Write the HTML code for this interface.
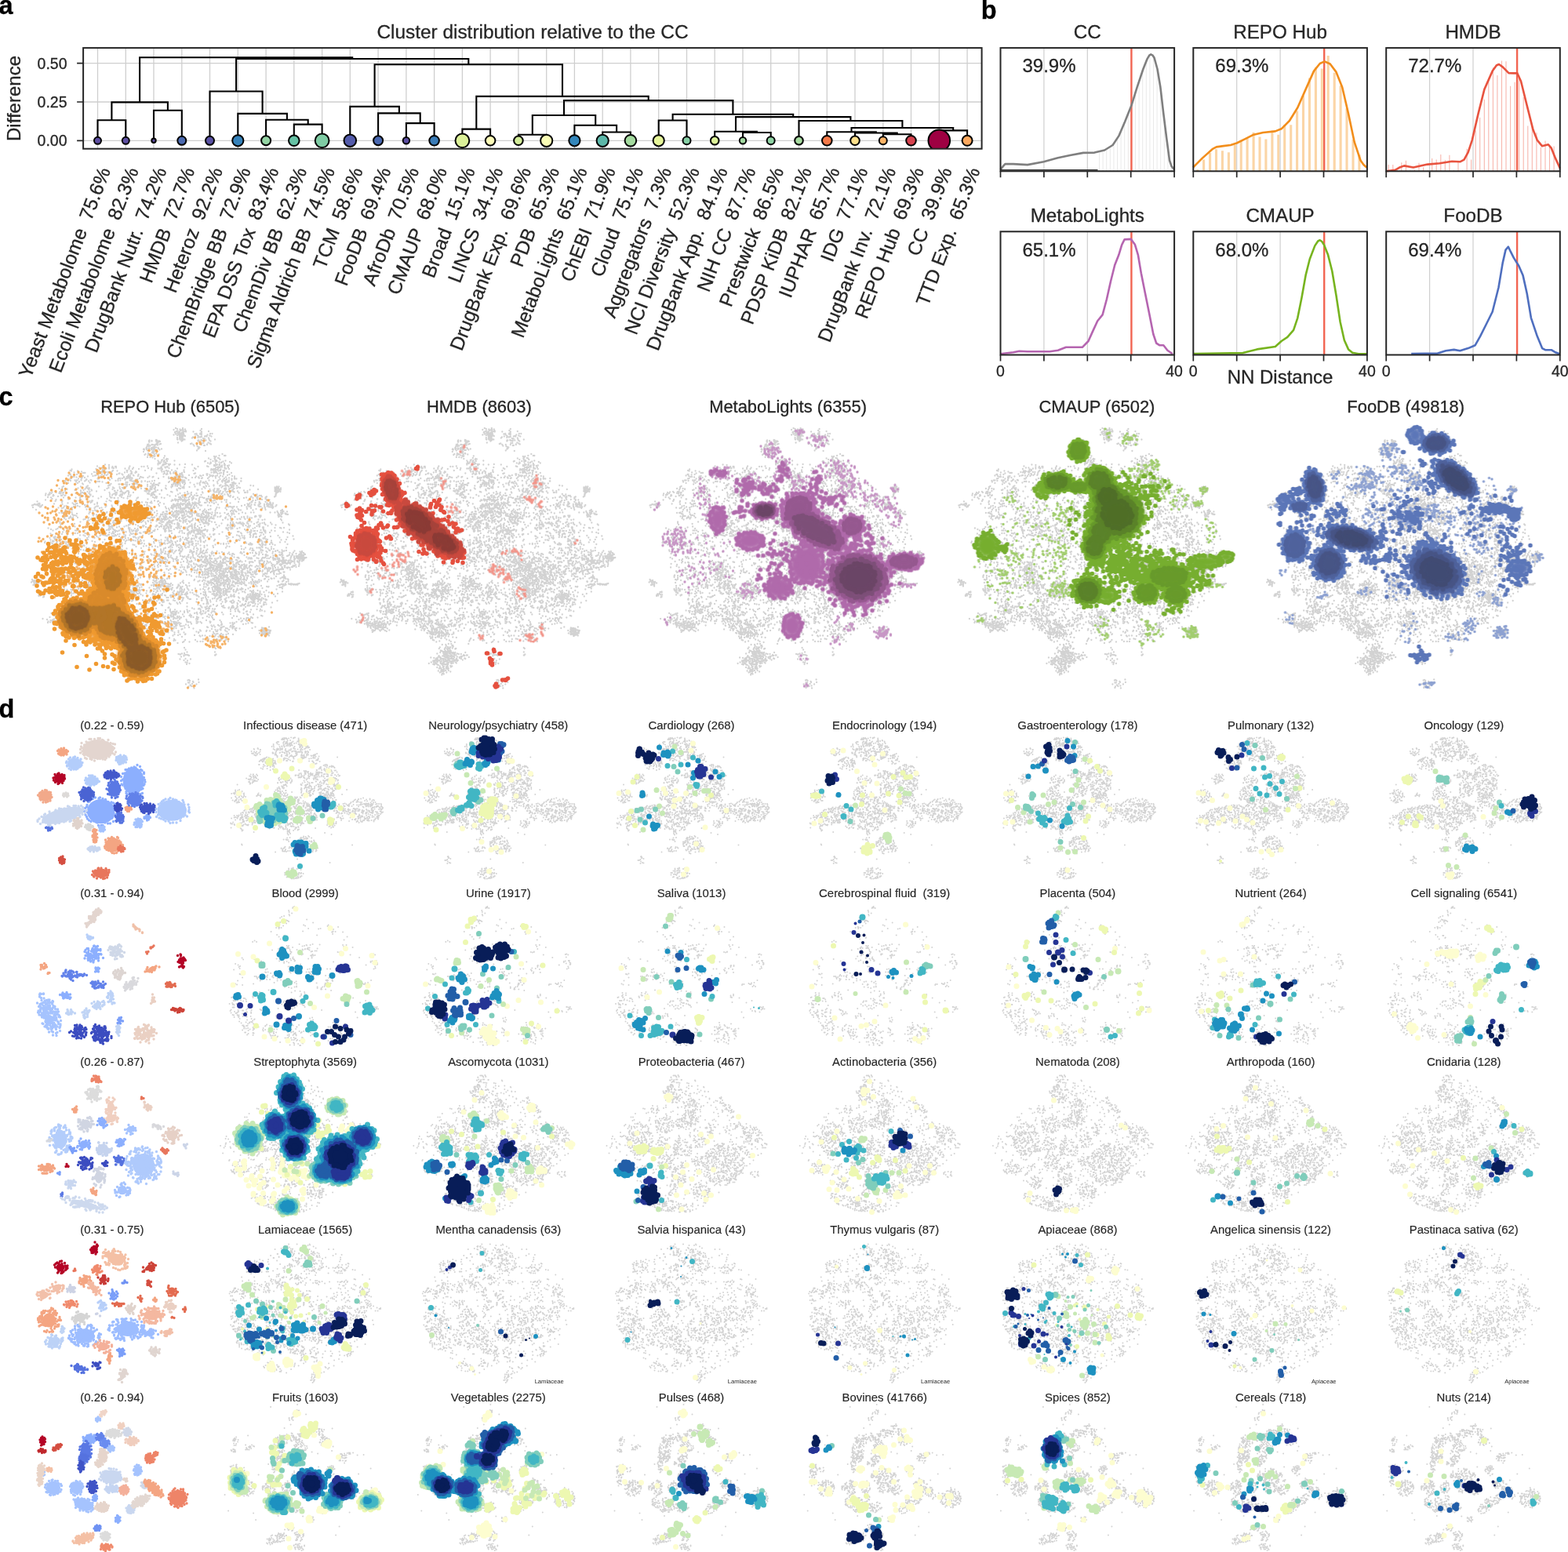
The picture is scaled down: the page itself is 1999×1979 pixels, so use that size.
<!DOCTYPE html>
<html lang="en"><head><meta charset="utf-8"><title>Chemical Checker cluster figure</title>
<style>
html,body{margin:0;padding:0;background:#fff}
body{width:1999px;height:1979px}
svg{display:block}
svg text{font-family:"Liberation Sans", sans-serif}
path{fill:none;stroke-linecap:butt}
.d path{stroke-linecap:round}
</style></head><body>
<svg width="1999" height="1979" viewBox="0 0 1999 1979">
<g id="figure">
<rect width="1999" height="1979" fill="#fff"/>
<g id="panel-a">
<path d="M124.5 61.1V189.7M160.3 61.1V189.7M196 61.1V189.7M231.8 61.1V189.7M267.5 61.1V189.7M303.3 61.1V189.7M339.1 61.1V189.7M374.8 61.1V189.7M410.6 61.1V189.7M446.3 61.1V189.7M482.1 61.1V189.7M517.9 61.1V189.7M553.6 61.1V189.7M589.4 61.1V189.7M625.1 61.1V189.7M660.9 61.1V189.7M696.7 61.1V189.7M732.4 61.1V189.7M768.2 61.1V189.7M803.9 61.1V189.7M839.7 61.1V189.7M875.5 61.1V189.7M911.2 61.1V189.7M947 61.1V189.7M982.7 61.1V189.7M1018.5 61.1V189.7M1054.3 61.1V189.7M1090 61.1V189.7M1125.8 61.1V189.7M1161.5 61.1V189.7M1197.3 61.1V189.7M1233.1 61.1V189.7M106.1 179.3H1251.6M106.1 130H1251.6M106.1 80.7H1251.6" stroke="#cfcfcf" stroke-width="1.3" fill="none"/>
<path d="M124.5 179.3V153.2H160.3V179.3M196 179.3V140.8H231.8V179.3M142.4 153.2V130.4H213.9V140.8M374.8 179.3V158.6H410.6V179.3M339.1 179.3V152.7H392.7V158.6M303.3 179.3V144.9H365.9V152.7M267.5 179.3V116.5H334.6V144.9M517.9 179.3V157.1H553.6V179.3M482.1 179.3V144.4H535.7V157.1M446.3 179.3V135.9H508.9V144.4M589.4 179.3V164.6H625.1V179.3M660.9 179.3V171.8H696.7V179.3M768.2 179.3V168.5H803.9V179.3M732.4 179.3V159.7H786.1V168.5M678.8 171.8V147H759.2V159.7M839.7 179.3V153.5H875.5V179.3M947 179.3V169H982.7V179.3M911.2 179.3V167.7H964.9V169M1125.8 179.3V171.3H1161.5V179.3M1090 179.3V169.5H1143.7V171.3M1054.3 179.3V168.2H1116.8V169.5M1197.3 179.3V166.4H1233.1V179.3M1085.5 168.2V163H1215.2V166.4M1018.5 179.3V154H1150.4V163M938 167.7V149.1H1084.4V154M857.6 153.5V145.7H1011.2V149.1M719 147V128.1H934.4V145.7M607.3 164.6V122.9H826.7V128.1M477.6 135.9V82.3H717V122.9M301.1 116.5V75H597.3V82.3M178.1 130.4V73.2H449.2V75" stroke="#000" stroke-width="2.1" fill="none" stroke-linejoin="miter"/>
<clipPath id="axa"><rect x="106.1" y="61.1" width="1145.5" height="128.6"/></clipPath>
<g clip-path="url(#axa)">
<circle cx="124.5" cy="179.3" r="4.5" fill="#5e4fa2" stroke="#000" stroke-width="2"/>
<circle cx="160.3" cy="179.3" r="4.5" fill="#5e4fa2" stroke="#000" stroke-width="2"/>
<circle cx="196" cy="179.3" r="2.7" fill="#5e4fa2" stroke="#000" stroke-width="2"/>
<circle cx="231.8" cy="179.3" r="5.5" fill="#4b6ab0" stroke="#000" stroke-width="2"/>
<circle cx="267.5" cy="179.3" r="5.5" fill="#5a52a4" stroke="#000" stroke-width="2"/>
<circle cx="303.3" cy="179.3" r="7.1" fill="#3682ba" stroke="#000" stroke-width="2"/>
<circle cx="339.1" cy="179.3" r="6" fill="#94d4a4" stroke="#000" stroke-width="2"/>
<circle cx="374.8" cy="179.3" r="6.8" fill="#66c2a5" stroke="#000" stroke-width="2"/>
<circle cx="410.6" cy="179.3" r="8.9" fill="#7fcca4" stroke="#000" stroke-width="2"/>
<circle cx="446.3" cy="179.3" r="7.8" fill="#545cab" stroke="#000" stroke-width="2"/>
<circle cx="482.1" cy="179.3" r="6" fill="#4968b0" stroke="#000" stroke-width="2"/>
<circle cx="517.9" cy="179.3" r="4.2" fill="#5c4da1" stroke="#000" stroke-width="2"/>
<circle cx="553.6" cy="179.3" r="6.3" fill="#3a7cb8" stroke="#000" stroke-width="2"/>
<circle cx="589.4" cy="179.3" r="8.9" fill="#dcf199" stroke="#000" stroke-width="2"/>
<circle cx="625.1" cy="179.3" r="6.3" fill="#fdfcb8" stroke="#000" stroke-width="2"/>
<circle cx="660.9" cy="179.3" r="5.8" fill="#d3ed9a" stroke="#000" stroke-width="2"/>
<circle cx="696.7" cy="179.3" r="7.6" fill="#fafdb6" stroke="#000" stroke-width="2"/>
<circle cx="732.4" cy="179.3" r="7.1" fill="#3387bc" stroke="#000" stroke-width="2"/>
<circle cx="768.2" cy="179.3" r="7.6" fill="#5cb7a9" stroke="#000" stroke-width="2"/>
<circle cx="803.9" cy="179.3" r="7.3" fill="#a4da9f" stroke="#000" stroke-width="2"/>
<circle cx="839.7" cy="179.3" r="7.1" fill="#e5f499" stroke="#000" stroke-width="2"/>
<circle cx="875.5" cy="179.3" r="5" fill="#86cfa5" stroke="#000" stroke-width="2"/>
<circle cx="911.2" cy="179.3" r="5.3" fill="#ddf299" stroke="#000" stroke-width="2"/>
<circle cx="947" cy="179.3" r="4.2" fill="#a2d9a0" stroke="#000" stroke-width="2"/>
<circle cx="982.7" cy="179.3" r="5" fill="#8fd3a4" stroke="#000" stroke-width="2"/>
<circle cx="1018.5" cy="179.3" r="5.3" fill="#a7dba0" stroke="#000" stroke-width="2"/>
<circle cx="1054.3" cy="179.3" r="6.3" fill="#f57a49" stroke="#000" stroke-width="2"/>
<circle cx="1090" cy="179.3" r="5.8" fill="#fee08b" stroke="#000" stroke-width="2"/>
<circle cx="1125.8" cy="179.3" r="5" fill="#fdb466" stroke="#000" stroke-width="2"/>
<circle cx="1161.5" cy="179.3" r="6.3" fill="#d6424e" stroke="#000" stroke-width="2"/>
<circle cx="1197.3" cy="179.3" r="13.8" fill="#9e0142" stroke="#000" stroke-width="2"/>
<circle cx="1233.1" cy="179.3" r="6.5" fill="#fca85e" stroke="#000" stroke-width="2"/>
</g>
<rect x="106.1" y="61.1" width="1145.5" height="128.6" fill="none" stroke="#262626" stroke-width="2"/>
<text x="85.5" y="186.3" font-size="19.5" text-anchor="end" fill="#262626" stroke-width=".3" stroke="#262626">0.00</text>
<text x="85.5" y="137" font-size="19.5" text-anchor="end" fill="#262626" stroke-width=".3" stroke="#262626">0.25</text>
<text x="85.5" y="87.7" font-size="19.5" text-anchor="end" fill="#262626" stroke-width=".3" stroke="#262626">0.50</text>
<path d="M98.1 179.3H106.1M98.1 130H106.1M98.1 80.7H106.1" stroke="#262626" stroke-width="1.7" fill="none"/>
<text x="679" y="48.7" font-size="24.4" text-anchor="middle" fill="#262626" stroke-width=".3" stroke="#262626">Cluster distribution relative to the CC</text>
<text transform="translate(25.5 125.5) rotate(-90)" font-size="24" text-anchor="middle" fill="#262626" stroke="#262626" stroke-width=".3">Difference</text>
<text transform="translate(123.5 210.5) rotate(-69)" font-size="24.5" text-anchor="end" dy="19" fill="#262626" stroke="#262626" stroke-width=".3">Yeast Metabolome  75.6%</text>
<text transform="translate(159.3 210.5) rotate(-69)" font-size="24.5" text-anchor="end" dy="19" fill="#262626" stroke="#262626" stroke-width=".3">Ecoli Metabolome  82.3%</text>
<text transform="translate(195 210.5) rotate(-69)" font-size="24.5" text-anchor="end" dy="19" fill="#262626" stroke="#262626" stroke-width=".3">DrugBank Nutr.  74.2%</text>
<text transform="translate(230.8 210.5) rotate(-69)" font-size="24.5" text-anchor="end" dy="19" fill="#262626" stroke="#262626" stroke-width=".3">HMDB  72.7%</text>
<text transform="translate(266.5 210.5) rotate(-69)" font-size="24.5" text-anchor="end" dy="19" fill="#262626" stroke="#262626" stroke-width=".3">Heteroz  92.2%</text>
<text transform="translate(302.3 210.5) rotate(-69)" font-size="24.5" text-anchor="end" dy="19" fill="#262626" stroke="#262626" stroke-width=".3">ChemBridge BB  72.9%</text>
<text transform="translate(338.1 210.5) rotate(-69)" font-size="24.5" text-anchor="end" dy="19" fill="#262626" stroke="#262626" stroke-width=".3">EPA DSS Tox  83.4%</text>
<text transform="translate(373.8 210.5) rotate(-69)" font-size="24.5" text-anchor="end" dy="19" fill="#262626" stroke="#262626" stroke-width=".3">ChemDiv BB  62.3%</text>
<text transform="translate(409.6 210.5) rotate(-69)" font-size="24.5" text-anchor="end" dy="19" fill="#262626" stroke="#262626" stroke-width=".3">Sigma Aldrich BB  74.5%</text>
<text transform="translate(445.3 210.5) rotate(-69)" font-size="24.5" text-anchor="end" dy="19" fill="#262626" stroke="#262626" stroke-width=".3">TCM  58.6%</text>
<text transform="translate(481.1 210.5) rotate(-69)" font-size="24.5" text-anchor="end" dy="19" fill="#262626" stroke="#262626" stroke-width=".3">FooDB  69.4%</text>
<text transform="translate(516.9 210.5) rotate(-69)" font-size="24.5" text-anchor="end" dy="19" fill="#262626" stroke="#262626" stroke-width=".3">AfroDb  70.5%</text>
<text transform="translate(552.6 210.5) rotate(-69)" font-size="24.5" text-anchor="end" dy="19" fill="#262626" stroke="#262626" stroke-width=".3">CMAUP  68.0%</text>
<text transform="translate(588.4 210.5) rotate(-69)" font-size="24.5" text-anchor="end" dy="19" fill="#262626" stroke="#262626" stroke-width=".3">Broad  15.1%</text>
<text transform="translate(624.1 210.5) rotate(-69)" font-size="24.5" text-anchor="end" dy="19" fill="#262626" stroke="#262626" stroke-width=".3">LINCS  34.1%</text>
<text transform="translate(659.9 210.5) rotate(-69)" font-size="24.5" text-anchor="end" dy="19" fill="#262626" stroke="#262626" stroke-width=".3">DrugBank Exp.  69.6%</text>
<text transform="translate(695.7 210.5) rotate(-69)" font-size="24.5" text-anchor="end" dy="19" fill="#262626" stroke="#262626" stroke-width=".3">PDB  65.3%</text>
<text transform="translate(731.4 210.5) rotate(-69)" font-size="24.5" text-anchor="end" dy="19" fill="#262626" stroke="#262626" stroke-width=".3">MetaboLights  65.1%</text>
<text transform="translate(767.2 210.5) rotate(-69)" font-size="24.5" text-anchor="end" dy="19" fill="#262626" stroke="#262626" stroke-width=".3">ChEBI  71.9%</text>
<text transform="translate(802.9 210.5) rotate(-69)" font-size="24.5" text-anchor="end" dy="19" fill="#262626" stroke="#262626" stroke-width=".3">Cloud  75.1%</text>
<text transform="translate(838.7 210.5) rotate(-69)" font-size="24.5" text-anchor="end" dy="19" fill="#262626" stroke="#262626" stroke-width=".3">Aggregators  7.3%</text>
<text transform="translate(874.5 210.5) rotate(-69)" font-size="24.5" text-anchor="end" dy="19" fill="#262626" stroke="#262626" stroke-width=".3">NCI Diversity  52.3%</text>
<text transform="translate(910.2 210.5) rotate(-69)" font-size="24.5" text-anchor="end" dy="19" fill="#262626" stroke="#262626" stroke-width=".3">DrugBank App.  84.1%</text>
<text transform="translate(946 210.5) rotate(-69)" font-size="24.5" text-anchor="end" dy="19" fill="#262626" stroke="#262626" stroke-width=".3">NIH CC  87.7%</text>
<text transform="translate(981.7 210.5) rotate(-69)" font-size="24.5" text-anchor="end" dy="19" fill="#262626" stroke="#262626" stroke-width=".3">Prestwick  86.5%</text>
<text transform="translate(1017.5 210.5) rotate(-69)" font-size="24.5" text-anchor="end" dy="19" fill="#262626" stroke="#262626" stroke-width=".3">PDSP KiDB  82.1%</text>
<text transform="translate(1053.3 210.5) rotate(-69)" font-size="24.5" text-anchor="end" dy="19" fill="#262626" stroke="#262626" stroke-width=".3">IUPHAR  65.7%</text>
<text transform="translate(1089 210.5) rotate(-69)" font-size="24.5" text-anchor="end" dy="19" fill="#262626" stroke="#262626" stroke-width=".3">IDG  77.1%</text>
<text transform="translate(1124.8 210.5) rotate(-69)" font-size="24.5" text-anchor="end" dy="19" fill="#262626" stroke="#262626" stroke-width=".3">DrugBank Inv.  72.1%</text>
<text transform="translate(1160.5 210.5) rotate(-69)" font-size="24.5" text-anchor="end" dy="19" fill="#262626" stroke="#262626" stroke-width=".3">REPO Hub  69.3%</text>
<text transform="translate(1196.3 210.5) rotate(-69)" font-size="24.5" text-anchor="end" dy="19" fill="#262626" stroke="#262626" stroke-width=".3">CC  39.9%</text>
<text transform="translate(1232.1 210.5) rotate(-69)" font-size="24.5" text-anchor="end" dy="19" fill="#262626" stroke="#262626" stroke-width=".3">TTD Exp.  65.3%</text>
<text x="-1.5" y="18.3" font-size="32.5" font-weight="bold" fill="#000" stroke-width=".3" stroke="#000">a</text>
</g>
<g id="panel-b">
<path d="M1401.5 218.3V195.1M1406.1 218.3V194M1410.7 218.3V192M1415.3 218.3V189.1M1419.9 218.3V185M1424.5 218.3V178.1M1429.1 218.3V168.9M1433.7 218.3V158.2M1438.3 218.3V146.8M1442.9 218.3V134.9M1447.5 218.3V120.1M1452.1 218.3V105.9M1456.7 218.3V92.1M1461.3 218.3V80.2M1465.9 218.3V72.2M1470.5 218.3V74.1M1475.1 218.3V88.5M1479.7 218.3V116M1484.3 218.3V155.2M1488.9 218.3V190.8M1493.5 218.3V213.8" stroke="#e6e6e6" stroke-width="0.9" fill="none"/>
<path d="M1330.9 61.1V218.3M1386.3 61.1V218.3" stroke="#cfcfcf" stroke-width="1.2" fill="none"/>
<path d="M1442.4 61.1V218.3" stroke="#f26552" stroke-width="2.4" fill="none"/>
<path d="M1275.5 216.1L1278.3 212.7L1281.4 209.1L1291.8 209.1L1309.9 210.1L1330.6 206.3L1348.7 201.3L1364.2 198L1381 194.9L1395.3 194.6L1408.2 191.5L1418.6 185L1426.3 173.4L1434.1 155.3L1442.4 134.6L1449.6 111.3L1457.4 88L1462.6 75.1L1465.2 70.7L1467.2 69.4L1469.6 70.7L1471.6 73.8L1475.5 88L1479.4 111.3L1483.3 144.9L1487.2 176L1491 204.5L1493.6 212.2L1497 216.1" stroke="#7f7f7f" stroke-width="2.6" fill="none" stroke-linejoin="round"/>
<path d="M1275.5 216.8H1399.5" stroke="#333" stroke-width="1.6"/>
<rect x="1275.5" y="61.1" width="221.6" height="157.2" fill="none" stroke="#262626" stroke-width="2"/>
<path d="M1275.5 218.3v8M1330.9 218.3v8M1386.3 218.3v8M1441.7 218.3v8M1497.1 218.3v8" stroke="#262626" stroke-width="1.7" fill="none"/>
<text x="1386.3" y="48.7" font-size="24.2" text-anchor="middle" fill="#262626" stroke-width=".3" stroke="#262626">CC</text>
<text x="1303.5" y="92.4" font-size="24" fill="#262626" stroke-width=".3" stroke="#262626">39.9%</text>
<path d="M1526.7 218.3V216.3M1534.6 218.3V203.4M1542.6 218.3V195.1M1550.5 218.3V190.3M1558.4 218.3V192.3M1566.4 218.3V194.2M1574.3 218.3V184.7M1582.2 218.3V178.7M1590.1 218.3V176.6M1598.1 218.3V168.8M1606 218.3V174.4M1613.9 218.3V177.5M1621.9 218.3V166.5M1629.8 218.3V171.7M1637.7 218.3V158.9M1645.7 218.3V159.3M1653.6 218.3V141.5M1661.5 218.3V121.9M1669.4 218.3V99.4M1677.4 218.3V85.7M1685.3 218.3V87.6M1693.2 218.3V70.9M1701.2 218.3V92.8M1709.1 218.3V109.2M1717 218.3V138.2M1725 218.3V178.1M1732.9 218.3V197.2" stroke="#fbd5a6" stroke-width="3.1" fill="none"/>
<path d="M1576.7 61.1V218.3M1632.1 61.1V218.3" stroke="#cfcfcf" stroke-width="1.2" fill="none"/>
<path d="M1688.2 61.1V218.3" stroke="#f26552" stroke-width="2.4" fill="none"/>
<path d="M1521 213.5L1532.6 201.9L1545.6 190.2L1550.8 187.4L1559.8 186.1L1568.9 185L1576.6 182.5L1587 177.3L1597.3 172.1L1610.3 169L1625.8 167.4L1633.6 164.3L1643.9 154L1654.3 137.2L1664.6 113.9L1675 90.6L1682.7 81L1688.7 78.4L1695.7 81.5L1703.5 91.9L1711.2 111.3L1719 144.9L1726.7 181.2L1734.5 204.5L1738.4 210.1L1742.3 213.5" stroke="#f28e1c" stroke-width="2.6" fill="none" stroke-linejoin="round"/>
<rect x="1521.3" y="61.1" width="221.6" height="157.2" fill="none" stroke="#262626" stroke-width="2"/>
<path d="M1521.3 218.3v8M1576.7 218.3v8M1632.1 218.3v8M1687.5 218.3v8M1742.9 218.3v8" stroke="#262626" stroke-width="1.7" fill="none"/>
<text x="1632.1" y="48.7" font-size="24.2" text-anchor="middle" fill="#262626" stroke-width=".3" stroke="#262626">REPO Hub</text>
<text x="1549.3" y="92.4" font-size="24" fill="#262626" stroke-width=".3" stroke="#262626">69.3%</text>
<path d="M1770.2 218.3V210M1775.8 218.3V210M1781.3 218.3V217.3M1786.8 218.3V207.2M1792.4 218.3V204.7M1797.9 218.3V217.3M1803.5 218.3V216.6M1809 218.3V207.8M1814.6 218.3V213.3M1820.1 218.3V217.3M1825.7 218.3V202M1831.2 218.3V203.6M1836.8 218.3V197.1M1842.3 218.3V204.1M1847.9 218.3V197.8M1853.4 218.3V217.3M1859 218.3V205.8M1864.5 218.3V217.3M1870.1 218.3V189.8M1875.6 218.3V203.6M1881.2 218.3V166.4M1886.7 218.3V149.9M1892.3 218.3V126.7M1897.8 218.3V99.6M1903.4 218.3V86.2M1908.9 218.3V96M1914.5 218.3V77.4M1920 218.3V78.3M1925.6 218.3V109.8M1931.1 218.3V104.8M1936.7 218.3V96.1M1942.2 218.3V123.9M1947.8 218.3V160.6M1953.3 218.3V159.4M1958.9 218.3V169.2M1964.4 218.3V187.8M1970 218.3V179.5M1975.5 218.3V187.9M1981.1 218.3V186.4M1986.6 218.3V217.3" stroke="#f7b6ad" stroke-width="1.1" fill="none"/>
<path d="M1822.6 61.1V218.3M1878 61.1V218.3" stroke="#cfcfcf" stroke-width="1.2" fill="none"/>
<path d="M1934.1 61.1V218.3" stroke="#f26552" stroke-width="2.4" fill="none"/>
<path d="M1767.1 218.2L1778.5 216.9L1783.7 213.8L1790.1 211.4L1801.8 213.5L1819.9 209.6L1835.4 208.3L1851 205.7L1861.3 206.3L1866.5 203.7L1871.7 194.1L1876.8 178.6L1884.6 144.9L1892.4 113.9L1902.7 90.6L1907.9 83.3L1911 82L1915.7 85.4L1923.4 93.2L1929.9 93.4L1934.3 93.2L1939 103.5L1946.7 134.6L1954.5 165.6L1959.7 178.6L1966.1 186.3L1973.9 184.3L1977.8 188.9L1983 201.9L1988.9 214.8" stroke="#e8533f" stroke-width="2.6" fill="none" stroke-linejoin="round"/>
<rect x="1767.2" y="61.1" width="221.6" height="157.2" fill="none" stroke="#262626" stroke-width="2"/>
<path d="M1767.2 218.3v8M1822.6 218.3v8M1878 218.3v8M1933.4 218.3v8M1988.8 218.3v8" stroke="#262626" stroke-width="1.7" fill="none"/>
<text x="1878" y="48.7" font-size="24.2" text-anchor="middle" fill="#262626" stroke-width=".3" stroke="#262626">HMDB</text>
<text x="1795.2" y="92.4" font-size="24" fill="#262626" stroke-width=".3" stroke="#262626">72.7%</text>
<path d="M1330.9 295.3V452.5M1386.3 295.3V452.5" stroke="#cfcfcf" stroke-width="1.2" fill="none"/>
<path d="M1442.4 295.3V452.5" stroke="#f26552" stroke-width="2.4" fill="none"/>
<path d="M1275.5 451.3L1291.8 449.3L1299.5 447.7L1309.9 448.2L1338.3 448.2L1348.7 446.7L1359 442.8L1379.8 442.8L1387.5 435L1392.7 423.4L1399.2 409.2L1405.6 401.4L1410.8 382L1416 358.7L1421.2 338L1426.3 325.1L1430.2 312.1L1433.6 305.4L1441.9 304.9L1447 312.1L1450.9 325.1L1454.8 348.3L1460 374.2L1465.2 400.1L1470.3 426L1474.2 437.6L1478.1 440.2L1483.3 440.2L1488.4 446.7L1494.9 451.3" stroke="#b565b0" stroke-width="2.6" fill="none" stroke-linejoin="round"/>
<rect x="1275.5" y="295.3" width="221.6" height="157.2" fill="none" stroke="#262626" stroke-width="2"/>
<path d="M1275.5 452.5v8M1330.9 452.5v8M1386.3 452.5v8M1441.7 452.5v8M1497.1 452.5v8" stroke="#262626" stroke-width="1.7" fill="none"/>
<text x="1386.3" y="282.9" font-size="24.2" text-anchor="middle" fill="#262626" stroke-width=".3" stroke="#262626">MetaboLights</text>
<text x="1303.5" y="326.6" font-size="24" fill="#262626" stroke-width=".3" stroke="#262626">65.1%</text>
<text x="1275.5" y="479.5" font-size="19.5" text-anchor="middle" fill="#262626" stroke-width=".3" stroke="#262626">0</text>
<text x="1497.1" y="479.5" font-size="19.5" text-anchor="middle" fill="#262626" stroke-width=".3" stroke="#262626">40</text>
<path d="M1576.7 295.3V452.5M1632.1 295.3V452.5" stroke="#cfcfcf" stroke-width="1.2" fill="none"/>
<path d="M1688.2 295.3V452.5" stroke="#f26552" stroke-width="2.4" fill="none"/>
<path d="M1521 451.1L1584.4 450.1L1602.5 445.4L1625.8 442L1633.6 435L1641.3 429.9L1649.1 420.8L1654.3 405.3L1659.5 379.4L1664.6 350.9L1669.8 330.2L1676.3 313.4L1680.2 307.5L1682.7 306.2L1685.3 308L1687.9 312.1L1693.1 325.1L1698.3 345.8L1703.5 376.8L1708.6 410.5L1713.8 433.7L1719 445.4L1724.2 449.8L1731.9 451.3L1742.3 451.3" stroke="#77b41f" stroke-width="2.6" fill="none" stroke-linejoin="round"/>
<rect x="1521.3" y="295.3" width="221.6" height="157.2" fill="none" stroke="#262626" stroke-width="2"/>
<path d="M1521.3 452.5v8M1576.7 452.5v8M1632.1 452.5v8M1687.5 452.5v8M1742.9 452.5v8" stroke="#262626" stroke-width="1.7" fill="none"/>
<text x="1632.1" y="282.9" font-size="24.2" text-anchor="middle" fill="#262626" stroke-width=".3" stroke="#262626">CMAUP</text>
<text x="1549.3" y="326.6" font-size="24" fill="#262626" stroke-width=".3" stroke="#262626">68.0%</text>
<text x="1521.3" y="479.5" font-size="19.5" text-anchor="middle" fill="#262626" stroke-width=".3" stroke="#262626">0</text>
<text x="1742.9" y="479.5" font-size="19.5" text-anchor="middle" fill="#262626" stroke-width=".3" stroke="#262626">40</text>
<path d="M1822.6 295.3V452.5M1878 295.3V452.5" stroke="#cfcfcf" stroke-width="1.2" fill="none"/>
<path d="M1934.1 295.3V452.5" stroke="#f26552" stroke-width="2.4" fill="none"/>
<path d="M1799.2 451.1L1832.9 450.6L1843.2 447.2L1853.6 445.9L1861.3 447.2L1871.7 444.1L1880.7 440.2L1887.2 428.6L1895 413L1902.7 397.5L1910.5 366.5L1915.7 335.4L1919.5 318.6L1922.9 314.7L1926 321.2L1929.9 328.9L1936.4 339.3L1941.5 350.9L1946.7 374.2L1951.9 405.3L1959.7 428.6L1966.1 444.1L1970 446.2L1977.8 446.2L1983 449.3L1988.1 451.3" stroke="#4f6fbf" stroke-width="2.6" fill="none" stroke-linejoin="round"/>
<rect x="1767.2" y="295.3" width="221.6" height="157.2" fill="none" stroke="#262626" stroke-width="2"/>
<path d="M1767.2 452.5v8M1822.6 452.5v8M1878 452.5v8M1933.4 452.5v8M1988.8 452.5v8" stroke="#262626" stroke-width="1.7" fill="none"/>
<text x="1878" y="282.9" font-size="24.2" text-anchor="middle" fill="#262626" stroke-width=".3" stroke="#262626">FooDB</text>
<text x="1795.2" y="326.6" font-size="24" fill="#262626" stroke-width=".3" stroke="#262626">69.4%</text>
<text x="1767.2" y="479.5" font-size="19.5" text-anchor="middle" fill="#262626" stroke-width=".3" stroke="#262626">0</text>
<text x="1988.8" y="479.5" font-size="19.5" text-anchor="middle" fill="#262626" stroke-width=".3" stroke="#262626">40</text>
<text x="1632" y="488.5" font-size="24" text-anchor="middle" fill="#262626" stroke-width=".3" stroke="#262626">NN Distance</text>
<text x="1250.8" y="24" font-size="32.5" font-weight="bold" fill="#000" stroke-width=".3" stroke="#000">b</text>
</g>
<g id="panel-c" class="d" transform="scale(.5)">
<defs><filter id="bl" x="-20%" y="-20%" width="140%" height="140%"><feGaussianBlur stdDeviation="4"/></filter><g id="bgc"><path d="M107 46h0m-5 0h0m-4-6h0m-18-6h0m0 7h0m0 4h0m-3 2h0m0-2h0m0-7h0m-1 9h0m-9-1h0m-4 1h0m-4-6h0m-19-2h0m0 2h0m-2-1h0m0-5h0m-4 10h0m0-4h0m-1-2h0m0-1h0m0 4h0m0-6h0m-1-4h0m0 2h0m-1 13h0m-1-4h0m0 3h0m-1-9h0m-2 8h0m-1-8h0m0 1h0m-1 7h0m0-10h0m0 1h0m-1 5h0m0 6h0m-1 0h0m-2-4h0m0 2h0m-2-6h0m-1-5h0m0 11h0m-2-5h0m-2 7h0m0-15h0m-1 11h0m-1-1h0m0 1h0m-3-7h0m-63 28h0m0 3h0m1-4h0m0 4h0m6-3h0m0 1h0m11-3h0m0 3h0m1 6h0m1-8h0m1 4h0m1 3h0m2-5h0m1 2h0m2-2h0m1 1h0m35-17h0m9 11h0m0-10h0m0 6h0m1 5h0m1 8h0m2-20h0m2 0h0m0 10h0m0-2h0m0 2h0m0-6h0m1 2h0m0 2h0m0 4h0m1-11h0m0 0h0m0-2h0m1 1h0m0 3h0m0 9h0m2-8h0m0-5h0m0 8h0m0 2h0m0 7h0m1-17h0m0 13h0m1-12h0m0 7h0m1 7h0m1-10h0m0 6h0m0 2h0m1-11h0m1-1h0m2 12h0m1-9h0m17 19h0m1-14h0m2-2h0m6-2h0m3-5h0m3 3h0m1 12h0m0-7h0m0 9h0m0-13h0m1 1h0m1 10h0m3-8h0m2-1h0m1 9h0m0-1h0m1-13h0m0 5h0m1 16h0m1-6h0m2-6h0m1 12h0m0-11h0m0 6h0m1-1h0m2-11h0m0 6h0m3 4h0m0-11h0m2 1h0m2-4h0m2 20h0m1-12h0m1 3h0m1 3h0m1 8h0m0-20h0m2 14h0m2-12h0m9 8h0m-10 12h0m-10 1h0m0-1h0m-4 17h0m-2-14h0m-2 0h0m-6-2h0m-5 7h0m-2 3h0m-1-4h0m-1 5h0m-2-7h0m-1-4h0m0 15h0m-7-12h0m-2-3h0m-7-2h0m-74 13h0m-2-13h0m-3 1h0m0 14h0m-3-3h0m0 0h0m-1-2h0m-1-7h0m-2 13h0m-1-15h0m-1 8h0m-1-7h0m0 14h0m-2-12h0m-1 8h0m0-4h0m0 6h0m-1 6h0m0-7h0m0-2h0m0 2h0m0-10h0m-1 20h0m-1-15h0m0 15h0m0-6h0m0 5h0m0-7h0m-1-6h0m0 10h0m-1-7h0m0-10h0m-1 21h0m0-2h0m-1-19h0m0 8h0m-1 3h0m0-2h0m0 3h0m0 1h0m-3-10h0m-1 0h0m-1 7h0m-1-1h0m0 3h0m-1-8h0m0-5h0m-1 2h0m-1 0h0m-1 14h0m0-15h0m-1 10h0m0-6h0m0 6h0m-1-3h0m0 3h0m0 2h0m-1-2h0m0-2h0m-5 5h0m-1-2h0m-1 1h0m0 6h0m3 8h0m2-2h0m5 8h0m1-5h0m1-5h0m2 3h0m1 0h0m2 7h0m0-8h0m3 3h0m3 6h0m2-5h0m2 2h0m1-5h0m1 11h0m0-7h0m3-7h0m1 1h0m4 18h0m2-16h0m0 19h0m6 0h0m1-4h0m2-1h0m3 5h0m1-10h0m1 6h0m1 5h0m0-16h0m2 16h0m2-7h0m1-2h0m1 6h0m2-5h0m17 4h0m77 2h0m2-1h0m8-7h0m5 10h0m0-7h0m6 4h0m3-12h0m1 5h0m1-1h0m0 4h0m1 2h0m0-8h0m0 12h0m1-1h0m1-13h0m1 11h0m0 1h0m0-2h0m1 2h0m3-8h0m3-6h0m0 7h0m0 10h0m2-7h0m4 7h0m0 0h0m2-21h0m2 19h0m3-15h0m3 13h0m0-13h0m11 16h0m4 3h0m-6 6h0m0 9h0m-2-4h0m-2-4h0m-3 7h0m-3 0h0m0-9h0m-1 8h0m0-3h0m0-6h0m-1-3h0m0 4h0m0 14h0m-1 3h0m-2-3h0m-3-9h0m0-4h0m0 0h0m-1 1h0m-1-8h0m-1 17h0m-1 1h0m0 2h0m0-9h0m-1 9h0m-1-14h0m0-2h0m0 8h0m-1-6h0m-2 7h0m0 8h0m0-10h0m-1 5h0m-1-4h0m-1 6h0m0-13h0m0 7h0m-2-6h0m-1 17h0m-1-10h0m0-10h0m0 15h0m-1-2h0m0-8h0m0 12h0m0 3h0m-1 0h0m-2-17h0m0 2h0m-1 8h0m0 7h0m0-7h0m0 2h0m-1 1h0m-2-1h0m-2 0h0m-1-2h0m0 2h0m-1 1h0m0-18h0m-3 2h0m-4 7h0m-1-9h0m-2 8h0m-23 1h0m-6 6h0m-3-2h0m-3 6h0m-3-15h0m-18-1h0m-1 8h0m-2 7h0m0 4h0m-11-18h0m-6 10h0m-2 8h0m-3-2h0m-2-16h0m-7 14h0m-4-15h0m-3 3h0m0 7h0m-1-10h0m-1 17h0m0 1h0m-2-11h0m0 11h0m-1-12h0m0 1h0m-1-9h0m-1 18h0m-1-17h0m-1 10h0m0-10h0m-1 8h0m0 1h0m0-8h0m0-4h0m-2 22h0m-1-17h0m0 18h0m-1-19h0m-1 0h0m0 3h0m-2 10h0m0-10h0m0 10h0m-1 6h0m-1-10h0m-1-2h0m0 8h0m-1-5h0m-1-13h0m-2 14h0m0-13h0m-4 3h0m0 10h0m0-13h0m-16 12h0m-1 4h0m-8-4h0m-2-5h0m-6 11h0m-3-10h0m-6 0h0m-7 6h0m-7 7h0m-1 0h0m-6-10h0m-2 3h0m-4 5h0m-1 0h0m-2-12h0m-2 4h0m0 3h0m-4 4h0m-2 0h0m-4-5h0m-20 6h0m-3-11h0m0 3h0m-2-3h0m-4 4h0m-1 0h0m-1 6h0m-1-9h0m0-1h0m-1 3h0m0 9h0m-8-11h0m0 4h0m0-9h0m-7 9h0m-3-10h0m-1 15h0m0-2h0m-4-1h0m0 5h0m-1-4h0m-1 4h0m-1-9h0m-2 10h0m-5-1h0m0-9h0m-1 9h0m-1-1h0m-3 2h0m0-14h0m-1 12h0m0 1h0m-2-6h0m-37 7h0m-10-2h0m-15-4h0m-1 4h0m-3-1h0m-13 26h0m5-1h0m3-12h0m0 12h0m4-15h0m1 11h0m1 5h0m0-16h0m1 4h0m1 6h0m3-4h0m3-5h0m1-6h0m0 11h0m2 9h0m4 0h0m0-8h0m1-7h0m1 15h0m3-18h0m0 14h0m7-3h0m0 5h0m0 2h0m1-10h0m1 4h0m2-4h0m1-9h0m0 8h0m3-8h0m1 12h0m0 9h0m1-21h0m2 19h0m1-2h0m1 0h0m3-8h0m2 12h0m5-3h0m2 1h0m1-16h0m3 5h0m3-10h0m2 9h0m3-1h0m0-7h0m4 16h0m1-14h0m1 6h0m0-9h0m1 17h0m2-3h0m3-4h0m3-4h0m1-5h0m3 9h0m2-6h0m1 3h0m0-2h0m4-5h0m1 8h0m3-3h0m1-5h0m3 19h0m1 1h0m2-12h0m1-3h0m1-4h0m1 15h0m10 6h0m3-16h0m3 12h0m0 4h0m2-18h0m0 0h0m0 12h0m2-13h0m2 13h0m0 5h0m4-16h0m1 11h0m1-9h0m3 5h0m0 2h0m2-13h0m1 19h0m1-3h0m3-1h0m0-4h0m1-12h0m0 13h0m0 3h0m2-1h0m0-5h0m1 4h0m1-7h0m1 3h0m1 6h0m1 5h0m0-7h0m1-4h0m1 4h0m0-9h0m1 14h0m0 3h0m0 0h0m1-20h0m1 2h0m0-4h0m1 15h0m0 8h0m0-6h0m3-9h0m1 15h0m0-14h0m4-7h0m1 21h0m1 0h0m0-4h0m1-19h0m3 19h0m1-9h0m1-4h0m0 1h0m3 9h0m0 0h0m2-4h0m3 1h0m0 10h0m4-9h0m5 9h0m7-9h0m0 0h0m4-3h0m7 12h0m1-10h0m2-1h0m3 10h0m5-19h0m5 13h0m13-11h0m0 7h0m3-9h0m4 3h0m2-3h0m1 2h0m3 8h0m0 3h0m2 0h0m2-13h0m0-3h0m1 15h0m0-11h0m1 11h0m1 5h0m0-3h0m0-2h0m1 6h0m2-7h0m2-11h0m1-3h0m1 21h0m1-9h0m1 2h0m1 9h0m1-11h0m0-1h0m2-8h0m0-1h0m1 9h0m1-1h0m0-2h0m1 6h0m0-6h0m3 7h0m0-4h0m1 0h0m0 3h0m1-5h0m0-3h0m1-2h0m0 18h0m0-16h0m0 1h0m0 4h0m1 6h0m1 4h0m0-15h0m1 5h0m0-7h0m1 8h0m0-7h0m1 0h0m0-3h0m0 1h0m0 17h0m1-7h0m1-5h0m1 4h0m0 1h0m1 8h0m2-21h0m0 21h0m1 1h0m1-8h0m1 1h0m1 0h0m1 1h0m0 0h0m6 4h0m1-12h0m8 6h0m5-10h0m3-1h0m0 11h0m2-3h0m6 2h0m1 2h0m1 0h0m2-6h0m2 14h0m1-13h0m1 6h0m2-1h0m2-7h0m9-3h0m1 3h0m1-3h0m1 11h0m3-3h0m0 8h0m2-14h0m1 3h0m3-9h0m1 8h0m1 1h0m1 1h0m2-2h0m0 13h0m1-20h0m3-1h0m0 0h0m1 10h0m1-1h0m0 5h0m2-14h0m2 8h0m1-5h0m2 17h0m2-8h0m1-10h0m1 15h0m1-9h0m2-7h0m2 21h0m1-1h0m1-11h0m1 8h0m1-13h0m0-4h0m0 2h0m2 12h0m0 6h0m2 1h0m2-10h0m0 7h0m2-2h0m1-18h0m1 0h0m0 8h0m1 15h0m3-8h0m0 6h0m1-15h0m5-4h0m1 18h0m0-3h0m1-7h0m6 1h0m0 4h0m0 2h0m1 0h0m4 0h0m11 6h0m1 0h0m0-7h0m101 29h0m0-4h0m-2 4h0m-2-1h0m0 2h0m-1-3h0m0-6h0m0 10h0m0-2h0m-1-3h0m0-3h0m-3 0h0m0 4h0m-1-6h0m-1 3h0m0 5h0m0-3h0m0 4h0m0-5h0m-1-2h0m-1 7h0m0 0h0m0-1h0m-1-4h0m0 4h0m-1-6h0m0 4h0m-43 1h0m-12-9h0m-7-1h0m-2 11h0m-15 2h0m-10-7h0m-2-11h0m-2 10h0m-4 2h0m0-6h0m-3-6h0m-2 1h0m-2-3h0m0 15h0m-1-13h0m0-3h0m0 9h0m-1 1h0m-1 3h0m0-6h0m0 12h0m-1-15h0m-1 3h0m0 6h0m0-12h0m-1 20h0m0-13h0m-1 2h0m0 2h0m-2 3h0m0-9h0m-1 1h0m-2 9h0m-1-18h0m0 20h0m-1-7h0m0-12h0m-1 0h0m-1 0h0m-1 0h0m0 9h0m-2-8h0m0 8h0m-2 1h0m0-4h0m0 12h0m0 1h0m0-3h0m-1-16h0m-1 4h0m0 18h0m-1-5h0m0-7h0m-1 8h0m-4-7h0m-1-11h0m-2 14h0m-2-6h0m-3 2h0m-2 8h0m-1 4h0m-2-3h0m0-15h0m-1 14h0m0-18h0m-7 17h0m-1 4h0m-1-11h0m0-2h0m-1 13h0m-9-2h0m-2-8h0m-3-5h0m-2-3h0m-2 8h0m-1-12h0m0 11h0m-2 6h0m0-12h0m-2-2h0m-1 0h0m0 11h0m-1 0h0m-1-12h0m-1 1h0m-2 16h0m-4-17h0m-1 7h0m-1-3h0m0-2h0m-4 17h0m-2-16h0m0 16h0m-6-8h0m-2-5h0m-10-5h0m-2 11h0m-11-9h0m-1-3h0m-1 6h0m-1 5h0m0-12h0m0 13h0m0 3h0m-2-3h0m-1-14h0m0 15h0m0-11h0m-1 12h0m0-15h0m-1 0h0m-3 11h0m-1 6h0m-1 0h0m0-9h0m0-3h0m0-4h0m-1 2h0m0 0h0m-2 13h0m-2-9h0m0-4h0m-1-1h0m-1 20h0m0-11h0m-1 8h0m0 2h0m-1-16h0m0 1h0m-1-6h0m0 4h0m-1 3h0m0-7h0m-1 10h0m-2-6h0m-1-2h0m-1 1h0m-1 3h0m-2 5h0m0-1h0m-2-3h0m-1 5h0m0 2h0m-5-15h0m-2 2h0m-6 17h0m-1-8h0m-1 6h0m-10 6h0m0-1h0m-5-18h0m-2 1h0m-1 5h0m-2 12h0m-1-14h0m-3 0h0m-1 15h0m-1-9h0m0 2h0m-1-7h0m0 11h0m-2-2h0m0-14h0m-1 1h0m-1 6h0m-1-2h0m-1-1h0m0 4h0m0 2h0m-1-3h0m-1 5h0m0 2h0m0 0h0m0 2h0m-1 0h0m-1-15h0m-1 15h0m0-7h0m-1 7h0m0-7h0m0 5h0m-2-18h0m0 23h0m-4-2h0m-1-9h0m0-4h0m0-7h0m-3 22h0m-3-5h0m-9-17h0m-1 17h0m0-9h0m-1 4h0m-2-3h0m-4 2h0m-1 3h0m-1-8h0m-2-4h0m0 2h0m-2 0h0m0 11h0m0-16h0m-2 1h0m-2 6h0m-1 3h0m0-5h0m-1-5h0m0 18h0m-2-9h0m-1 4h0m-1-7h0m-7 2h0m-5-6h0m-1 6h0m0-1h0m0 3h0m-1 2h0m-2-10h0m0 11h0m-1-6h0m-4 8h0m-1-8h0m0 1h0m0 10h0m-3-2h0m-2-9h0m-1 15h0m-3-4h0m-1-11h0m0 7h0m-2-7h0m-3 16h0m-9-6h0m-3-2h0m-1 5h0m-4-14h0m-3 4h0m-1-2h0m-2 8h0m-1-5h0m-3 7h0m-2-14h0m-4 18h0m-6-21h0m-7-1h0m-1 0h0m-1 13h0m-3-13h0m-5 3h0m-10 20h0m-1-2h0m-4-18h0m-1 14h0m-1 4h0m-1-3h0m-1 1h0m-1-8h0m0 6h0m-3-4h0m-1 2h0m0 1h0m-3 3h0m-4 3h0m-1-15h0m-2-2h0m-4 8h0m0 10h0m-4-22h0m0-1h0m-3 17h0m-1-13h0m-4-3h0m0 20h0m-1-14h0m-2 15h0m-17-18h0m-3 15h0m0 1h0m-4-19h0m-1 17h0m-4-6h0m-3 2h0m0 3h0m-2 4h0m-6-3h0m-35 29h0m0-12h0m1-4h0m5 9h0m1-5h0m0-1h0m2-2h0m1 1h0m1 0h0m0-5h0m3 13h0m0 0h0m1-11h0m2-3h0m0 17h0m2-7h0m1-3h0m1 2h0m4-10h0m2 20h0m0-18h0m5 10h0m3-8h0m1-3h0m1-1h0m2 5h0m0-2h0m1-3h0m0 10h0m2 0h0m2-7h0m1 4h0m1 8h0m0-13h0m3 8h0m1-12h0m1 11h0m7 10h0m1 0h0m18-15h0m0 11h0m11 1h0m0 2h0m1-5h0m1-10h0m0-5h0m0 11h0m0-4h0m0 15h0m1-8h0m3-10h0m2 9h0m1-7h0m2-2h0m3 2h0m1 11h0m2-7h0m0 12h0m2-20h0m2 13h0m1 1h0m1-10h0m1 9h0m1-13h0m0 7h0m2 2h0m0-2h0m6 5h0m9-13h0m5 18h0m7-4h0m15 5h0m6-16h0m1 4h0m0 5h0m2 4h0m3 0h0m1-6h0m3-3h0m2 10h0m1 0h0m0-18h0m1 0h0m0 6h0m1 3h0m1 2h0m1-7h0m1 5h0m1-4h0m3 13h0m4-6h0m1 1h0m1-4h0m0-7h0m1 9h0m2 5h0m1-5h0m0-9h0m0 6h0m1 2h0m1-5h0m2 0h0m0 13h0m2-11h0m0-1h0m3-2h0m3-3h0m2 18h0m1-5h0m0-14h0m2 1h0m0 4h0m0 4h0m1-5h0m2 10h0m2-3h0m7-7h0m9 15h0m3-2h0m17-17h0m4 2h0m3 5h0m1 14h0m1-21h0m1 7h0m0-2h0m0 1h0m1 2h0m2-7h0m3 8h0m0 3h0m1-5h0m2 4h0m0-2h0m0-4h0m2 11h0m1-12h0m0 4h0m1-4h0m1-2h0m0 8h0m1 0h0m0 8h0m3-16h0m0 12h0m1 3h0m1 1h0m1-3h0m7-7h0m5 9h0m7 1h0m8-8h0m6 3h0m3-11h0m3 21h0m0-20h0m7 20h0m0-2h0m2-8h0m1 9h0m4 1h0m1-14h0m2 7h0m0 6h0m2-1h0m1-15h0m1 12h0m0-2h0m1 7h0m0-2h0m0-2h0m1 1h0m1 1h0m1-9h0m2 4h0m0 7h0m1-12h0m3 10h0m1-6h0m0-10h0m0 12h0m0-1h0m1-3h0m1 10h0m2-6h0m2-8h0m1-1h0m0-6h0m1 5h0m1 16h0m1-16h0m0 10h0m1 5h0m2-8h0m3-4h0m0-4h0m1 4h0m0-6h0m0 0h0m1 14h0m1 5h0m1-2h0m1-7h0m1 2h0m1 3h0m2-8h0m4 10h0m1-15h0m0 6h0m3 0h0m4 7h0m0 4h0m2-7h0m3-6h0m2 6h0m1-13h0m1 2h0m2 13h0m2 0h0m5 5h0m0-1h0m1-2h0m0 1h0m1 2h0m2-3h0m2-5h0m0-1h0m2 7h0m3-21h0m0 19h0m1 2h0m0-3h0m0-3h0m3 2h0m0-6h0m1-1h0m1-1h0m1 9h0m0-8h0m1-8h0m0 6h0m3-5h0m2 15h0m0-3h0m2-12h0m0 16h0m1-5h0m0-14h0m1 17h0m0-5h0m2 8h0m1-16h0m1 4h0m2-6h0m0 2h0m0 17h0m2-21h0m2 8h0m3-2h0m0 8h0m1-2h0m1-10h0m4 7h0m0 14h0m4-20h0m1 20h0m2-15h0m0-6h0m1 7h0m1 3h0m0-2h0m3 4h0m1-8h0m1-3h0m0 12h0m1-14h0m0 11h0m5-11h0m1 15h0m1-1h0m1-13h0m1 1h0m3 18h0m6-4h0m0-16h0m3 4h0m1 16h0m12-3h0m2-14h0m2 0h0m2 13h0m3-17h0m0 4h0m8 12h0m2-2h0m0 1h0m4 3h0m1-10h0m3 4h0m3 1h0m3-4h0m0 9h0m0-1h0m2 0h0m0-3h0m0 8h0m5-10h0m4 0h0m0 1h0m2 9h0m0-7h0m9 5h0m0-3h0m1-1h0m2 6h0m0-7h0m7 8h0m13-8h0m1-14h0m0-1h0m2 2h0m0 6h0m0 5h0m0-2h0m0-3h0m0 1h0m1-3h0m0 1h0m0 1h0m1-3h0m0 0h0m0-2h0m1 1h0m1-2h0m0 2h0m1-4h0m2 0h0m0 2h0m1-2h0m4 2h0m-10 34h0m-2 3h0m-6 2h0m-1-9h0m0-1h0m-1 13h0m0-8h0m-1 4h0m-1 1h0m0-5h0m-2-2h0m-1 2h0m0 5h0m0-10h0m0 0h0m-1-2h0m-1 0h0m0 3h0m-1 2h0m-1 7h0m0-6h0m-1 5h0m-1-3h0m-1-4h0m0 6h0m-1-4h0m0 2h0m-1-6h0m0 8h0m-1-15h0m0 10h0m-3-6h0m-1 16h0m-1-3h0m-1-7h0m0 4h0m-5 6h0m-4-4h0m-1-8h0m-2 3h0m0-6h0m-1-1h0m0 12h0m0-8h0m-2 6h0m0-2h0m-6 10h0m-1-22h0m-1 6h0m-1 6h0m-1-1h0m-4-11h0m-2 3h0m-1 2h0m-1-1h0m0 7h0m-1 9h0m0-1h0m-1-4h0m-2-8h0m-1 8h0m-1 1h0m0-6h0m-2-10h0m0 12h0m-1 1h0m-1-4h0m0 0h0m-1 13h0m0-1h0m-1-4h0m-5-5h0m-8 2h0m-8-10h0m-1 18h0m-3-5h0m-7-1h0m-3 1h0m-1 4h0m0-3h0m-3-1h0m-3-1h0m0-9h0m-2 9h0m-3 1h0m-2-7h0m-1 4h0m-2 2h0m0-12h0m0 1h0m-2 15h0m-10-16h0m-6 15h0m-3-8h0m-3 7h0m-2-13h0m0 17h0m-3-22h0m-2 8h0m-1-1h0m-1-6h0m-4 4h0m-1-4h0m-2 22h0m0-1h0m0-8h0m0 0h0m0 8h0m-3-16h0m-4 7h0m-1-10h0m-4 3h0m-3 17h0m0-17h0m-8 7h0m-3 0h0m-1-8h0m-2 6h0m-1-10h0m0 1h0m0 4h0m-2 13h0m0-11h0m-4-1h0m0 6h0m0 2h0m-3-8h0m0 3h0m-1-5h0m0 3h0m-1 12h0m0-8h0m-1 8h0m-1-2h0m0-2h0m0 3h0m-1-11h0m0 11h0m-1-11h0m-1 1h0m0-3h0m-1 16h0m-1-9h0m0 10h0m-2-8h0m0 2h0m-1-4h0m-1 7h0m0-9h0m-1-3h0m0 14h0m-2-10h0m0-3h0m0-5h0m0 4h0m-1 13h0m0-1h0m0-2h0m0 0h0m-2 0h0m0-8h0m0 3h0m0-5h0m-1 0h0m0 0h0m0 4h0m-1-1h0m0 2h0m0 3h0m0-3h0m0-13h0m-1 1h0m-1 18h0m-1-8h0m0 6h0m0-14h0m0 9h0m-1 3h0m0-10h0m0-2h0m-1 17h0m-1-19h0m-1 22h0m0-3h0m0-11h0m-1 11h0m-1-11h0m0-8h0m-1 8h0m-1-8h0m0 1h0m0 10h0m0-1h0m0 12h0m-1-13h0m0 11h0m-1-11h0m-1 11h0m-2 2h0m0-14h0m0 12h0m0-14h0m-1 3h0m0 5h0m0 2h0m0 6h0m0-4h0m-1-7h0m0 8h0m-1-10h0m-3 4h0m0 2h0m0 3h0m0-5h0m-1-11h0m0 6h0m-1 4h0m0-13h0m-1 9h0m-1 0h0m-1 4h0m0 7h0m-1-7h0m0 3h0m-1-15h0m0 13h0m-2 1h0m-1-4h0m-1 6h0m0-4h0m-2-3h0m-1 8h0m0-18h0m0 13h0m0 9h0m-2-2h0m-1-4h0m0 3h0m0-5h0m-1-12h0m-1 17h0m-6 2h0m-6 0h0m-2-4h0m-4-8h0m-10-3h0m-2 8h0m-2-4h0m0-8h0m-2 1h0m-8-2h0m-7 6h0m-1-4h0m-2 14h0m-1-11h0m-3 9h0m-4-9h0m0 13h0m-1-6h0m0-2h0m-3-6h0m-4 7h0m-6-7h0m-1 14h0m-9-13h0m-5-6h0m-6 21h0m0-11h0m-1 9h0m-3-10h0m-4-5h0m0 8h0m-20 10h0m-1 0h0m-2 0h0m-4-2h0m-3-17h0m-2-3h0m-1 9h0m0 3h0m-1-5h0m-4 0h0m-5 16h0m-3-4h0m-1-3h0m-1-3h0m-2 10h0m0-21h0m-4-2h0m-8 14h0m0-11h0m-2 14h0m-3-8h0m0 0h0m-7 10h0m-5 1h0m-4-5h0m-2-6h0m0-3h0m-1 9h0m-4 2h0m-2 3h0m0-10h0m-5-9h0m-2 3h0m0-3h0m-3 5h0m0 14h0m-2-18h0m-2 16h0m-4-7h0m-2 12h0m-2-7h0m-1 1h0m-1-5h0m-1 0h0m-6-2h0m-7 6h0m-5-2h0m-1-6h0m-2-6h0m-1 6h0m-1 7h0m-1-4h0m-2-11h0m0 2h0m-2 14h0m0-6h0m-3-3h0m-1 12h0m-1 0h0m-8-2h0m-2-10h0m-3 13h0m-1-6h0m-5 1h0m-2 4h0m-3-9h0m0-8h0m-1 18h0m0-15h0m-9 14h0m-7-18h0m-1 1h0m-3 7h0m-30 3h0m-3 4h0m0-2h0m-3 3h0m-1-9h0m0 3h0m-2-3h0m0 6h0m-2-1h0m-1-3h0m-1-7h0m-1 8h0m-3 0h0m-3-1h0m-3 2h0m-1 6h0m-2-5h0m10 11h0m59 8h0m6 0h0m3 0h0m0-1h0m0 10h0m2-7h0m2 12h0m1-3h0m0-8h0m0-6h0m1 7h0m0 4h0m1-16h0m2 16h0m3 0h0m4 6h0m1-19h0m0-3h0m0 20h0m3-3h0m1 3h0m2-14h0m1 17h0m0-23h0m0 11h0m2 9h0m0-7h0m1 2h0m4-1h0m4 2h0m1-6h0m2 10h0m27 2h0m1-2h0m1-10h0m1-4h0m2 0h0m1-5h0m3 21h0m3-8h0m0-11h0m1 12h0m0-1h0m2-3h0m2-10h0m1 20h0m2-18h0m1 10h0m1 4h0m0-15h0m3 14h0m8-10h0m2 7h0m2-13h0m2 6h0m1 1h0m1 12h0m0 1h0m0-5h0m1-2h0m5 5h0m0-11h0m0 1h0m0 10h0m1-12h0m4 16h0m3-6h0m2-12h0m0 2h0m2 10h0m0 7h0m0-12h0m2-2h0m1 10h0m3-13h0m4 3h0m2-5h0m7 17h0m6 2h0m3-19h0m3 13h0m4-15h0m3 20h0m4-9h0m5-12h0m9-1h0m1 8h0m1-3h0m2 2h0m3 12h0m1-8h0m1-3h0m0 10h0m2-18h0m4 3h0m0 6h0m0 0h0m4 11h0m2-14h0m0-4h0m2 21h0m3-9h0m3-9h0m0 16h0m1-10h0m1-9h0m1 15h0m1 1h0m2-15h0m0 7h0m1 0h0m0-7h0m0 18h0m1-21h0m0 4h0m0 11h0m2-6h0m1-5h0m0 18h0m2-13h0m0 13h0m2-18h0m2 15h0m0-12h0m2 13h0m1-19h0m3 19h0m2-13h0m0 12h0m5-4h0m1-12h0m1 7h0m0 0h0m0 0h0m5 13h0m1-4h0m0-1h0m2-1h0m1-5h0m0 1h0m2-1h0m0 11h0m3-16h0m0 5h0m1 5h0m1-11h0m1 16h0m1-3h0m0 0h0m1-8h0m1 9h0m0-4h0m1 7h0m1-8h0m0-5h0m1 8h0m0-14h0m0 7h0m1 8h0m1-14h0m1 6h0m1 12h0m4-3h0m0-19h0m1 17h0m1-11h0m2 14h0m2-7h0m0-9h0m1-1h0m0 8h0m1 2h0m1 2h0m0-4h0m1-4h0m1 0h0m0 10h0m1-1h0m1-3h0m1-10h0m2 16h0m0-5h0m1 6h0m0-5h0m0-5h0m0-5h0m0 11h0m1-15h0m1 16h0m1-1h0m0-11h0m1 6h0m0-2h0m1-6h0m1 1h0m0 8h0m1-10h0m0 19h0m0-11h0m2 9h0m1-13h0m1-2h0m1 3h0m0-4h0m1 2h0m1 2h0m1-2h0m0 8h0m0-11h0m0 19h0m1-5h0m1-10h0m0-4h0m1 14h0m0-2h0m1-1h0m0 8h0m1-17h0m1 4h0m1 4h0m0 7h0m0-7h0m2 5h0m1-16h0m0 2h0m1 1h0m1 6h0m2 5h0m1-10h0m2-2h0m0 13h0m1 2h0m1-11h0m1-2h0m0 13h0m1-11h0m0 11h0m0-8h0m1-1h0m2-2h0m0-8h0m1 6h0m0 5h0m0 6h0m1-2h0m0-2h0m0-9h0m0-3h0m0 2h0m2 20h0m0-16h0m4 2h0m2-6h0m0 19h0m1-15h0m2 0h0m1 5h0m0 3h0m2-4h0m1 5h0m2-5h0m1 5h0m2-16h0m1 18h0m0 5h0m2-11h0m0 3h0m1 5h0m1-4h0m1-6h0m1 9h0m0-15h0m0 2h0m1 3h0m0 12h0m2-9h0m0-10h0m1 16h0m0 2h0m2-14h0m1 10h0m1 1h0m0 3h0m1-12h0m0-5h0m0 11h0m0 7h0m1 2h0m0-15h0m0 10h0m1-9h0m1 10h0m0-11h0m1 12h0m0-13h0m1 10h0m0-3h0m1-6h0m0-8h0m0 11h0m1 5h0m1 7h0m2-14h0m0 12h0m1 0h0m2-3h0m1-6h0m1 10h0m0-15h0m4 14h0m0-5h0m0 7h0m2-9h0m2-3h0m0-4h0m0 8h0m0-13h0m5 6h0m1 10h0m6-9h0m0 9h0m2-2h0m10-8h0m1 13h0m1 1h0m1-3h0m2-19h0m1 12h0m3-2h0m2 5h0m4 3h0m0 4h0m0-18h0m2 5h0m0-7h0m1 11h0m2-3h0m1-7h0m1 3h0m2 5h0m1-10h0m1 17h0m2-14h0m2 1h0m6-5h0m0 10h0m0-9h0m2 22h0m3-22h0m2 18h0m2-12h0m4 11h0m1 3h0m3-12h0m5 12h0m0-4h0m6 3h0m3-13h0m0 0h0m2 14h0m3-20h0m2 6h0m3 11h0m1-2h0m2 1h0m8-2h0m2 4h0m2-2h0m0-2h0m12-15h0m12 7h0m12 0h0m6-3h0m1 3h0m1 7h0m0-1h0m1-4h0m0 9h0m1-6h0m1 0h0m1 3h0m1 2h0m2-9h0m0 0h0m0-5h0m1-1h0m0 11h0m1-2h0m0-3h0m0 10h0m1-16h0m1 1h0m0-3h0m0 7h0m1 2h0m0-5h0m2 0h0m4 5h0m1 2h0m2 0h0m2 1h0m0-7h0m2 7h0m4 27h0m-2-2h0m-12 9h0m-3-13h0m-3-6h0m-1 20h0m-1-23h0m-2 22h0m-11-7h0m-2 7h0m-8-9h0m-3-4h0m-7 8h0m-6-3h0m-2-13h0m0 11h0m-1-3h0m-2 12h0m-1 0h0m-1 0h0m-1-11h0m0 0h0m0-8h0m-6 10h0m0-1h0m-1 6h0m0 2h0m-1-1h0m0 1h0m-2-18h0m0 13h0m0-13h0m-1 6h0m-3 11h0m0-9h0m-5 13h0m-2-10h0m-7-5h0m-3 10h0m-1-16h0m0 3h0m-1 1h0m-1 0h0m0 16h0m-1-4h0m-1-5h0m0-7h0m-2 2h0m0 13h0m-1-10h0m-3 6h0m-2-16h0m-3 12h0m-2 5h0m-1-8h0m0 6h0m-2-2h0m0-1h0m-3-1h0m-1-11h0m0 8h0m-1 3h0m-1 11h0m-1-13h0m-3 2h0m-2-11h0m-2 9h0m-4 8h0m-1 1h0m-1-5h0m0 6h0m-2-4h0m-1-7h0m0 4h0m-2 9h0m-1-7h0m0-10h0m-2-1h0m0 19h0m-1-1h0m0-8h0m0-4h0m-1 8h0m-4 5h0m-2-21h0m0 13h0m0 2h0m-1 0h0m-3 6h0m0 1h0m-9-21h0m-3 9h0m-6 6h0m-5 4h0m-3-7h0m-3-6h0m-8-1h0m-5-2h0m-2-5h0m0 12h0m-1-9h0m0 2h0m0-1h0m-1 9h0m0 2h0m-1-5h0m-3-1h0m-1 2h0m0-4h0m0-6h0m-1 1h0m0 3h0m-1 1h0m0 2h0m-2 2h0m0 8h0m-1-7h0m-1-1h0m0-8h0m-1 9h0m-1-10h0m-1 6h0m-2 0h0m-1-5h0m0 2h0m0 18h0m-2-20h0m-1 12h0m-2-6h0m-1 15h0m0-1h0m0 0h0m-1-16h0m-3 12h0m-4-16h0m-1 21h0m-1-12h0m0 11h0m-1-9h0m0 3h0m-1 4h0m0-5h0m0 0h0m0 7h0m-5-20h0m-1 15h0m0 4h0m-1-8h0m0-9h0m0 15h0m-3-2h0m-1-11h0m-1 2h0m-1 10h0m-1 1h0m-1-14h0m-2 16h0m0 0h0m-2-9h0m-1-11h0m-2 5h0m-1 1h0m0-5h0m0 19h0m-4-17h0m-1 1h0m-1 2h0m0 2h0m0-7h0m-5 17h0m-1-14h0m-3-1h0m0-1h0m0 2h0m-1 12h0m0 4h0m0-8h0m-1-1h0m-1 3h0m-2-6h0m0 9h0m0 4h0m0-11h0m-1 2h0m0-11h0m-3 20h0m-1-21h0m-3 11h0m-2-9h0m-4 1h0m0 7h0m0-5h0m0 5h0m-2 7h0m0-11h0m0 2h0m-1 13h0m0 1h0m-1-4h0m-1-11h0m0-3h0m0 9h0m-1 3h0m-1-14h0m0 0h0m-1 5h0m0 15h0m0-17h0m0 7h0m-1 8h0m0-16h0m-1 18h0m-1-14h0m0 10h0m0 0h0m-1 0h0m0-11h0m-1 5h0m0-4h0m-1 7h0m-1 7h0m0-22h0m-1 12h0m-1 4h0m-2-15h0m-1 20h0m-1-2h0m0-2h0m-1-11h0m-1-7h0m-3 8h0m0-4h0m0 10h0m0-10h0m0-3h0m-1 18h0m-2-1h0m-1-13h0m0 6h0m-2-10h0m-1 19h0m0-10h0m-2-8h0m-3 14h0m-1-12h0m0-2h0m-1 14h0m0 2h0m0-13h0m-2 14h0m-12-10h0m-1 13h0m0-19h0m-6 3h0m-1 16h0m0-18h0m-5 16h0m0-8h0m-1-4h0m-4 9h0m-1-13h0m0 13h0m-1 2h0m-1-2h0m0 0h0m-1-11h0m-3 2h0m0-8h0m-2 0h0m-2 20h0m-2-19h0m0 5h0m-2 11h0m-6-3h0m-1-13h0m-4 5h0m-1 2h0m-2-3h0m-5 6h0m-1-1h0m0 0h0m-1 13h0m0-9h0m-3 8h0m0-8h0m-1 3h0m-4-14h0m-1 14h0m-5 2h0m-8-14h0m-2 0h0m-1 2h0m-1-4h0m-1 16h0m-3-17h0m-3 19h0m-1-9h0m-1 0h0m-2-2h0m-2 1h0m0-7h0m0 0h0m-1 9h0m0-3h0m-2-5h0m0 12h0m-1-8h0m-1 14h0m-1-4h0m-1-2h0m-2 3h0m-1-8h0m-2 0h0m0 7h0m0-19h0m-1 13h0m0-3h0m-1 13h0m-1-6h0m-1-5h0m0-8h0m-2-3h0m-3 10h0m-6 6h0m-3-8h0m0-9h0m-2 3h0m0-3h0m0 9h0m0 13h0m-2-13h0m-1-7h0m-1 1h0m-3 10h0m-1-10h0m-3 7h0m0-1h0m-1 2h0m-1 4h0m0-11h0m-1 1h0m-3 17h0m-2-3h0m-2 1h0m-1-16h0m-1 6h0m0-7h0m-5 15h0m0-18h0m-5 3h0m0 9h0m-3 5h0m-1-13h0m-6-4h0m-4 1h0m-8 6h0m-14 12h0m-1-7h0m-12 9h0m-10-20h0m-11 20h0m-2-7h0m-2-7h0m0 3h0m-3 10h0m-27 3h0m6 14h0m1-11h0m4 14h0m1-11h0m2 17h0m4-2h0m1-7h0m1-11h0m3 21h0m1-23h0m3 20h0m0-2h0m2-5h0m6 1h0m2-5h0m3-5h0m6 5h0m1 2h0m1 8h0m1-19h0m14 16h0m6-11h0m0 7h0m4-7h0m1-5h0m1 12h0m3-7h0m3 12h0m1-9h0m8 9h0m3-12h0m1 14h0m0-7h0m4 1h0m3-2h0m2 10h0m1-6h0m1 1h0m14-15h0m1 4h0m1-2h0m0-1h0m1 7h0m0 2h0m1 2h0m0-8h0m0 14h0m0 0h0m1 1h0m2-15h0m2 18h0m4-5h0m1-1h0m2-13h0m2 11h0m3 1h0m0-11h0m3 12h0m1-10h0m1 5h0m2 0h0m0 6h0m2-14h0m1 15h0m3-3h0m0-13h0m2 1h0m0 12h0m1-6h0m0-8h0m3-1h0m3 12h0m1 6h0m1-8h0m1-3h0m1 11h0m0-17h0m1 11h0m0-1h0m2-7h0m0 14h0m1-15h0m1 5h0m0 7h0m2 2h0m0-12h0m4 9h0m0-8h0m4-2h0m0 15h0m1-6h0m3-13h0m0-1h0m2 4h0m2 2h0m0-1h0m3 0h0m1 16h0m0-6h0m3 6h0m1-3h0m0-1h0m1-9h0m0 1h0m7-9h0m1 1h0m1 1h0m0 3h0m1 3h0m0 9h0m2-5h0m2-9h0m1 11h0m1-7h0m3 14h0m0-16h0m0 8h0m1-8h0m0 17h0m3-22h0m0 21h0m2-13h0m0-2h0m2-2h0m1 4h0m1 6h0m1-14h0m1 4h0m1 19h0m3-12h0m1 10h0m1-10h0m1 1h0m5 6h0m2-9h0m4-1h0m9 6h0m2-1h0m3-11h0m1 9h0m3-1h0m3-4h0m3 0h0m1-3h0m7-1h0m8 15h0m7-17h0m2 2h0m1 4h0m1 2h0m1-6h0m0 21h0m1-17h0m0 0h0m4 17h0m4-19h0m0 3h0m1 9h0m2-10h0m2 16h0m1-16h0m1 6h0m6-10h0m1 21h0m1-5h0m7-18h0m1 21h0m3-11h0m2-10h0m0 20h0m0-14h0m5 0h0m1 5h0m1 12h0m3-22h0m1 11h0m3-12h0m5 1h0m0 3h0m0 10h0m1 5h0m1-15h0m0 11h0m0-4h0m0-7h0m3 4h0m1 3h0m1 2h0m3-7h0m0 3h0m1 0h0m1-9h0m0 0h0m1 5h0m1 13h0m2-9h0m0-2h0m1-4h0m0 8h0m1-5h0m2 13h0m1 2h0m0-6h0m1-11h0m0 18h0m1-2h0m0 3h0m2-21h0m0 5h0m0-2h0m0 9h0m0-1h0m2-6h0m1 5h0m0-4h0m0 6h0m1-11h0m1 2h0m1 8h0m0-11h0m1 10h0m1 10h0m0-12h0m0-4h0m1-1h0m0 10h0m2-9h0m1 3h0m2-4h0m0 8h0m0 6h0m0 1h0m0-2h0m1 1h0m1 2h0m1-17h0m1 10h0m1-10h0m1-2h0m0 16h0m0-15h0m1 0h0m4 4h0m1-3h0m0 18h0m6-7h0m3 6h0m6-6h0m0-15h0m0 5h0m1 11h0m2-14h0m0 12h0m12 0h0m8-5h0m10 10h0m0-19h0m2 20h0m1-19h0m2 3h0m1 19h0m6-11h0m0-11h0m4-1h0m1 22h0m10-5h0m1-17h0m1 8h0m3 10h0m0-10h0m2 12h0m3-9h0m2 2h0m1 5h0m2 5h0m4-4h0m1-17h0m3 3h0m4 5h0m0-5h0m0 5h0m5-1h0m1 6h0m1 0h0m0 7h0m0-8h0m0-5h0m1 9h0m1-14h0m0 6h0m1-4h0m4 16h0m0-22h0m1 19h0m0-4h0m1-9h0m1 8h0m2-8h0m1 6h0m1 10h0m0-9h0m1 8h0m0-7h0m1 7h0m0 1h0m2-16h0m6 14h0m1-10h0m2 7h0m0-13h0m2 7h0m1-1h0m3-10h0m1 15h0m0-14h0m0 3h0m2 3h0m2-2h0m0 16h0m1-14h0m0 4h0m11-1h0m2 10h0m2-15h0m9 1h0m8 12h0m4 5h0m9-14h0m11 13h0m0-12h0m5-7h0m0 9h0m9 7h0m2 8h0m-16 13h0m-3-12h0m-3 6h0m-10-5h0m-3 6h0m-13 7h0m-6-2h0m-2-4h0m-1-5h0m0 16h0m-1-11h0m-3 4h0m-6-12h0m-2 4h0m-1 0h0m-1-5h0m0 14h0m-1-5h0m-1 6h0m-1-8h0m-1-9h0m-1 0h0m-2 16h0m0-16h0m0 15h0m-2-5h0m0 9h0m0-2h0m-1-4h0m-1 8h0m0-15h0m-2-2h0m-1 13h0m-1-10h0m-2-3h0m0 11h0m0 0h0m0-8h0m0-6h0m-1 7h0m-17 7h0m-1 1h0m-1-2h0m-1 2h0m-2-4h0m-2 4h0m-2-1h0m-6-3h0m-2-3h0m-2-10h0m-1 0h0m0 2h0m-8 19h0m-2-20h0m-2 5h0m-3-1h0m-5 0h0m-4 7h0m-11-4h0m-3 14h0m-2-8h0m-2-5h0m-2 12h0m0-19h0m-2 13h0m-7 1h0m0-2h0m-7 1h0m-14 2h0m-1-13h0m-2 3h0m-3 13h0m-15-1h0m-4-12h0m-3 13h0m0-9h0m-1-11h0m-1 10h0m-7-3h0m0 3h0m-1-10h0m0 6h0m0 13h0m0-15h0m-3-3h0m-3 14h0m0-6h0m-5 11h0m0-5h0m-1-8h0m-4-6h0m0 22h0m0-21h0m-3 12h0m-1-5h0m0 9h0m-1-2h0m0-14h0m-1-1h0m0 16h0m-1-13h0m0 7h0m0-9h0m-1 7h0m-4 9h0m0-6h0m-1 11h0m0-14h0m-1-9h0m-1 12h0m0 2h0m-1 9h0m0-22h0m-1 6h0m-2-5h0m0 3h0m-1-3h0m0 11h0m-1-13h0m-1 18h0m-1 0h0m-1 4h0m0-18h0m0 15h0m-3-8h0m-4 12h0m-3-18h0m0 15h0m-1-18h0m-1 6h0m0-4h0m-1 13h0m-4 1h0m-2-10h0m-1 13h0m-2-4h0m-1-5h0m-1-2h0m-5 8h0m-2-4h0m-1-5h0m-2 10h0m0-2h0m-1-11h0m0-6h0m-1 11h0m-1 12h0m0-1h0m0-1h0m-3-12h0m0 3h0m-3-7h0m0-4h0m-1 6h0m0-3h0m0 10h0m-1-11h0m-5 12h0m0-8h0m-2 5h0m-1 2h0m-6 2h0m-1 3h0m0-14h0m0 6h0m-3 6h0m0 3h0m-1-8h0m-2-5h0m-3 16h0m-6-19h0m0 17h0m-1-15h0m-2 7h0m-1-3h0m0-8h0m-4 20h0m0 0h0m-2-5h0m-6-3h0m-7 6h0m-5-5h0m-1-8h0m-1 14h0m-4-8h0m-2-6h0m-1 1h0m0 7h0m-1-10h0m-5-4h0m-1 12h0m-1-8h0m0 5h0m-4 12h0m0-22h0m-2 7h0m-2 11h0m-3-12h0m-1 0h0m0 11h0m-5-9h0m0-6h0m-2 3h0m-4 0h0m-1-5h0m-4 6h0m-3-5h0m0 8h0m-1 5h0m-3-9h0m0 0h0m-4 14h0m-1-16h0m0 10h0m0 9h0m-3-22h0m-4 5h0m-13 16h0m-5-5h0m-2-7h0m-2-5h0m-2 18h0m-2-4h0m-11-14h0m-4 17h0m-1-10h0m-15 8h0m0 2h0m-5-11h0m0 12h0m-1-22h0m-3 22h0m-3-14h0m-11-4h0m-2-4h0m-1 15h0m-1-7h0m-5 12h0m-1-1h0m-2 0h0m-2-6h0m-3 0h0m-1 4h0m-1-11h0m-1-3h0m-5-2h0m-1 2h0m-4 13h0m-1-1h0m0-3h0m-3-1h0m-5 10h0m-7 0h0m-2-6h0m-2-13h0m0 10h0m-1 6h0m0 3h0m-2-2h0m-2-9h0m0 2h0m-1 3h0m-1-14h0m-2 1h0m-1 8h0m-4 3h0m0 0h0m-1-1h0m-1 5h0m-2-13h0m-2 7h0m-1-10h0m0-1h0m-1 16h0m-1-14h0m0 17h0m-5-9h0m-1 0h0m-1 2h0m-2 5h0m-1-17h0m-1 4h0m-1-3h0m-1-1h0m-1 9h0m-1 8h0m-1-10h0m-1 2h0m-1 5h0m-4-9h0m0 6h0m-2-11h0m0 17h0m-5-3h0m-7-5h0m-1 3h0m17 19h0m1 3h0m4 6h0m4-11h0m3 15h0m0-17h0m4 15h0m1 0h0m3-8h0m1-6h0m6-4h0m1 5h0m4-2h0m5 1h0m23 7h0m8-5h0m1 10h0m6-10h0m6 17h0m1-16h0m3 13h0m2-11h0m2-8h0m4 21h0m3-11h0m0-9h0m1 13h0m1-10h0m3 10h0m1 3h0m2-4h0m3-13h0m4 2h0m4 12h0m21-4h0m9-8h0m3 18h0m14-21h0m11 10h0m1 6h0m3-12h0m1 3h0m0 9h0m3-10h0m9 14h0m2-17h0m1 11h0m6 1h0m6 4h0m1-14h0m0 8h0m1 0h0m5 10h0m5-1h0m9-1h0m3-19h0m6 10h0m2 5h0m1-6h0m6 12h0m3 0h0m2-23h0m5 17h0m2 2h0m6 1h0m1-15h0m1 8h0m0 1h0m1-8h0m0 0h0m2 7h0m0-2h0m0 0h0m3 9h0m2 2h0m2-1h0m1-3h0m2 4h0m2-17h0m0 2h0m1 5h0m0 4h0m0-2h0m0-6h0m4 4h0m2-5h0m1-4h0m2 13h0m2 0h0m0-14h0m0 9h0m0-10h0m5 17h0m1 4h0m1-11h0m1-11h0m0 21h0m0-6h0m1 1h0m2-4h0m2-7h0m0 1h0m1 15h0m0-10h0m0-3h0m3-8h0m0 11h0m1-4h0m3 8h0m3-4h0m3-3h0m7 0h0m0-8h0m0 7h0m2-1h0m0 10h0m1 1h0m0-3h0m0-11h0m1 7h0m0 12h0m2-11h0m0-11h0m1 10h0m2 13h0m0-17h0m0-2h0m6 19h0m3-22h0m6 19h0m1-1h0m3-7h0m1-5h0m3 2h0m0 2h0m2 4h0m2 4h0m0-6h0m0 6h0m0 3h0m1-11h0m1-7h0m1 7h0m6 6h0m0-3h0m1-5h0m0-7h0m2 20h0m1-17h0m2 13h0m3-3h0m1-4h0m1-4h0m0-4h0m2 10h0m0 8h0m3-6h0m0-5h0m2-2h0m2 8h0m0-16h0m2 21h0m1-8h0m2-5h0m2 15h0m0-10h0m1-8h0m5 15h0m3 2h0m2-8h0m1 3h0m1-6h0m0 5h0m3-16h0m1 14h0m0 7h0m5-5h0m3-6h0m6 5h0m2 8h0m5-11h0m5 2h0m1 5h0m4-18h0m5 15h0m3-3h0m2 5h0m5 3h0m1-4h0m0 5h0m2-6h0m3 2h0m16-4h0m1-2h0m2-8h0m1 12h0m0-1h0m5-3h0m0-7h0m1 15h0m3-19h0m11 4h0m1 9h0m1-12h0m4 6h0m1 6h0m0-11h0m1 4h0m2 1h0m0 14h0m3-1h0m2-8h0m0 2h0m2 1h0m1-15h0m5 18h0m0-18h0m1 11h0m0 4h0m2-15h0m2 7h0m0-3h0m2 8h0m2-13h0m0 7h0m1 11h0m0-10h0m7 11h0m1 3h0m0-21h0m1 9h0m0 8h0m0 4h0m2-10h0m2 9h0m0-18h0m3 4h0m2 1h0m4-4h0m3 11h0m1-4h0m1 10h0m1-17h0m4 18h0m0-4h0m0-8h0m1-1h0m2 14h0m2 0h0m1-15h0m4 4h0m1 6h0m0 2h0m2 0h0m2-7h0m1 5h0m1-11h0m1 8h0m1-5h0m0 10h0m4-11h0m5-1h0m0-7h0m2 21h0m3-1h0m3-2h0m1-5h0m4 8h0m2-5h0m1 2h0m2-6h0m2 10h0m1-14h0m4 13h0m0-6h0m2 7h0m1-1h0m4-2h0m1-2h0m1 1h0m1-8h0m0 6h0m2-1h0m0-1h0m0 7h0m0-9h0m1 10h0m0-4h0m0 4h0m1-7h0m1-4h0m0-2h0m1 10h0m3 1h0m0-7h0m1 4h0m2-1h0m1 1h0m3 8h0m-3 1h0m0 0h0m-1-1h0m0 0h0m-1 3h0m-2-2h0m0 6h0m0-7h0m0 0h0m0 1h0m-1-3h0m0 1h0m-1-1h0m0 5h0m0-1h0m-1 4h0m-1-7h0m0 0h0m0 10h0m-2-10h0m0 4h0m0 0h0m-1-4h0m0 1h0m0 3h0m0-2h0m-1-3h0m-1 6h0m0-3h0m0 7h0m-2-1h0m0 7h0m0 4h0m-1-7h0m0-13h0m-1 1h0m0 3h0m-1 1h0m0 0h0m0-4h0m-1 2h0m0 1h0m0 9h0m-1-10h0m0 8h0m-2-10h0m-2 20h0m-1-16h0m-2 6h0m0 11h0m0-6h0m0-10h0m-1-4h0m0 5h0m-3 5h0m0 11h0m-1-11h0m-2-1h0m-2 3h0m0-13h0m-1 3h0m0 5h0m-1 9h0m-2-9h0m0 6h0m-2 1h0m-1-1h0m0-5h0m0 3h0m-2 3h0m-1 2h0m-2-9h0m-1 8h0m-1-8h0m0 6h0m-1-2h0m0 10h0m0 0h0m-1-8h0m0-4h0m-1 12h0m0-7h0m-1-2h0m0-5h0m-1-7h0m0 3h0m-1 12h0m0-8h0m0 4h0m0-6h0m-1 2h0m0 5h0m0-8h0m0-3h0m0 14h0m0-10h0m0-4h0m-1 7h0m0 1h0m0 4h0m-1-5h0m0-10h0m0 12h0m0 0h0m-1 8h0m-1 0h0m0-9h0m0-1h0m-1 12h0m0-3h0m-2 0h0m-1 1h0m0-9h0m0-4h0m-1-3h0m-1 7h0m0-3h0m0 6h0m-1-2h0m0-1h0m-2-5h0m0-3h0m0 13h0m-2-3h0m0 5h0m-1-18h0m-2 7h0m0-2h0m-2 16h0m-1-14h0m0-2h0m-2-1h0m-1 4h0m0-4h0m-1-2h0m0 18h0m0-16h0m-3 18h0m-1-5h0m-2-16h0m-1 12h0m-3-9h0m-1 11h0m-3-3h0m-1-1h0m0-7h0m-1 13h0m-3 4h0m-1-19h0m-2 10h0m-1 4h0m0-13h0m0 20h0m-1-8h0m-1 3h0m0 1h0m0 2h0m-1-19h0m-1 8h0m-1-6h0m0 1h0m-2 13h0m0-10h0m-1 2h0m-2 13h0m-1-5h0m0-2h0m0-4h0m-1-2h0m0 4h0m-2-10h0m-4-1h0m-1 20h0m-4-13h0m-5 4h0m-2-1h0m-1-8h0m0 18h0m-1-20h0m-1 10h0m0-10h0m-2 2h0m0 17h0m-2-9h0m0 3h0m-1-14h0m-2 3h0m-4-4h0m0 20h0m0 0h0m-1 2h0m-2-12h0m-2 11h0m-1-3h0m-4 2h0m-2-8h0m-1 8h0m0 2h0m-3-13h0m-1 2h0m-2 8h0m-1-7h0m0-9h0m-1-2h0m-1 16h0m-1-4h0m-1-12h0m0 7h0m-2 14h0m0-8h0m-1-7h0m0 10h0m-4 3h0m-1-20h0m-2 18h0m0 4h0m-1-10h0m-2-6h0m-1 1h0m-1-3h0m-1 7h0m-2-9h0m-1 6h0m0 9h0m-1-13h0m-1 7h0m-3 0h0m-1-9h0m-1 20h0m-1-3h0m-1-9h0m-1-9h0m-1 14h0m0-10h0m-1-6h0m0 4h0m-1 11h0m0-11h0m0 2h0m-1-1h0m-1 10h0m0-10h0m-1 11h0m0-8h0m-1-2h0m0 6h0m-1-4h0m-1 14h0m0-6h0m-1-1h0m-1 4h0m0 0h0m0 2h0m-2-1h0m0-19h0m0 18h0m0-16h0m0-2h0m-1 19h0m0-7h0m0 9h0m0-11h0m0 12h0m-1-8h0m-1 4h0m-1 3h0m-2-19h0m0 20h0m0-5h0m-2 2h0m-2-6h0m0-2h0m0-7h0m-2 13h0m-1-8h0m0 0h0m0-1h0m-2-4h0m0 18h0m-1-6h0m-1-6h0m-1 3h0m-1 9h0m-1-1h0m0-8h0m-1 8h0m0-1h0m-2-8h0m0-8h0m-1 18h0m0-4h0m-1-14h0m0 18h0m-1-19h0m-1 11h0m0-5h0m0 8h0m-1 1h0m0-4h0m0 6h0m0-20h0m-1 17h0m0-13h0m-1 12h0m-1-1h0m0-2h0m-1 1h0m-1-5h0m-1 1h0m0 1h0m0-5h0m-1 13h0m0 0h0m0-2h0m-2-14h0m0 19h0m0-12h0m0-9h0m0 4h0m0 17h0m-1-19h0m0 12h0m-1-15h0m0 22h0m-1-9h0m0 8h0m-1-13h0m0-2h0m-1 8h0m-2-1h0m0-14h0m0 12h0m-1 11h0m-1-21h0m-1 11h0m-1-13h0m-1 20h0m0-13h0m-1 13h0m0-11h0m0-9h0m-1 23h0m0-16h0m-1 2h0m-2-7h0m0 21h0m0-1h0m-1-22h0m-1 10h0m0 2h0m-2-2h0m-1-3h0m0 4h0m0-1h0m0-3h0m0 1h0m-1 13h0m-3-2h0m-2-11h0m-1-4h0m-2 15h0m-1-2h0m-1-15h0m-4 10h0m-1-2h0m-1 11h0m0-20h0m-1 3h0m0 9h0m-3-1h0m-2 5h0m0 3h0m0-19h0m0 17h0m-3-8h0m-1 4h0m0-14h0m0 7h0m-2-3h0m-7-3h0m0 11h0m-2-12h0m-2 6h0m-1 15h0m-2-7h0m-7-6h0m-1 3h0m0 5h0m-2-14h0m0 9h0m0-11h0m-1 10h0m0-5h0m-3 1h0m-5 5h0m0-5h0m-3-2h0m0-1h0m-4-2h0m-2 12h0m-3-11h0m-3 7h0m-2 5h0m-2-8h0m-1 13h0m0-7h0m0-9h0m-2 3h0m-2-4h0m-1 10h0m0-9h0m-1 9h0m-1-3h0m0 3h0m-1 0h0m-2-3h0m-1 7h0m0-15h0m-1 2h0m-1-3h0m0 23h0m-1-15h0m-2-3h0m-2 14h0m-1-13h0m-1 16h0m0-8h0m-6-12h0m0 5h0m-1 8h0m-2-12h0m-1 3h0m0 14h0m-4 1h0m-5-13h0m-3 6h0m0-9h0m-1 7h0m-12 1h0m-1-12h0m0 13h0m-5-6h0m-10 9h0m-3 2h0m-1-3h0m-5 6h0m-5-16h0m-10 2h0m-7 1h0m-3 10h0m-2-6h0m-11-12h0m-7 13h0m-3-1h0m-7-10h0m-2 1h0m-4 15h0m-5-10h0m-5 0h0m-1 4h0m-2 3h0m0 5h0m-2 0h0m0-2h0m0 2h0m-2-7h0m-1 9h0m-1-6h0m0-16h0m-1 19h0m-2-5h0m0-1h0m-1-14h0m-1 21h0m-1-8h0m-2 10h0m-4-9h0m-2 4h0m-4-3h0m-3-5h0m-2 2h0m-2 6h0m-2-2h0m-2 5h0m-1-21h0m-18 23h0m-1-15h0m-7 11h0m-7-19h0m-4 18h0m-3-13h0m-1 12h0m-2-16h0m0 3h0m-8 16h0m0-5h0m0-11h0m-1 0h0m-1 10h0m-1-14h0m-3 3h0m-2-3h0m-1 15h0m-7-3h0m0-6h0m-2 9h0m0-6h0m-6-1h0m-6 12h0m-5-8h0m-7-7h0m-3 13h0m-2-16h0m1 25h0m10 20h0m4-10h0m1-13h0m1 16h0m2-1h0m3-12h0m2 9h0m5 6h0m4-8h0m1 6h0m4-12h0m0 5h0m1-2h0m0 11h0m3-10h0m0 9h0m3-17h0m3 22h0m5-15h0m0 4h0m4 12h0m2-12h0m1 7h0m3-10h0m0 10h0m1-4h0m2-1h0m6 9h0m0-5h0m6-13h0m3-4h0m2 6h0m2 14h0m2-3h0m4 5h0m0-18h0m0 14h0m5-16h0m5 13h0m1 5h0m0-9h0m2-10h0m0 0h0m0 3h0m2 6h0m2-7h0m3 8h0m1-3h0m1 2h0m2-5h0m0 7h0m0-4h0m0 13h0m1-20h0m0 13h0m1-8h0m0 3h0m0 9h0m1-14h0m0 17h0m0-13h0m1-6h0m0 16h0m0-13h0m0 3h0m0-1h0m0 15h0m1-13h0m0 12h0m0 1h0m0-2h0m1-11h0m0-6h0m0 8h0m0 6h0m1-17h0m0 20h0m0-14h0m1 10h0m0 2h0m0-3h0m0-8h0m1 7h0m1-6h0m1-5h0m0 15h0m1 0h0m0-2h0m0-1h0m1 2h0m1-7h0m0 13h0m1-2h0m1-3h0m0 3h0m0-5h0m0 6h0m1-17h0m0 16h0m1-10h0m1-9h0m0 13h0m0-8h0m1 4h0m3 11h0m1-15h0m0 2h0m0 14h0m2-13h0m0-2h0m0-7h0m1 8h0m0 7h0m0 4h0m3-7h0m0-12h0m2 11h0m1 3h0m1 6h0m1 2h0m2-22h0m1 4h0m3 18h0m3 0h0m4-20h0m1 14h0m12-17h0m3 18h0m1-7h0m1 2h0m2-12h0m3 9h0m1 5h0m0-8h0m3 9h0m2 0h0m3-3h0m6 5h0m17-3h0m2-9h0m1 13h0m2-18h0m2 9h0m2-10h0m3 2h0m7 3h0m1 0h0m3 2h0m10 12h0m4-14h0m5-4h0m1 6h0m8-5h0m0 10h0m2-1h0m14 5h0m1 5h0m3-21h0m2 7h0m2-7h0m3 10h0m1 8h0m3-11h0m2 13h0m6-20h0m3 18h0m2-11h0m3 0h0m7 3h0m3-7h0m2 10h0m0 0h0m3 4h0m0-15h0m2 14h0m2-8h0m1-5h0m3 8h0m2 4h0m1 7h0m2-22h0m0 4h0m3-2h0m1 0h0m1 20h0m5-8h0m1-13h0m2 9h0m2-5h0m3 5h0m0-6h0m0 12h0m2-15h0m2 10h0m2 6h0m1-6h0m0-1h0m1-3h0m0 2h0m1-9h0m1 0h0m2 22h0m1-3h0m1-16h0m0 15h0m0-10h0m1-6h0m2 6h0m0 2h0m2 4h0m0 8h0m0 0h0m1-20h0m1 21h0m0-1h0m0-7h0m0 3h0m5-3h0m0 7h0m0-1h0m0-14h0m1-7h0m0 9h0m0 2h0m1-3h0m1 11h0m0-19h0m0 1h0m2 13h0m0 8h0m0-14h0m2 8h0m0-9h0m1 11h0m0 4h0m0-14h0m1 9h0m0 5h0m0-11h0m1 8h0m0-13h0m0 6h0m1 6h0m0-12h0m1-1h0m1-2h0m1 8h0m0-8h0m0 3h0m1 5h0m0 1h0m0-12h0m1 13h0m0 7h0m0-19h0m1 14h0m0 3h0m1-14h0m0 7h0m1-7h0m1 1h0m1 3h0m0 12h0m2-12h0m0-2h0m0 7h0m0-10h0m3 8h0m0 1h0m2 5h0m0-10h0m1-2h0m0 4h0m1-5h0m0-4h0m1 1h0m0 3h0m0 16h0m0-6h0m1-2h0m0-10h0m0 6h0m0-6h0m1 3h0m2-5h0m1 10h0m0-7h0m1 0h0m0-3h0m0 16h0m1-13h0m0 18h0m1-9h0m0-5h0m0-5h0m0 18h0m1-1h0m1-7h0m0-4h0m1 12h0m0-20h0m0 4h0m0 2h0m1-5h0m0 18h0m0-19h0m1 19h0m0-6h0m1 9h0m0-21h0m0 22h0m2-5h0m0-3h0m0-3h0m0-5h0m1 6h0m0 5h0m1-5h0m0 6h0m0 4h0m1 0h0m0-5h0m1-10h0m0 9h0m1-10h0m1 3h0m0 0h0m0-4h0m1 3h0m0 5h0m1-8h0m0 1h0m0 2h0m0-4h0m2 17h0m0-14h0m1 8h0m1-11h0m1 1h0m0-1h0m2 7h0m0-1h0m0 3h0m0-13h0m3 14h0m0 2h0m0-13h0m1 17h0m1 0h0m1-3h0m0-16h0m1 20h0m0-7h0m0-10h0m1 15h0m0-13h0m0 8h0m2-6h0m0-3h0m1-2h0m0 17h0m0-14h0m0-2h0m1 1h0m1 9h0m0-5h0m0 4h0m1-14h0m1 0h0m0 17h0m0 5h0m1-21h0m0 11h0m0 2h0m0 5h0m1-10h0m0-7h0m1 9h0m0-10h0m0 22h0m0-6h0m1 5h0m0-9h0m1 1h0m1 7h0m0-1h0m3-5h0m1 2h0m0-2h0m1 4h0m0-11h0m0-6h0m0 18h0m1-17h0m2-3h0m2 16h0m0-4h0m0-8h0m0 1h0m0 17h0m1 1h0m1-5h0m1-6h0m0 9h0m0-13h0m1 14h0m0-6h0m2-9h0m0 1h0m1-6h0m1 4h0m1 1h0m1 10h0m0-11h0m1-4h0m1 18h0m2-17h0m2 3h0m0 11h0m0-5h0m1 3h0m3 0h0m0-12h0m1 14h0m0-17h0m1 10h0m1-3h0m0 9h0m1-7h0m1 11h0m1 2h0m0-13h0m3 6h0m1 6h0m4-4h0m0-1h0m0-3h0m1 3h0m0 2h0m1-2h0m0-14h0m1 19h0m0-8h0m1 2h0m1-2h0m0-4h0m1 11h0m1-12h0m0-2h0m2-6h0m3 5h0m0 0h0m2 1h0m1 6h0m5 2h0m1-3h0m1 9h0m3 1h0m1-14h0m0-1h0m1 12h0m1-15h0m1 0h0m1 16h0m1-13h0m1 13h0m1-5h0m0-4h0m2-3h0m1-3h0m1 8h0m1-4h0m1-3h0m0 1h0m2 0h0m0-1h0m0 11h0m2-2h0m3-13h0m0 12h0m1-8h0m0 3h0m1 4h0m1 6h0m1 3h0m0-6h0m1-15h0m0 0h0m1 11h0m1-7h0m2 6h0m2-1h0m0 11h0m3-17h0m0 5h0m1 2h0m0 2h0m1 8h0m0-11h0m1 4h0m1 4h0m1-9h0m2 10h0m1-11h0m1 0h0m0 1h0m1-6h0m0 3h0m1 0h0m1 1h0m1 2h0m1 7h0m1 8h0m1-8h0m1-12h0m5 1h0m1 0h0m1 1h0m2-2h0m4 1h0m1 5h0m4-7h0m2 0h0m4-2h0m5 2h0m7-2h0m1 44h0m-4 1h0m0 2h0m-1 0h0m-2 0h0m0-1h0m-3 1h0m-2-1h0m-2 1h0m-1 0h0m0-1h0m-4-1h0m-1 2h0m0 0h0m-1-1h0m0 1h0m-1-2h0m-3 1h0m-2-1h0m-1-11h0m0 1h0m0 4h0m-1-6h0m0 0h0m-4 7h0m-1-8h0m0 15h0m-1 0h0m0 0h0m0-2h0m-1-17h0m0 17h0m-1-15h0m-1-4h0m-1-1h0m0 1h0m0 5h0m-1 5h0m0-8h0m0 9h0m-1 9h0m0 1h0m-1-19h0m0 19h0m-1-8h0m-1-10h0m0 0h0m0 17h0m-1 0h0m-1 0h0m-2-15h0m-5 9h0m0-1h0m-1 0h0m-5-13h0m-5 5h0m-6 1h0m-2-1h0m-6-4h0m0 7h0m-3 5h0m-1-12h0m-2 0h0m-2-2h0m-1 7h0m-2 1h0m-4-8h0m-4 12h0m-5-2h0m0 5h0m-1-5h0m-3 8h0m-1-4h0m-3 2h0m-1 6h0m-1-9h0m-2 4h0m0-14h0m-2 18h0m-1 0h0m0-6h0m-1-14h0m-1 8h0m0 2h0m-1-3h0m-2 9h0m0 3h0m-1-17h0m0 12h0m0 1h0m-5 2h0m-2-18h0m-1-1h0m-2 5h0m0 3h0m-2 4h0m-1-12h0m-3 10h0m-1 10h0m0-14h0m0 10h0m-1-9h0m0 4h0m0-9h0m-1 18h0m-1-10h0m0-10h0m-1 0h0m-1 17h0m-2-1h0m0 6h0m-1-11h0m0-6h0m0 12h0m-1-10h0m-1 2h0m0-7h0m-1 19h0m-1-3h0m-2-11h0m0 5h0m0 2h0m-1-3h0m-1 1h0m0 8h0m-1-14h0m0-1h0m0 9h0m0-1h0m-1-10h0m0 9h0m0-10h0m0 15h0m-1-7h0m0-8h0m-1 1h0m0 2h0m0 15h0m-1-20h0m0 5h0m-1 13h0m0-15h0m-1-3h0m0 10h0m0 11h0m-1-14h0m-1-7h0m-1 16h0m-2-11h0m0-3h0m0 5h0m-1 7h0m0 0h0m0-6h0m-1 10h0m0-13h0m-1-4h0m-1 5h0m0 17h0m-1-16h0m-1-6h0m-2 14h0m0 0h0m0-2h0m0-10h0m-1 8h0m-1 9h0m-1 1h0m0 2h0m0-14h0m-1 8h0m-1-11h0m-1 7h0m0-2h0m0 11h0m0-8h0m-1-9h0m0-5h0m0 11h0m0-4h0m0 5h0m0-4h0m0 0h0m-1 4h0m0-12h0m-1 4h0m0 7h0m0-1h0m0 5h0m-1-15h0m0 16h0m0-13h0m-1 9h0m0 5h0m0-15h0m0 19h0m-1-19h0m-1 10h0m0-12h0m-1 3h0m0 19h0m-1-5h0m-1 4h0m0-21h0m-1 4h0m0-2h0m0 11h0m0-4h0m-2 9h0m-2-10h0m0-2h0m0 15h0m-1-20h0m0 4h0m0 14h0m-1-6h0m0 7h0m-1-15h0m0 0h0m-1 18h0m0-22h0m0 4h0m0 2h0m0 13h0m-1-2h0m0-11h0m-1 10h0m-1-7h0m0 4h0m-1-12h0m-1 10h0m0-12h0m0 11h0m0 6h0m-1-9h0m0-3h0m0 9h0m0-7h0m-1 13h0m-1 3h0m0-8h0m0 0h0m-1-1h0m0 1h0m0-6h0m0-1h0m-1-4h0m0 16h0m0 0h0m0-4h0m-1-11h0m0 7h0m-1-12h0m0 14h0m0-2h0m-1-1h0m-1-6h0m0 8h0m-1-13h0m0 15h0m0 7h0m-1-21h0m0 9h0m0-2h0m-2-7h0m0 19h0m0 0h0m-1-12h0m0 3h0m-1 7h0m0 1h0m-1-8h0m-1-10h0m-1 0h0m0 18h0m-1-8h0m0 8h0m0-3h0m-1-2h0m-3 4h0m-1-16h0m0 18h0m-1-5h0m-2 2h0m0-13h0m-1 11h0m0-10h0m-2 18h0m-1-2h0m-2-14h0m0-1h0m-1-2h0m0 9h0m-2 6h0m-1 4h0m-1-12h0m-1-6h0m-2 9h0m-4-10h0m-3 9h0m-1-10h0m0 0h0m-1 0h0m-2 12h0m-4-12h0m-5 7h0m-1 2h0m-7-11h0m-6 18h0m-14 0h0m-1-6h0m-2 3h0m-5 3h0m-5 4h0m-19-3h0m-2 3h0m-2-16h0m-1 15h0m-3-1h0m-1-14h0m-1 1h0m-2 12h0m-2-5h0m-1 3h0m-1-7h0m0 10h0m-1 2h0m-1-10h0m0 10h0m-1-23h0m-1 19h0m-1-3h0m0-8h0m-1 6h0m-1 6h0m0-9h0m0 5h0m0 5h0m0-9h0m0 8h0m-1-18h0m0 0h0m-1 14h0m0-8h0m0 4h0m-1-9h0m0 9h0m0-8h0m-1 9h0m0 0h0m-2 6h0m0-1h0m-1-2h0m-2-8h0m-3 10h0m-1 2h0m0-19h0m0 6h0m-1 2h0m0 0h0m0 10h0m0-6h0m-2-7h0m-2 9h0m0-1h0m0 9h0m0-7h0m-1 6h0m0-18h0m-1 3h0m-1 16h0m-1-11h0m-1 6h0m-5-17h0m-4 7h0m-1-7h0m-20 21h0m-1 1h0m-1-18h0m-3 16h0m-3-13h0m-6 10h0m0-17h0m-1 19h0m-1-16h0m-2 19h0m-1-10h0m0 2h0m-2 4h0m0 2h0m-1-12h0m-2 12h0m-2 2h0m0-5h0m-2-4h0m-2 9h0m-1-8h0m-1 4h0m-2 4h0m-3-2h0m-6 1h0m-6-19h0m-10 19h0m-2-14h0m-5-1h0m-3 0h0m-1 15h0m-1-21h0m0 15h0m-2-14h0m-1 14h0m0-2h0m0-8h0m-1-2h0m-2 17h0m-1-6h0m-1 5h0m-1-9h0m-1 12h0m-2-19h0m-1 0h0m-1 10h0m0 6h0m-1-17h0m-1 15h0m-1-1h0m0-10h0m-1 8h0m0 7h0m-2-20h0m0 4h0m-3 12h0m-1-17h0m0-1h0m-1 10h0m0 10h0m-1-8h0m0-6h0m-1-4h0m0 20h0m-1-17h0m0 8h0m-1 10h0m0-15h0m-1 10h0m-1-8h0m0 12h0m-1-20h0m-2 1h0m-1 3h0m0 4h0m0 3h0m-4-3h0m-1-5h0m-1 12h0m-1-7h0m-2-9h0m-3 22h0m-2-20h0m-5 8h0m-2-3h0m0 9h0m-5-2h0m-1 8h0m0-11h0m-1 6h0m-2 4h0m-3-9h0m-5 10h0m-1-8h0m-5-3h0m-2 5h0m0-1h0m-4 6h0m-1-5h0m0-16h0m-9 18h0m-2-18h0m-4 1h0m-1 6h0m-8 2h0m0-4h0m-3-5h0m0 5h0m-10-6h0m-1 22h0m-4-10h0m-2-10h0m-6-2h0m0 5h0m0 4h0m-3 2h0m-3-1h0m0 8h0m-3-14h0m0-3h0m-45 18h0m-4-3h0m-1 3h0m-1 3h0m0 1h0m-1-6h0m0 0h0m0 1h0m-1-2h0m-2 7h0m0-11h0m-1 9h0m0-7h0m-1 4h0m0 5h0m0-7h0m-1 0h0m-2-3h0m0-1h0m-1 2h0m-1-4h0m-2 7h0m5 7h0m8 3h0m0-3h0m8 23h0m5-1h0m1 1h0m1-5h0m4 1h0m0-2h0m32-7h0m0 2h0m2 1h0m0 2h0m3 4h0m0-17h0m0 5h0m1 5h0m0-1h0m0 5h0m0-4h0m3 8h0m0 1h0m2-13h0m1 4h0m0 3h0m3 0h0m0-4h0m0-10h0m5 10h0m7 1h0m2 6h0m1 0h0m7-6h0m1 6h0m1 4h0m1-9h0m4 8h0m2-9h0m2-9h0m2 2h0m3 17h0m1-6h0m2-12h0m0 6h0m1 10h0m2-17h0m2 5h0m0 7h0m0-1h0m5 3h0m1 4h0m2-20h0m1 4h0m2 15h0m3-12h0m5-5h0m0 3h0m3-4h0m2 6h0m0-3h0m1-4h0m4 20h0m2-20h0m3 1h0m2 12h0m5-7h0m5 6h0m2-9h0m4-1h0m0-2h0m1 1h0m0-2h0m0 15h0m1-6h0m0-7h0m0-2h0m1 15h0m0-11h0m1 4h0m1 11h0m0 2h0m1-14h0m1 13h0m2 3h0m2-16h0m1 15h0m0-19h0m2 6h0m1 4h0m1-13h0m0 5h0m0 5h0m0 1h0m2-10h0m1 17h0m2 1h0m1 3h0m0-13h0m0-9h0m1 5h0m0 2h0m0-4h0m1 6h0m0-7h0m1 2h0m1 16h0m0-19h0m0 14h0m0 8h0m1-22h0m0 7h0m1 7h0m0-13h0m2 6h0m0 4h0m1 8h0m2-1h0m0 2h0m2-21h0m1 3h0m1 4h0m3-2h0m0-5h0m1 8h0m1-7h0m1 21h0m2 0h0m1-11h0m1 11h0m9-3h0m1-7h0m1 1h0m0 8h0m1-2h0m0-17h0m2 15h0m0-2h0m0-5h0m0 8h0m0-3h0m2 7h0m0-22h0m1 17h0m0-2h0m1-3h0m1 9h0m0 1h0m1-20h0m0 15h0m1 6h0m0-9h0m1-1h0m0-1h0m0-4h0m1-8h0m0 1h0m2-1h0m1 6h0m0 6h0m0-5h0m0 0h0m1-3h0m0 11h0m3-2h0m0 4h0m1 0h0m1 5h0m0-6h0m0 6h0m1-1h0m2 2h0m0-15h0m0-7h0m1 5h0m0 10h0m0-3h0m1 6h0m1-2h0m0 6h0m0-11h0m1 11h0m0-7h0m1-10h0m2 5h0m0 3h0m1-6h0m0 3h0m0 7h0m1-9h0m0-6h0m0 15h0m1-9h0m0 3h0m1 10h0m0-18h0m1-3h0m1 13h0m1 2h0m0-1h0m0-13h0m0 20h0m1-9h0m1-1h0m1-5h0m0 13h0m1-5h0m0-2h0m2-13h0m2 5h0m1 7h0m4 0h0m7 9h0m1-6h0m7-8h0m2 11h0m3-17h0m0 14h0m4 7h0m1-22h0m1 10h0m0-7h0m0 13h0m4-5h0m2-8h0m0 16h0m1-19h0m1 8h0m1 7h0m0-2h0m0-9h0m1 12h0m0-9h0m2-3h0m0 19h0m1-16h0m1 3h0m0-8h0m1 0h0m0 2h0m2-4h0m0 1h0m0 14h0m1-15h0m0 5h0m1-4h0m3 9h0m0 12h0m1-21h0m1 2h0m2 14h0m0-6h0m1-7h0m1 7h0m3-6h0m0 0h0m1 4h0m0 8h0m2-5h0m0-9h0m0 2h0m4-2h0m0 0h0m0 4h0m0 1h0m1-3h0m2 6h0m2-8h0m2 6h0m1 3h0m2-12h0m0 7h0m1 12h0m2 3h0m1-7h0m7-7h0m0 13h0m0-14h0m2 11h0m0-12h0m0 11h0m1-14h0m1 16h0m1 2h0m0 0h0m1 0h0m0-20h0m1 17h0m1-8h0m0 5h0m1-7h0m0-3h0m1 11h0m1-9h0m0 9h0m1 6h0m1-11h0m0 2h0m0 6h0m1-15h0m1 14h0m2 0h0m1-4h0m1-3h0m4 10h0m0-21h0m3 18h0m0-11h0m0-4h0m1 19h0m1-12h0m2 3h0m2-11h0m2 17h0m5-6h0m1 7h0m7-11h0m0 0h0m3 10h0m9-19h0m1 11h0m1 11h0m6-12h0m1 8h0m1-13h0m2 8h0m1 6h0m1 3h0m0-4h0m1-13h0m4-5h0m1 1h0m1 10h0m1-3h0m1 9h0m0-9h0m4 10h0m2-18h0m2 23h0m0-16h0m1 4h0m1 4h0m1-11h0m0 19h0m0-6h0m1 5h0m0-6h0m1-12h0m0 18h0m0-6h0m0 6h0m1-16h0m1 5h0m0-10h0m0 15h0m1-8h0m0-6h0m2 20h0m0-16h0m1-2h0m0 3h0m0-2h0m0 7h0m1 0h0m0 2h0m0-10h0m0 17h0m0-1h0m1-8h0m0-3h0m0-9h0m0 4h0m1 13h0m0-9h0m0-8h0m1 7h0m0-2h0m1 10h0m0-2h0m1-4h0m0 10h0m0-5h0m0-9h0m1 13h0m0-18h0m0 11h0m0-11h0m1 7h0m0 14h0m0-5h0m1-15h0m1 8h0m0 11h0m0 3h0m1-22h0m0 0h0m0 20h0m0-8h0m1 8h0m0-10h0m0 4h0m5 6h0m0-11h0m0 8h0m0-7h0m1-9h0m0-1h0m0 14h0m1-15h0m0 19h0m2-11h0m0-5h0m1 20h0m0-8h0m2 2h0m0 2h0m0-8h0m1 7h0m0 3h0m1-8h0m0 3h0m1-4h0m1-12h0m0 17h0m0-13h0m1 3h0m1 4h0m1 6h0m1-9h0m2 9h0m0-11h0m0-3h0m1 8h0m3-10h0m0 9h0m1-3h0m3-7h0m1 14h0m0-11h0m1 9h0m0 5h0m2-14h0m3 15h0m1-2h0m1-2h0m1-2h0m1-3h0m2-7h0m0 11h0m2 8h0m3-10h0m3 1h0m1-4h0m2 9h0m1-7h0m4 7h0m2-17h0m0 19h0m1-7h0m2-11h0m5 8h0m5-3h0m0 17h0m0-8h0m4 4h0m0-3h0m2 3h0m1 2h0m1-7h0m0 9h0m0-21h0m1 21h0m0-5h0m2-14h0m3 17h0m1 1h0m2-19h0m2 19h0m0-8h0m6 2h0m0 5h0m0-2h0m3-17h0m3 6h0m4 10h0m6-4h0m1-10h0m4 1h0m1-1h0m1 15h0m19-8h0m2-9h0m1 20h0m4-22h0m1 6h0m1-6h0m3 6h0m3 3h0m0 8h0m1-13h0m4-3h0m-18 39h0m-5-11h0m-4-5h0m-4 21h0m-10-16h0m-4 9h0m-3 6h0m0-6h0m0-2h0m-1-7h0m-1-4h0m-2 19h0m-1-9h0m-4-2h0m-1-9h0m0 14h0m-2-1h0m0 4h0m-1-4h0m-1-8h0m0 17h0m-1-20h0m-1-2h0m0 6h0m0 6h0m-1 2h0m0-11h0m-1-1h0m-1 16h0m0-5h0m0-5h0m0 1h0m-1-5h0m0 8h0m-3-2h0m0-9h0m-1 4h0m0-3h0m-1-1h0m-1 5h0m0 2h0m0-3h0m-1 8h0m0-7h0m0-6h0m-1 2h0m0 8h0m0 9h0m0 0h0m-1-13h0m0 1h0m-1 14h0m0-18h0m0 6h0m0 6h0m0-5h0m0-5h0m-2-1h0m0 12h0m0-2h0m0 5h0m0 3h0m-1-19h0m0 3h0m0 3h0m-1-6h0m0-3h0m0 1h0m0 1h0m0 19h0m-1-11h0m0 3h0m-1-8h0m-1 4h0m0 2h0m0 8h0m0-10h0m0 2h0m-2-8h0m-1 5h0m-2-3h0m0 15h0m-2-20h0m0 23h0m-1-15h0m0-7h0m-1 11h0m0 1h0m-2 0h0m0-8h0m-1 3h0m0 10h0m0-6h0m-2 5h0m-4-6h0m-2 3h0m-1-3h0m0-2h0m-7 10h0m-2-10h0m-2 7h0m0-9h0m-3 15h0m-7-17h0m-1 13h0m0-12h0m0-6h0m-1 5h0m0 16h0m0-18h0m0 2h0m-1-2h0m-1 12h0m-2 7h0m-1-17h0m-1 12h0m0 3h0m-1-19h0m-1 4h0m-1 13h0m-4-11h0m0 1h0m-4-6h0m-1 15h0m-1-17h0m0 9h0m-2 3h0m0 4h0m0 4h0m-2-8h0m-1-10h0m-3-1h0m-2 18h0m-2-14h0m-1-1h0m0 9h0m-1-8h0m0 3h0m-1-8h0m-1 8h0m0 7h0m-1-7h0m0 0h0m-1-2h0m0-3h0m-2 6h0m-2-9h0m0 11h0m0 0h0m-2-8h0m0 9h0m-1-11h0m0 16h0m-2-15h0m-1 4h0m-2 4h0m-1-8h0m-4 9h0m-5 8h0m-1-4h0m-5-8h0m-1 13h0m-1-6h0m-1 6h0m0-4h0m-1-2h0m-1-11h0m0 8h0m-1-10h0m-1 6h0m-3-5h0m-2-2h0m-1 9h0m-3 6h0m-1 0h0m0-5h0m-7-4h0m-1 15h0m-2-18h0m-2 9h0m-1 7h0m0-16h0m-1-2h0m-5-1h0m-9 12h0m-3 0h0m-4-5h0m0 3h0m-2 12h0m-1-16h0m-1-6h0m0 3h0m-4-3h0m0 0h0m-3 9h0m-2 4h0m0 1h0m-1-14h0m-1 8h0m0 9h0m-3-15h0m-1 5h0m0 16h0m-1-16h0m-1 13h0m0-15h0m-2-4h0m0 5h0m-1 7h0m-1-3h0m-3 11h0m-4-18h0m-1-1h0m0 14h0m-2-6h0m-2 5h0m-1-14h0m-5 6h0m0-5h0m-2 1h0m-2 20h0m-3-15h0m0 7h0m-3 0h0m-1-7h0m-3-5h0m-2-1h0m-2 17h0m-1-4h0m-2 5h0m-1-4h0m-1 2h0m0-16h0m-3-1h0m-2 10h0m0-2h0m-1 13h0m-1-11h0m-1 2h0m0-8h0m-1 8h0m0-13h0m-1 9h0m-3 8h0m-2-9h0m-2-7h0m-1-1h0m-1 7h0m-1-7h0m0 16h0m0-8h0m-1 9h0m0-5h0m-1 8h0m-1-3h0m-1-16h0m-2 15h0m-1-1h0m-1-2h0m-1-4h0m-2 9h0m-3 4h0m-1-1h0m-1-18h0m-5 18h0m-1-7h0m-7-11h0m0 12h0m-5-15h0m-5 5h0m-2 6h0m-4-2h0m-1 6h0m-3-9h0m-1-6h0m-2 6h0m-1 1h0m0 3h0m0-5h0m0 3h0m-1 5h0m0 2h0m-1-14h0m0 1h0m0 6h0m-2 9h0m-3-13h0m-1 0h0m-1 1h0m-3 4h0m0-2h0m0-2h0m0-2h0m-1 10h0m-1-10h0m-1 3h0m-2-5h0m0 21h0m-3-13h0m-1-6h0m0 18h0m-3-14h0m-1-4h0m-3-3h0m0 5h0m-3-4h0m0 9h0m-1 6h0m-1 4h0m0-9h0m-1-7h0m0 13h0m0-15h0m-5 13h0m-1-3h0m-1 6h0m-1 2h0m0-17h0m-2 15h0m0-18h0m-1 22h0m-3-16h0m-1 11h0m0-4h0m-4-4h0m-3-9h0m-1 18h0m0-12h0m-2 15h0m0-8h0m-5-2h0m-2 5h0m-3 3h0m-20-3h0m-4-14h0m-4 2h0m-2 1h0m-3 18h0m0-16h0m-1 14h0m-2-14h0m-1 16h0m-4-17h0m-4 6h0m-10 7h0m-2-11h0m-1-2h0m-6 16h0m0-12h0m-1 10h0m-3-7h0m-2 4h0m-1 2h0m0-16h0m-4 3h0m-5 13h0m0-7h0m0 7h0m0-1h0m-1-4h0m-8 8h0m0-19h0m-1 19h0m-1-11h0m0 2h0m-1 0h0m-16-12h0m-3 2h0m0-1h0m-11-1h0m-36 0h0m-1 5h0m-2 1h0m0-6h0m-7 2h0m0-3h0m0 0h0m-4 4h0m0-2h0m75 39h0m7 1h0m1-17h0m1 21h0m1-11h0m0 7h0m2-9h0m1-3h0m1-1h0m2 15h0m2-14h0m0 1h0m2-3h0m1 6h0m1 10h0m0-2h0m1-6h0m1 7h0m0-3h0m1 0h0m0 7h0m1-14h0m1-7h0m0-2h0m0 5h0m1 0h0m0 1h0m1 14h0m1-10h0m0-3h0m0 10h0m0 4h0m0-6h0m1-15h0m2 16h0m1-14h0m0 19h0m0 1h0m1-17h0m0 13h0m1 5h0m0-21h0m1 12h0m1 0h0m1 6h0m1-2h0m1-10h0m1 14h0m0-8h0m3-9h0m0 4h0m3 8h0m1-6h0m2-4h0m2 0h0m2 12h0m1-4h0m0-7h0m1-1h0m1 15h0m2-22h0m1 6h0m1-3h0m5 19h0m0-10h0m4 9h0m2 1h0m0-22h0m4 19h0m1 2h0m0 2h0m4 0h0m1-15h0m4 4h0m1-9h0m2 9h0m2 7h0m1 1h0m0-5h0m2-2h0m2-9h0m1 19h0m2-11h0m0-8h0m1 4h0m0 13h0m3-1h0m0-11h0m1 14h0m1-8h0m0 1h0m4-10h0m0 14h0m8-8h0m1-7h0m0 14h0m0-3h0m3-6h0m1-5h0m1 18h0m0-10h0m0-12h0m2 5h0m0 3h0m0-5h0m5 9h0m0 1h0m1-7h0m2 10h0m1-8h0m2 0h0m0 7h0m1-12h0m0 6h0m1-8h0m3 19h0m1-19h0m0 19h0m2 2h0m0-2h0m2 1h0m6-10h0m0-11h0m2 20h0m2-21h0m3 3h0m3 11h0m8 1h0m2 3h0m2-18h0m2 20h0m3-19h0m3 13h0m3-12h0m1 10h0m11 9h0m0 0h0m11-4h0m2-5h0m6-1h0m1-8h0m1-3h0m1 22h0m4-10h0m5 9h0m9-18h0m2 1h0m7 18h0m1-6h0m7-6h0m0 0h0m2-1h0m3 9h0m0-4h0m1-13h0m1 21h0m0 1h0m3-2h0m2-1h0m1 0h0m0 1h0m1-1h0m3-5h0m0 6h0m3 2h0m1-3h0m1-1h0m2-19h0m2 23h0m5-4h0m10 3h0m0-3h0m7-4h0m0-8h0m1 12h0m1 3h0m4-4h0m7-7h0m5 2h0m6 10h0m1-1h0m3-20h0m1 11h0m2-1h0m2 11h0m0-10h0m0 10h0m1-9h0m0-10h0m0 11h0m1 6h0m0-2h0m1-12h0m2 2h0m3 9h0m1-18h0m0 19h0m4-10h0m1 0h0m1 12h0m0-7h0m1-3h0m1-11h0m0 12h0m1-6h0m2 12h0m1-7h0m0-11h0m0 17h0m1 1h0m0-6h0m1 0h0m1-5h0m0 5h0m3-7h0m0 1h0m2 17h0m2-4h0m1-6h0m2-11h0m1 17h0m2 1h0m0-6h0m1-1h0m1 9h0m3-16h0m2-2h0m10-4h0m2 6h0m0 16h0m3-13h0m1-4h0m3 5h0m10 1h0m0-1h0m1-1h0m4 5h0m0 5h0m2-9h0m1-1h0m1-3h0m2 4h0m0-5h0m2 4h0m3 5h0m1 5h0m1-7h0m1 0h0m2-3h0m1-5h0m1-4h0m0 8h0m1 10h0m0-4h0m2 5h0m1 1h0m1 1h0m2-16h0m3 0h0m1-2h0m1-2h0m1 1h0m2 13h0m1-2h0m0-9h0m2-2h0m2-2h0m0 8h0m2 12h0m2-1h0m1-14h0m1-1h0m3 1h0m3-2h0m0 18h0m2-6h0m5-9h0m4-1h0m2-5h0m4 14h0m1-7h0m2-6h0m5 17h0m1-4h0m2-7h0m1-1h0m0 2h0m1 9h0m4-14h0m0-2h0m1 0h0m1 1h0m1 17h0m4-18h0m12 8h0m-22 22h0m-3-1h0m-9 5h0m-11-8h0m-2 9h0m-3-2h0m-1 0h0m-2 4h0m-1 6h0m-1-3h0m-1-2h0m-2-3h0m-1-8h0m-2-2h0m0 18h0m-1-8h0m-1 3h0m-1 3h0m-5-4h0m-1-14h0m-3 19h0m-3 2h0m-1-8h0m-5 3h0m-5-8h0m-1 14h0m-7-15h0m-4 5h0m-4-10h0m-19 1h0m-5 19h0m-3-4h0m-11-16h0m-4 14h0m-2 0h0m-2-11h0m0 7h0m-2-3h0m-3 13h0m-1-17h0m-1 16h0m-2-11h0m-1-7h0m-4 5h0m0 0h0m-2 10h0m-3-18h0m-6 1h0m0 11h0m-4-9h0m0-1h0m-2 20h0m0 0h0m-5-11h0m-1 11h0m-1-6h0m0-1h0m-1-13h0m-1 10h0m0-3h0m-1 11h0m-1-5h0m-4-15h0m-3 10h0m-5-4h0m-1 4h0m-1 13h0m-1-17h0m0-3h0m-1 3h0m-1 0h0m-2 17h0m0-1h0m-4 0h0m-1-3h0m-1-3h0m-6-8h0m-3-5h0m-4 8h0m-3 0h0m0 1h0m-1 3h0m-1-7h0m-3 11h0m0-8h0m-2-3h0m-1 5h0m-1 10h0m-1-21h0m-2 11h0m0-9h0m-1 18h0m0-20h0m-1 20h0m-1-11h0m0-8h0m-1 1h0m-1 18h0m0-19h0m0 12h0m0-8h0m0-5h0m-1 7h0m-3-8h0m-1 20h0m0-15h0m0 3h0m-2-2h0m0 11h0m0-13h0m-3 7h0m-3-7h0m-1 15h0m-1-11h0m-5 14h0m-1-15h0m0 6h0m-1 8h0m-1-12h0m-3-6h0m0 5h0m-2-8h0m-1 19h0m-6-11h0m-1 14h0m-8-10h0m-2-5h0m-1-4h0m-2 1h0m0 5h0m-1 5h0m-1-1h0m0-10h0m-5 0h0m0 8h0m0 5h0m0 2h0m-2-13h0m-2 7h0m0 9h0m-2-8h0m-1 0h0m-2-12h0m0 17h0m-2-19h0m-2 16h0m-1-5h0m-8 7h0m-2 1h0m-1 1h0m-1 1h0m-5-8h0m-2-3h0m-2-5h0m-2-2h0m-2 16h0m-1 0h0m-1-8h0m-6 1h0m-1 7h0m-1 3h0m-6 1h0m-2-6h0m0-1h0m-2 5h0m-1-3h0m-1-17h0m0-1h0m-1 18h0m-2-13h0m-3-1h0m-4 17h0m-1-18h0m-1 16h0m-1 2h0m0-16h0m-3 14h0m0-13h0m-1 17h0m0-8h0m0 6h0m-1-21h0m0 5h0m-1 18h0m0-12h0m0 4h0m-1 5h0m-1-15h0m-1 3h0m-1 0h0m-3 13h0m-1-15h0m-1 15h0m-2-19h0m0 1h0m-1 9h0m0 3h0m0-15h0m-1 14h0m0 5h0m-1-12h0m-2 9h0m-2-1h0m0-11h0m0 14h0m-2-18h0m0 22h0m0-20h0m0 5h0m0 8h0m-1 1h0m-1-3h0m-2 0h0m-1 9h0m0-10h0m0 3h0m-1-12h0m0 12h0m0 1h0m-1 3h0m-2-4h0m0-6h0m0-7h0m-2 12h0m-1 2h0m-2 5h0m-2-7h0m-1 3h0m0 1h0m-2-12h0m0 2h0m0 6h0m-1-6h0m0 13h0m-3-18h0m-4 3h0m-3 0h0m-4 10h0m-1 4h0m0-15h0m-4 15h0m-2-12h0m-2-4h0m-3-1h0m-1 12h0m-1-5h0m0 1h0m0-3h0m-1-6h0m0 17h0m-2-12h0m-2-1h0m-2 3h0m-1-7h0m-1 14h0m-1-1h0m-3-9h0m0 17h0m-2-10h0m-3 9h0m-2-15h0m-1 5h0m0-1h0m-1 8h0m-1-4h0m-1 6h0m-2-21h0m-3 0h0m-1 20h0m-1-1h0m-6 3h0m0-8h0m-1 9h0m-1-13h0m-1-10h0m-1 4h0m-3-2h0m0 8h0m-2 9h0m-3-17h0m-1 19h0m-1-9h0m-3 3h0m-2 7h0m0 0h0m-1-8h0m-1 7h0m-4-7h0m0 1h0m-2 5h0m-1-9h0m-3 10h0m-3 0h0m0-5h0m-2-10h0m0 1h0m-3 0h0m-1 2h0m-1 7h0m-4 6h0m0 0h0m-4-22h0m0 7h0m0 5h0m-1 2h0m0 3h0m-1 6h0m0-8h0m0-11h0m-2-3h0m0 17h0m0 5h0m-1-6h0m-1 1h0m-1-15h0m-1 9h0m-2 8h0m-1-16h0m-1 2h0m-2 9h0m-1-9h0m-2 13h0m0-16h0m0 14h0m-1 3h0m0-3h0m-1 4h0m0-2h0m-2-19h0m-2 18h0m-1 5h0m-1-13h0m-4 11h0m-3-5h0m-11-2h0m13 10h0m12 0h0m8 3h0m5-3h0m0 3h0m2 3h0m1 5h0m1-3h0m0-6h0m1 4h0m2-5h0m1 1h0m1 6h0m1 4h0m1 2h0m0-11h0m2 5h0m0-5h0m1 16h0m1-18h0m0 0h0m0 3h0m1 2h0m0-2h0m1 15h0m0-8h0m1 10h0m0-10h0m0-6h0m2 0h0m0-5h0m1 20h0m0-13h0m1-3h0m0 8h0m0-5h0m0 8h0m1-1h0m0-5h0m0 8h0m1-15h0m1-1h0m0 13h0m0-6h0m1 6h0m0-6h0m3-2h0m0-5h0m0 15h0m0-6h0m1-1h0m0 1h0m0 0h0m0 2h0m0-3h0m0-7h0m1 4h0m0 6h0m0-11h0m1 0h0m0-1h0m1 0h0m0 19h0m1-12h0m0 4h0m0-5h0m0 4h0m1 1h0m0 10h0m0-9h0m0-4h0m0 4h0m0 0h0m1-5h0m0 5h0m2-11h0m0 3h0m0 2h0m0 12h0m1-7h0m1 4h0m0-11h0m1 9h0m1-10h0m0 9h0m1-4h0m0-5h0m0 14h0m1-11h0m0 6h0m2-8h0m0-3h0m1 11h0m0 8h0m2-8h0m0-5h0m0 2h0m1-5h0m1 18h0m2-7h0m1-14h0m4 3h0m0 1h0m0 14h0m3-17h0m16 5h0m24-5h0m21 1h0m2 14h0m3-10h0m1-6h0m0 7h0m8-4h0m0 1h0m1 7h0m1-5h0m1 3h0m1 9h0m2-17h0m0 12h0m2-3h0m0-2h0m2-3h0m0 10h0m0-6h0m1 10h0m1-17h0m1 13h0m1-8h0m2 3h0m2-8h0m1 11h0m1-10h0m1 16h0m0-15h0m2 17h0m0-21h0m2 22h0m2-15h0m1 2h0m1-7h0m1 15h0m0-4h0m1 6h0m0 2h0m0-3h0m1-12h0m0 10h0m0-17h0m0 7h0m2 6h0m0-3h0m2 5h0m1 4h0m1 4h0m0-6h0m1-15h0m2 15h0m0-2h0m0-13h0m1 18h0m0 3h0m0-22h0m0 3h0m1 16h0m0-16h0m1 16h0m0-2h0m1-5h0m0-9h0m2 3h0m0-4h0m2 1h0m0 8h0m1 10h0m0-16h0m1 11h0m0-9h0m1-4h0m1 0h0m0 9h0m1-6h0m1 14h0m1-11h0m1-5h0m0 9h0m0 0h0m1-5h0m0-6h0m1 7h0m1 7h0m1-4h0m0 1h0m1-3h0m0-4h0m2 11h0m1-8h0m0 1h0m1 8h0m0 3h0m3-10h0m2 8h0m1-14h0m2-1h0m0 5h0m3-6h0m0 0h0m1 15h0m1-14h0m1 0h0m1 4h0m1-8h0m4 8h0m1-2h0m1-2h0m2 3h0m1-3h0m1 11h0m2-16h0m4 21h0m2-14h0m1 4h0m2-6h0m3 15h0m2-17h0m5 11h0m4-9h0m11 14h0m1-3h0m2-16h0m3 2h0m2 19h0m2-17h0m2 4h0m1-5h0m0 5h0m1 9h0m3-9h0m1-8h0m3 2h0m2 10h0m0 0h0m0 0h0m1-2h0m0-7h0m2-1h0m0 18h0m1-11h0m1 6h0m0-11h0m1 3h0m0 14h0m3-6h0m1-4h0m0 0h0m0-9h0m2 1h0m1 2h0m1-3h0m0 4h0m0 3h0m1 5h0m0-9h0m2 2h0m0-4h0m3-2h0m1 20h0m2-21h0m1 5h0m2 4h0m1-7h0m2 15h0m1-8h0m1 7h0m4-8h0m2 5h0m3-8h0m6 2h0m2 5h0m6-9h0m5 12h0m8 8h0m0-22h0m2 0h0m7 18h0m2 2h0m2-20h0m12 21h0m1-2h0m1-9h0m2 1h0m5 9h0m1-21h0m3 7h0m1 9h0m1-6h0m4-3h0m3 4h0m1 7h0m2 4h0m3 0h0m1-3h0m1-13h0m3 2h0m2 9h0m2 0h0m0-5h0m0 7h0m1-13h0m1-4h0m0 11h0m1-8h0m1 6h0m4-1h0m3 9h0m1 2h0m1-7h0m3 9h0m1-8h0m4 3h0m3-17h0m0 10h0m1-3h0m4 4h0m1 3h0m0-14h0m0 6h0m0 2h0m0-4h0m0-5h0m1 13h0m0-3h0m1-6h0m0 0h0m2 6h0m1-9h0m1 14h0m1 3h0m2 2h0m1-6h0m8 1h0m9-11h0m7-1h0m6-2h0m8-1h0m2 14h0m1-13h0m7 10h0m10 9h0m5 3h0m1-6h0m1 5h0m0-9h0m0 9h0m1-4h0m0 2h0m1 2h0m1-6h0m1-2h0m0 9h0m0-1h0m1-1h0m0-6h0m0 5h0m1 3h0m1-7h0m0 2h0m0-1h0m0-3h0m0 9h0m1 0h0m0-6h0m0 5h0m0-1h0m2 2h0m0-1h0m1 0h0m0-7h0m1 5h0m0-2h0m0 3h0m0-4h0m0 3h0m1-3h0m0 6h0m1-4h0m3 0h0m1-8h0m1 12h0m0-3h0m2 1h0m0 1h0m1-2h0m-2 7h0m0-3h0m-2 9h0m0-7h0m-2 3h0m0 2h0m-1-5h0m-2 5h0m0-6h0m-1 2h0m0-1h0m-1 4h0m-1-1h0m0-5h0m0 8h0m-1 0h0m0 1h0m0-6h0m0 2h0m-1-3h0m0 6h0m0-7h0m0-1h0m0 5h0m-1 5h0m-2-5h0m0-1h0m0 2h0m-4 0h0m0-2h0m0-2h0m-1 0h0m0 4h0m-1-1h0m-5-2h0m-68 3h0m-12-2h0m-5 3h0m0 12h0m0-13h0m-2 14h0m-2-6h0m-2-1h0m-2-1h0m0 3h0m0-8h0m-1 0h0m0 1h0m-3 12h0m-1-16h0m-1 14h0m-1-6h0m0-5h0m-2 1h0m-3 4h0m-2-8h0m0 15h0m-3-1h0m-1-13h0m-2 4h0m-2 3h0m0 11h0m-1-19h0m-2-4h0m-2 6h0m-7 4h0m-3 8h0m-4-1h0m-5-8h0m-5 9h0m-2-9h0m-5 2h0m-2-2h0m-2-9h0m-1 2h0m-8 18h0m-2-12h0m-23-3h0m-1 15h0m0-14h0m-3-5h0m-5 11h0m-5-6h0m-4-5h0m-1 7h0m-7 13h0m-2-15h0m0-5h0m-1 17h0m-1 4h0m-2-13h0m-9 6h0m-3-14h0m-9 19h0m0-17h0m-7 13h0m-2 3h0m-2 4h0m-33-9h0m-7-13h0m0 3h0m-2 9h0m-2-7h0m-7 0h0m0 15h0m-2-10h0m-1-8h0m-1 2h0m0-4h0m-3 1h0m0 17h0m-1-12h0m0-3h0m-1 6h0m-2 5h0m0 0h0m-1-9h0m-1 1h0m0-2h0m-1-1h0m-1 6h0m0-8h0m-2-2h0m-1 3h0m-1 7h0m0-3h0m-1-6h0m0 8h0m0 6h0m-1 1h0m0-14h0m-4 2h0m0-4h0m0 11h0m0-3h0m0 15h0m-1-15h0m0-6h0m0 11h0m0 0h0m-1-7h0m-1 5h0m0-9h0m0-2h0m-1 9h0m-1 3h0m-1-10h0m-1 0h0m-1-1h0m-1 4h0m-1 9h0m-1-7h0m0-6h0m-3 20h0m-1-15h0m0 0h0m0-3h0m-1-1h0m0-1h0m-1 4h0m0 0h0m0 15h0m-1-13h0m0 8h0m0-3h0m-1-6h0m0-4h0m-2-2h0m-1 0h0m0 15h0m0 1h0m0-15h0m0 2h0m0 2h0m-2 6h0m0-7h0m0-2h0m-6 1h0m-2-1h0m-139-2h0m163 25h0m7 17h0m2-3h0m2 8h0m4-15h0m6 12h0m1-3h0m2-2h0m0-7h0m1 3h0m2 8h0m1 0h0m1 1h0m0-6h0m2-8h0m0 12h0m3-3h0m0 4h0m2-4h0m0 8h0m1-23h0m1 6h0m2 5h0m1 6h0m1-7h0m1 3h0m4-11h0m1 17h0m2-1h0m32-12h0m46-2h0m13-2h0m3-2h0m1 16h0m3 5h0m10-20h0m20-1h0m8 0h0m6 0h0m31 16h0m2 2h0m32-18h0m-31 33h0m-2 2h0m-1-8h0m0 8h0m-62 10h0m-4-9h0m-2-1h0m-3-1h0m0-7h0m-4 7h0m0 10h0m-3-14h0m-1 5h0m0 2h0m-5-6h0m-2 8h0m-2-6h0m0 0h0m-1 12h0m0-12h0m-4-1h0m-47 8h0m-4-5h0m-2 0h0m-3-7h0m0 16h0m-2-1h0m0-7h0m-2 0h0m0-2h0m-1 2h0m0 0h0m-2 11h0m-2-9h0m-1 2h0m-1 4h0m0-6h0m0-6h0m0 11h0m-4-3h0m0 2h0m-2-10h0m-4-1h0m0 8h0m-1 8h0m0 0h0m0-3h0m-1 0h0m-1 3h0m0-12h0m-2-7h0m-1 3h0m-1-1h0m0 10h0m0-5h0m-1-2h0m0 6h0m0 0h0m0 8h0m-1-9h0m0 0h0m0 0h0m0 6h0m-1-14h0m0-2h0m-2 3h0m0-2h0m0 16h0m0-8h0m-1 1h0m0 5h0m0-1h0m0-3h0m0 5h0m-1-8h0m0 4h0m0 1h0m-1-6h0m0 0h0m0-7h0m-1-4h0m0 20h0m0-19h0m-1 1h0m0 5h0m0 5h0m0 2h0m-1 0h0m0-9h0m0 10h0m-1-15h0m0 3h0m-1 4h0m0 13h0m0 0h0m0-14h0m0-5h0m0 19h0m-1-19h0m-1-1h0m0 12h0m0-9h0m0 20h0m0-6h0m0 3h0m-1-20h0m-1 2h0m0-2h0m0 12h0m0 11h0m-1-5h0m0-11h0m0 6h0m0-5h0m0 6h0m-1-7h0m0 4h0m0-6h0m0-3h0m0 7h0m0-5h0m0 1h0m0 11h0m-1-6h0m0 7h0m0-7h0m0-2h0m0 6h0m-1-3h0m0-1h0m0-5h0m-1 2h0m0 15h0m-1-12h0m0-2h0m0-5h0m0 14h0m0-11h0m0-6h0m-1 3h0m0 13h0m-1-9h0m0 7h0m0-6h0m0 0h0m-1-6h0m0 7h0m0 12h0m-1-13h0m-1-4h0m0 2h0m0 14h0m0-7h0m0 9h0m-1-20h0m-1 11h0m-1 7h0m-1-20h0m-1 21h0m-2-21h0m0 21h0m0-4h0m-1-13h0m-1 12h0m0 1h0m-2-4h0m-1 0h0m-2 4h0m-1 4h0m-1-14h0m0 16h0m-1-4h0m-1 0h0m-1 1h0m0 3h0m-5-5h0m-8-1h0m-5 15h0m6-3h0m5-3h0m0 8h0m0-9h0m1 4h0m2 6h0m0-8h0m1 7h0m0-10h0m0 9h0m1-4h0m3 3h0m0-7h0m1 0h0m0 2h0m0 6h0m1 9h0m0-7h0m1-7h0m2 8h0m0-11h0m2 20h0m1-21h0m1 15h0m0 1h0m0 4h0m1-16h0m1 2h0m0 1h0m0 1h0m1 12h0m1-18h0m1 8h0m1-1h0m1-2h0m0 6h0m1 5h0m1-2h0m0-15h0m0 4h0m1-1h0m0 4h0m0 2h0m0 6h0m0 0h0m0 5h0m1-17h0m0 6h0m0 12h0m1-19h0m1 8h0m2-8h0m0-3h0m0 10h0m1 11h0m0-4h0m1-6h0m0-10h0m1 15h0m1-9h0m0 5h0m0 7h0m0-15h0m1 6h0m0-10h0m0 21h0m0-16h0m0 10h0m0 7h0m1-12h0m0 9h0m0 3h0m1-16h0m0 15h0m1-16h0m1-5h0m3 3h0m0 11h0m1-7h0m0-4h0m0 14h0m1-9h0m0-5h0m1 5h0m0-3h0m0 0h0m1 10h0m1-13h0m2 5h0m1-5h0m1 0h0m3-2h0m1 5h0m2 2h0m2-5h0m0-1h0m2-1h0m89 0h0m4 5h0m3 5h0m1-4h0m1-5h0m5 7h0m-122 21h0m-5-3h0m-5 5h0m-2-5h0m-4 1h0m-1 8h0m0-7h0m-1 5h0m0-7h0m0-1h0m0 2h0m-1 1h0m0-4h0m-2 1h0m0 9h0m-1-10h0m0 13h0m-1-8h0m-1 0h0m0-4h0m-3 6h0m-4-4h0m144 34h0m5-10h0m1 19h0m0-13h0m1 10h0m1-17h0m1 7h0m1-5h0m1 11h0m1 1h0m2 2h0m0 0h0m2-6h0m2-6h0m1 2h0m1 9h0m1 6h0m6-10h0m5-12h0m1 7h0" stroke="#d2d2d2" stroke-width="4.6"/></g></defs>
<use href="#bgc" x="434" y="1060"/>
<use href="#bgc" x="1221.6" y="1060"/>
<use href="#bgc" x="2009.2" y="1060"/>
<use href="#bgc" x="2796.8" y="1060"/>
<use href="#bgc" x="3584.4" y="1060"/>
<path d="M497 1116h0m23 8h0m-9 8h0m-1-4h0m-8 3h0m-102 20h0m-2-2h0m-18 0h0m3 11h0m3 2h0m17 0h0m-135 32h0m-4-5h0m0 3h0m-8 3h0m-8 4h0m-79 22h0m7-15h0m6 11h0m7-6h0m11-7h0m4 11h0m2-6h0m1 5h0m42-6h0m2-5h0m0-2h0m1 17h0m1-14h0m2 2h0m4 11h0m4-1h0m2-14h0m2 17h0m0-14h0m9 14h0m4-14h0m3 10h0m1-6h0m153 10h0m3 3h0m2-1h0m5-2h0m1-12h0m0 16h0m2-13h0m4 13h0m3-7h0m2 8h0m-2 0h0m-3 5h0m-1 1h0m-8-3h0m-71 20h0m-14-8h0m-5-2h0m-3 5h0m-1-13h0m-2-3h0m-3 0h0m-4 16h0m-1-8h0m-1 11h0m-5-3h0m-17 2h0m-6-9h0m-36-4h0m-33-3h0m-33 16h0m-19-9h0m-17-11h0m-4 9h0m-3 14h0m-4-15h0m-2-5h0m-13-2h0m-3 13h0m-14 12h0m11 3h0m16-3h0m11 7h0m6 12h0m2 2h0m6-9h0m11-14h0m2 9h0m2 2h0m4 3h0m7 3h0m8-6h0m3 6h0m4 2h0m121-19h0m127 15h0m60-10h0m13 10h0m0 6h0m1-4h0m0 5h0m5 0h0m2-6h0m5 5h0m2 2h0m2-5h0m1 3h0m2 2h0m1 0h0m0-3h0m20-15h0m65 10h0m78 29h0m-45-16h0m-21-4h0m-26 1h0m-58 16h0m-15-17h0m-11 0h0m-16 4h0m-143 17h0m-86-2h0m-39-4h0m-45-7h0m-1 11h0m-1-18h0m-11 11h0m-1-4h0m-1 2h0m-4-1h0m-1-4h0m-12 1h0m-1 16h0m-19-1h0m-16-18h0m-1 15h0m-20 2h0m-5-15h0m-14 17h0m-16 14h0m8 7h0m13-6h0m1-12h0m7 11h0m5-4h0m7 0h0m2 8h0m1-12h0m0 14h0m13-11h0m4 14h0m1-1h0m2-5h0m0-2h0m4-5h0m1 11h0m0-5h0m3-5h0m1-9h0m3 13h0m0-2h0m1-1h0m4-8h0m39 21h0m1-1h0m8-19h0m8 10h0m12-5h0m9-1h0m24 3h0m27-7h0m12 3h0m4 0h0m13 14h0m18 3h0m4-20h0m18 9h0m8-11h0m2 16h0m45-4h0m55-7h0m10 3h0m168-5h0m-30 25h0m-43 15h0m-1-16h0m-87 2h0m-103-2h0m-13 2h0m-5 15h0m-45-5h0m-4-3h0m-2 0h0m-25-9h0m-11 12h0m-6 3h0m-10-12h0m-4-1h0m-13 13h0m-9-10h0m-8 1h0m-2 0h0m-19 6h0m-3-4h0m-1 11h0m0-6h0m-19 4h0m-17 0h0m0-16h0m-2 12h0m-11-7h0m-11 2h0m-3 3h0m-3-10h0m-7-2h0m-1 5h0m-4 4h0m-4-7h0m-2-5h0m-3 13h0m-9 4h0m-4-16h0m0 5h0m-7-6h0m-3 12h0m19 34h0m13-5h0m5 3h0m2-7h0m3-13h0m7 4h0m6-4h0m3 2h0m1 8h0m1 7h0m2-6h0m0-1h0m3-10h0m1 4h0m8 12h0m12-11h0m5 7h0m9-11h0m1 10h0m5-11h0m6 16h0m0 2h0m18-15h0m1 9h0m0 7h0m2-3h0m6-3h0m3 2h0m9 2h0m5 0h0m44-12h0m3 9h0m31 4h0m13-17h0m13 14h0m2-1h0m2-3h0m1-4h0m4 3h0m0-8h0m88 0h0m115 13h0m1 4h0m46-12h0m49 31h0m-20-5h0m-2 5h0m-35 2h0m-20-5h0m-16 1h0m-31 5h0m-23-11h0m-65 13h0m-21-17h0m-4 2h0m-10-4h0m-20 19h0m-15-9h0m-11-10h0m-5 21h0m-20-19h0m-8 16h0m0-4h0m-20-6h0m-22-6h0m-5 18h0m-11-5h0m-42-8h0m-14 15h0m-2-21h0m-2 0h0m-15 15h0m-2-6h0m-16 11h0m-10-7h0m-1 1h0m-9 8h0m-8-9h0m-14 3h0m-1-3h0m-6 5h0m-2-18h0m0 9h0m-3-8h0m-5 7h0m-23-9h0m-11 7h0m-5 5h0m-5-8h0m-2 9h0m9 27h0m14-4h0m2 9h0m4 0h0m21-15h0m1 16h0m1 0h0m2-21h0m0 9h0m1 6h0m10-8h0m1-6h0m2 5h0m3 15h0m4-17h0m13 2h0m2 5h0m0-6h0m1 2h0m1 13h0m8-16h0m1 9h0m1 0h0m6-13h0m2 1h0m8 19h0m11 0h0m4-10h0m6-4h0m0 8h0m4 5h0m1-11h0m2-9h0m7 13h0m2 8h0m2-16h0m2 12h0m4 5h0m1 0h0m12-8h0m1 2h0m2-5h0m1 6h0m2-15h0m11 12h0m13 1h0m1-11h0m1 12h0m1 5h0m0-1h0m4 3h0m9-1h0m17-1h0m0-9h0m8 9h0m18 2h0m0-9h0m17-4h0m14 1h0m6 10h0m33-7h0m118 5h0m19 2h0m61-1h0m73 5h0m-115 7h0m-1 12h0m-82-7h0m-53 7h0m-22-1h0m-13 0h0m-3-12h0m-3-2h0m-3 13h0m-11-15h0m-1 12h0m-2-7h0m-2 9h0m-9-3h0m-6 5h0m-2-6h0m0-9h0m-13 8h0m-1 6h0m-1-18h0m-2 11h0m-1 11h0m-11-15h0m-6 14h0m0-15h0m-2 6h0m-2 4h0m-9 6h0m-1-13h0m-4 12h0m-4-8h0m-5 3h0m-5-2h0m-6-1h0m-5-6h0m-6 1h0m-12 13h0m-6-21h0m-3 11h0m-9 9h0m-1-4h0m-7 0h0m-5-15h0m-1 2h0m-11 11h0m-1 1h0m-1 7h0m-11-5h0m-1-10h0m-7-5h0m0 21h0m-2-6h0m0-13h0m-11 7h0m-1 3h0m-4 9h0m-2-10h0m-17-10h0m-3-3h0m-4 8h0m-1-2h0m-1 8h0m-6-11h0m-1 10h0m0-5h0m-9 12h0m-4-7h0m-15 3h0m-7-12h0m-8 0h0m-2-4h0m-5 11h0m-1-9h0m3 38h0m19-7h0m0 1h0m2-8h0m13 17h0m10-9h0m1-8h0m3 7h0m9 12h0m1-7h0m3 2h0m1-10h0m19 0h0m2 5h0m3-10h0m1 9h0m2 12h0m9-12h0m5 5h0m13-10h0m5-3h0m0 2h0m21 19h0m1-4h0m1 1h0m1-4h0m2 2h0m3-12h0m3-3h0m2 2h0m0 18h0m1 0h0m39-20h0m5 15h0m3-2h0m8-4h0m8 10h0m10-12h0m2 4h0m11-6h0m6 0h0m2 11h0m9-6h0m5-2h0m3-6h0m3 16h0m2-20h0m5 12h0m6 9h0m1-4h0m12-4h0m35-8h0m1 15h0m41-9h0m21 8h0m79-10h0m73 6h0m8-16h0m1 5h0m-210 19h0m-14 5h0m-15 1h0m-12-3h0m-8 6h0m-12 0h0m-4-4h0m-2-3h0m-2 5h0m-10 0h0m0-5h0m-5 18h0m-9-14h0m-2-6h0m-6 2h0m-5 0h0m-4 19h0m-1-4h0m-4 6h0m-1-1h0m-16-18h0m-2 14h0m-28-4h0m-30-6h0m-2 7h0m-5-15h0m0 14h0m-17 9h0m-16-6h0m-3-3h0m-4-7h0m-7-1h0m-20 4h0m-4 9h0m-9 4h0m0-19h0m-1-2h0m-2 5h0m-1 6h0m-4-5h0m-1-4h0m-9 13h0m-1-15h0m-3 15h0m-2-2h0m-12-9h0m-3-6h0m-3 15h0m-9-3h0m-5 3h0m-5-13h0m-16 15h0m-5-15h0m23 22h0m14 14h0m3-14h0m24 8h0m5-4h0m9-4h0m10 15h0m0-13h0m3 17h0m9-11h0m23 11h0m11 4h0m16-21h0m6 1h0m25 13h0m1-5h0m4 2h0m2-12h0m8 1h0m0 12h0m8 1h0m11-10h0m4 18h0m8-10h0m2 10h0m5-21h0m10 1h0m5 14h0m17-14h0m1 14h0m19 1h0m13-13h0m7-1h0m12 11h0m3-8h0m80 12h0m146-12h0m47 17h0m-234 11h0m-1 4h0m-8-11h0m-9 5h0m-29 9h0m-31 0h0m-6 3h0m0-13h0m-3 12h0m-27-14h0m-23-3h0m-20 16h0m-2-9h0m-23-8h0m-34-2h0m-8 2h0m-11 14h0m-3-8h0m-7 2h0m-22 8h0m-13-3h0m-10 2h0m-30-6h0m25 23h0m11-2h0m2 3h0m11-10h0m27 11h0m6-11h0m2 6h0m1 16h0m5-12h0m7 2h0m45-8h0m36 2h0m23 11h0m2-4h0m8 8h0m6-19h0m16 0h0m0 11h0m19-5h0m115-8h0m187 25h0m-58 19h0m-83-15h0m-123 9h0m-21-4h0m0-1h0m-5 5h0m-15-2h0m-2 10h0m-6-23h0m-9 2h0m-11 3h0m-30-4h0m-24 12h0m-80-8h0m-26 17h0m169 20h0m18-8h0m12 13h0m1-7h0m1-5h0m6 1h0m2-11h0m3 22h0m1-20h0m2 17h0m3 0h0m4-14h0m4 6h0m2-5h0m0 15h0m1-12h0m0 4h0m0-11h0m8 6h0m1 10h0m239 0h0m2 4h0m1 10h0m-3 5h0m-10-2h0m-1-12h0m-84 22h0m-5-5h0m-9 0h0m-2 2h0m-3-4h0m-20 0h0m-1 0h0m-14 3h0m-4 4h0m-116-17h0m-4 1h0m-56-2h0m5 34h0m7-8h0m165 5h0m3 2h0m2-11h0m3 13h0m2 2h0m3-13h0m0 4h0m4 6h0m1-9h0m0 13h0m2-18h0m1 0h0m0 15h0m0-8h0m5-6h0m2 3h0m1 11h0m1-3h0m0-3h0m2 9h0m3-16h0m1 16h0m1 2h0m5-9h0m5-7h0m2 6h0m-80 108h0m2-1h0m-17 5h0" stroke="#f5b368" stroke-width="6.8"/>
<g fill="#f09a30" filter="url(#bl)"><ellipse cx="282.4" cy="1465.8" rx="50.5" ry="71.2"/><ellipse cx="197.6" cy="1575.5" rx="50.5" ry="48"/><ellipse cx="323.9" cy="1614.9" rx="36.4" ry="75.4" transform="rotate(-28 323.9 1614.9)"/><ellipse cx="354.9" cy="1677" rx="56.3" ry="52.2"/><ellipse cx="350.8" cy="1308.4" rx="20.7" ry="14.9"/><ellipse cx="319.7" cy="1304.3" rx="10.8" ry="13.3"/><ellipse cx="279.5" cy="1580.9" rx="49.7" ry="62.1"/><ellipse cx="241" cy="1569.3" rx="41.4" ry="33.1"/><ellipse cx="249.3" cy="1536.2" rx="29" ry="37.3"/><ellipse cx="265.9" cy="1569.3" rx="53.8" ry="70.4"/><ellipse cx="299" cy="1544.5" rx="24.8" ry="45.5"/></g>
<path d="M359 1292h0m-7-9h0m-2 12h0m-2-4h0m-3-3h0m-13-8h0m-1 8h0m-2 4h0m-4 2h0m-3-2h0m-5 1h0m0-3h0m-5 4h0m-15-13h0m-43 35h0m10-5h0m19 2h0m4-13h0m2 0h0m14 7h0m5-4h0m1 5h0m1 2h0m1 8h0m2-4h0m4 3h0m4 2h0m4-4h0m2-15h0m0 16h0m2-12h0m1-5h0m0 6h0m1 4h0m0-8h0m1 17h0m0-6h0m3-15h0m9-1h0m0 14h0m13-10h0m4-3h0m1 19h0m4-8h0m2-8h0m0 19h0m1-20h0m1 16h0m1-8h0m2 5h0m2-14h0m5 12h0m-18 10h0m-4 3h0m-2 1h0m-2 2h0m-2 3h0m-7-6h0m0-3h0m-9 3h0m-1-3h0m-3 8h0m-30 4h0m-4-7h0m-23 8h0m-8-11h0m-8 6h0m-3-1h0m-4-7h0m-6 16h0m-2 4h0m-5-15h0m-8 24h0m0-4h0m8 3h0m9-2h0m13 6h0m2 5h0m42 22h0m-7 0h0m-16 6h0m-1-12h0m-9 15h0m-65-5h0m-11 7h0m-2-12h0m-3 10h0m-9 0h0m-4-10h0m-12-6h0m-22 19h0m-2 0h0m-19-4h0m-11 23h0m9-7h0m4-7h0m3 13h0m2 0h0m5-14h0m2 13h0m1 4h0m2-12h0m2-4h0m1-1h0m2 10h0m4 2h0m3 4h0m3-8h0m4 4h0m3-9h0m2-2h0m2 0h0m1 11h0m2 4h0m20-4h0m1-11h0m1 12h0m1-4h0m6-5h0m15 16h0m11-12h0m20 9h0m2-4h0m4-2h0m5-14h0m0 6h0m9-3h0m1 9h0m3-2h0m11-5h0m8 2h0m2 5h0m5-1h0m8-7h0m3 16h0m1 2h0m6-5h0m6-1h0m1 6h0m16 17h0m-6 4h0m-2 4h0m-4-7h0m-3-5h0m0-6h0m-57 17h0m-18-19h0m-1 13h0m-2-4h0m-7 4h0m0-15h0m-6 8h0m-1 11h0m0-16h0m-6 15h0m-4-3h0m0-14h0m0 18h0m-2 0h0m-1-13h0m-7 8h0m-4-3h0m-1 9h0m-2-2h0m-2-7h0m-1 1h0m-2 3h0m-1-7h0m-6-4h0m-3 0h0m-2 10h0m-3-5h0m0 12h0m0-19h0m-1 2h0m-3 2h0m-1 7h0m-5-7h0m-2 12h0m-2-14h0m-1 4h0m-1 2h0m-1 1h0m0 4h0m-2-2h0m-2 8h0m-2-5h0m0-13h0m0 5h0m-1 10h0m-1-13h0m0 1h0m0-6h0m-1 18h0m-7-3h0m-3-15h0m-2 15h0m-2-10h0m-4-4h0m-2 16h0m-4 3h0m-1-16h0m-9 6h0m-3-9h0m-1 16h0m-4-12h0m-4 1h0m-1 6h0m-4-1h0m-8-6h0m1 41h0m12-12h0m2-10h0m6 3h0m1 8h0m1 11h0m5-19h0m7 5h0m1 8h0m3-16h0m1 6h0m1-7h0m2 12h0m1 2h0m0 3h0m1-6h0m6-11h0m0 13h0m1-1h0m2 9h0m2-4h0m0-5h0m1 11h0m2-1h0m1-10h0m1-1h0m3 6h0m1 1h0m6-8h0m7 2h0m3 7h0m1-11h0m1 12h0m4-12h0m3 8h0m2-5h0m3 5h0m3 7h0m6-1h0m0 0h0m8-5h0m1-3h0m1 0h0m3 3h0m1-2h0m8-14h0m2 10h0m2 12h0m3-1h0m3-6h0m0-8h0m1-2h0m14 1h0m31 12h0m45-10h0m5 13h0m0-21h0m5 7h0m1-7h0m5 2h0m0 7h0m1 0h0m-2 35h0m-1-8h0m-1-8h0m-1 9h0m-8 9h0m-23-18h0m-24 6h0m-8 12h0m-4-21h0m-18 4h0m-6 6h0m-3 6h0m-4-9h0m0-1h0m-1 13h0m-3-17h0m-3 8h0m-2-9h0m-3 0h0m-1 3h0m0-4h0m-4 8h0m-3 13h0m0-14h0m-2-6h0m-2 4h0m-7-7h0m-7 6h0m-1 10h0m-9-4h0m-1 5h0m-2-12h0m-13 12h0m-6 0h0m-1 6h0m-4-16h0m-8 5h0m0 3h0m-3 6h0m-2-3h0m-2-14h0m-4 15h0m-3-6h0m-4-4h0m0 14h0m-1-22h0m-3 9h0m-1 9h0m-2-5h0m0 4h0m0-5h0m-3 8h0m-7 1h0m-3 0h0m-6-14h0m-1 15h0m-3-17h0m-9 11h0m-6-10h0m3 23h0m3 14h0m4 2h0m11-18h0m4 14h0m10-5h0m0 9h0m2-6h0m4 5h0m3-12h0m6 5h0m1 5h0m1-10h0m1 11h0m8-10h0m1-8h0m1 16h0m1-18h0m4 19h0m4-19h0m3 0h0m5 23h0m14-16h0m3 0h0m6 13h0m12-20h0m0 5h0m3 15h0m8-13h0m3-1h0m0 1h0m5 11h0m5-5h0m1 4h0m0 4h0m8-19h0m0 13h0m0-6h0m2 13h0m1-9h0m0 7h0m2 0h0m1-19h0m1 17h0m1-14h0m1 8h0m0 11h0m2-10h0m1 2h0m0 2h0m1-15h0m4 13h0m3-13h0m0 4h0m2 7h0m1-6h0m3 3h0m3 9h0m2-3h0m3-2h0m3 2h0m1-3h0m1-8h0m1 17h0m1-3h0m1 4h0m2-7h0m1-1h0m3-4h0m0 4h0m1-3h0m2-10h0m2 15h0m5 5h0m1-10h0m0-8h0m2 10h0m0-12h0m1 2h0m4 14h0m0-4h0m4-2h0m3-1h0m1-8h0m1 10h0m1 10h0m5-8h0m1-3h0m4-10h0m1 8h0m0 4h0m16-14h0m2 15h0m82 1h0m-22 18h0m-10 2h0m-44 2h0m-12-7h0m-1 5h0m-9-9h0m-1 15h0m-1-9h0m-3 9h0m-1-1h0m-1-17h0m-2 12h0m-2-3h0m-3 2h0m0-8h0m-1 20h0m0-13h0m0-9h0m-1 20h0m0-12h0m-2 11h0m-2-1h0m-1-6h0m0-8h0m-3 11h0m-1-13h0m-9 10h0m0 5h0m-3 4h0m-2-4h0m0-8h0m-3-8h0m-2 0h0m-1 13h0m0-1h0m-1 9h0m-3-19h0m0 11h0m0-5h0m-2 10h0m0-8h0m0-3h0m-1-6h0m-1 20h0m0-4h0m0-10h0m-1 11h0m-2-5h0m0-13h0m0 20h0m-5-5h0m0-10h0m-2-1h0m-5 15h0m0-16h0m-1 16h0m-5-3h0m-3-13h0m-2 16h0m-1-9h0m-1 1h0m-2 8h0m-2 2h0m-2-12h0m-1 10h0m-1-16h0m-2 14h0m-1-3h0m-1 6h0m0-3h0m-1 1h0m-2-18h0m-2 10h0m-1 3h0m-2 8h0m0-14h0m0-2h0m-3-6h0m0 16h0m-1-16h0m-1 7h0m-1 9h0m-1 4h0m-1 0h0m0-1h0m-3 0h0m0-18h0m0 9h0m-4 8h0m-2-17h0m-1 16h0m0 3h0m-2-5h0m-2 5h0m-3-19h0m-6 10h0m-6 8h0m-3-6h0m-4 8h0m0-3h0m-4 2h0m-2 2h0m-3-23h0m-4 9h0m-2 10h0m-4 0h0m0-3h0m-3-14h0m0 2h0m-6 1h0m-6-5h0m-4 5h0m-4-4h0m-8 10h0m-22-10h0m-7 1h0m37 44h0m7-11h0m0 2h0m2 5h0m1-11h0m4 0h0m6-7h0m2 12h0m7-4h0m21 3h0m6 4h0m2-14h0m5 22h0m2-22h0m1 20h0m0-12h0m0-4h0m0 2h0m1 0h0m1 9h0m3-8h0m2 1h0m0 14h0m0-3h0m4-10h0m0 3h0m2-11h0m0-2h0m0 17h0m1-10h0m4 14h0m0-7h0m4-9h0m4 12h0m1-11h0m1 10h0m3-8h0m0 11h0m2 1h0m0-6h0m1-4h0m1-7h0m2 12h0m0-9h0m2-4h0m1 18h0m1-13h0m1 6h0m4-8h0m3-1h0m1 19h0m1-5h0m2-16h0m7 1h0m1 12h0m3-11h0m0 14h0m0 3h0m1-6h0m0-3h0m1 3h0m1-4h0m1-8h0m1 2h0m0 14h0m0-1h0m1-8h0m0-3h0m2 15h0m1-9h0m2 10h0m1-12h0m3 3h0m3-2h0m0-10h0m1 13h0m5-8h0m1-6h0m3 5h0m1-1h0m2 15h0m3-1h0m1-5h0m1-11h0m2 13h0m1-13h0m2 2h0m0 12h0m3-5h0m1-1h0m0-1h0m2 9h0m1-18h0m0 0h0m1 22h0m0-18h0m0-2h0m1 2h0m0 16h0m0-7h0m0-8h0m1 4h0m1 6h0m2-5h0m0 9h0m2-5h0m0 8h0m0-4h0m10-9h0m3 3h0m4 9h0m22-11h0m3 11h0m0-13h0m1-8h0m9 19h0m8-3h0m4-16h0m3 3h0m15 29h0m-11 1h0m-5-4h0m-4 6h0m-2 4h0m-1 5h0m-3 2h0m-6-7h0m-4 7h0m-3-13h0m-3 8h0m0 3h0m-7-2h0m-4-5h0m-7 4h0m-2 0h0m-1 2h0m-8-1h0m0-7h0m-2-7h0m0 6h0m-1 4h0m-1-7h0m-2 15h0m-1-19h0m0-1h0m-1-3h0m0 14h0m-4 7h0m-3-16h0m-1 7h0m-1 5h0m-1-14h0m0 11h0m-2 7h0m-1-17h0m-4 17h0m-5 0h0m-4 2h0m-1-21h0m-9 8h0m-2-9h0m0 2h0m-4 8h0m0-5h0m-3 14h0m-3-5h0m0-13h0m-2 7h0m-1 14h0m0-18h0m-1 11h0m0-12h0m-1 14h0m-1 0h0m0-10h0m-1-1h0m-1-4h0m-4 7h0m-7-10h0m0 7h0m-4 8h0m0 0h0m0-8h0m-2 4h0m-1 2h0m-3 4h0m-1-4h0m-1 2h0m-1 3h0m-1-12h0m0-2h0m0 15h0m-7-3h0m-1-15h0m0 15h0m-5-4h0m-2 5h0m0-11h0m-1 16h0m-1-14h0m0-8h0m0 23h0m-2-15h0m0 2h0m-6-4h0m-4 16h0m-4-11h0m-5 6h0m-3-12h0m-1 9h0m-1 3h0m0 4h0m-1-16h0m-8 12h0m-1-5h0m0 9h0m-2-19h0m-1 6h0m-5-7h0m0 7h0m-1 4h0m0-12h0m-36 20h0m-3-14h0m-2 8h0m-9-9h0m2 39h0m0-16h0m0 2h0m6 1h0m1-3h0m9 11h0m0-6h0m7 11h0m36-8h0m5-12h0m4 8h0m3 0h0m3-5h0m1 14h0m2-5h0m4 9h0m0-12h0m2 8h0m5 0h0m3 5h0m1-4h0m1-8h0m1 7h0m0-12h0m0 15h0m0 3h0m2-22h0m4 7h0m3 12h0m1 1h0m1-1h0m0-11h0m2 8h0m4-15h0m1 11h0m1-8h0m1 9h0m2-12h0m1 12h0m3-12h0m0 17h0m6-3h0m4 1h0m1-4h0m0 3h0m2-6h0m1-9h0m2 13h0m0-6h0m0-1h0m4-2h0m1-2h0m0 9h0m2 11h0m1-12h0m1-9h0m1-2h0m2 11h0m3-9h0m1 14h0m2-10h0m1 9h0m2-12h0m6 3h0m2 12h0m1-9h0m2 9h0m1-5h0m9-13h0m1 23h0m1-20h0m2 8h0m1-1h0m8 10h0m5-11h0m1 0h0m1-1h0m5 10h0m9-18h0m1 5h0m3 14h0m1-16h0m2 6h0m7 7h0m11-16h0m7 17h0m4-8h0m2-7h0m2 11h0m0-13h0m4 3h0m1-2h0m0 16h0m1-5h0m1 1h0m2-9h0m4 1h0m1 7h0m2 4h0m18 8h0m-10 9h0m-3-6h0m-1 19h0m-2-14h0m-9-7h0m-10 16h0m-3-17h0m-2 10h0m-1-7h0m-2 3h0m0 6h0m-1 11h0m-3-7h0m-1-13h0m-10 13h0m-1-3h0m-2 8h0m0-13h0m-2 7h0m-2-14h0m-1 6h0m-3 15h0m-7-7h0m-2-9h0m-6 11h0m-1 4h0m0-6h0m0-11h0m-8 17h0m-3-4h0m0-11h0m-1 2h0m-1-2h0m-5 8h0m-2-4h0m-2-2h0m-1 8h0m-4 4h0m0 0h0m-2-17h0m-1 18h0m-3 0h0m-3-15h0m-7 10h0m-7 4h0m-1-5h0m-1-10h0m-1 12h0m-3-1h0m-1-4h0m-4 10h0m-3-21h0m-20 6h0m-6 12h0m-4-1h0m0-11h0m-1 11h0m-2-17h0m-5 1h0m0-2h0m-1 2h0m0 2h0m0 18h0m-6-21h0m-1 1h0m-1 10h0m-1 5h0m-1-10h0m-1 9h0m0-12h0m-5 10h0m-2-10h0m-3 12h0m-4 2h0m-9 2h0m-6-7h0m-4 3h0m-4 3h0m-4-7h0m-9 6h0m-5-6h0m-3 3h0m0-4h0m0-8h0m-7 7h0m-1-3h0m8 19h0m22 11h0m23-8h0m7 1h0m0 6h0m6-10h0m1-2h0m3 6h0m10-3h0m2 9h0m2-3h0m2-9h0m3 22h0m4-10h0m2 1h0m0-13h0m0 22h0m1-8h0m5-5h0m1 1h0m2-2h0m2-3h0m0 1h0m3 8h0m1 2h0m1 5h0m1-15h0m1 5h0m3 7h0m2-11h0m4-3h0m1 18h0m1-13h0m3 8h0m0 0h0m4-10h0m0-1h0m2 8h0m0 5h0m1-10h0m1-2h0m1 1h0m2 6h0m2 7h0m3-1h0m1-14h0m0 5h0m0 10h0m2 1h0m3-14h0m3 8h0m1-13h0m4 7h0m1-9h0m3 7h0m6-3h0m20 0h0m13-5h0m2 19h0m1-14h0m4 4h0m7 0h0m0 12h0m1-9h0m1-10h0m0 0h0m4 9h0m3-1h0m1 7h0m2-14h0m5 5h0m0 10h0m3-17h0m3 0h0m1 14h0m2-10h0m1 6h0m2 5h0m1-8h0m3 3h0m1 0h0m3-5h0m6 3h0m14 1h0m-7 16h0m-4 21h0m-1-7h0m-1-11h0m-3 2h0m-7 11h0m-5-7h0m-1-8h0m-8 15h0m-1-18h0m-2 23h0m-4-23h0m-4 0h0m-5 19h0m-3-7h0m0 4h0m0-12h0m-2 0h0m-2 17h0m-4-21h0m-10 22h0m-6-4h0m-5 2h0m-4-7h0m-5 7h0m-1-5h0m-11-4h0m-1 8h0m-4-7h0m-1-1h0m0 9h0m-7-7h0m-4 3h0m-1-8h0m-1-6h0m0 10h0m-2 5h0m-1 6h0m-11-6h0m-6-4h0m-19 9h0m0-10h0m-6-8h0m-40 13h0m-62-9h0m37 37h0m49-8h0m18 6h0m12 2h0m12-11h0m5 3h0m4-11h0m5 3h0m4 17h0m2-10h0m4 11h0m18-20h0m1 1h0m2 9h0m2-4h0m11 4h0m1 4h0m9-2h0m14-9h0m3-2h0m4 13h0m26 3h0m1-11h0m3-2h0m6 10h0m1 0h0m6-8h0m-13 23h0m-5 6h0m-4 2h0m0-12h0m-10 11h0m-6 0h0m-15 8h0m-5-23h0m-11 0h0m-7 23h0m-17-6h0m-9 1h0m-1-6h0m0-10h0m-5 5h0m-2 1h0m-19-5h0m-62 1h0m96 28h0m5-4h0m7-2h0m9 0h0m6 8h0m4-6h0m7 1h0m3 4h0m6-1h0m6-5h0m10 0h0" stroke="#f09a30" stroke-width="11.2"/>
<g fill="#d98a2b" filter="url(#bl)"><ellipse cx="282.4" cy="1465.8" rx="36.4" ry="51.3"/><ellipse cx="286.6" cy="1474.1" rx="24.8" ry="37.3"/><ellipse cx="197.6" cy="1575.5" rx="43.4" ry="41.3"/><ellipse cx="323.9" cy="1614.9" rx="31.3" ry="64.8" transform="rotate(-28 323.9 1614.9)"/><ellipse cx="354.9" cy="1677" rx="48.4" ry="44.9"/><ellipse cx="279.5" cy="1580.9" rx="39.8" ry="49.7"/><ellipse cx="241" cy="1569.3" rx="33.1" ry="26.5"/><ellipse cx="249.3" cy="1536.2" rx="20.9" ry="26.8"/><ellipse cx="299" cy="1544.5" rx="17.9" ry="32.8"/></g>
<path d="M272 1414h0m8-4h0m17 3h0m17 18h0m-8-6h0m-6 0h0m-5 10h0m-1-17h0m-2 19h0m-3-20h0m-2 19h0m-4-5h0m-7-15h0m-12 2h0m-3 5h0m-5 6h0m-1 9h0m-8 18h0m3-5h0m2-8h0m10 18h0m0-17h0m2 6h0m3-9h0m8 5h0m5-6h0m5 1h0m17 9h0m2-9h0m5 13h0m2-11h0m2 14h0m1-15h0m1 5h0m3 10h0m3-3h0m0 8h0m-3 10h0m0 5h0m-6-10h0m-2 20h0m-1-9h0m-1 8h0m-44-18h0m-1 13h0m-1-3h0m-1-4h0m-3-6h0m-11 19h0m0-14h0m-1 3h0m-2-12h0m6 43h0m2-13h0m3 17h0m1-11h0m3-1h0m3-6h0m2 15h0m4-13h0m2 0h0m2 4h0m5 11h0m15 1h0m2-2h0m6 1h0m4-5h0m0-5h0m0 5h0m1-13h0m0 11h0m1-2h0m9-2h0m3-6h0m1-5h0m-3 44h0m-3-5h0m-2-9h0m-7-6h0m-7 0h0m0 3h0m-2 16h0m0-18h0m-2-1h0m0 19h0m-3-17h0m-1-1h0m0 8h0m-3-7h0m0 12h0m-1 2h0m-2-9h0m-2 13h0m-1-17h0m-2 1h0m-3 0h0m-4-3h0m0 19h0m0-1h0m-4-7h0m-1-10h0m-1 19h0m-2 1h0m0-18h0m-2-3h0m-20-1h0m-2 1h0m-7 9h0m-3 2h0m-1 8h0m-21 1h0m-14 0h0m-14 2h0m-20 20h0m3-6h0m8-7h0m4-3h0m14-2h0m11 0h0m12 16h0m4-15h0m1 12h0m4-11h0m3 6h0m1 0h0m4-6h0m1 11h0m2-4h0m2 1h0m1 6h0m1 1h0m5 2h0m0-13h0m3 1h0m4 12h0m1-7h0m4-2h0m1-2h0m1-8h0m5 8h0m4 4h0m1 6h0m0 3h0m4-4h0m1-14h0m1 8h0m10 3h0m2-10h0m0-5h0m1 21h0m2 1h0m3-4h0m10 0h0m1-13h0m3 15h0m3-9h0m1 6h0m6-4h0m1 8h0m0-1h0m2-7h0m1-13h0m1 19h0m1 4h0m22 18h0m-4 0h0m-5-9h0m-6-4h0m-3 5h0m-2 13h0m-2-19h0m0 13h0m-5-14h0m-3 11h0m-2 1h0m-7 5h0m-3-2h0m-3-17h0m-3 14h0m-4-3h0m-1-6h0m-1 10h0m-2-10h0m-1 12h0m-8-16h0m-2 18h0m-1-9h0m0-5h0m-16-1h0m-8-1h0m-2 0h0m-2 10h0m-3 7h0m-1-16h0m-1 4h0m0 10h0m0-8h0m0-10h0m-28 4h0m-1 14h0m-2-10h0m-3 5h0m-49 6h0m0-7h0m-2-5h0m0-6h0m-2 24h0m4 8h0m3 7h0m7 3h0m46-19h0m8 6h0m1 17h0m3-14h0m3 3h0m1 6h0m8-4h0m1-13h0m1 7h0m1 5h0m2-13h0m2 6h0m2 10h0m2 4h0m0-6h0m7-3h0m3-4h0m8-3h0m6-2h0m10-2h0m3 8h0m3 6h0m30 8h0m1-13h0m1 5h0m27-12h0m3 8h0m7 12h0m8 22h0m-5-18h0m-1 8h0m-3 12h0m-44-17h0m-4 7h0m-7 2h0m-1 8h0m0-3h0m-6 0h0m-2-4h0m-3-7h0m-1-8h0m-1 23h0m-4-4h0m-5 1h0m-10-1h0m-4-1h0m-6-4h0m-3-8h0m-2-1h0m-24-3h0m-10 6h0m-8-3h0m-9 8h0m-6-6h0m-7 0h0m-5 1h0m-7-6h0m-4-1h0m126 27h0m9 12h0m3 1h0m2 5h0m0-5h0m10-5h0m5-2h0m4-5h0m4-1h0m8-3h0m7 1h0m14 12h0m1-14h0m2 6h0m0 16h0m2-9h0m3-13h0m8 6h0m1 5h0m7 0h0m10 5h0m5 25h0m-3 4h0m0-19h0m0 7h0m-2-9h0m-34 12h0m-1 5h0m-1-15h0m-6 13h0m-4 6h0m-5-2h0m-5 2h0m-6-9h0m-3 5h0m-5-4h0m-5-5h0m-7-4h0m-5 0h0m-3 15h0m-2-8h0m0 22h0m3-9h0m2 22h0m2-10h0m82 10h0m5-15h0m0 12h0m5-7h0m-15 17h0m-5 0h0m-9 7h0m-3 5h0m-7 0h0m-6 2h0m-6-3h0m-10 2h0m-6-1h0m-5 0h0m-6-11h0m-3-2h0m-6-2h0" stroke="#d98a2b" stroke-width="12"/>
<g fill="#b27528" filter="url(#bl)"><ellipse cx="286.6" cy="1474.1" rx="17.9" ry="26.8"/><ellipse cx="197.6" cy="1575.5" rx="35.4" ry="33.6"/><ellipse cx="323.9" cy="1614.9" rx="25.5" ry="52.8" transform="rotate(-28 323.9 1614.9)"/><ellipse cx="354.9" cy="1677" rx="39.4" ry="36.5"/><ellipse cx="279.5" cy="1580.9" rx="28.8" ry="36"/><ellipse cx="241" cy="1569.3" rx="24" ry="19.2"/></g>
<path d="M270 1459h0m5-3h0m3-4h0m9-7h0m1 3h0m9 3h0m3 3h0m5 29h0m0-14h0m-2 6h0m-1-10h0m-31 20h0m-1-19h0m-2 6h0m6 19h0m1 7h0m5-1h0m4 4h0m6 0h0m6-7h0m4-3h0m-132 63h0m9-3h0m0-7h0m9 1h0m8-2h0m4-1h0m7-2h0m9 3h0m6 2h0m5 9h0m0 2h0m4-5h0m1 8h0m9-8h0m7 1h0m8-1h0m5 4h0m1 2h0m0-5h0m6-1h0m6-2h0m6-2h0m7 0h0m5-3h0m6 9h0m6 1h0m33 28h0m-7-1h0m-3-8h0m-6-2h0m-6-5h0m-6-2h0m0 10h0m-1-11h0m0 8h0m-4-2h0m-4-1h0m-4-1h0m-2 6h0m-1 8h0m-24-8h0m-2 4h0m0-12h0m-1-5h0m-5 21h0m-4-20h0m-4 9h0m-3 7h0m-12-5h0m-3-5h0m-2 12h0m-13 0h0m0-4h0m0-7h0m0-6h0m-49-2h0m-7 22h0m-1-19h0m-1 11h0m4 10h0m4 8h0m2 4h0m6 6h0m3 3h0m30 0h0m7 2h0m6-3h0m1-20h0m5 11h0m3-11h0m0 5h0m1-1h0m8 1h0m5-1h0m4-1h0m5 5h0m0-7h0m1 16h0m2 5h0m35-17h0m1 17h0m0-7h0m0-6h0m10 12h0m3-15h0m0 7h0m2-11h0m33 11h0m1-4h0m13 30h0m-6-10h0m-2-5h0m-48 13h0m-2-12h0m-2 7h0m-3 1h0m-5-2h0m-5 1h0m-9-2h0m-5-2h0m-4-3h0m-59 2h0m-12-2h0m-4-1h0m115 24h0m2 5h0m10 11h0m1 0h0m7 7h0m3-7h0m5 1h0m4-5h0m5-5h0m7 2h0m4 11h0m3-1h0m1-9h0m1-1h0m1-8h0m0 2h0m9 4h0m1 4h0m12 2h0m2 8h0m13 19h0m-1 6h0m-1-13h0m-1-7h0m-7-2h0m-30 6h0m-5 4h0m-3 0h0m-6-2h0m-4 0h0m-9-8h0m-5 1h0m-3 5h0m-4 4h0m-4 6h0m5 13h0m0-3h0m3 10h0m1 7h0m69 1h0m2-7h0m4-5h0m-14 16h0m-5 0h0m-6 5h0m-7 4h0m-6-1h0m-4 3h0m-10-3h0m-8-1h0m-4-5h0m-7-2h0" stroke="#b27528" stroke-width="12"/>
<g fill="#8a5a28" filter="url(#bl)"><ellipse cx="197.6" cy="1575.5" rx="26.3" ry="25"/><ellipse cx="323.9" cy="1614.9" rx="18.9" ry="39.2" transform="rotate(-28 323.9 1614.9)"/><ellipse cx="354.9" cy="1677" rx="29.3" ry="27.1"/></g>
<path d="M182 1556h0m3-5h0m8 1h0m10-3h0m6 3h0m6 3h0m102 24h0m-5-1h0m-7 4h0m0-5h0m-81-4h0m-1 6h0m-1-12h0m-1 16h0m-1-23h0m-43 2h0m-4 15h0m-2-3h0m0-7h0m3 17h0m6 8h0m1 6h0m4 2h0m8 3h0m7-2h0m8-2h0m8-4h0m2-5h0m81 8h0m1 4h0m0-10h0m2-5h0m20-2h0m5 4h0m8 7h0m2 4h0m5 6h0m5 24h0m-2-11h0m0 3h0m-38 5h0m-2-5h0m-4-9h0m14 23h0m5 7h0m8 7h0m5 2h0m6 2h0m1-3h0m1 3h0m5-15h0m0 9h0m2-2h0m0 4h0m7 2h0m6-4h0m6 4h0m9 3h0m7 20h0m-1-14h0m0 5h0m-45-8h0m-9 4h0m-1 12h0m-1-7h0m1 21h0m1-6h0m1 12h0m8 5h0m8 1h0m3 3h0m23-2h0m4-3h0m5-4h0m2-6h0m1-8h0m-18 25h0m-10 0h0" stroke="#8a5a28" stroke-width="12"/>
<path d="M1184 1137h0m-1 4h0m-9 11h0m40 44h0m-4 0h0m-6-12h0m-179 17h0m3 12h0m2-4h0m8 1h0m2-6h0m2 6h0m1-9h0m0 4h0m2-2h0m0 8h0m80 9h0m243 1h0m0-8h0m2 8h0m0 2h0m10 12h0m-4-2h0m-8-9h0m-1 8h0m0 10h0m-2-18h0m0 3h0m-2 14h0m-1-9h0m-2 1h0m-224-6h0m-5 4h0m0 4h0m0-7h0m-2 19h0m-1-5h0m-3-4h0m212 30h0m12 0h0m1-1h0m1 3h0m14 0h0m16 9h0m-1 0h0m0 14h0m-1-14h0m-2 3h0m0 11h0m-2-4h0m-2-3h0m-14-11h0m-2 4h0m-1 3h0m-2-6h0m0-2h0m-3 3h0m-3-3h0m-3 0h0m-2-1h0m-183 21h0m-7-8h0m-2 9h0m-1-2h0m-10-1h0m5 13h0m6-2h0m3 4h0m9-9h0m1-1h0m1 3h0m8 5h0m299 73h0m-5 8h0m-1-1h0m-467 30h0m0-2h0m12-8h0m4 10h0m5-2h0m1 2h0m4 0h0m15-7h0m1 4h0m239 0h0m2-3h0m7 3h0m3-7h0m14 2h0m0-2h0m2 2h0m3-7h0m2 2h0m1 4h0m4 0h0m3 4h0m1 3h0m7-8h0m1 23h0m-2-11h0m-286 1h0m-8 3h0m-1 12h0m0-4h0m0-1h0m-2 4h0m-2-16h0m-1 15h0m-3-3h0m-4-2h0m-2-10h0m-1 3h0m-2 20h0m0-5h0m-1-16h0m-3 9h0m0 3h0m-7 5h0m-5-19h0m-98 37h0m4 5h0m5-5h0m0-6h0m0-2h0m54 18h0m8-14h0m10-1h0m2 6h0m3-10h0m1 10h0m12-14h0m1 4h0m2 0h0m13 1h0m230 9h0m2 4h0m4-8h0m2 8h0m0-4h0m0 3h0m2 5h0m0-22h0m0 4h0m1 5h0m0 6h0m0-15h0m5 4h0m4 13h0m0-4h0m0 1h0m5 0h0m2-8h0m2 16h0m3-10h0m2 0h0m1 9h0m1-2h0m1-6h0m20 26h0m-3-4h0m-1-5h0m-2 1h0m-1-7h0m-2 10h0m0-10h0m0 8h0m-1 5h0m-1-6h0m-2 2h0m-2 5h0m-2-2h0m0 0h0m-2 9h0m-1-21h0m-11 1h0m-2 6h0m-11-7h0m-256 2h0m-4 14h0m-2-14h0m-4 9h0m-12-2h0m-6 1h0m-7-5h0m-57-4h0m32 43h0m2 3h0m3-8h0m370 4h0m4-9h0m1 2h0m3 2h0m6 2h0m6 1h0m1 16h0m-2-7h0m0 4h0m-2-4h0m-7 12h0m-2 1h0m-4-7h0m-5-5h0m-392 60h0m-1 5h0m-1 2h0m-1-14h0m-3 19h0m458 13h0m2 3h0m2-10h0m1 10h0m1 18h0m-1-3h0m-2-2h0m-1-4h0m-11 17h0m-11-11h0m-2 9h0m-2-1h0m0 0h0m-1 1h0m-1-7h0m-1 6h0m-2-1h0m0-7h0m-3 4h0m-2 0h0m-3-2h0m-110 2h0m-1 6h0m-4-1h0m-1 2h0m-2-7h0m-1-2h0m104 13h0m22 0h0m6 2h0m6 1h0m5-3h0" stroke="#f2958a" stroke-width="6.8"/>
<g fill="#e5503f" filter="url(#bl)"><ellipse cx="997.6" cy="1248.4" rx="20.7" ry="39.3" transform="rotate(-15 997.6 1248.4)"/><ellipse cx="933.4" cy="1387.1" rx="31.1" ry="35.2"/><ellipse cx="1082.4" cy="1349.9" rx="103.5" ry="29" transform="rotate(40 1082.4 1349.9)"/></g>
<path d="M1065 1191h0m-1 5h0m-3-1h0m-88 15h0m1 13h0m0-2h0m2 2h0m0 0h0m1-5h0m1 0h0m1-8h0m3 10h0m1-3h0m1 3h0m1-9h0m1 3h0m1-6h0m1 1h0m0 10h0m2-14h0m3 9h0m2 3h0m2-4h0m1-7h0m2 8h0m2-4h0m3 11h0m1-8h0m6 9h0m7 11h0m-4 4h0m-2-2h0m-37 2h0m-1 10h0m-1-14h0m-1 5h0m-62 27h0m1 1h0m4 2h0m1-6h0m25-5h0m4 6h0m3-10h0m1 7h0m4-2h0m0-3h0m0-6h0m5 3h0m16 9h0m4-5h0m1 4h0m7 4h0m22 6h0m8-22h0m0 4h0m1 16h0m5-3h0m1-11h0m2 7h0m1-4h0m0 2h0m5-2h0m94 36h0m-5-19h0m-1 14h0m0-12h0m-1 1h0m-5 6h0m-1 6h0m-2 4h0m-4-16h0m-8 8h0m0 1h0m-1 2h0m-1 6h0m-40-9h0m-4 7h0m-10-2h0m-5 0h0m0-3h0m-6-12h0m-10-1h0m-1 6h0m0-6h0m-1-2h0m0 8h0m-6-5h0m0 16h0m-2-13h0m-3 10h0m-1-11h0m-1 14h0m0-12h0m-1 13h0m0-7h0m0-12h0m-2 20h0m0-11h0m-3 0h0m0 6h0m-6-9h0m0-5h0m-1 12h0m-2 3h0m-2-8h0m0-5h0m-1 1h0m-2-1h0m0 12h0m-4-15h0m-11 20h0m-1 1h0m-3-1h0m-11-3h0m-10-1h0m-37-17h0m-23 17h0m-3 2h0m-1-6h0m27 15h0m0 14h0m2 5h0m4-7h0m1-16h0m1 5h0m0-1h0m0 6h0m2 1h0m3 8h0m0-14h0m10 4h0m7-7h0m8 14h0m1-6h0m0-3h0m3 1h0m3-2h0m22 2h0m13 5h0m7-3h0m0 3h0m3-7h0m13 9h0m1-13h0m0 8h0m39-8h0m14 7h0m5 1h0m2-5h0m1-5h0m8 17h0m15 0h0m6-4h0m20-8h0m0-2h0m7 6h0m2 2h0m11 11h0m18 18h0m-8-2h0m-8 3h0m-4-8h0m-9-4h0m-6 1h0m-6 1h0m-4 6h0m-4 5h0m-3-10h0m-4-1h0m-8-2h0m-9-5h0m-59 22h0m-5-1h0m-4-15h0m-1 9h0m-3-15h0m-6 6h0m-22 14h0m-2 3h0m-14-3h0m-2-6h0m-5 5h0m-37-6h0m-7 8h0m-1-15h0m-4-5h0m-10 39h0m0 4h0m4-10h0m1 7h0m7-9h0m3 9h0m5-5h0m1-7h0m5 1h0m1-3h0m0 18h0m1-10h0m7-7h0m0 7h0m3-2h0m7 0h0m1 7h0m6-14h0m0 9h0m3 6h0m1 1h0m0-14h0m14-2h0m28-1h0m7 0h0m2-1h0m18 10h0m7-5h0m2 5h0m13 7h0m4 4h0m62-20h0m6 5h0m0 6h0m8-6h0m5 11h0m18-17h0m5 14h0m1-8h0m2 4h0m2-6h0m4 6h0m6-2h0m-14 37h0m-11-5h0m-2 5h0m-1-3h0m-1-14h0m0 4h0m-7-8h0m0 2h0m-49 21h0m-9-8h0m-5 7h0m-4 0h0m-7-8h0m-8-10h0m-8 2h0m-54 0h0m-1-2h0m-3-4h0m-8 4h0m-16 9h0m-2-2h0m-3-2h0m-1 4h0m-2-12h0m-2 7h0m-3 7h0m-1 3h0m-2 1h0m0 2h0m-1-21h0m-3 13h0m-1-1h0m-8-1h0m-8 7h0m-5-13h0m0-1h0m-6 8h0m-2 11h0m-3-11h0m-7 8h0m-2-17h0m-1-1h0m-2 17h0m-3-14h0m-2 4h0m-2 14h0m-1-5h0m-3-17h0m5 29h0m0 3h0m2 3h0m5 2h0m2-14h0m1 13h0m3 8h0m1-4h0m4-13h0m6 18h0m3-3h0m3-4h0m1 7h0m0-6h0m1 3h0m1-12h0m0 1h0m0 15h0m4-8h0m7-8h0m1 6h0m2 4h0m3 4h0m0-21h0m4 18h0m1-11h0m3 14h0m3-13h0m1 11h0m1-18h0m1 17h0m0 5h0m7-23h0m1 5h0m0 13h0m0-6h0m3-6h0m1 5h0m9 2h0m85 2h0m10 5h0m2-11h0m2 7h0m6 4h0m7-18h0m1 5h0m10 7h0m6 5h0m10-6h0m18 6h0m4-1h0m7 1h0m1 0h0m2-7h0m7-7h0m0 8h0m8 2h0m1-2h0m2 8h0m2-2h0m3 4h0m3-2h0m4-4h0m-1 13h0m-1 0h0m-2 13h0m-1-12h0m-1-2h0m-5 1h0m-2-5h0m0 3h0m-1-1h0m0-1h0m-3 13h0m-12 0h0m-1-14h0m0 18h0m-8-19h0m-2 6h0m-6 0h0m-2 2h0m-2-8h0m0 2h0m-3 16h0m-1-12h0m0-4h0m-2 1h0m-6-3h0m-6 2h0m-137 21h0m-2-3h0m-5-6h0m-2-7h0m-3-4h0m-4 1h0m-3 11h0m-1 2h0m-6-6h0m-1-8h0m-4-3h0m-4 2h0m-5 6h0m-1 4h0m-3-5h0m-2 3h0m-7-2h0m-5 2h0m-5-8h0m-5 9h0m365 240h0m-2 0h0m-14-6h0m-1-4h0m-10 22h0m-6-13h0m-2 0h0m9 15h0m1 7h0m0 4h0m0-3h0m3-6h0m1 9h0m0 4h0m7 53h0m2 0h0m1-5h0m3 6h0m13-16h0m5 0h0m3 1h0m2-2h0m4-3h0m-31 22h0" stroke="#e5503f" stroke-width="11.2"/>
<g fill="#c9493e" filter="url(#bl)"><ellipse cx="1065.9" cy="1329.2" rx="55.9" ry="31.1" transform="rotate(40 1065.9 1329.2)"/><ellipse cx="1132.1" cy="1383" rx="45.5" ry="22.8" transform="rotate(30 1132.1 1383)"/><ellipse cx="997.6" cy="1248.4" rx="16.6" ry="31.5" transform="rotate(-15 997.6 1248.4)"/><ellipse cx="933.4" cy="1387.1" rx="22.4" ry="25.3"/><ellipse cx="1099" cy="1358.1" rx="82.8" ry="29" transform="rotate(38 1099 1358.1)"/></g>
<path d="M987 1219h0m3-4h0m5 1h0m5 5h0m15 23h0m-2-3h0m-3-10h0m-6-6h0m-22 0h0m-2 4h0m-1 15h0m0-7h0m3 17h0m4 10h0m27 7h0m3-14h0m1 7h0m53 28h0m-4 2h0m-5-10h0m-1 10h0m-7-5h0m-3 6h0m-10-8h0m0-7h0m-6-6h0m-3 20h0m0-14h0m-1 2h0m-10 5h0m-4 4h0m0-8h0m-4-5h0m-2 16h0m-4-18h0m-1 5h0m-8-4h0m-4-3h0m-3-2h0m21 38h0m0-14h0m0 5h0m9 18h0m0-17h0m2 14h0m0-8h0m1 6h0m5-16h0m4 17h0m5 1h0m0-4h0m1-15h0m2 5h0m2 9h0m5-2h0m4-10h0m2 5h0m5-2h0m9-1h0m1 0h0m6 8h0m5-10h0m0 9h0m1 2h0m3-6h0m3-4h0m1 10h0m2 3h0m5-3h0m3 9h0m4-3h0m28 26h0m-7-3h0m-6-14h0m-2 8h0m-6 1h0m0 8h0m-2-17h0m-3-5h0m-1 9h0m-3-2h0m-62 12h0m-1 4h0m-2-1h0m-1-7h0m0-4h0m-4 4h0m0-14h0m-1 21h0m-4-14h0m0-7h0m-2 2h0m-102 43h0m9-5h0m4 1h0m7 1h0m5 4h0m94-21h0m2 15h0m1-6h0m2-4h0m2 7h0m4-10h0m4 11h0m3 7h0m2-6h0m1 6h0m23-9h0m3 10h0m0-12h0m4 11h0m0-14h0m2 0h0m3 14h0m0-14h0m11-8h0m2 6h0m0 7h0m2 4h0m3-3h0m0-2h0m1-12h0m2 5h0m3 2h0m3-6h0m3 7h0m7-5h0m3 1h0m1 13h0m6-1h0m0-4h0m0 7h0m1 0h0m2 3h0m8 1h0m22 23h0m-2-6h0m-8-2h0m-1-3h0m-1 1h0m-2 11h0m-2-14h0m-1-4h0m-1 7h0m-2 2h0m-1-10h0m-5-4h0m-26 1h0m-9 9h0m-3-6h0m-2 4h0m-5 11h0m-2-12h0m-2 7h0m-3-8h0m0 11h0m-7-17h0m-2 4h0m0 10h0m-2-10h0m0 5h0m-6 5h0m-4-14h0m-3 5h0m-1-1h0m-5 9h0m-2-12h0m0-1h0m-110 10h0m0 6h0m-1 5h0m-2-18h0m-36-3h0m-2 9h0m-2 10h0m-2 5h0m3 5h0m4 9h0m2 4h0m9 1h0m8 3h0m3-2h0m5-2h0m8-6h0m4-9h0m137 3h0m3-2h0m3-2h0m11 0h0m0 6h0m4 13h0m1-7h0m1-3h0m0-4h0m2 1h0m1 8h0m0-5h0m7 0h0m2 5h0m3-2h0m5 3h0m8 1h0m5 2h0m3 1h0m1-5h0m4 1h0m0 4h0m0-7h0m5 8h0m4-8h0m2-5h0m2 13h0m0-3h0m3-1h0m1-14h0m0 3h0m1 10h0m2-1h0m1-8h0m2 4h0m3 0h0m-8 13h0m-4 4h0m-12 0h0m-5-3h0m-7 0h0m0 0h0m-1 0h0m-2-2h0" stroke="#c9493e" stroke-width="12"/>
<g fill="#a6423a" filter="url(#bl)"><ellipse cx="1065.9" cy="1329.2" rx="44.7" ry="24.8" transform="rotate(40 1065.9 1329.2)"/><ellipse cx="1132.1" cy="1383" rx="36.4" ry="18.2" transform="rotate(30 1132.1 1383)"/><ellipse cx="997.6" cy="1248.4" rx="12" ry="22.8" transform="rotate(-15 997.6 1248.4)"/><ellipse cx="1099" cy="1358.1" rx="59.6" ry="20.9" transform="rotate(38 1099 1358.1)"/></g>
<path d="M1006 1238h0m-2-7h0m-4-2h0m-6-3h0m-5 1h0m-4 6h0m-1 9h0m1 6h0m4 9h0m2 5h0m4 7h0m6 1h0m6 0h0m3-6h0m1-15h0m0 9h0m38 35h0m-8 2h0m-14 9h0m1 8h0m3 5h0m1-21h0m2 7h0m14-6h0m1 21h0m11-20h0m0 19h0m2-1h0m1-16h0m5 16h0m2-13h0m9 6h0m7 4h0m28 28h0m-6-3h0m-6-4h0m0 9h0m0-8h0m-2 2h0m-3-12h0m-7-4h0m-1 4h0m-4-1h0m-7-3h0m-19-1h0m-6 21h0m-3-7h0m-3-5h0m0-4h0m-1-4h0m-3 19h0m-3-4h0m-6-8h0m-6-5h0m22 26h0m4 1h0m6-2h0m5 13h0m3-2h0m0-3h0m1 7h0m8-3h0m10 6h0m3 0h0m4-2h0m3-6h0m3-7h0m1 14h0m3-9h0m5 6h0m3-5h0m7 4h0m5 0h0m1-9h0m5 3h0m2 9h0m1-3h0m31 25h0m-5-2h0m-3-5h0m-6 4h0m-3 6h0m-1-18h0m0 6h0m0 9h0m-5-18h0m-4 1h0m-28 21h0m-4-8h0m-3-14h0m-1 10h0m-1 6h0m-1-11h0m-10 6h0m-5-7h0m-9-4h0m35 24h0m6 3h0m2-1h0m3 0h0m5 5h0m0-3h0m3 8h0m1-9h0m7 8h0m2-3h0m4-6h0m1 7h0m1 7h0m1-14h0m7 14h0m7-3h0m2-3h0m2-2h0m1-5h0" stroke="#a6423a" stroke-width="12"/>
<g fill="#8a3a35" filter="url(#bl)"><ellipse cx="1065.9" cy="1329.2" rx="32.4" ry="18" transform="rotate(40 1065.9 1329.2)"/><ellipse cx="1132.1" cy="1383" rx="26.4" ry="13.2" transform="rotate(30 1132.1 1383)"/></g>
<path d="M1038 1311h0m2 5h0m4-8h0m1-4h0m11 2h0m6 1h0m6 2h0m6 2h0m3 6h0m15 15h0m0 11h0m-2-8h0m-5-11h0m-40 9h0m-4-10h0m-1 6h0m13 15h0m5 1h0m6 4h0m6 4h0m11 3h0m2-4h0m4-2h0m7-2h0m16 17h0m9-1h0m7 1h0m28 25h0m-4-9h0m-5-5h0m-6-6h0m-5-1h0m-17 21h0m-1-3h0m-6-6h0m-1-5h0m-1-6h0m23 28h0m3 1h0m10 3h0m6-3h0m4-1h0m3-3h0" stroke="#8a3a35" stroke-width="12"/>
<path d="M2050 1102h0m-3 1h0m-3-6h0m-1 1h0m-4 0h0m-7 1h0m-3 0h0m7 6h0m0 1h0m1 0h0m0 2h0m3-4h0m18 13h0m12-6h0m4 12h0m2-10h0m0 8h0m1 0h0m1-4h0m2 8h0m0-1h0m1-3h0m3 5h0m0-1h0m1-3h0m4-8h0m0 4h0m0-5h0m0 7h0m1-2h0m2 3h0m4-7h0m1 2h0m7-1h0m4 8h0m-7 14h0m-3-7h0m-2 6h0m-1-1h0m-8 5h0m-8-4h0m-17-7h0m-77 22h0m-1-9h0m-1 8h0m-3-6h0m-3 3h0m-4-5h0m-3-1h0m0 5h0m-1-14h0m0 16h0m0-2h0m-2 2h0m-1-19h0m-4 4h0m-1 15h0m-4-3h0m-7 1h0m0 4h0m-10-12h0m10 18h0m0-3h0m3 5h0m4 2h0m2-8h0m1 13h0m1-6h0m7 5h0m1 4h0m1-12h0m4 8h0m0-10h0m2 1h0m1 3h0m6 11h0m2-15h0m5-2h0m4 14h0m10 8h0m9-3h0m106 3h0m44 1h0m16 15h0m0 3h0m-8-5h0m-3 10h0m-13-9h0m-2 10h0m-2-16h0m-5 12h0m-1-6h0m-2-1h0m-4 0h0m0 2h0m-1-14h0m0 19h0m-1-15h0m-3 2h0m-3 12h0m-1-9h0m0 2h0m-2-8h0m-1 2h0m-8 6h0m-12 0h0m-7-7h0m-2 17h0m-5-4h0m-1-7h0m-5 3h0m-74 9h0m0-18h0m-7-3h0m-1 18h0m-1-7h0m-1-5h0m0-4h0m-6 18h0m-4-13h0m-1 6h0m-5 1h0m-8-14h0m-122 16h0m-3 0h0m-5 5h0m-1-6h0m-19 0h0m-4 7h0m0-2h0m-2-1h0m0 0h0m-2 0h0m-1-2h0m-34 27h0m24-17h0m4 6h0m1 0h0m1 6h0m3-7h0m2-8h0m1 8h0m3 10h0m4-9h0m8-1h0m0 12h0m3-6h0m1 2h0m2 1h0m3-17h0m1 2h0m1-1h0m2 17h0m1-3h0m0 0h0m6-8h0m0-5h0m1 16h0m9-5h0m30 7h0m12-2h0m5-9h0m3 10h0m1-9h0m7-3h0m10 10h0m38-3h0m2 2h0m1 4h0m1-10h0m3-8h0m3 20h0m1-21h0m2 11h0m5-10h0m0 8h0m2-8h0m3-3h0m3 7h0m1 5h0m9-6h0m1-3h0m1 2h0m0 14h0m4-14h0m2 6h0m2 8h0m17-6h0m1 4h0m3 6h0m16-7h0m7 0h0m32-2h0m2-12h0m8 16h0m0-4h0m4-10h0m7 13h0m1-9h0m5-8h0m10 7h0m3-6h0m3 7h0m2 2h0m1-6h0m3 12h0m2-6h0m0 2h0m3 7h0m1-17h0m1 12h0m1 2h0m1-2h0m1 0h0m6-5h0m2-8h0m6-1h0m2 8h0m0 6h0m2-2h0m2 6h0m6 3h0m6-17h0m96 33h0m-5 9h0m-5-1h0m-48-1h0m-12-12h0m-6-6h0m-1 5h0m-11 9h0m0 6h0m-1 0h0m0-2h0m-1-10h0m-2-1h0m-1 2h0m-10 1h0m-2 5h0m0-15h0m-2 9h0m-2 9h0m-1-16h0m0 11h0m-2-9h0m-5-3h0m-1 2h0m0-3h0m-5 14h0m-2-5h0m-4-4h0m-3 4h0m-3 7h0m0-12h0m-2 2h0m-1 13h0m-5-19h0m-72 2h0m-11 3h0m0 9h0m-6-13h0m-4-3h0m0 5h0m-4-5h0m-2 15h0m-3-13h0m-6 20h0m-1 1h0m0-11h0m-2-10h0m-2 1h0m0 2h0m-1 10h0m-1-3h0m-1 8h0m-2-17h0m-1 3h0m-80 15h0m-1-10h0m-2-6h0m-4-3h0m-1 0h0m-1 0h0m-3 8h0m-1 13h0m0-15h0m-1 14h0m-2-2h0m-2-5h0m-1 1h0m-1-16h0m-1 8h0m-2-2h0m0 3h0m-1 5h0m-3 2h0m-1 3h0m0-1h0m-6-2h0m-3-1h0m0-13h0m0 0h0m-5 9h0m-2 5h0m-3-16h0m0 0h0m0 12h0m-8-3h0m-12 7h0m-77 7h0m-1-7h0m-6 4h0m-4 2h0m0-12h0m-1 11h0m-13 18h0m6-5h0m3 12h0m6-16h0m2-2h0m0 13h0m6-10h0m1 1h0m14 7h0m93-6h0m5-5h0m11 2h0m1-5h0m17-1h0m3 1h0m80-1h0m18 2h0m17-1h0m78 6h0m7-6h0m5 21h0m4-19h0m3 5h0m5 1h0m0 8h0m2-6h0m2 4h0m4-11h0m1 1h0m5-5h0m1 8h0m2 3h0m1 4h0m3 5h0m2-14h0m3 13h0m12-7h0m8-3h0m1 10h0m1-8h0m0 9h0m2-5h0m7 5h0m7-3h0m3-2h0m1-12h0m5 13h0m3-4h0m4 1h0m0 10h0m23-3h0m5 0h0m11-20h0m3 4h0m2 0h0m2 18h0m0-17h0m7-5h0m-2 36h0m-13 7h0m0 4h0m-2-1h0m0-5h0m-3-5h0m-2-2h0m-1-8h0m-1 18h0m-8 2h0m-5-12h0m-1-6h0m-3 11h0m-3-10h0m-3 2h0m-3 12h0m-3 1h0m-2 0h0m-1-19h0m-2 3h0m0 10h0m-6-8h0m-14-1h0m-5-1h0m0-3h0m-2 17h0m0-16h0m-10 15h0m-353 3h0m-12 3h0m0-13h0m-18 11h0m-2-6h0m-1-14h0m-9 9h0m0 2h0m0-10h0m-2 12h0m-2-12h0m-8 13h0m-3-3h0m-104-1h0m-2 4h0m-3 7h0m-6 6h0m116-4h0m7 16h0m5 1h0m4 2h0m8-19h0m1 23h0m0-12h0m4-2h0m2-3h0m5 9h0m2 8h0m9-22h0m1 3h0m1 0h0m1 19h0m1-13h0m3 3h0m4-5h0m7 13h0m394-16h0m4 3h0m8-5h0m4 15h0m1-18h0m5 21h0m2-20h0m3 2h0m0 1h0m5-3h0m4 10h0m1-9h0m2-2h0m0 9h0m0 13h0m1-21h0m0 22h0m6-11h0m5 7h0m4 6h0m-4 8h0m0-8h0m-3 8h0m0 9h0m-8 4h0m-5-2h0m0-8h0m-6 5h0m-9-17h0m-420 3h0m-1 1h0m-2-1h0m-12 3h0m-10-6h0m-9 3h0m-9 3h0m-107 36h0m7 0h0m2-6h0m10 6h0m2 1h0m1 0h0m4-8h0m1 5h0m0 2h0m2-12h0m2 2h0m0 14h0m3-15h0m1 10h0m5-6h0m2-9h0m0 18h0m3-8h0m5 5h0m0 2h0m5-9h0m48 13h0m9 0h0m465 20h0m-6-4h0m-8 8h0m-5-2h0m-4-3h0m-387-4h0m-15 3h0m-45 0h0m-23-14h0m-15 17h0m-4-8h0m-1 2h0m-11 3h0m-1-15h0m-1 17h0m-3 2h0m-2-19h0m-2 10h0m-1-9h0m0 6h0m0 4h0m-2 2h0m0 7h0m-3-15h0m-5 12h0m-3-9h0m-1 7h0m0-4h0m-3-10h0m-1 18h0m-2-13h0m0 7h0m-1 4h0m-9-4h0m0 4h0m0-8h0m-3-7h0m-1 2h0m-4 8h0m0-1h0m-5 2h0m-3-8h0m-1-6h0m0 22h0m19 1h0m4 2h0m1 13h0m1-6h0m6 7h0m7-1h0m2-5h0m8-10h0m1 6h0m0-1h0m3 11h0m0 3h0m11-7h0m1 5h0m6 1h0m0-6h0m2-5h0m0 3h0m10 0h0m8 8h0m17 5h0m22-15h0m5 15h0m6-3h0m14-6h0m28-3h0m381-9h0m1-2h0m6 0h0m76 23h0m3-2h0m15 1h0m2 9h0m-7-5h0m-1-1h0m-1 0h0m-3 12h0m-3-5h0m-3-8h0m0 3h0m-9 4h0m-490 14h0m-7-20h0m-12 22h0m-11-7h0m-15 3h0m-9-2h0m-62-17h0m10 40h0m7-1h0m17-11h0m3 11h0m4-8h0m6 3h0m16 10h0m5-13h0m2 3h0m16 0h0m3 11h0m9-7h0m7-2h0m9-7h0m32 11h0m-10 16h0m-9-2h0m-51 3h0m-4 6h0m-3-14h0m-12 12h0m-8-11h0m-2 5h0m-10 3h0m-14 10h0m-8-18h0m18 32h0m9-9h0m18-1h0m96 21h0m3 0h0m6-9h0m1 1h0m5 6h0m1-1h0m0-16h0m3 5h0m0 16h0m0-3h0m2-20h0m4 17h0m2 0h0m1-15h0m2 20h0m2-19h0m0 18h0m3 1h0m13-15h0m5 5h0m3 11h0m1-1h0m2-3h0m344-15h0m19-4h0m0 8h0m2-3h0m0 0h0m5-3h0m5 2h0m0 4h0m2-3h0m2 1h0m6 4h0m0-7h0m6-1h0m4 2h0m-414 20h0m-1 11h0m0-8h0m-14-1h0m-4 5h0m-4 6h0m-4-12h0m-137-1h0m397 58h0m-13 5h0m-3-3h0m-1 8h0m-426-5h0m-14 5h0m4 7h0m1 2h0m1 4h0m427-5h0m4-3h0m21 19h0m5-7h0m4 9h0m2 1h0m3-15h0m1 15h0m2-16h0m2 4h0m0 4h0m2-7h0m3 12h0m65-3h0m9 1h0m0 3h0m2-6h0m1 0h0m11 6h0m6 15h0m0-2h0m-9-6h0m-1-4h0m0 20h0m-1-17h0m0 6h0m0-8h0m-1 0h0m-2 4h0m0-2h0m-1 9h0m-1-7h0m-2 11h0m0-9h0m-2 7h0m0 0h0m0-7h0m-1 3h0m-3 4h0m-2-7h0m0-7h0m0 13h0m-2 1h0m0-1h0m-1-13h0m-1 6h0m0-1h0m-1 4h0m-1 10h0m0-11h0m-4 8h0m-1-11h0m-5-2h0m-66-3h0m-26 17h0m-3 6h0m-10-6h0m-6 17h0m10-8h0m0 4h0m3-4h0m1 2h0m0-2h0m9 9h0m-99 29h0m-1 9h0m15-1h0m2 1h0m-7 69h0m5-5h0m3 4h0" stroke="#c796c5" stroke-width="6.8"/>
<g fill="#b06aab" filter="url(#bl)"><ellipse cx="2189.3" cy="1474.1" rx="78.7" ry="66.3"/><ellipse cx="2077.5" cy="1349.9" rx="95.2" ry="37.3" transform="rotate(30 2077.5 1349.9)"/><ellipse cx="1949.1" cy="1302.2" rx="29" ry="17.4"/><ellipse cx="2036.1" cy="1291.9" rx="39.3" ry="31.1"/><ellipse cx="1911.9" cy="1378.8" rx="31.1" ry="20.7"/><ellipse cx="1986.4" cy="1498.9" rx="33.1" ry="24.8"/><ellipse cx="2019.5" cy="1596.2" rx="22.8" ry="26.9"/><ellipse cx="2305.2" cy="1432.7" rx="41.4" ry="18.6"/><ellipse cx="2172.7" cy="1341.6" rx="29" ry="24.8"/><ellipse cx="2056.8" cy="1441" rx="41.4" ry="45.5"/><ellipse cx="1829" cy="1325" rx="18.6" ry="29"/></g>
<path d="M2008 1195h0m0 3h0m-10-12h0m-1 11h0m-1-13h0m-1-4h0m-4 19h0m-1-4h0m-3-4h0m-161 8h0m-13 10h0m0-7h0m7 1h0m10 7h0m1 1h0m2 2h0m2-10h0m1 0h0m3 8h0m2 1h0m4 0h0m1-10h0m0 9h0m4-5h0m47 17h0m3 0h0m9-5h0m77 4h0m3-22h0m3 18h0m1-3h0m3-12h0m8 6h0m1 2h0m5 4h0m61 7h0m5-18h0m5-1h0m2 17h0m5-5h0m5 7h0m-5 8h0m-3 1h0m-2 14h0m-1-21h0m-1 10h0m0 6h0m0 3h0m-2-3h0m-10 4h0m-3-9h0m-17 9h0m-55-20h0m-2 3h0m-10-2h0m-3 18h0m-7-8h0m-8 7h0m-1 1h0m-9 4h0m-1 0h0m-3-11h0m-4-3h0m-2 8h0m-3 4h0m-5-4h0m-12 3h0m-3-1h0m-2-11h0m0-2h0m-3 14h0m-2-4h0m-3-10h0m-2 5h0m-5 5h0m-2 5h0m0-11h0m-4 4h0m-3-11h0m-8 10h0m-8-13h0m-1 7h0m0 22h0m0-4h0m14 14h0m0-5h0m4 2h0m0-11h0m1 3h0m4-3h0m0 5h0m2-1h0m1 1h0m5-5h0m0 12h0m26-13h0m6 0h0m3 8h0m3 4h0m7-1h0m3-3h0m1 3h0m5-8h0m3 0h0m2 16h0m9-15h0m6-4h0m23 11h0m1 11h0m1-5h0m12-7h0m1 7h0m9-7h0m9 2h0m3-2h0m2 7h0m5-7h0m5 3h0m3 6h0m2-3h0m2 1h0m1-8h0m2-5h0m2 3h0m4 15h0m1-12h0m1 8h0m9-7h0m2-9h0m6 17h0m3 0h0m1 3h0m2-17h0m7 17h0m4-12h0m8 12h0m5-1h0m9 0h0m3-2h0m10-4h0m9 4h0m3 16h0m-6-7h0m-13 10h0m-3 4h0m-6-16h0m-4 9h0m-5-4h0m-2 6h0m-1-2h0m-2-9h0m-8-2h0m-1 5h0m-4 5h0m0-9h0m-2 20h0m-16-12h0m-3 14h0m-1-13h0m0-9h0m-1 12h0m-1-6h0m0 1h0m-1 9h0m-1-7h0m-11-9h0m-7 12h0m-1-1h0m-20 7h0m-1-4h0m-7 5h0m-3-9h0m-13 10h0m0-5h0m-1-6h0m0 9h0m-1-3h0m0-11h0m-1 5h0m-5-1h0m-4 3h0m-1 1h0m-2-9h0m-1 19h0m-2-6h0m-14-3h0m-3 5h0m-4 2h0m-4-8h0m-1 9h0m-1-10h0m-2-1h0m-12 2h0m0 0h0m-7-2h0m-6 2h0m-7 4h0m-5 0h0m-3-1h0m-16 2h0m0-5h0m-14-8h0m-1 17h0m-5-1h0m-41 2h0m-13 0h0m-3 0h0m-3-2h0m-18 21h0m1-1h0m4-7h0m4 0h0m0-2h0m2-8h0m17 1h0m4 8h0m4 8h0m2-6h0m5 11h0m20-10h0m5-2h0m9 0h0m1-6h0m1-4h0m2 22h0m1-15h0m7 13h0m3-13h0m12 2h0m4 1h0m2-6h0m1 11h0m2-9h0m2 12h0m1-18h0m5 21h0m11 2h0m20-3h0m7 0h0m1-7h0m1 4h0m4-17h0m1 12h0m1-7h0m5 12h0m1-8h0m1-6h0m12 5h0m0-7h0m1 19h0m1-7h0m0-7h0m4 8h0m2-7h0m1 3h0m1 11h0m1-2h0m0-12h0m0-4h0m3 19h0m3-19h0m0 13h0m5 6h0m3 1h0m2-3h0m2-5h0m16 8h0m2-14h0m4-7h0m8 3h0m6-4h0m3 0h0m0 22h0m2-5h0m3-10h0m3 6h0m0 2h0m4-10h0m0 13h0m1-11h0m0-4h0m4 5h0m6 8h0m1-12h0m1 4h0m10 6h0m12 7h0m36-18h0m8 18h0m1-1h0m0 2h0m15-7h0m7 3h0m22 3h0m17 22h0m-13-9h0m-1 3h0m-2 5h0m-4-13h0m-3-3h0m-4-2h0m0 1h0m-7-2h0m-14 0h0m0 6h0m-4-4h0m-9 5h0m-5 6h0m-5-4h0m-2 6h0m-12-2h0m0 0h0m-4 8h0m-3-11h0m-9-9h0m-15 1h0m-13 13h0m-1-9h0m-26-4h0m-7-1h0m-1-1h0m-3 2h0m-6-1h0m-8 1h0m-1 1h0m-5 13h0m-2-11h0m-13 12h0m-4 5h0m-3-19h0m-3 8h0m-4 11h0m-2-18h0m-1 13h0m-15-5h0m-10-12h0m-16 1h0m-7-1h0m-5 4h0m-15-3h0m-80 17h0m-1-9h0m-1 4h0m-1-13h0m-1 23h0m-30-9h0m-1-11h0m-1 6h0m-3 1h0m6 14h0m4 3h0m1 2h0m2-1h0m4 5h0m0 9h0m7-5h0m3-4h0m3-7h0m3 6h0m42 9h0m1 4h0m8-1h0m5-5h0m6 0h0m7 2h0m4-4h0m5 3h0m5-2h0m2 4h0m2 1h0m8 3h0m6 1h0m33-6h0m47-8h0m0-4h0m1 11h0m3 7h0m1-3h0m2-4h0m4-15h0m32 10h0m7-5h0m4 11h0m18-7h0m5-2h0m5 2h0m3 2h0m3 1h0m21-12h0m3 2h0m2 0h0m2-3h0m0 10h0m2-5h0m0 8h0m1-11h0m1 15h0m4-4h0m1-8h0m0 12h0m1-7h0m0-3h0m2 5h0m2 2h0m1 6h0m3-3h0m1-11h0m1 6h0m3 11h0m0-5h0m5 1h0m9 1h0m1 1h0m5-1h0m0-17h0m3 1h0m0-2h0m3 21h0m1-4h0m3-1h0m0 2h0m4-10h0m1-1h0m1 0h0m4-3h0m0 2h0m2-5h0m1 1h0m2 17h0m6-4h0m4-13h0m2 19h0m31 6h0m-22 12h0m-4-13h0m-1 3h0m-1 11h0m-6 5h0m-4-9h0m-3 2h0m-13 7h0m-1-12h0m-3-6h0m-3 3h0m-2 13h0m-5-12h0m-2 10h0m0-9h0m0 9h0m-1-15h0m-1-1h0m-7 15h0m-2 5h0m-12-14h0m-2-9h0m-3 13h0m-1-10h0m-4 20h0m-1-19h0m-2-3h0m-17 9h0m-24 5h0m-5-1h0m-16 9h0m-8-1h0m0-7h0m-2 3h0m-3-1h0m-7-6h0m-3 11h0m-6-9h0m-1 10h0m-2-9h0m0-4h0m-6 2h0m-2 8h0m-4-14h0m-9-4h0m-25 16h0m-11 3h0m-21-10h0m-8 7h0m-16 4h0m-1-17h0m-1 8h0m-3 0h0m-2-6h0m-1 15h0m-1-5h0m-1-14h0m-50 20h0m-4-9h0m0-12h0m-2 16h0m-3-8h0m0 11h0m-2-16h0m16 20h0m2 5h0m7 0h0m3 5h0m6-2h0m8 1h0m2-2h0m7-2h0m3 2h0m4-6h0m10-2h0m12 19h0m2 0h0m1 2h0m5-14h0m6 13h0m3-6h0m7 8h0m9-5h0m2 6h0m5-5h0m6-10h0m8 4h0m9 6h0m0-17h0m5 15h0m3-11h0m5-1h0m2 11h0m1-9h0m1 4h0m1 13h0m4-11h0m4 7h0m2-16h0m7-2h0m8 2h0m0 10h0m3-7h0m1-3h0m1-3h0m1 0h0m2 1h0m0 18h0m0-10h0m3 2h0m3 5h0m4-4h0m0 1h0m4-4h0m4 0h0m1 2h0m2 12h0m2-9h0m2 0h0m3-7h0m6 2h0m8 11h0m4 0h0m1-1h0m1-5h0m2 7h0m8-8h0m0 8h0m1-11h0m9 9h0m2-9h0m2-6h0m1 2h0m2 14h0m0-18h0m5 20h0m4-1h0m1-19h0m1 15h0m0-10h0m3-1h0m2 1h0m3 12h0m1-5h0m0-9h0m5-5h0m1 7h0m1-1h0m7 3h0m1 12h0m1-18h0m6 13h0m5-3h0m4 5h0m5-7h0m8 2h0m7-2h0m4 9h0m0-12h0m25 14h0m31-1h0m18 1h0m9-1h0m2-2h0m16-1h0m29 22h0m0-6h0m-1 9h0m-4 3h0m-1-10h0m-1 5h0m-3-8h0m-2-7h0m-3 1h0m-8 0h0m-3-3h0m-11 0h0m-24 2h0m-11 0h0m-3 0h0m-5 8h0m-3 3h0m0-9h0m0 6h0m-4 11h0m0-5h0m-5 7h0m-9-4h0m-3-11h0m-2-3h0m0 17h0m-4-1h0m-3-17h0m-4 1h0m-9-4h0m-16-1h0m-14 0h0m-27 2h0m-11-1h0m-8 3h0m0 4h0m-2-2h0m-1-1h0m-7 10h0m-1-7h0m-3-1h0m-11 10h0m0-9h0m-3 6h0m-4 8h0m0-22h0m-5 13h0m-1 5h0m-12 5h0m-1-7h0m-1-16h0m0 6h0m-11-5h0m-6 1h0m-23 20h0m-35-11h0m-2-10h0m-5 21h0m-2-5h0m-6-3h0m0-14h0m-2 5h0m-6 5h0m-6 12h0m-18 0h0m-6-19h0m-2 17h0m-21-19h0m-13 0h0m6 36h0m19 0h0m4-7h0m13 17h0m6-10h0m5-9h0m1-2h0m0 18h0m3 3h0m25-5h0m0-12h0m1 0h0m3 5h0m12-10h0m12 17h0m25 0h0m24-5h0m1 8h0m2-10h0m2-5h0m2-2h0m1 16h0m2-19h0m8 9h0m3-10h0m7 14h0m6-1h0m3-2h0m3 2h0m33-13h0m16 1h0m29 7h0m37-6h0m7 3h0m1 5h0m7 4h0m0-13h0m6 1h0m1 4h0m1 5h0m2 10h0m0-17h0m6 2h0m2 13h0m7-11h0m5 2h0m6 1h0m2 0h0m8 1h0m9 2h0m5-6h0m1 6h0m10-4h0m5-9h0m1 8h0m2-5h0m-69 25h0m-13 5h0m-2 6h0m0-12h0m-89 1h0m-23 6h0m-32-5h0m-2 14h0m-4-16h0m-3 8h0m0-3h0m-1 12h0m-4-12h0m-7-2h0m-1 13h0m-8-2h0m-1-12h0m-9 6h0m-1 9h0m-10 1h0m-8-3h0m-4 3h0m-6-4h0m-8 5h0m-5-14h0m-1 4h0m-4 7h0m-1-5h0m-2-15h0m-4 7h0m-1 7h0m0-14h0m-4 23h0m-1-5h0m-1-2h0m-8-4h0m-1-5h0m0 8h0m-3-4h0m-10-3h0m-6 7h0m-1-2h0m0-5h0m-6-8h0m-1 10h0m-1 11h0m-2-8h0m-2 1h0m-7 2h0m0-4h0m-1-12h0m-3 20h0m-20-9h0m-6-8h0m-3 11h0m17 16h0m1-3h0m1 14h0m2-2h0m5-3h0m3-10h0m1 19h0m14-19h0m7 12h0m0-9h0m26 6h0m7 4h0m0-12h0m0 1h0m3 17h0m0-15h0m2 13h0m21-19h0m11 12h0m17-11h0m14 6h0m7-4h0m8 12h0m3-13h0m12 20h0m7-17h0m1 12h0m3 3h0m2-13h0m12 16h0m119-17h0m6 3h0m1 7h0m2-10h0m1 13h0m6-16h0m21-3h0m-29 25h0m-4 20h0m-5-20h0m0 7h0m-12 2h0m-9-3h0m-2 8h0m-5 1h0m-3 4h0m-15 0h0m-8 1h0m-8-8h0m-22 10h0m-17-6h0m-4-3h0m-9 1h0m-12 4h0m0-19h0m-14 16h0m-95-16h0m-12 2h0m-1 3h0m-3-2h0m-4 11h0m-8-1h0m-2 0h0m-4-5h0m-12 5h0m-2 1h0m-3-5h0m-4-2h0m-3-5h0m-2 5h0m164 21h0m4 4h0m19-6h0m3 8h0m3-10h0m0 4h0m4 7h0m0 8h0m1-11h0m1 11h0m4-13h0m4-5h0m3 9h0m0 9h0m2-7h0m1 3h0m3-3h0m4-1h0m6-2h0m0-9h0m1 4h0m7 0h0m8 7h0m1-10h0m1 16h0m1 4h0m3-7h0m3-5h0m1 1h0m3-3h0m7-2h0m1 16h0m19-21h0m-35 30h0m-7 3h0m-23 0h0m-2-8h0m-22 3h0m-116 13h0m-3-5h0m-1-3h0m-6 5h0m-4-3h0m-3-5h0m-6 1h0m-5 3h0m-5 2h0m-3 3h0m-1 5h0m-3 16h0m1 6h0m0-10h0m1-7h0m0 1h0m40 21h0m0-20h0m0 17h0m3-5h0m0-5h0m3-5h0m-10 23h0m-1 4h0m-1 6h0m-3-3h0m-6 3h0m0 6h0m-6-6h0m-8 0h0m-1 3h0m-2-1h0m-5-7h0m-5-9h0m-1 1h0" stroke="#b06aab" stroke-width="11.2"/>
<g fill="#95588f" filter="url(#bl)"><ellipse cx="2189.3" cy="1474.1" rx="67.7" ry="57"/><ellipse cx="2077.5" cy="1349.9" rx="76.2" ry="29.8" transform="rotate(30 2077.5 1349.9)"/><ellipse cx="1949.1" cy="1302.2" rx="24.9" ry="15"/><ellipse cx="2036.1" cy="1291.9" rx="28.3" ry="22.4"/><ellipse cx="2305.2" cy="1432.7" rx="29.8" ry="13.4"/><ellipse cx="2172.7" cy="1341.6" rx="20.9" ry="17.9"/></g>
<path d="M2033 1270h0m7-1h0m8 2h0m17 23h0m0-10h0m0 3h0m-8-8h0m-3-6h0m-30 0h0m-7 4h0m-3 2h0m-4 4h0m-2 9h0m-1 3h0m-36-2h0m-3-2h0m-11-2h0m-5-1h0m-8 0h0m-13 2h0m-2 2h0m-5 15h0m0-8h0m2 4h0m3 9h0m8 3h0m7 3h0m9-2h0m10 0h0m2-3h0m5-5h0m2-5h0m0-2h0m33 9h0m3 8h0m0-16h0m5 10h0m2-8h0m3 5h0m1-4h0m1 5h0m8-2h0m0 5h0m3-6h0m3-4h0m0 11h0m5 2h0m7-8h0m1-4h0m2 7h0m5-1h0m3 1h0m4-7h0m3 6h0m1-12h0m7 13h0m5 5h0m8 3h0m108 18h0m-3-7h0m-7-4h0m-5-1h0m-8-2h0m-6 1h0m-4 4h0m-7 6h0m-1 5h0m-34 4h0m-6-10h0m-8-2h0m-9-3h0m-77 8h0m0-2h0m-7-13h0m-7 1h0m21 22h0m3 3h0m1 8h0m5 3h0m12 8h0m5 1h0m76-21h0m7 16h0m2-7h0m3 6h0m14-10h0m0-7h0m9 14h0m4 2h0m6-1h0m7-1h0m7-4h0m4-4h0m3-6h0m-45 39h0m-1-8h0m-2 3h0m-1 7h0m-4 6h0m0-23h0m-2 18h0m-40 5h0m-7 0h0m-6-4h0m-7 0h0m-9-8h0m-7-4h0m43 18h0m8 2h0m7 0h0m9 5h0m7-6h0m1 6h0m38 15h0m160 16h0m-1 2h0m0-6h0m-1 10h0m-9-14h0m-8-2h0m-6-3h0m-10 0h0m-7 4h0m-8 1h0m-5 1h0m-4 4h0m-1 10h0m-2-6h0m-34 5h0m-3-3h0m-5-8h0m-10 1h0m-3-8h0m-6 2h0m-7-3h0m-8 3h0m-9-5h0m-7 1h0m-13 0h0m-5 2h0m-6 8h0m-8-5h0m-3 14h0m-5 1h0m-20 18h0m1-6h0m2-6h0m12 0h0m110 6h0m2-6h0m4 18h0m6-9h0m23-12h0m4 2h0m9 4h0m11 0h0m5 0h0m10-1h0m7-5h0m-66 43h0m-1 4h0m-2-10h0m0-5h0m-3-8h0m-126 22h0m-3-16h0m-5 2h0m-1-7h0m-4 15h0m7 21h0m6-12h0m4 15h0m7 3h0m102 0h0m6 0h0m5-13h0m0 6h0m-13 15h0m-9 7h0m-4 3h0m-3 4h0m-12-5h0m-7 5h0m-5 1h0m-7 1h0m-11-2h0m-7 5h0m-8-3h0m-2-8h0m-10-1h0m-5-4h0m-1-1h0m-13-2h0" stroke="#95588f" stroke-width="12"/>
<g fill="#7d4f78" filter="url(#bl)"><ellipse cx="2189.3" cy="1474.1" rx="55.1" ry="46.4"/><ellipse cx="2077.5" cy="1349.9" rx="55.2" ry="21.6" transform="rotate(30 2077.5 1349.9)"/><ellipse cx="1949.1" cy="1302.2" rx="20.3" ry="12.2"/></g>
<path d="M1964 1293h0m-3-2h0m-8 0h0m-14 1h0m-5 2h0m-5 10h0m2 2h0m1-9h0m2 14h0m13 3h0m7 1h0m8-3h0m6-10h0m0 7h0m1-12h0m66 20h0m8-1h0m4-1h0m9 4h0m50 23h0m-10-8h0m-12-4h0m-8-5h0m-6-4h0m-4 0h0m-30 22h0m0-22h0m-5 10h0m0-1h0m-1 6h0m-4-16h0m-1 1h0m12 27h0m11 8h0m2 4h0m11 6h0m53-19h0m2 8h0m2-4h0m2 10h0m4 5h0m3 15h0m-1 2h0m-2-11h0m0 3h0m-8 6h0m-3 6h0m-7-4h0m-9-2h0m-7-4h0m-5-1h0m-11-4h0m-5-3h0m159 69h0m-12-2h0m-6-4h0m-5 0h0m-7-6h0m-3-1h0m-13 3h0m-5-1h0m-10 2h0m-5 1h0m-4 4h0m-25 24h0m3 5h0m0-13h0m8-3h0m0-5h0m8-1h0m76 5h0m3 1h0m7 7h0m6 6h0m2 14h0m-1-5h0m-1-4h0m-4 15h0m-104-8h0m-3 10h0m-4-4h0m6 10h0m2 9h0m7 10h0m0-4h0m10 5h0m69 0h0m7-5h0m6-11h0m1 9h0m6-10h0m-20 23h0m-10-1h0m-7 3h0m-7 8h0m-5-7h0m-7 6h0m-7 1h0m-9-5h0m-5-2h0m-5-3h0" stroke="#7d4f78" stroke-width="12"/>
<g fill="#6b4566" filter="url(#bl)"><ellipse cx="2189.3" cy="1474.1" rx="40.9" ry="34.5"/><ellipse cx="1949.1" cy="1302.2" rx="15.1" ry="9"/></g>
<path d="M1953 1293h0m-14 2h0m-5 8h0m3 6h0m0-12h0m8 15h0m9-2h0m4-14h0m1 14h0m5-11h0m1 5h0m231 135h0m-10-2h0m-8 1h0m-28 22h0m5-9h0m2 6h0m7-11h0m5-1h0m23-3h0m14 1h0m8 0h0m5 3h0m3 9h0m8 4h0m1 23h0m0-17h0m-2 5h0m-2 5h0m-74 11h0m-6-4h0m-1-5h0m0-10h0m9 25h0m3 4h0m6 4h0m8 2h0m7 3h0m5 5h0m11 0h0m3-4h0m6-1h0m10-4h0m6 0h0m2-6h0m4-4h0" stroke="#6b4566" stroke-width="12"/>
<path d="M2818 1094h0m5 13h0m0-1h0m1-1h0m3 10h0m2-11h0m34 21h0m1 1h0m2-10h0m2 6h0m2-11h0m2 9h0m2-14h0m2 9h0m2 6h0m4-5h0m0 0h0m0 5h0m4-4h0m1 3h0m4-10h0m4 2h0m4 9h0m-3 13h0m-24-3h0m-9-1h0m73 44h0m12-1h0m7 13h0m0-1h0m-3 13h0m0-21h0m-1 13h0m-1-6h0m-2 5h0m-2 1h0m-3-9h0m-1 16h0m-2-19h0m-1 15h0m-1-7h0m-1-4h0m-2-6h0m-4 10h0m-6 4h0m-4 4h0m0-8h0m-4 1h0m-13-2h0m-1 10h0m-1-10h0m-9 10h0m-7 3h0m0-2h0m-5 1h0m-2-2h0m2 6h0m0 11h0m1 4h0m1 3h0m3-19h0m7 15h0m7-14h0m1 18h0m6-2h0m0-2h0m0-4h0m1-1h0m0 1h0m1-9h0m0 15h0m4-17h0m0 2h0m1 15h0m3-8h0m0 6h0m4 1h0m2-3h0m0-3h0m2-7h0m5 7h0m3 10h0m13 2h0m7-2h0m11 2h0m114 24h0m-6 0h0m-1-3h0m-3 1h0m-1 3h0m-7-1h0m-47 1h0m-25-11h0m-3 1h0m-3-6h0m-2 5h0m0-11h0m-3 11h0m-11-1h0m-1 0h0m-1 5h0m-4-10h0m0-2h0m-1-1h0m0 18h0m-3-3h0m-1-3h0m-2-1h0m-2 7h0m-3-3h0m-1-9h0m-1 6h0m-1-6h0m-2-1h0m-1 5h0m-7-7h0m-1 17h0m0-11h0m-2 10h0m-4-5h0m0-6h0m-12 12h0m-355 22h0m9 0h0m9-4h0m2-10h0m0 16h0m79-10h0m254-10h0m22 8h0m1-3h0m3-5h0m1-3h0m1 5h0m0 2h0m1-5h0m1 9h0m1-8h0m1 12h0m6-11h0m0 11h0m9 8h0m1-18h0m3 6h0m3 7h0m1 5h0m2-19h0m2-3h0m7 4h0m0 1h0m1 4h0m15 8h0m8-10h0m1-7h0m5 3h0m5 13h0m9 6h0m3-8h0m3 1h0m31-13h0m1-2h0m5 5h0m0 5h0m6-5h0m4-4h0m-12 33h0m0 1h0m-2-6h0m-3 7h0m-2-1h0m-1 5h0m-2-10h0m-1 6h0m-2 3h0m0-1h0m-3-5h0m-1 8h0m-1-6h0m-3-2h0m-18-8h0m-4 13h0m-1-11h0m-4 16h0m-17-16h0m-5 15h0m-3-16h0m-1 4h0m0-1h0m0 9h0m-7-5h0m-25-9h0m-225 6h0m-1 14h0m-1-9h0m-9-7h0m-18 16h0m-8-3h0m-1-6h0m-27 6h0m-26-9h0m-7 14h0m-33-2h0m-15-16h0m-5 3h0m-1-3h0m-8 3h0m-7-5h0m-9 44h0m5-9h0m32-13h0m18 19h0m7-10h0m29 2h0m15-8h0m22 15h0m0-6h0m3 2h0m2 1h0m3-14h0m6 17h0m1 0h0m2-5h0m2-1h0m1-9h0m3 7h0m3 2h0m3 6h0m3-11h0m0-1h0m0 16h0m1-14h0m2-4h0m0-4h0m8 0h0m3 5h0m0 1h0m6-4h0m2 11h0m10-6h0m237-5h0m19 0h0m86 35h0m-4-1h0m-11 8h0m-3-17h0m-310 10h0m-12-14h0m-20 4h0m-11 16h0m-6-8h0m-9-3h0m-5-5h0m-3-1h0m-4 0h0m-22 12h0m-2-2h0m-5 4h0m-9 5h0m-14-3h0m-10 4h0m-13-16h0m-2 5h0m-24 2h0m-4 2h0m-31 1h0m-33 6h0m45 12h0m13-10h0m11 17h0m41-18h0m28 21h0m5 1h0m6-21h0m32 9h0m4 12h0m14-16h0m30-1h0m328 0h0m1 2h0m1 15h0m1-19h0m8 12h0m1-15h0m7 11h0m-5 14h0m-10 10h0m-4 4h0m-3-8h0m-333 7h0m-2 3h0m-29 4h0m-14-17h0m-2 10h0m0 3h0m-9-3h0m-8-2h0m-5-10h0m-2 8h0m-17-4h0m-8 14h0m-3-20h0m-2 21h0m-10-13h0m-43 3h0m-11 11h0m-58 7h0m14 12h0m31-11h0m11 8h0m1 4h0m3 1h0m4 1h0m1 2h0m1 0h0m3-2h0m16 3h0m11-14h0m16 9h0m0 5h0m1-11h0m1-3h0m22 5h0m0 7h0m2 2h0m9-10h0m7 6h0m11-8h0m4 7h0m5-3h0m1-11h0m1 0h0m5 2h0m2 10h0m4 6h0m0-21h0m2 17h0m2 1h0m1 2h0m0-15h0m0-2h0m3 9h0m0 6h0m7-14h0m45 6h0m-53 22h0m-6 1h0m-2-6h0m-4 12h0m-3-10h0m-1-3h0m-8-3h0m-3 22h0m-1-3h0m-4-14h0m-14-5h0m-5 15h0m-17-10h0m-12 18h0m-4-18h0m-26 1h0m-1-2h0m-2-3h0m-4 10h0m-1 11h0m-3-13h0m-3-6h0m-3 14h0m-5-10h0m-1 7h0m-12-7h0m0-1h0m-1 8h0m-3-4h0m0-5h0m-3-2h0m-28 6h0m-37-1h0m-4 8h0m-1-3h0m-10 17h0m30 10h0m10-16h0m1 16h0m3 1h0m15-4h0m5 3h0m4 0h0m2 6h0m0-7h0m8 8h0m0-6h0m6 3h0m3-18h0m7-2h0m4 14h0m35 7h0m6-11h0m8 11h0m27-11h0m7 11h0m11-5h0m6-1h0m6-9h0m2 10h0m4-7h0m10-6h0m7 15h0m36 4h0m1 1h0m342 24h0m-376-5h0m-3-18h0m-4 23h0m-5-17h0m-8 4h0m-8 12h0m-12-11h0m-18 1h0m-1-5h0m-4-2h0m-17 17h0m-2-8h0m-13 8h0m-20-17h0m-17 6h0m-9 12h0m-6-13h0m-2-9h0m-4 21h0m-2-19h0m-3 20h0m-1-21h0m-1 9h0m-6-9h0m-2-1h0m-29 20h0m1 8h0m5 3h0m6-2h0m13 11h0m7-16h0m18-1h0m1 21h0m32-10h0m12-6h0m58 13h0m6 5h0m1-2h0m1-4h0m1 0h0m3-9h0m1-6h0m1 17h0m5-8h0m2 4h0m1 7h0m0-13h0m2 8h0m2-13h0m3 3h0m0 15h0m1-13h0m3-5h0m1 2h0m2 8h0m1 9h0m0-5h0m2-8h0m1-9h0m0 6h0m1 1h0m3-7h0m2 22h0m1-7h0m1 1h0m5-6h0m1 12h0m1-12h0m9 10h0m343-19h0m2 5h0m2-2h0m5-5h0m0 8h0m4-8h0m1 9h0m10-1h0m0-4h0m1-1h0m3 2h0m5-1h0m6 5h0m-388 20h0m-5 2h0m-4-5h0m-8 7h0m0-5h0m-10 7h0m-8-9h0m-6 6h0m-10-1h0m-2-3h0m-29 17h0m0-2h0m-65-19h0m-11 17h0m-47-3h0m14 11h0m26 19h0m38-7h0m4 0h0m22-7h0m283 38h0m-85 3h0m-11-4h0m-9-5h0m-268 0h0m-31 8h0m-4-5h0m0 3h0m-1 2h0m-6 1h0m-3-11h0m0 12h0m12 1h0m288 10h0m6 10h0m1 1h0m6-9h0m7 0h0m1-3h0m1-5h0m2 5h0m6 0h0m98-9h0m2 7h0m1 4h0m0-4h0m2 14h0m0-7h0m0-12h0m1 9h0m0-12h0m2 21h0m3-10h0m2 4h0m5 6h0m2-4h0m6-9h0m8 15h0m61-3h0m3 1h0m1 2h0m3-1h0m0-3h0m13 0h0m1 3h0m1-1h0m0-8h0m1 6h0m2-3h0m1 5h0m2-1h0m1-3h0m0 4h0m3-4h0m1 4h0m5 13h0m-1 6h0m-3-4h0m-1-9h0m-2 10h0m-1 3h0m-1-4h0m0-9h0m-1 12h0m-1 1h0m0-7h0m-1 3h0m-1 4h0m0-10h0m-2 8h0m-1-11h0m-1 8h0m0-5h0m-2 10h0m0 3h0m0-16h0m-2-1h0m0 14h0m0-13h0m-1 1h0m0 12h0m-3-13h0m0 11h0m-1 1h0m0-13h0m-1 8h0m-3-8h0m-6 14h0m-53-6h0m-5 5h0m-7-11h0m-5 5h0m-5 1h0m-11 0h0m0-3h0m-2 1h0m-3 1h0m0 4h0m-2-3h0m-3-1h0m-97 3h0m-2 6h0m-1-9h0m-1-1h0m-3 5h0m-1 9h0m-6-11h0m-8-7h0m103 24h0m5 5h0m0 5h0m1-2h0m3-2h0m11-10h0m15 3h0" stroke="#a2cd6f" stroke-width="6.8"/>
<g fill="#76ae2f" filter="url(#bl)"><ellipse cx="2848.9" cy="1312.6" rx="69.6" ry="65.4"/><ellipse cx="2803.4" cy="1225.6" rx="37.3" ry="33.1"/><ellipse cx="2824.1" cy="1267" rx="37.3" ry="37.3"/><ellipse cx="2807.5" cy="1358.1" rx="33.1" ry="37.3"/><ellipse cx="2695.7" cy="1229.8" rx="37.3" ry="22.8"/><ellipse cx="2749.5" cy="1242.2" rx="24.8" ry="12.4"/><ellipse cx="2658.4" cy="1250.5" rx="16.6" ry="16.6"/><ellipse cx="2749.5" cy="1149" rx="22.8" ry="24.8"/><ellipse cx="2791" cy="1391.3" rx="29" ry="37.3"/><ellipse cx="2774.4" cy="1507.2" rx="35.2" ry="33.1"/><ellipse cx="2824.1" cy="1519.6" rx="20.7" ry="16.6"/><ellipse cx="2981.4" cy="1469.9" rx="58" ry="29"/><ellipse cx="2998" cy="1515.5" rx="29" ry="24.8"/><ellipse cx="2923.5" cy="1511.3" rx="29" ry="24.8"/><ellipse cx="3072.5" cy="1432.7" rx="37.3" ry="14.5"/><ellipse cx="3126.4" cy="1420.2" rx="16.6" ry="11.6"/><ellipse cx="2517.7" cy="1391.3" rx="26.9" ry="29"/></g>
<path d="M2738 1126h0m7-1h0m3-4h0m3 0h0m6 5h0m2 1h0m15 16h0m0 6h0m-3-20h0m-1 4h0m0 7h0m-5-11h0m-30 2h0m-4 5h0m-1 0h0m-2 12h0m0-9h0m-4 14h0m2 9h0m0-10h0m5 14h0m0-4h0m2 7h0m8-1h0m5 4h0m14-1h0m4 2h0m4-6h0m3-2h0m3-7h0m1-4h0m44 43h0m-3-3h0m-4-1h0m-5 1h0m-3-4h0m-6 1h0m-8 2h0m-1-5h0m-7 7h0m-11 3h0m-16-22h0m-9 2h0m-88 42h0m2-5h0m2-5h0m11 5h0m1-8h0m4 3h0m4 1h0m10-2h0m7-1h0m7-3h0m4 3h0m2-6h0m5 9h0m2 0h0m8 10h0m2-8h0m8 9h0m27-10h0m4-6h0m2 16h0m2-17h0m4-5h0m33 21h0m14-21h0m3 3h0m3 4h0m6 2h0m0-2h0m3 12h0m2 4h0m4-3h0m9-4h0m10-12h0m6 7h0m7 8h0m40-5h0m2 1h0m16-7h0m7 9h0m40 24h0m-5 3h0m-6-17h0m-15 15h0m-2-3h0m-13 6h0m0-5h0m-8 1h0m-11-1h0m-9 1h0m-8-16h0m-1 4h0m-4 16h0m-1-6h0m-2-2h0m-5 9h0m-6-13h0m0 12h0m-5-2h0m0-2h0m-2-12h0m0-1h0m-3 16h0m-2-3h0m-1-8h0m-1 4h0m-1-1h0m-1-2h0m-5 3h0m-4 4h0m-2 3h0m-2-2h0m0-7h0m-1 4h0m-2 5h0m-4-4h0m-4-9h0m-1 5h0m0 2h0m-2-1h0m0-10h0m-2-1h0m0 7h0m-3 7h0m-3-1h0m0-8h0m-1 13h0m-1-15h0m-6 5h0m-2 10h0m-3-16h0m-2 6h0m-2-3h0m-4 1h0m-5 15h0m-2-9h0m-5 6h0m-2-11h0m0 3h0m-22 6h0m-3-4h0m-1 5h0m-2 0h0m0 0h0m0-7h0m-2-12h0m0 9h0m0 2h0m-2 2h0m-4 5h0m-3-10h0m-4-1h0m-2-6h0m-1 3h0m-3 0h0m-8 3h0m-6 9h0m0-9h0m-1 1h0m0 4h0m0-12h0m-1 1h0m-2 19h0m-2-14h0m-3 7h0m0-1h0m-2 11h0m-1-6h0m-2 6h0m-2-4h0m0-3h0m-47-2h0m-4-1h0m-3 1h0m-3-2h0m-1 9h0m-1-20h0m-1 9h0m0-2h0m-1-4h0m-2 13h0m-2-10h0m0 1h0m-4 0h0m-1 2h0m-4 6h0m-9 6h0m2 6h0m3-4h0m3 13h0m2 3h0m1-1h0m6 6h0m7-3h0m5-13h0m0 18h0m3-21h0m0 17h0m3-15h0m0 4h0m3-8h0m1 5h0m1 1h0m9-3h0m1 5h0m5-2h0m7 2h0m6-6h0m5-1h0m4 4h0m9-4h0m7-1h0m1 2h0m5 2h0m6 2h0m0 2h0m12-2h0m9 0h0m3-3h0m2 4h0m3-6h0m7 7h0m0-8h0m3 10h0m0 6h0m2 6h0m1-21h0m2 5h0m1-2h0m0 6h0m1 7h0m1-2h0m0-5h0m1 4h0m4-1h0m3-12h0m0-1h0m1 16h0m3-3h0m3-5h0m3 0h0m5-2h0m0 7h0m3 6h0m2-11h0m4-1h0m2-1h0m1 4h0m3-9h0m3-1h0m7 6h0m5-2h0m12 3h0m1-4h0m1 9h0m1-5h0m3 8h0m1 7h0m0-7h0m8-9h0m16-5h0m1 10h0m2-5h0m2-3h0m3 20h0m2-13h0m7 13h0m2-22h0m0 4h0m1 16h0m3 0h0m0-3h0m0-4h0m1 2h0m1 1h0m2 5h0m4-2h0m1 0h0m2-13h0m1 5h0m3 8h0m2-2h0m1 3h0m1-3h0m3-2h0m5-11h0m2 10h0m7-13h0m0 14h0m4 6h0m1-18h0m2 12h0m4 11h0m-9 15h0m-14-6h0m-2-5h0m-2 16h0m-1-16h0m-3 6h0m-4-12h0m-11 20h0m-4-5h0m-1-12h0m-2 10h0m-4-14h0m-28 1h0m-8 2h0m0 6h0m-3 9h0m-1 1h0m-9-1h0m-2 4h0m-43-14h0m-5-1h0m-1 11h0m-1-4h0m-5 7h0m0-10h0m-1-8h0m0 11h0m-5 4h0m-2-5h0m-2-9h0m-1-1h0m-3 18h0m-3-8h0m-8 9h0m-37 2h0m14 11h0m7 6h0m17 5h0m0-3h0m1-7h0m4-4h0m0 3h0m3 6h0m2-10h0m0 3h0m4 12h0m5-8h0m1-10h0m5 5h0m0 0h0m0-1h0m2 15h0m6-20h0m0 20h0m3-22h0m3-1h0m1 15h0m2 1h0m1-8h0m8 3h0m5 9h0m0 3h0m1-10h0m4-6h0m9 0h0m4 3h0m1-9h0m68 12h0m1-4h0m9 12h0m15-1h0m0-9h0m-9 16h0m-10 2h0m0 9h0m-1-2h0m-11 3h0m0 5h0m-61-8h0m-9 10h0m-2-8h0m-5-4h0m-3-9h0m-3 9h0m-6 6h0m-1-13h0m-7 3h0m-1-2h0m-3-1h0m-8 20h0m-2-6h0m-1-16h0m-2 7h0m0 3h0m-3-11h0m-1 20h0m-4-4h0m0-10h0m-1-6h0m-2 5h0m-5 3h0m-1 8h0m0-6h0m0 6h0m-5 2h0m-5 3h0m-21-16h0m-16 13h0m0-11h0m-220 31h0m3 9h0m5-5h0m5-2h0m6 6h0m0-13h0m5 14h0m0-1h0m204-8h0m9 6h0m22-7h0m0 7h0m7-15h0m0 6h0m3-9h0m0 17h0m2-6h0m0-7h0m2 5h0m0 3h0m5 1h0m0-13h0m3 2h0m1 15h0m0-11h0m1 3h0m6 9h0m0-14h0m2 5h0m4 1h0m2 10h0m1-12h0m0-3h0m1 6h0m3 2h0m1 7h0m3-4h0m3-15h0m2 20h0m2-9h0m2 0h0m2-12h0m12 10h0m2 11h0m1-6h0m0-13h0m6 4h0m31 15h0m9-3h0m5 3h0m3-14h0m7-6h0m4 8h0m6 7h0m16-5h0m-24 13h0m-5 15h0m-14-17h0m-2 6h0m-3 15h0m-6-5h0m-4-9h0m-1 2h0m-1 7h0m0 7h0m-2-1h0m-2-13h0m-1 2h0m0 11h0m-9-9h0m-1 1h0m0-9h0m-1 16h0m-2-13h0m-4 9h0m-2-8h0m-3-4h0m-1 18h0m-1-23h0m-1 1h0m0 7h0m0 7h0m-2-3h0m0 1h0m-2-7h0m0-4h0m-1 7h0m-1 5h0m-2 5h0m-1-2h0m0 2h0m-1-10h0m-3-6h0m0 19h0m0-1h0m-2-10h0m-4-5h0m-1-1h0m0 16h0m-4-19h0m-5 20h0m-8-5h0m-10 4h0m-1-2h0m-6-3h0m0-6h0m-4-5h0m-5 3h0m-2-8h0m-1 17h0m-1-14h0m-3 6h0m-2-7h0m-3 17h0m-26-14h0m-167 15h0m-3 3h0m-18-8h0m-2-2h0m-2 6h0m-3-10h0m-5-5h0m-31-4h0m-2 5h0m-10 4h0m-1 12h0m0-15h0m-1 7h0m-6 9h0m2 6h0m8 14h0m0-9h0m4 11h0m33 3h0m3-3h0m4 3h0m2-17h0m2 1h0m3 7h0m3-11h0m0 2h0m0 4h0m5-7h0m2 2h0m3 8h0m1-8h0m0 2h0m0 4h0m1-8h0m2 9h0m0 5h0m3-4h0m1-4h0m192-7h0m2 1h0m1 5h0m1 6h0m1-1h0m6 9h0m21-18h0m1-2h0m6 5h0m4 12h0m1-8h0m1-4h0m0 15h0m1-1h0m3-2h0m0-15h0m2 13h0m2-9h0m2 8h0m1-1h0m2-7h0m2 6h0m0 2h0m1-6h0m1-1h0m2-7h0m3 8h0m3 2h0m1-6h0m1 3h0m1 10h0m0-17h0m1 10h0m0 10h0m10-17h0m6 10h0m4-11h0m0 5h0m2 11h0m0-2h0m2-3h0m6 7h0m1-16h0m0 18h0m1-4h0m1-9h0m0 13h0m3-16h0m4-3h0m3 15h0m4-3h0m1-10h0m3 16h0m0-11h0m6-11h0m5 9h0m4-1h0m5 8h0m1-8h0m2-8h0m3 16h0m15-1h0m7-12h0m12 20h0m0-7h0m2-4h0m4 5h0m6 5h0m4-10h0m4 8h0m25-10h0m4 0h0m1 7h0m15 4h0m10 1h0m95-2h0m5-2h0m2-2h0m8 2h0m4 0h0m2 0h0m7 2h0m3 3h0m-2 9h0m-2 4h0m-4 3h0m-2 0h0m-4 2h0m-12 1h0m-1-3h0m-5-2h0m0-5h0m-1 10h0m-1-8h0m-1-9h0m-1 6h0m-1 14h0m0-9h0m-1-5h0m-1 8h0m-2-9h0m-6 0h0m-4-2h0m-7-3h0m-14 1h0m-3-2h0m-2 1h0m-3 22h0m-1-3h0m-5-18h0m-1-2h0m-2 17h0m-5 4h0m-3-12h0m0-6h0m-7 8h0m-1 5h0m-3 7h0m0-16h0m-2 12h0m-1-2h0m-2-5h0m-2 1h0m-16 10h0m-14-22h0m-1 20h0m-1 0h0m-3 2h0m0-15h0m-1 4h0m-4 9h0m-6-4h0m-2-9h0m-3-1h0m-4 11h0m-1 1h0m-1-11h0m-2 4h0m-3 9h0m0-8h0m-2 5h0m-1 0h0m-4-1h0m0-9h0m-2 8h0m-1-7h0m-1 1h0m0 4h0m-1-3h0m-4-1h0m-2 12h0m-1-1h0m0-16h0m-7 10h0m0 6h0m-1-3h0m-4-7h0m-2-10h0m-2 3h0m0 12h0m-4-7h0m0 7h0m-4-3h0m-1-9h0m0 10h0m-1 0h0m-5-3h0m-2-1h0m-2 0h0m0 0h0m-1 11h0m-1 2h0m-5-15h0m-1 3h0m-5-11h0m-1 20h0m-1-1h0m-1-7h0m-1 10h0m0-7h0m-1-12h0m0 5h0m0 7h0m-2 2h0m-2 5h0m-1-6h0m-1 0h0m-1-7h0m0 10h0m-3 4h0m-1-9h0m-5-10h0m-5 16h0m-1-20h0m0 23h0m-1-7h0m-1 4h0m0-20h0m0 15h0m-2 4h0m-2-13h0m0 6h0m-2-7h0m-3 14h0m-2-11h0m-2 7h0m0-5h0m0 7h0m0-2h0m-1-5h0m0-9h0m0 1h0m-4 2h0m-3 12h0m-1-7h0m-1-6h0m-1 18h0m0-9h0m-2 10h0m-2-13h0m0 3h0m-2-1h0m-1-10h0m0 15h0m-1-13h0m0 4h0m-2 16h0m-2-13h0m-1-6h0m0 7h0m-1 7h0m0 4h0m-2-11h0m0 10h0m-3-5h0m0 7h0m-2-3h0m-2-1h0m-3-16h0m-6 7h0m0 0h0m-1-10h0m0 18h0m-1 4h0m-1-19h0m0 0h0m0 12h0m-4 5h0m0-2h0m-1-11h0m-3 6h0m-3-5h0m-2 14h0m-2-16h0m-3 8h0m-4-4h0m0 13h0m0-8h0m-4 7h0m-1-7h0m0 0h0m-2 7h0m0-9h0m0 9h0m-2-12h0m-1 10h0m-1-14h0m-5 3h0m-2 0h0m-2-4h0m-241 2h0m-2-7h0m-5 4h0m-8 5h0m-4-3h0m-2 2h0m-6-7h0m-6 0h0m275 35h0m1-1h0m0 8h0m5-19h0m2 5h0m6 18h0m10-16h0m2 6h0m9-11h0m5 4h0m2 11h0m10-7h0m1 5h0m3-2h0m2-8h0m1-4h0m0 2h0m1-1h0m2 7h0m1-6h0m0 15h0m1-15h0m2 0h0m1 13h0m2-1h0m1 0h0m0-8h0m3-2h0m0 14h0m1-6h0m8-2h0m0 6h0m1-6h0m0-10h0m1 7h0m1 1h0m0 10h0m2-17h0m0 21h0m1-5h0m0-4h0m3 3h0m6-16h0m1 11h0m1-12h0m0 2h0m1 19h0m1-16h0m1 8h0m1-4h0m1 12h0m1 0h0m0-21h0m2 11h0m3 0h0m0 1h0m0-11h0m1 2h0m1 11h0m2 2h0m0 0h0m1 6h0m0-13h0m1 5h0m1 5h0m2-10h0m0 5h0m1-12h0m0-2h0m1 14h0m1-7h0m1 15h0m0-2h0m0-5h0m1-11h0m1 12h0m0-6h0m0 8h0m1-15h0m0-2h0m1 6h0m1 1h0m1 8h0m0 2h0m4 1h0m4-17h0m3 1h0m2 11h0m1-7h0m0 2h0m0 0h0m2-2h0m1-3h0m2 6h0m1-3h0m1 11h0m1-2h0m0-2h0m1 6h0m1-3h0m0 3h0m1-6h0m1 9h0m4-10h0m1-10h0m0 15h0m2-10h0m1-7h0m0 4h0m0 10h0m0-12h0m1 11h0m2 6h0m5-12h0m1 9h0m0-14h0m2 7h0m2-1h0m3 13h0m2-13h0m0-2h0m1 12h0m3-12h0m5 15h0m1-22h0m3 22h0m4-17h0m3 12h0m5-15h0m0-2h0m2 3h0m1 8h0m5-8h0m0 1h0m1-2h0m0 15h0m0 4h0m3-21h0m2 8h0m3 15h0m7-1h0m1-15h0m4 1h0m8-1h0m2-7h0m7 8h0m2 2h0m1 3h0m3 10h0m2-23h0m3 10h0m0-7h0m2 7h0m1-2h0m1 1h0m0-5h0m3 9h0m1 7h0m0-16h0m2 18h0m1 0h0m2-21h0m1 18h0m4-17h0m1 1h0m0 14h0m6-8h0m2-3h0m0 3h0m5-4h0m1 14h0m1-15h0m0 12h0m5-10h0m10 0h0m6 5h0m3-7h0m5-1h0m2 1h0m9-3h0m5-1h0m-20 28h0m-9 13h0m-4-13h0m-5 14h0m-5-3h0m-3-9h0m-3 11h0m-1 6h0m-1-6h0m-3 0h0m0-6h0m-5-2h0m-1-4h0m0 6h0m-1-11h0m-2 12h0m-1-6h0m-1-1h0m-5 15h0m0-14h0m-2 16h0m-7 0h0m0-22h0m-2 21h0m0-14h0m0-3h0m-1 8h0m-1 3h0m-5 4h0m-9-13h0m0 5h0m0 0h0m-3-1h0m0 2h0m-1-6h0m-2 6h0m-4 6h0m-3-1h0m-4-12h0m-5-3h0m-1 13h0m-1-14h0m-1 4h0m0 5h0m-6 8h0m-2 5h0m-10-16h0m-4 0h0m-3-1h0m-8-6h0m-6 18h0m-1-9h0m-2-3h0m-2 6h0m-2-11h0m-1 15h0m0-10h0m-3 17h0m-6-3h0m0-15h0m-1-2h0m-2 20h0m-1-20h0m-1 7h0m0 4h0m-1 3h0m-1 3h0m0-10h0m-1 5h0m-2 3h0m0-3h0m-1 5h0m-1-18h0m-3 16h0m-1-13h0m-1-3h0m0 4h0m0-5h0m-1 13h0m0-10h0m-2 17h0m0-18h0m-2 20h0m-1-17h0m-1 4h0m-1 9h0m-1-1h0m-3-3h0m0-6h0m0-7h0m-3 9h0m-5-7h0m-1 3h0m-1 8h0m-4-9h0m0-2h0m0 19h0m-1-14h0m-5 11h0m0-15h0m0 4h0m-1 10h0m-2 1h0m-3-20h0m-2 12h0m-2-7h0m-6 9h0m-3-13h0m-1 14h0m-3-1h0m-3-4h0m-1-6h0m-1 14h0m0-17h0m-10 9h0m0 12h0m-1-9h0m-1-6h0m-1 7h0m-8 9h0m-2-8h0m-1 3h0m-2 3h0m0-13h0m-4-6h0m-11 6h0m-1 14h0m-10-2h0m-2-5h0m-3 1h0m-6-9h0m-6 9h0m-4-5h0m-2 11h0m-2-12h0m-3 7h0m-2-17h0m-1 9h0m-3 1h0m-4 10h0m-3-8h0m0-11h0m-5 13h0m0-3h0m-2-2h0m-1 9h0m-3 0h0m-5-2h0m-6 1h0m-2 5h0m-3-4h0m-7 12h0m4 5h0m2 8h0m5-14h0m21 1h0m17 4h0m8 1h0m1 5h0m13-15h0m3 2h0m0 7h0m0 11h0m3-2h0m4-2h0m0-4h0m0 7h0m1 3h0m3-7h0m2 1h0m9-1h0m0-4h0m5 4h0m3-9h0m4 10h0m0-17h0m5 23h0m1 0h0m6-23h0m2 4h0m1 17h0m13-3h0m4-12h0m19 17h0m6-11h0m1 6h0m1-6h0m4-10h0m2 8h0m0-6h0m6 6h0m18-8h0m2 1h0m4 16h0m1-16h0m0 7h0m6-4h0m3 3h0m0 0h0m1 2h0m1-10h0m2 13h0m0-11h0m1 3h0m1 14h0m1-8h0m2-4h0m5 3h0m4 4h0m3-6h0m2-4h0m1 9h0m3 9h0m2-10h0m1-4h0m2-3h0m0-2h0m3 4h0m0 2h0m0-2h0m1 3h0m1-7h0m2 1h0m6 5h0m3 3h0m0-7h0m1-6h0m1 10h0m0 4h0m3-10h0m3 2h0m1-4h0m3 4h0m1 7h0m1 6h0m3-8h0m1-7h0m0 6h0m0-3h0m3-5h0m4 1h0m1 12h0m1-7h0m3 10h0m0-18h0m1 18h0m1-8h0m0 9h0m1 1h0m2-15h0m0 18h0m1-4h0m2 3h0m6-16h0m1-6h0m6 20h0m0-8h0m10-5h0m0-2h0m7 11h0m3-10h0m1 4h0m10-7h0m1-2h0m8 0h0m-52 27h0m-5 19h0m-2-12h0m-1-6h0m-3 13h0m-4 3h0m-35-1h0m-3 0h0m-3 0h0m-3-3h0m0-6h0m-6-9h0m-1 2h0m-4 8h0m-9-8h0m-1 0h0m-1 1h0m-2 7h0m-2 6h0m-6-17h0m-3 20h0m-10 0h0m-15-2h0m-4 2h0m-4 2h0m-1-10h0m-5 4h0m-4-3h0m-2-9h0m-1-3h0m-13 18h0m-24-10h0m-7 2h0m-1-9h0m-1 7h0m-1-6h0m-1 10h0m-4 5h0m-3 0h0m-5 3h0m-10 1h0m-1-16h0m-7-3h0m0 19h0m-1-21h0m-4 6h0m-1 13h0m-4-14h0m-1 5h0m0 10h0m0-6h0m0-15h0m-3 18h0m-1-9h0m-6 8h0m0 2h0m-3 3h0m-5-21h0m-26 20h0m-10 0h0m-1 1h0m-2-7h0m-1-7h0m-4-3h0m-6-5h0m0 7h0m27 19h0m3 10h0m6-8h0m3 5h0m9-10h0m0 11h0m14-2h0m22-8h0m8 1h0m0-1h0m13 18h0m14-15h0m67-1h0m12-1h0m1-2h0m10 1h0m33 19h0m6-14h0m2 16h0m1-21h0m3 15h0m5 0h0m1-2h0m1-12h0m8 6h0m1-7h0m2 18h0m6-16h0m0 7h0m-2 14h0m-19 2h0m-21 4h0m-3-1h0" stroke="#76ae2f" stroke-width="11.2"/>
<g fill="#679a2b" filter="url(#bl)"><ellipse cx="2848.9" cy="1312.6" rx="59.8" ry="56.3"/><ellipse cx="2803.4" cy="1225.6" rx="29.8" ry="26.5"/><ellipse cx="2824.1" cy="1267" rx="32" ry="32"/><ellipse cx="2807.5" cy="1358.1" rx="26.5" ry="29.8"/><ellipse cx="2695.7" cy="1229.8" rx="29.8" ry="18.2"/><ellipse cx="2749.5" cy="1242.2" rx="17.9" ry="8.9"/><ellipse cx="2749.5" cy="1149" rx="16.4" ry="17.9"/><ellipse cx="2791" cy="1391.3" rx="23.2" ry="29.8"/><ellipse cx="2774.4" cy="1507.2" rx="28.2" ry="26.5"/><ellipse cx="2981.4" cy="1469.9" rx="41.7" ry="20.9"/><ellipse cx="2998" cy="1515.5" rx="20.9" ry="17.9"/><ellipse cx="2923.5" cy="1511.3" rx="20.9" ry="17.9"/></g>
<path d="M2766 1151h0m-2-13h0m0 5h0m-5-11h0m-6 1h0m-6-1h0m-9 2h0m-2 6h0m-2 4h0m-1 9h0m3 8h0m6 5h0m7 0h0m6 0h0m5-1h0m3-8h0m45 41h0m-5 0h0m-6-1h0m-131 25h0m7-6h0m7-1h0m8-2h0m11-2h0m7 1h0m4 2h0m8 5h0m6 4h0m53-6h0m2-8h0m5 0h0m4-4h0m31-4h0m1 3h0m7 9h0m2 4h0m5 6h0m14 21h0m-8-3h0m-5-6h0m-4-5h0m0 11h0m-1-6h0m-3 10h0m0-7h0m-6 0h0m-6-3h0m-4 1h0m-6 5h0m-21 3h0m-4-4h0m-6-9h0m0-7h0m-2 10h0m-6 9h0m0-4h0m-1-2h0m-1 10h0m-7-13h0m-10 0h0m-8 1h0m-7 8h0m0-4h0m-5-12h0m-1 4h0m-2 6h0m-4 6h0m-5 2h0m-8 1h0m-23 0h0m-10-4h0m-4-1h0m-1-15h0m-1 7h0m-1-2h0m21 18h0m12 0h0m35-1h0m4 2h0m7 1h0m9-1h0m34 1h0m1 6h0m4 8h0m2-14h0m1 1h0m2-4h0m5 4h0m8-1h0m3 19h0m4-5h0m1-15h0m3 15h0m4-6h0m6-5h0m12 0h0m3 6h0m4-11h0m3 12h0m2-4h0m1 12h0m2-17h0m1 8h0m9-6h0m5 8h0m8 6h0m26 18h0m-4-4h0m-9-10h0m0 5h0m-10-3h0m-33 2h0m-2 7h0m-5 5h0m-4 2h0m-36 5h0m-1-23h0m-3 16h0m-1-2h0m-3-9h0m-1 14h0m-2 3h0m0-12h0m-4-6h0m-1-4h0m1 26h0m3 14h0m0-5h0m16-8h0m6-2h0m6 5h0m9-6h0m8 2h0m67 0h0m1 12h0m5 7h0m0-15h0m-4 24h0m-4-6h0m0 11h0m-4 8h0m-72 3h0m-1-6h0m-8-2h0m-3-4h0m-9-1h0m-9 1h0m-1 5h0m0-2h0m-3 1h0m0-10h0m-5 13h0m-3-17h0m0 20h0m-7 15h0m2-5h0m1 13h0m0 0h0m9-4h0m3 4h0m4-16h0m1 18h0m1-16h0m9 6h0m6 0h0m5 2h0m12-13h0m2 20h0m1 3h0m1-9h0m0-4h0m16 12h0m4 0h0m18-1h0m6 0h0m4-9h0m3-4h0m10-1h0m2-5h0m-35 22h0m-17 6h0m-11-3h0m-4 2h0m-5 8h0m-3-12h0m-5 14h0m-6-6h0m-1 12h0m0-2h0m-3 1h0m-1-14h0m-4 15h0m-1-21h0m-5 19h0m-6-4h0m-3-7h0m-7-6h0m-4-1h0m-3 3h0m-6 18h0m0-4h0m0-12h0m-2 26h0m6 7h0m2 8h0m31 0h0m3-7h0m5-12h0m0 3h0m-11 19h0m-7 2h0m-4 1h0m-5-1h0m-7-3h0m161 42h0m10-3h0m3-2h0m9-1h0m6-4h0m11 0h0m11 0h0m6 2h0m8 2h0m10 1h0m3 4h0m6 4h0m-2 9h0m-1 5h0m-1-8h0m-2 11h0m-2 5h0m-8 2h0m-53 0h0m-4-1h0m-9-5h0m0-4h0m-3-12h0m-1 7h0m0-3h0m-143 19h0m-7-5h0m-10-2h0m-3 0h0m-7-1h0m-7 3h0m-5 5h0m-10 22h0m2-2h0m0-11h0m2-3h0m46-2h0m5 4h0m1 13h0m2-3h0m97 3h0m5-7h0m2-4h0m5-3h0m12 1h0m6-2h0m5 2h0m6 7h0m3 4h0m19-15h0m12 1h0m4 14h0m1-16h0m3 14h0m4-13h0m2 7h0m7 0h0m1-8h0m7 8h0m5 2h0m7 5h0m4 9h0m-1 5h0m-1 3h0m-8 8h0m-6 3h0m-9 0h0m-5 1h0m-5-3h0m-7-8h0m-2-10h0m-1 9h0m-31-7h0m-4 5h0m-4 7h0m-4-1h0m-7 2h0m-10 2h0m-3-3h0m-8-4h0m-2-10h0m-100 1h0m-4 9h0m-2 4h0m-6 5h0m-7 2h0m-9-1h0m-6-1h0m-11-1h0m-1-4h0m-4-3h0m-6-7h0" stroke="#679a2b" stroke-width="12"/>
<g fill="#5a8229" filter="url(#bl)"><ellipse cx="2848.9" cy="1312.6" rx="48.7" ry="45.8"/><ellipse cx="2803.4" cy="1225.6" rx="21.6" ry="19.2"/><ellipse cx="2824.1" cy="1267" rx="26.1" ry="26.1"/><ellipse cx="2807.5" cy="1358.1" rx="19.2" ry="21.6"/><ellipse cx="2695.7" cy="1229.8" rx="21.6" ry="13.2"/><ellipse cx="2791" cy="1391.3" rx="16.8" ry="21.6"/><ellipse cx="2774.4" cy="1507.2" rx="20.4" ry="19.2"/></g>
<path d="M2682 1220h0m6-2h0m14-1h0m5 3h0m9 2h0m68-2h0m0-4h0m5-7h0m9-3h0m5 1h0m11 1h0m3 5h0m4 2h0m20 29h0m-5-3h0m-7-2h0m-3-8h0m-1-7h0m-3 11h0m0 4h0m-5 2h0m-2 1h0m-4 0h0m-4 5h0m-2-4h0m-8 0h0m-6-1h0m-4-3h0m-5-11h0m-1 5h0m-65-5h0m-1 5h0m-1 2h0m-4 4h0m-11 4h0m-5 0h0m-11-3h0m-6-3h0m-1-3h0m-2-7h0m0-3h0m124 43h0m2 3h0m1-11h0m1-7h0m27 15h0m10 4h0m5-22h0m3 14h0m3-5h0m2 12h0m0-6h0m5 0h0m10 7h0m7-2h0m17 20h0m-4-5h0m-4-4h0m-6-3h0m-27-5h0m-3 5h0m-3 5h0m-5 7h0m-3 2h0m-7 1h0m-3-16h0m-5 16h0m-4-16h0m-2 15h0m-2-15h0m-1 12h0m-6 0h0m-2 3h0m-2-6h0m-3-7h0m-2 25h0m2-6h0m2 20h0m3-7h0m92 4h0m0-12h0m1 8h0m1-13h0m-2 25h0m0 13h0m-2-7h0m-4 14h0m-68-1h0m-9-5h0m-1 3h0m-4-7h0m-2 6h0m-1-7h0m-1 7h0m-6-12h0m-1 15h0m-9 13h0m1 3h0m2-11h0m28-1h0m1 5h0m4 16h0m1-21h0m2 11h0m1-4h0m0 10h0m3-7h0m10 5h0m6-2h0m8 3h0m5-4h0m6-1h0m5-4h0m9 0h0m7-6h0m-65 26h0m-8 7h0m-6 1h0m0 5h0m-1-4h0m-4-1h0m-1-7h0m-4 5h0m0-8h0m-5 3h0m-1-3h0m-2-2h0m-3 3h0m-6 5h0m-4 6h0m-2 3h0m-1 14h0m2 6h0m4 1h0m4 5h0m6 1h0m9-1h0m2-2h0m4-6h0m2-9h0m-54 109h0m1-4h0m1 11h0m4-18h0m8-3h0m9 0h0m5 0h0m5 3h0m5 6h0m3 13h0m0-6h0m-2 11h0m-4 6h0m-7 5h0m-9 1h0m-6-3h0m-5-1h0m-4-7h0" stroke="#5a8229" stroke-width="12"/>
<g fill="#4f6e28" filter="url(#bl)"><ellipse cx="2848.9" cy="1312.6" rx="36.2" ry="34"/><ellipse cx="2824.1" cy="1267" rx="19.4" ry="19.4"/></g>
<path d="M2804 1264h0m1 7h0m3-12h0m4-8h0m3-3h0m10 1h0m3-1h0m7 4h0m5 3h0m3 15h0m1-8h0m30 30h0m-1-5h0m-7-6h0m-7-4h0m-7 3h0m-8-3h0m-3 4h0m0-4h0m-5 5h0m-1-2h0m-2 4h0m-7 3h0m-3 4h0m-1-4h0m-5-1h0m-5-4h0m-4-6h0m3 39h0m0-6h0m2-12h0m5 0h0m63 2h0m0 2h0m3 8h0m1 10h0m2-4h0m-5 15h0m-1 3h0m-10 3h0m-7 5h0m-1 1h0m-36-3h0m-4-1h0m-2-5h0m-4-10h0m-3-3h0m23 26h0m4-1h0m6 1h0m8 2h0" stroke="#4f6e28" stroke-width="12"/>
<path d="M3567 1145h0m-2 0h0m-3 1h0m-1-2h0m0 7h0m-1-17h0m-2 2h0m-2-4h0m-1 0h0m-1 5h0m-1 6h0m-3 1h0m-1 5h0m0-13h0m-1-4h0m-3 3h0m-7-4h0m0 13h0m-2 2h0m0-3h0m-2 4h0m0-2h0m0 1h0m-1 4h0m-2-15h0m-1 6h0m-3-8h0m-3 17h0m-3-6h0m1 11h0m1 3h0m2 16h0m1-15h0m1-1h0m8-1h0m1 2h0m0 1h0m2-8h0m1 13h0m1-9h0m0-3h0m1 5h0m0 8h0m0-4h0m3-4h0m1 4h0m0 10h0m0-13h0m2 0h0m10 7h0m5-13h0m42 41h0m-19-1h0m-1-4h0m-4-1h0m-3 7h0m-1 2h0m-1-9h0m-1-2h0m-2 7h0m-4 0h0m-7 6h0m-1-4h0m-3-4h0m-2-2h0m-4 2h0m-6 0h0m-2 0h0m-15-2h0m-33 7h0m-8-4h0m-9-3h0m-19 2h0m-64 19h0m3 10h0m3-5h0m0 3h0m5-9h0m1 1h0m1 11h0m1-12h0m3-7h0m2 3h0m23 12h0m25 4h0m4-13h0m5-1h0m3 3h0m2 12h0m2-2h0m1 3h0m1-15h0m1 4h0m4-4h0m0-6h0m2 3h0m1 8h0m2-6h0m0 4h0m1-1h0m1 6h0m1-1h0m0-13h0m0-1h0m2 0h0m1 2h0m1 16h0m0-11h0m3-4h0m2 6h0m1-3h0m2 11h0m3-3h0m7 3h0m1 3h0m3-10h0m0-1h0m1 5h0m6 1h0m13-15h0m8 9h0m3 5h0m0-9h0m4 2h0m2-5h0m1 3h0m0 1h0m4-5h0m1 19h0m9-14h0m1-1h0m2-3h0m2 7h0m6-6h0m3 2h0m2 1h0m4-7h0m4 14h0m3 6h0m1-10h0m2-2h0m3 13h0m5-4h0m5-12h0m3 15h0m1-4h0m1-4h0m2 2h0m19 9h0m157-4h0m7 3h0m48 19h0m-4 6h0m-39-8h0m-26-11h0m-12 17h0m-33-2h0m-21 1h0m-19-13h0m-9 3h0m-1-3h0m-14 8h0m-38-13h0m0 14h0m-4 1h0m-2-17h0m0 18h0m-1 5h0m0-16h0m-4 6h0m-1-4h0m-3-4h0m-1-2h0m0 10h0m-1-10h0m-3 8h0m-1 11h0m-1-16h0m0 0h0m0 6h0m-1 9h0m-1-7h0m-5-5h0m-1-5h0m-1 2h0m-1-1h0m-1 3h0m-2 3h0m-4 8h0m-3-19h0m-5 5h0m-1-2h0m-7-1h0m-7-1h0m-47 5h0m-5 1h0m-12-6h0m0 7h0m-3-6h0m0 0h0m-1-2h0m-1 18h0m-5-12h0m0 7h0m0 6h0m-3-8h0m0-4h0m-2 11h0m-1-1h0m0 5h0m-3-4h0m0-7h0m-1 9h0m-1-2h0m0-2h0m-2 0h0m-2 0h0m-2-7h0m-1-5h0m0 16h0m-3-1h0m-1-5h0m-3-9h0m0-2h0m-3 15h0m0-12h0m0 2h0m-1 4h0m-4 6h0m-1-4h0m-1 2h0m-3 0h0m-4-6h0m0 6h0m0 6h0m-1-8h0m-3 2h0m-3 4h0m-2 3h0m-3-10h0m-6 7h0m-5-3h0m-26-9h0m16 36h0m20-20h0m11 9h0m14-4h0m4-4h0m6 2h0m0 8h0m1-9h0m17 17h0m4 1h0m2-12h0m1 6h0m12-14h0m16 2h0m10 2h0m4-4h0m4 4h0m13-3h0m5 3h0m0 19h0m3-2h0m2-17h0m8 5h0m46-7h0m27 18h0m35 1h0m58-20h0m14 12h0m9 8h0m21-10h0m8 7h0m2 4h0m11-21h0m1 18h0m30-17h0m2-1h0m5 11h0m3 2h0m0-14h0m2 10h0m1-9h0m3 3h0m1 1h0m3-5h0m2 2h0m14 45h0m-86-14h0m-18 5h0m-2-8h0m-18 16h0m-4-9h0m-6-8h0m-3 15h0m-29 3h0m-47-7h0m-4 5h0m-4-6h0m0 2h0m-2 3h0m-1-5h0m0 8h0m-6-6h0m-8 1h0m-1 2h0m-32-14h0m-3 6h0m-10 11h0m-13 0h0m-12-5h0m-1-10h0m-8 9h0m-1 6h0m-5-23h0m-5 15h0m-1-6h0m-3-8h0m-3 11h0m-14 5h0m-19-6h0m-2-4h0m-7 4h0m-4 2h0m-4-9h0m-75 6h0m-162 11h0m-1-7h0m-4 5h0m0-2h0m-1 1h0m-11 4h0m235 22h0m7-5h0m1-13h0m2 12h0m2-10h0m2 14h0m1-7h0m1-4h0m3 4h0m2 11h0m2-4h0m1 4h0m8-7h0m1-11h0m3-1h0m1 2h0m5-2h0m0 1h0m9 13h0m24-10h0m6 2h0m7-6h0m3 15h0m1 4h0m3-2h0m0-12h0m0 4h0m7 5h0m1-7h0m4 0h0m2 12h0m1-2h0m2-4h0m1 7h0m4-4h0m3-11h0m0 5h0m1-12h0m1 1h0m2 8h0m2 13h0m1 0h0m0-21h0m2 18h0m0-7h0m2 8h0m4 0h0m0-8h0m3 1h0m1 5h0m0-13h0m3 5h0m1-11h0m2 19h0m3 0h0m0-17h0m2 0h0m5 1h0m7 15h0m0-6h0m0-5h0m0-4h0m3 8h0m0-8h0m3 17h0m1 1h0m1-18h0m3 3h0m2 13h0m2-6h0m2 7h0m1 1h0m0-14h0m1-3h0m2 19h0m0-12h0m0 6h0m2-11h0m3 1h0m3 1h0m1-1h0m1 15h0m3-9h0m8-2h0m10 10h0m3-12h0m4 0h0m3 11h0m8 2h0m12-18h0m1 7h0m3 7h0m1-1h0m11-9h0m2 7h0m24 7h0m4-14h0m2 10h0m4 4h0m5 1h0m12-4h0m1 4h0m6-10h0m5-11h0m7 14h0m5-10h0m12-3h0m7 15h0m2-8h0m6-4h0m7 6h0m8 5h0m20 30h0m-14-10h0m-2 3h0m-8 1h0m-10-13h0m-8 14h0m-4-4h0m-4 9h0m-7-3h0m-16-13h0m-3 13h0m-8-15h0m-6 16h0m-8-13h0m-8 4h0m-6 4h0m-3-13h0m0 20h0m0-9h0m-3-7h0m-9 5h0m-4-10h0m-5 14h0m-3-3h0m-26-6h0m0-7h0m-9 10h0m0-8h0m-1 16h0m-2-16h0m0 8h0m-3 3h0m0-13h0m-3 11h0m0-1h0m-6 6h0m-6-15h0m0 2h0m-10 13h0m-17-7h0m-7-3h0m-3 0h0m-7 3h0m-7-5h0m-4-1h0m-1 3h0m-2 2h0m0 4h0m0 1h0m-4 4h0m-1-14h0m0 19h0m-2-15h0m-1 3h0m-9-3h0m0 7h0m-2-10h0m-1 1h0m-1 14h0m-2-1h0m-1-3h0m0-5h0m-1-7h0m0-3h0m0 16h0m-3-5h0m-2-9h0m0 10h0m0 0h0m-1 9h0m-1-21h0m0 5h0m-1 6h0m0 3h0m-4 3h0m-2-14h0m-4 0h0m-3 7h0m-2 6h0m0-14h0m-1 8h0m-6-5h0m-1 0h0m-1-2h0m-19 20h0m-1-7h0m-3-10h0m-13 1h0m-11 4h0m-3-11h0m-9 4h0m-2 10h0m-4 3h0m-5 3h0m-3 2h0m-8-8h0m-4-4h0m-3-10h0m-19 23h0m-16-22h0m-94 20h0m-11 2h0m-2-2h0m2 12h0m4-2h0m1-1h0m7 5h0m0-6h0m3 8h0m8-9h0m159 6h0m63-4h0m13-1h0m9-1h0m89 5h0m0 1h0m2 13h0m1-20h0m12-3h0m5 20h0m5 1h0m7-17h0m3 18h0m10-3h0m11 4h0m10-22h0m6 4h0m3 16h0m0-14h0m3-5h0m5 17h0m6-5h0m15-7h0m11-4h0m5-2h0m1 18h0m7-19h0m12 10h0m8 13h0m-10 7h0m-1 5h0m-1 11h0m-29-18h0m-14 18h0m-7 0h0m-3-5h0m0 6h0m-2-4h0m-2-3h0m-1 5h0m-1-7h0m-4-11h0m-2 5h0m-5 12h0m-4-12h0m-5 15h0m-17-14h0m-68-5h0m-2 8h0m-51 8h0m95 27h0m2-2h0m3-5h0m23-5h0m4 9h0m18-19h0m3 8h0m5 1h0m2 7h0m5-3h0m1 1h0m6 5h0m4-15h0m1 11h0m1-3h0m8-8h0m2 5h0m10-3h0m40 6h0m32 7h0m41 1h0m9 2h0m3-1h0m2 0h0m3 9h0m-8 5h0m0-7h0m-1 4h0m-2-8h0m-1 5h0m-1-4h0m-2 14h0m-10 1h0m-1-17h0m-105 3h0m-539 36h0m0 7h0m3-7h0m10 3h0m1-4h0m413-14h0m69 5h0m18 12h0m34-12h0m1 22h0m-42-3h0m-1 14h0m-1 7h0m-184-11h0m-7 0h0m-2-3h0m-4-1h0m-17 11h0m-2-13h0m-1 10h0m-4-14h0m-5 22h0m-6-22h0m-269 3h0m110 43h0m84 0h0m8-4h0m8 2h0m1 1h0m3-9h0m1 7h0m1-3h0m1-5h0m10 12h0m1-1h0m39-2h0m7-18h0m1 10h0m9-8h0m0 16h0m5-14h0m7-5h0m2 6h0m1-3h0m1 5h0m3 14h0m1-5h0m3-8h0m1-8h0m3 0h0m1 12h0m1 0h0m3-13h0m7 4h0m137-5h0m45 22h0m8 0h0m39-6h0m16 15h0m-2 1h0m-15 9h0m0-4h0m0 6h0m-5-7h0m-2 5h0m-2 5h0m-2-7h0m-1-11h0m-1 2h0m-21-6h0m-2 0h0m-1 4h0m-2 2h0m-9 2h0m-5-6h0m-177 3h0m-2 10h0m-5-13h0m-22-2h0m0 17h0m-7-8h0m-70-5h0m-11-1h0m-2-3h0m-7 0h0m-79 6h0m-2-1h0m-3 0h0m-4 1h0m-3 3h0m-2 5h0m-2-5h0m-4 3h0m-5-1h0m447 15h0m9 1h0m2 2h0m1-4h0m3 7h0m7-6h0m0 6h0m1-7h0m-69 41h0m-10 0h0m0 5h0m-8 0h0m-138-18h0m-308 13h0m0-9h0m-8 5h0m-1 6h0m-7 0h0m-3-18h0m12 27h0m6 1h0m286 4h0m0 1h0m12 9h0m6-8h0m5-12h0m5 21h0m4-19h0m118 5h0m4-3h0m1 2h0m0 7h0m3 8h0m0-16h0m1 5h0m4-3h0m0 9h0m3-12h0m4 11h0m0 6h0m0-6h0m2 5h0m0-8h0m1 10h0m0-22h0m2 6h0m0 4h0m0 9h0m6-7h0m6-6h0m50 10h0m4 5h0m1-1h0m1-5h0m4 5h0m8-6h0m3 7h0m0-1h0m1-7h0m4 10h0m0 7h0m-1 12h0m-6-7h0m0-2h0m-1 6h0m-1-1h0m-1-5h0m0-9h0m-1 5h0m-2 2h0m0 2h0m-1 9h0m-1-16h0m-1 3h0m0-2h0m-2 4h0m-1-7h0m0 11h0m-2-8h0m-2 0h0m-1 2h0m0 13h0m-2-14h0m-1 8h0m-1 6h0m0-17h0m-1 14h0m-1-7h0m-5-7h0m0 12h0m-49-10h0m-11 4h0m-5-4h0m-6 17h0m-1-20h0m-3 22h0m-1-14h0m-13 15h0m-1-12h0m-1-6h0m-8 16h0m-4-6h0m-1-3h0m-3 6h0m-4-1h0m-4 1h0m0 0h0m-1-9h0m-1 7h0m-6 0h0m-90-9h0m-3 14h0m-13-19h0m-4 0h0m-4 12h0m11 15h0m8 2h0m2-3h0m99-2h0m50-2h0m-39 27h0m-2 3h0m-1-3h0m-80 87h0m10-2h0m3 0h0m2-2h0m8 0h0m4 2h0m1-3h0m2 6h0m1-1h0m0-5h0m3 2h0m3-2h0m-16 12h0m-5-1h0" stroke="#8da1d1" stroke-width="6.8"/>
<g fill="#5b76b8" filter="url(#bl)"><ellipse cx="3711.5" cy="1221.5" rx="62.1" ry="29" transform="rotate(40 3711.5 1221.5)"/><ellipse cx="3661.8" cy="1130.4" rx="35.2" ry="22.8"/><ellipse cx="3607.9" cy="1109.7" rx="16.6" ry="18.6"/><ellipse cx="3446.4" cy="1372.6" rx="68.3" ry="26.9" transform="rotate(12 3446.4 1372.6)"/><ellipse cx="3351.2" cy="1242.2" rx="22.8" ry="41.4" transform="rotate(-10 3351.2 1242.2)"/><ellipse cx="3388.5" cy="1436.8" rx="39.3" ry="41.4"/><ellipse cx="3301.5" cy="1391.3" rx="31.1" ry="37.3"/><ellipse cx="3661.8" cy="1457.5" rx="72.5" ry="55.9" transform="rotate(30 3661.8 1457.5)"/><ellipse cx="3872.9" cy="1449.2" rx="24.8" ry="18.6"/><ellipse cx="3819.1" cy="1296" rx="24.8" ry="9.1"/><ellipse cx="3860.5" cy="1312.6" rx="11.6" ry="12.4"/><ellipse cx="3313.9" cy="1291.9" rx="20.7" ry="10.4"/><ellipse cx="3272.5" cy="1275.3" rx="14.5" ry="10.4"/></g>
<path d="M3625 1099h0m-4-2h0m-1-5h0m-7-3h0m-6 1h0m-2 2h0m-5 4h0m-4 2h0m-4 0h0m-4 11h0m1 2h0m1-7h0m3 11h0m3 6h0m7 6h0m12-1h0m6 0h0m4-7h0m0-13h0m1 16h0m0-12h0m2 4h0m1 12h0m1-12h0m1 8h0m5-4h0m4-1h0m4-4h0m3-4h0m5-5h0m5 0h0m9 5h0m10-3h0m0-1h0m6 8h0m2-3h0m1 3h0m6 3h0m2 8h0m13 0h0m2 10h0m-7-5h0m-2 4h0m-2 16h0m-1-11h0m-3 8h0m-3-3h0m-53 4h0m-4 3h0m-1-2h0m-4-9h0m0-2h0m0-7h0m-8 14h0m-7-14h0m-6 1h0m-9-3h0m-21 25h0m2 0h0m42 21h0m26-22h0m1 5h0m6-1h0m4 16h0m1-20h0m8 23h0m2-23h0m2 8h0m6-5h0m7-3h0m6 21h0m11 2h0m33 24h0m-1 0h0m-2-4h0m-10-4h0m-3-2h0m-8-7h0m-2-2h0m-8 3h0m-10-3h0m-7 0h0m0-2h0m-4 1h0m-8-2h0m0-1h0m-4 19h0m0-9h0m-8 11h0m-4-15h0m-3 8h0m-1-14h0m-18 7h0m-5 4h0m-2-10h0m-1 9h0m-271 13h0m-3-2h0m-13-4h0m-18 30h0m9-8h0m1-10h0m5-2h0m0 6h0m5-4h0m2-3h0m4 1h0m9 4h0m5 3h0m4 11h0m1-7h0m2-3h0m275 6h0m2-10h0m9 4h0m1 0h0m2-3h0m2-1h0m3 4h0m2-10h0m0 21h0m0-8h0m10 4h0m67-13h0m5 4h0m3 1h0m0 9h0m9 4h0m6 20h0m-1-6h0m-2-7h0m-4 14h0m-2-16h0m-64 18h0m-5-7h0m-8-1h0m-1-14h0m-2 7h0m-7 12h0m0-19h0m0 17h0m-7-8h0m-6 10h0m-1-10h0m-1 10h0m-1-7h0m-1-8h0m-1 3h0m-1 8h0m-2-5h0m-3-3h0m-11-5h0m-1 0h0m-18 20h0m-235-4h0m-4 4h0m-1-15h0m-2-4h0m-1 6h0m-39 13h0m-2-18h0m-1 15h0m-3-5h0m0-5h0m-11 12h0m-6 2h0m-11 0h0m-33 21h0m1-2h0m2 1h0m2-4h0m2 0h0m0 1h0m1-1h0m1 0h0m2 2h0m0 4h0m1-7h0m1 9h0m2-3h0m5 2h0m2-4h0m3-11h0m6 6h0m0 4h0m2 6h0m4-11h0m2-12h0m2 7h0m0 1h0m4 5h0m1-2h0m4-6h0m2-1h0m1 5h0m7-4h0m2-1h0m4 12h0m3-9h0m3 16h0m37-18h0m1 9h0m4-13h0m178 13h0m7 9h0m25-4h0m2-19h0m48 1h0m5 10h0m12-2h0m1-5h0m2 1h0m36-1h0m1-2h0m11 0h0m4 12h0m0-1h0m8-3h0m5 1h0m7 8h0m2-6h0m1 8h0m3-8h0m8-12h0m5 11h0m2 5h0m1-13h0m2 9h0m0-7h0m6-6h0m4 9h0m0-9h0m4 9h0m44 7h0m38 4h0m4 9h0m-7 18h0m-6-3h0m-1 2h0m-1-3h0m-2-19h0m-2 18h0m-4 2h0m-5 3h0m-1-8h0m-1 5h0m-1-6h0m-2 0h0m-1 5h0m-3-3h0m-3 2h0m-1 3h0m-4-4h0m-2-2h0m-3 2h0m-4 3h0m-2-7h0m-9 10h0m-24-21h0m-4 0h0m0 2h0m-5 16h0m-6-2h0m-1-18h0m0 2h0m-136 0h0m-2 21h0m-13-20h0m-7 4h0m-7 7h0m-1-1h0m-3-6h0m-2 10h0m-8 5h0m-26-6h0m-42 3h0m-85-2h0m-4 2h0m-3-6h0m-37-10h0m0-3h0m-3 4h0m-3 12h0m-2-11h0m-4-2h0m-1 2h0m0-2h0m-1 9h0m-4 11h0m-2-14h0m-3-4h0m-1 5h0m-1-1h0m-1-9h0m-4 8h0m-4-7h0m-2 12h0m-1 2h0m-2 4h0m-2 3h0m-1-20h0m-1 21h0m-1-9h0m-3 1h0m-3-4h0m-2-3h0m-1 2h0m-3-1h0m0 13h0m-2-2h0m-3-8h0m-1-11h0m0 10h0m-2 8h0m-2-3h0m-5-6h0m-2-3h0m-4 6h0m-1 10h0m0-13h0m-1 4h0m-1 3h0m-3-8h0m-3-2h0m0-1h0m-2-6h0m-3 9h0m-3 4h0m-1 5h0m-1-15h0m-1 18h0m-2 2h0m0-8h0m-3 0h0m-1 1h0m-6-5h0m0 12h0m-3-23h0m-1 5h0m-2-4h0m6 38h0m1-12h0m2 10h0m4-12h0m0 0h0m0 1h0m3 2h0m16-4h0m7 0h0m4 6h0m0-6h0m1 4h0m8 1h0m3 3h0m4 10h0m2-13h0m7-1h0m0 4h0m6 6h0m1-13h0m3 0h0m2 1h0m6 17h0m6 1h0m31 0h0m3-12h0m3 9h0m2-1h0m6-13h0m5 11h0m4-7h0m3 5h0m1 10h0m2-3h0m4-1h0m4-9h0m4-9h0m2 7h0m2 6h0m2-1h0m2 6h0m2-13h0m91-2h0m6-1h0m20 6h0m6 6h0m9 1h0m0 0h0m1 6h0m0-14h0m4 3h0m1 6h0m3 4h0m2-1h0m11-9h0m0 12h0m1-10h0m1 5h0m3 0h0m2-7h0m3 10h0m1-2h0m0-3h0m1 1h0m2 6h0m7-1h0m0 1h0m2-11h0m2 4h0m2-3h0m1-2h0m4-10h0m0 18h0m0-18h0m5 14h0m3 3h0m1-3h0m99-2h0m6-2h0m15-9h0m5 13h0m23-14h0m2 17h0m2-1h0m0-5h0m1-9h0m9 6h0m5-8h0m0 6h0m1 0h0m1-4h0m1 11h0m1-11h0m3 6h0m0 0h0m1-3h0m5-2h0m4 7h0m0-3h0m1 3h0m1 3h0m1-8h0m3 3h0m6 1h0m0-4h0m1 7h0m1-7h0m3 5h0m9-5h0m0 3h0m1-5h0m4 3h0m1-1h0m0 4h0m1-9h0m2 12h0m1 9h0m1-10h0m0 7h0m1 0h0m1 1h0m0-10h0m1 1h0m4-6h0m0-1h0m0 1h0m1 17h0m0-15h0m2 10h0m1-8h0m1-6h0m0 13h0m1 7h0m0-2h0m1-15h0m0 0h0m4 0h0m0 18h0m1-14h0m0 6h0m1-11h0m0 7h0m1-2h0m2 9h0m1-6h0m3-8h0m-3 20h0m-2 3h0m-6 3h0m-2-3h0m-2 2h0m-3 1h0m-2-1h0m-1-2h0m-28 20h0m-25-19h0m-2 0h0m-4 2h0m-10-1h0m-9 15h0m-28-6h0m-102-14h0m-25 21h0m-1-9h0m0 1h0m-6-9h0m-4 6h0m-2 5h0m-1-7h0m-6 3h0m-1-11h0m-1 7h0m-2 0h0m-8-6h0m-1 1h0m-6 5h0m-8 14h0m-1-21h0m-4 14h0m-15-14h0m-3 1h0m-8 1h0m-17 15h0m-1 2h0m-76 3h0m-1-3h0m-15 1h0m-6-14h0m-1 4h0m-3 11h0m0-11h0m-14 9h0m-2 2h0m-1 0h0m-8 0h0m-1-14h0m0 15h0m-2-18h0m-1-1h0m-2-2h0m-1 20h0m-2-6h0m-3 7h0m-18-3h0m-25-16h0m-4 17h0m-8-14h0m-11 14h0m-3-10h0m-10 2h0m-43 7h0m0-5h0m-4 2h0m23 29h0m2-10h0m3 8h0m2-18h0m1 9h0m5 5h0m3 3h0m3-6h0m0 10h0m3-19h0m1 8h0m7 1h0m5 6h0m2 5h0m1-14h0m10 4h0m28 8h0m1-11h0m1 9h0m1-16h0m13 1h0m2 11h0m8-1h0m3 8h0m2-20h0m1 10h0m0-6h0m0-2h0m6 1h0m1-5h0m21 0h0m24 1h0m13 2h0m4 4h0m9 0h0m4 3h0m11 2h0m9 3h0m0-8h0m3 15h0m0 0h0m6-6h0m18-4h0m1 7h0m1 0h0m1-9h0m3 13h0m2-20h0m5 10h0m18-1h0m12 5h0m5-10h0m2 11h0m4-15h0m18 6h0m2-9h0m1 4h0m11 7h0m12-8h0m2 1h0m14 15h0m2-3h0m47 3h0m59-1h0m6-8h0m11-5h0m19 16h0m48-9h0m7-12h0m2 17h0m9-12h0m5 9h0m6-12h0m1 18h0m6 3h0m4-16h0m36 40h0m-25-2h0m-34-2h0m-1-17h0m0 7h0m-18 5h0m-5-14h0m-32 14h0m-28-13h0m-59 15h0m-15-14h0m-7 8h0m-14 8h0m-3 4h0m-6-6h0m-2 5h0m-1-10h0m-1-2h0m-1 7h0m-2-6h0m0-3h0m-6-3h0m-1 19h0m-1-23h0m-4 15h0m-4 5h0m-4-7h0m-5 2h0m-1 7h0m-5-2h0m-1-5h0m-62-5h0m-19-2h0m-7-3h0m-5-5h0m-1 13h0m-2 8h0m-1-4h0m-1-14h0m-7-1h0m-1 8h0m-1 2h0m-2-5h0m-3 5h0m-81 10h0m-14-3h0m-12 1h0m-1-9h0m-4 7h0m-1-11h0m-4-3h0m-1 11h0m-5 7h0m-4 0h0m-3-20h0m-3-2h0m-32 17h0m-2 4h0m-4-16h0m-2 9h0m-9-13h0m-28 3h0m-14-1h0m-1-3h0m-6 14h0m-1 5h0m-1-11h0m-10 13h0m9 9h0m1 13h0m3-4h0m1-6h0m3 11h0m1-1h0m47 3h0m5-5h0m0-7h0m2 1h0m4-7h0m17 10h0m7-5h0m0-1h0m6 2h0m8-3h0m11-3h0m3 0h0m5 0h0m4 7h0m2 0h0m10 2h0m5-12h0m0 2h0m2 9h0m3-8h0m1 10h0m5 0h0m6-10h0m7 1h0m5 6h0m7-4h0m1 5h0m6-6h0m9 6h0m5-1h0m12-1h0m4 10h0m4-17h0m2 8h0m2-1h0m0 4h0m9-13h0m0 3h0m6 4h0m10-5h0m5-3h0m9 23h0m8-5h0m1-10h0m2 11h0m12-7h0m2 11h0m20-19h0m24 0h0m1 19h0m1-9h0m1-8h0m5 0h0m2 0h0m5 5h0m2-8h0m11 9h0m1-4h0m0-7h0m2-1h0m1 7h0m3 12h0m3-17h0m2 2h0m0-3h0m5 1h0m0 16h0m0-7h0m1-10h0m4 3h0m0 2h0m2 3h0m0 0h0m5 4h0m2 6h0m3-4h0m1-8h0m6-6h0m4 13h0m1-3h0m1-6h0m3 5h0m0-9h0m3 19h0m5-13h0m10 6h0m0-9h0m130 7h0m1-2h0m6-8h0m3 1h0m6 17h0m3 3h0m1-18h0m7 9h0m2 10h0m2 0h0m6-18h0m1 4h0m0 7h0m3-12h0m2 16h0m4-3h0m9-5h0m11 33h0m-1 2h0m-5-1h0m-4-8h0m-5 4h0m-1-3h0m-3 1h0m-7-4h0m-1 5h0m-1-13h0m0-1h0m0 3h0m-2 9h0m-2 0h0m-8 0h0m-3 7h0m-1-2h0m-1-18h0m-5 2h0m-2 10h0m-7-8h0m-3-3h0m-8-2h0m-1 11h0m-103 6h0m-5-6h0m0-2h0m-7-2h0m-5-8h0m-6 7h0m-2-6h0m-45 5h0m-44 12h0m-8-11h0m0-4h0m-1 0h0m-1 9h0m0-8h0m-1 14h0m-1 4h0m-4-20h0m-4 12h0m-3-7h0m-6-6h0m-12 14h0m-10-5h0m-2-10h0m-11 7h0m-1-2h0m-1-4h0m-1 14h0m-7-4h0m-1-7h0m0 8h0m-2-8h0m-6 7h0m-8 2h0m-7 1h0m-1 2h0m-4-12h0m0 16h0m-2-18h0m-3 9h0m-5 3h0m-1 6h0m-5-17h0m-1 3h0m-6 13h0m0-5h0m0 2h0m-5-9h0m-2-5h0m-1 6h0m-4 6h0m-41-3h0m-4-9h0m-2 14h0m-1-6h0m-1-9h0m-63 0h0m-8 1h0m-1 11h0m0 1h0m-2 8h0m-4-13h0m0-8h0m-10 5h0m-11-4h0m-2 10h0m-6-3h0m-2 7h0m-6-8h0m-6 3h0m0 0h0m-6 1h0m-7 0h0m-4 2h0m0-12h0m0 5h0m58 23h0m7 15h0m3-19h0m4 7h0m2 14h0m60-2h0m6-8h0m1-7h0m0 7h0m2 7h0m3-19h0m10-1h0m66 9h0m20 9h0m48-16h0m1 17h0m4-15h0m3 1h0m0 5h0m3 10h0m4-14h0m0-3h0m13 12h0m115-12h0m9 15h0m2-12h0m3 15h0m1-18h0m4 7h0m89-9h0m17 14h0m3-7h0m2-3h0m3-3h0m1 11h0m2 2h0m2 8h0m5-11h0m1-5h0m6 6h0m11 5h0m14 5h0m7-10h0m0 2h0m2-10h0m1 12h0m-10 8h0m0 19h0m-3-7h0m-3-10h0m-2 11h0m-4-12h0m-5 1h0m-2 1h0m0 17h0m-1-14h0m-3 5h0m-2-9h0m-2 5h0m-5-5h0m-5 17h0m-5-17h0m-4 10h0m-12 2h0m-92 0h0m-7-15h0m-5 16h0m-1-13h0m-2 1h0m-5 19h0m-113-4h0m-2-6h0m-7-5h0m-3-3h0m-5 6h0m-5-9h0m-24 4h0m-9-5h0m-16 4h0m-4 11h0m-114-11h0m-5 0h0m-2 4h0m-7 1h0m-5 7h0m-1-6h0m-6 1h0m-6 1h0m-7-4h0m-1 7h0m-4-4h0m-8-3h0m-1-2h0m-5-6h0m-3 10h0m-9-9h0m218 30h0m5-7h0m17 16h0m1 6h0m11-21h0m4 4h0m11 6h0m2-7h0m2-1h0m1 3h0m3 10h0m6 3h0m17 3h0m6 0h0m36-3h0m29-2h0m2-11h0m6 10h0m0-3h0m7-13h0m5 2h0m86 2h0m8 3h0m10 10h0m1-2h0m21-15h0m1-1h0m3 2h0m1 1h0m7 2h0m-38 23h0m-112-1h0m-9-3h0m-8 2h0m-1 6h0m-3-3h0m-14 4h0m-2 5h0m0 0h0m-12-6h0m-3 8h0m-11-6h0m0 1h0m-5-7h0m-12 8h0m-12-6h0m-4-3h0m-95 7h0m82 127h0m26 21h0m-5 2h0m-1 0h0m-6-1h0m-4 3h0m-2-11h0m-3-4h0m0 8h0m-2 1h0m-5 3h0m-2 8h0m-5-2h0m-3-7h0m-6 2h0m-4-1h0m17 18h0m0-9h0m4 4h0m4-3h0m11 2h0m6-3h0" stroke="#5b76b8" stroke-width="11.2"/>
<g fill="#4f629c" filter="url(#bl)"><ellipse cx="3711.5" cy="1221.5" rx="53.4" ry="24.9" transform="rotate(40 3711.5 1221.5)"/><ellipse cx="3661.8" cy="1130.4" rx="28.2" ry="18.2"/><ellipse cx="3446.4" cy="1372.6" rx="58.8" ry="23.1" transform="rotate(12 3446.4 1372.6)"/><ellipse cx="3351.2" cy="1242.2" rx="18.2" ry="33.1" transform="rotate(-10 3351.2 1242.2)"/><ellipse cx="3388.5" cy="1436.8" rx="31.5" ry="33.1"/><ellipse cx="3301.5" cy="1391.3" rx="22.4" ry="26.8"/><ellipse cx="3661.8" cy="1457.5" rx="62.3" ry="48.1" transform="rotate(30 3661.8 1457.5)"/><ellipse cx="3313.9" cy="1291.9" rx="14.9" ry="7.5"/></g>
<path d="M3633 1126h0m4-4h0m1-2h0m7-3h0m9-5h0m5-1h0m9 0h0m11 4h0m2 3h0m5 4h0m6 6h0m-4 4h0m-2 6h0m-5 5h0m-2 4h0m-6 1h0m-14 0h0m-5 0h0m-10-2h0m-3-2h0m-4-4h0m-5-6h0m86 60h0m-3-1h0m-10-8h0m-9-2h0m-3 3h0m-9-7h0m-7 1h0m-2 9h0m-2-9h0m-4 15h0m-1 1h0m-2-9h0m-329 33h0m2-10h0m2 0h0m7-3h0m2 4h0m8 6h0m3 2h0m306-15h0m5 8h0m4 7h0m53-18h0m4 6h0m4 6h0m12 9h0m10 24h0m-4-11h0m-3 4h0m-5-13h0m-47 19h0m-3-1h0m-4-8h0m-6-6h0m-9-5h0m-308 18h0m-1-12h0m-2-5h0m-34 19h0m-1-13h0m0-5h0m3 21h0m3 14h0m3 0h0m26 1h0m2-11h0m1 7h0m339-6h0m9 2h0m5 4h0m6-2h0m9 3h0m10 4h0m1-7h0m3 5h0m4-6h0m1-6h0m-393 24h0m-3-2h0m-6 4h0m-6 0h0m-2-4h0m-19 16h0m-1 7h0m-4-9h0m-8-1h0m-7 1h0m-10 3h0m3 7h0m2 2h0m11 1h0m9-1h0m-30 68h0m5 0h0m5-3h0m4 2h0m77-2h0m1 4h0m2-8h0m4-6h0m1 2h0m6-6h0m10 1h0m4-4h0m10 2h0m6-1h0m7 1h0m9 0h0m13 2h0m6 1h0m12 5h0m5 3h0m5 4h0m25 21h0m-4-5h0m-6 7h0m-1 3h0m0-14h0m-1-5h0m-6-2h0m-71 22h0m-11-3h0m-8-5h0m0-5h0m-7-2h0m0-5h0m-71 11h0m-1 7h0m-4-13h0m-5-5h0m-30 3h0m-4 7h0m-1 7h0m-1 3h0m2 11h0m2 4h0m4 9h0m5 1h0m23-2h0m7-11h0m0 6h0m2-16h0m46 16h0m4 0h0m7-3h0m8-2h0m7-1h0m4 4h0m7 6h0m6 3h0m19-22h0m9 2h0m7 0h0m7 3h0m16 2h0m6 0h0m4-4h0m10-1h0m0 4h0m12-5h0m113 19h0m3-5h0m12 5h0m2-11h0m6 0h0m8 5h0m10 0h0m3 0h0m11-2h0m3 2h0m12 8h0m26 22h0m-3-7h0m-7-2h0m-6-10h0m-4-2h0m-74 5h0m-5 6h0m-6 1h0m-5 6h0m-179 0h0m-3 4h0m-2-11h0m-2-5h0m-49-6h0m-4 6h0m-3 4h0m-1 6h0m-50-15h0m-6 1h0m-3 0h0m57 26h0m2 2h0m2 6h0m8 7h0m5 4h0m37-4h0m5-9h0m4-5h0m180 13h0m1-16h0m1 6h0m5 7h0m110-14h0m6 9h0m0 8h0m4 10h0m-4 14h0m-2-6h0m-1-12h0m-101 17h0m-2-4h0m-7-13h0m-2 10h0m-201-9h0m-4 1h0m-4 6h0m-9-4h0m-9 4h0m-6-4h0m248 20h0m4 9h0m10 1h0m5-1h0m9 9h0m4 5h0m13-6h0m11 5h0m4-1h0m6-4h0m10 0h0m5 3h0m2-13h0m6 2h0m4-8h0m3-1h0m-55 26h0" stroke="#4f629c" stroke-width="12"/>
<g fill="#475485" filter="url(#bl)"><ellipse cx="3711.5" cy="1221.5" rx="43.5" ry="20.3" transform="rotate(40 3711.5 1221.5)"/><ellipse cx="3661.8" cy="1130.4" rx="20.4" ry="13.2"/><ellipse cx="3446.4" cy="1372.6" rx="47.8" ry="18.8" transform="rotate(12 3446.4 1372.6)"/><ellipse cx="3351.2" cy="1242.2" rx="13.2" ry="24" transform="rotate(-10 3351.2 1242.2)"/><ellipse cx="3388.5" cy="1436.8" rx="22.8" ry="24"/><ellipse cx="3661.8" cy="1457.5" rx="50.7" ry="39.1" transform="rotate(30 3661.8 1457.5)"/></g>
<path d="M3643 1127h0m2-4h0m6-3h0m5-2h0m12-1h0m7 2h0m3 3h0m4 7h0m-1 4h0m-2 2h0m-4 5h0m-9 3h0m-10-1h0m-5 0h0m-7-4h0m-3-6h0m70 62h0m-6 0h0m-7-2h0m-6-2h0m-3 2h0m-8 3h0m-2 3h0m-1-10h0m-337 34h0m7-6h0m2 2h0m5 2h0m320-19h0m4 9h0m2 4h0m4 7h0m32-20h0m9 4h0m6 9h0m5 6h0m12 24h0m-3-13h0m-2 4h0m0 10h0m-5-21h0m-24 23h0m-8-2h0m-3-5h0m-11-7h0m-8-7h0m-319 18h0m-2-9h0m-3-5h0m-22-2h0m-1 5h0m-1 7h0m4 12h0m1 4h0m4 6h0m4 3h0m5 1h0m6-7h0m0 4h0m4-12h0m359-1h0m4 4h0m7 3h0m7-4h0m5 0h0m-349 114h0m0-9h0m4-1h0m1 6h0m5-9h0m8 0h0m5-3h0m4-1h0m11 1h0m13 4h0m10 1h0m8 2h0m7 4h0m1 3h0m21 15h0m-5-7h0m0 4h0m-1 7h0m0 3h0m-6-19h0m-3 22h0m-51-1h0m-6-4h0m-8-2h0m-3-3h0m-9-5h0m-4-5h0m-19 42h0m9-1h0m3 2h0m47-21h0m7 0h0m8 0h0m11 3h0m10-2h0m13-1h0m151 21h0m6-2h0m3 0h0m11 2h0m41 25h0m-11-7h0m-4-3h0m-8-4h0m-3-5h0m-9 1h0m-34-2h0m-4 1h0m-3 7h0m-7 4h0m-2 5h0m-203 3h0m-2-12h0m-2 5h0m-4-14h0m-2-1h0m-28 1h0m-3 4h0m-4 13h0m0-5h0m-4 11h0m4 5h0m2 10h0m8 2h0m4 5h0m7-1h0m7-3h0m7-1h0m3-5h0m4-4h0m200-3h0m1 7h0m1-12h0m4 20h0m85-16h0m2 6h0m8 7h0m3 14h0m-2 6h0m-2 4h0m-4-17h0m-7 22h0m-65 1h0m-4-1h0m-2-8h0m-11-7h0m-3-6h0m29 25h0m8 2h0m3 9h0m10-1h0m4-3h0m11 6h0m4-7h0m7-1h0m10-1h0m5-6h0" stroke="#475485" stroke-width="12"/>
<g fill="#414b73" filter="url(#bl)"><ellipse cx="3711.5" cy="1221.5" rx="32.3" ry="15.1" transform="rotate(40 3711.5 1221.5)"/><ellipse cx="3446.4" cy="1372.6" rx="35.5" ry="14" transform="rotate(12 3446.4 1372.6)"/><ellipse cx="3661.8" cy="1457.5" rx="37.7" ry="29.1" transform="rotate(30 3661.8 1457.5)"/></g>
<path d="M3702 1198h0m-6-2h0m-13 13h0m1-5h0m4-3h0m1-1h0m1 22h0m0-5h0m16-16h0m10 6h0m5 3h0m9 9h0m10 18h0m0 4h0m-3-10h0m-2 14h0m0-21h0m-3 23h0m-9-3h0m-6-1h0m-5-4h0m-8-4h0m-9-7h0m-286 139h0m4-6h0m1 5h0m3-8h0m13 0h0m7-1h0m9 0h0m4 2h0m8 3h0m9 4h0m16 11h0m-2 6h0m-4-10h0m-1 12h0m-2 3h0m-2-20h0m-8 19h0m-4 2h0m-8-1h0m-15-2h0m-4-1h0m-12-5h0m-3-5h0m-3-4h0m265 66h0m-4-2h0m-6-3h0m-9-3h0m-6-1h0m-5-4h0m-5 2h0m-8 3h0m-5 6h0m-4 4h0m-4 19h0m1-10h0m1-3h0m63-5h0m3 11h0m5 10h0m2-5h0m0 12h0m-3 5h0m-4 5h0m-3 2h0m-32 5h0m-4-1h0m-11-2h0m-2-7h0m-9-5h0m0-4h0m32 24h0m11 1h0m5 0h0m6-2h0" stroke="#414b73" stroke-width="12"/>
</g>
<text x="217" y="525.5" font-size="21.9" text-anchor="middle" fill="#262626" stroke-width=".3" stroke="#262626">REPO Hub (6505)</text>
<text x="610.8" y="525.5" font-size="21.9" text-anchor="middle" fill="#262626" stroke-width=".3" stroke="#262626">HMDB (8603)</text>
<text x="1004.6" y="525.5" font-size="21.9" text-anchor="middle" fill="#262626" stroke-width=".3" stroke="#262626">MetaboLights (6355)</text>
<text x="1398.4" y="525.5" font-size="21.9" text-anchor="middle" fill="#262626" stroke-width=".3" stroke="#262626">CMAUP (6502)</text>
<text x="1792.2" y="525.5" font-size="21.9" text-anchor="middle" fill="#262626" stroke-width=".3" stroke="#262626">FooDB (49818)</text>
<text x="-1.5" y="517" font-size="32.5" font-weight="bold" fill="#000" stroke-width=".3" stroke="#000">c</text>
<g id="panel-d" class="d" transform="scale(.5)">
<defs><g id="bgd0"><path d="M-73 1894h0m2-2h0m3 0h0m8-6h0m2-3h0m1 3h0m1 9h0m1-3h0m1-10h0m0 4h0m0-2h0m1 7h0m1-8h0m2 0h0m1 10h0m0-11h0m2 2h0m0 8h0m0 3h0m1-10h0m1 4h0m0 6h0m3-12h0m3 12h0m1 0h0m0-7h0m2-7h0m1 14h0m1-2h0m3-2h0m1-8h0m0-1h0m3-1h0m1 0h0m3 14h0m3-4h0m3-8h0m0 8h0m0-5h0m0 2h0m1 0h0m0 5h0m0-2h0m5-1h0m5-2h0m1 1h0m5 4h0m0-2h0m12 21h0m-2-6h0m0 0h0m-2 12h0m-1-11h0m0-4h0m-1 0h0m0 13h0m-3-13h0m0 3h0m-1 12h0m0-15h0m0 14h0m0-21h0m-1 13h0m0-6h0m-1 13h0m-2-6h0m-3-13h0m-1 4h0m-1 5h0m0 6h0m0-10h0m-1 16h0m-2-17h0m0-2h0m0 10h0m-1-6h0m0 10h0m0 4h0m-1-5h0m0 1h0m-1-16h0m0 9h0m-1-4h0m0 16h0m0-12h0m-1-7h0m-1 18h0m-1-19h0m-1 20h0m-1-7h0m-2 7h0m-3-3h0m0 3h0m-1-1h0m0-1h0m-1-6h0m-1-6h0m-1-8h0m0 19h0m0-10h0m-1 4h0m-1-1h0m-2 8h0m-1-15h0m-1 16h0m-1-21h0m0 4h0m-1 10h0m0-14h0m-1 17h0m-1-12h0m0 1h0m-1 1h0m0-4h0m-1 14h0m-1-14h0m0 14h0m0-16h0m0 22h0m-3-3h0m0-14h0m-1-3h0m-1-1h0m-1 19h0m-1-15h0m-1 14h0m0-1h0m-1-5h0m0-14h0m-1 1h0m0 16h0m-2-10h0m0 2h0m-1 14h0m-1-18h0m0-2h0m-3 10h0m0 9h0m-1-14h0m0 8h0m0 6h0m-1-9h0m0-6h0m-3 8h0m-1 2h0m0-5h0m0 11h0m-1-15h0m-2-5h0m-1 11h0m-1 2h0m-1 0h0m-1-15h0m0 12h0m-1 1h0m-1 4h0m0-2h0m-1 4h0m-1 3h0m-3-7h0m-2-7h0m-1 5h0m0-9h0m0-3h0m-2 21h0m-2-15h0m-29 8h0m-1 5h0m0-5h0m-5-2h0m-1-2h0m0 1h0m-3 8h0m-6 0h0m0-6h0m-1-1h0m-6 6h0m1 5h0m1 1h0m3-1h0m2 4h0m2 1h0m1-6h0m1 1h0m0 0h0m0 6h0m3-2h0m1-3h0m4-2h0m1 22h0m2-18h0m0 16h0m2-2h0m1 1h0m2 2h0m0-4h0m2 6h0m0-7h0m2 4h0m1-2h0m0-4h0m1 0h0m1 2h0m1 7h0m1-10h0m3-2h0m2 9h0m1 0h0m2-8h0m1 2h0m0 0h0m5 5h0m1-1h0m2 1h0m0 0h0m0 3h0m1-21h0m0 16h0m1-2h0m1-14h0m0 19h0m4-15h0m0 18h0m0-3h0m1-18h0m2 2h0m1 3h0m2 4h0m0-3h0m6-8h0m4 8h0m1 1h0m0-4h0m5 14h0m0-4h0m1 2h0m1-4h0m0 3h0m1-15h0m0-1h0m2 7h0m1 7h0m1 6h0m1-18h0m0-2h0m0 6h0m1 2h0m0 12h0m1-5h0m0-10h0m3 12h0m1-6h0m1-9h0m2 17h0m0-11h0m0 0h0m1 0h0m2 0h0m0-2h0m3 3h0m0 13h0m1-1h0m0 1h0m1-12h0m0 2h0m1-2h0m0 5h0m3-7h0m1 0h0m1-6h0m2 4h0m1-4h0m0 2h0m3 13h0m4 2h0m4-8h0m0-5h0m0 1h0m1 9h0m0-2h0m0-9h0m0-1h0m1 12h0m0-16h0m1 7h0m0 6h0m1-2h0m1 3h0m1-7h0m1-2h0m0 8h0m1-4h0m1 3h0m1-12h0m2 11h0m2-7h0m0 3h0m0-4h0m0 1h0m1 0h0m2-4h0m1 5h0m2 16h0m0-6h0m5-1h0m0-7h0m1 1h0m2 13h0m1 0h0m1 2h0m0-16h0m0 6h0m1-2h0m0-5h0m1 7h0m0-6h0m1-2h0m0 2h0m1 0h0m1 6h0m1-9h0m1 5h0m1 10h0m2-1h0m0-16h0m2 17h0m1-5h0m0 2h0m2-7h0m2 13h0m45-11h0m-4 34h0m-3-7h0m0 7h0m-2-9h0m-2-2h0m-3 13h0m0-11h0m0-2h0m-1-1h0m-1 11h0m0-9h0m-1 12h0m-2 0h0m-1-12h0m-2 4h0m-3 3h0m-1-10h0m0 1h0m-1-3h0m0 7h0m-1 5h0m-1 4h0m-1 1h0m-1-2h0m0-15h0m0 1h0m0 3h0m-1 10h0m-1-4h0m-1 3h0m-1-11h0m-5 12h0m-2-8h0m0 4h0m-2-3h0m-1 2h0m-2 2h0m-5 3h0m-1-17h0m0 17h0m-3-16h0m-4-3h0m-3 3h0m-16 19h0m-2-1h0m-4 0h0m-13-2h0m-59-16h0m-1-4h0m-2 2h0m-1 0h0m0 10h0m-1-4h0m-1-4h0m-1 13h0m0-15h0m0 16h0m-1-17h0m0 5h0m0 2h0m0 2h0m-3-9h0m-3 11h0m0-2h0m0-3h0m0 13h0m-3-16h0m-1-4h0m-2 8h0m-2-4h0m0 6h0m0 6h0m-4-14h0m-2 7h0m-3-3h0m-1 6h0m0-1h0m-1 6h0m-1 0h0m-4-2h0m-4-9h0m-1 0h0m-32 35h0m5 2h0m1 1h0m2-9h0m1 10h0m0 0h0m1-3h0m1-11h0m0 5h0m0 7h0m2-4h0m2 6h0m0 0h0m2-14h0m0 4h0m1 1h0m0-5h0m1 10h0m0-2h0m0 7h0m3 0h0m0-11h0m1 4h0m1-1h0m2-7h0m0 10h0m2-7h0m2 10h0m52-3h0m1 3h0m1 2h0m0-7h0m4 4h0m2-7h0m0 1h0m4-4h0m0 10h0m6-2h0m1 5h0m3-5h0m1-5h0m0 11h0m3-1h0m0 0h0m1 0h0m1-1h0m3-4h0m3 4h0m9-12h0m0 1h0m2-1h0m5 1h0m0-1h0m1 6h0m1-6h0m1-4h0m0 9h0m2 1h0m2-11h0m1 7h0m0 3h0m0-7h0m4 4h0m2 4h0m1-1h0m0 9h0m1-14h0m1 8h0m0-17h0m0 4h0m2 2h0m0-3h0m2 18h0m1-1h0m1-3h0m1-16h0m1 2h0m1-3h0m0 10h0m1-4h0m0 5h0m0 2h0m0 3h0m1 1h0m1-5h0m2-6h0m1-3h0m0 6h0m2-3h0m2 3h0m1-4h0m0 4h0m2 8h0m1 3h0m1-8h0m1-2h0m0 6h0m2 0h0m1-8h0m0 11h0m0-13h0m0 7h0m1-5h0m0 6h0m0-13h0m0 12h0m1-5h0m0-6h0m0 17h0m1-11h0m0-4h0m1-2h0m0-1h0m0 5h0m0 13h0m1-6h0m0 8h0m1-16h0m1 4h0m1-7h0m0-1h0m0 4h0m2-3h0m0 11h0m4-10h0m0-1h0m1 7h0m0 3h0m1-9h0m3 19h0m1-9h0m0-1h0m0-5h0m1 16h0m0 0h0m2-17h0m0 11h0m0 0h0m3 5h0m1-21h0m1 5h0m0 6h0m1 8h0m1 3h0m0-2h0m1-13h0m0 4h0m0-9h0m1 16h0m3 2h0m4-12h0m2-5h0m0 5h0m1-5h0m2-1h0m0 16h0m1-4h0m2 8h0m1-5h0m0 1h0m1-11h0m0 8h0m1 7h0m2-5h0m1 1h0m0-8h0m1-10h0m2 22h0m1-2h0m0-14h0m2 4h0m2-1h0m18 36h0m-22-17h0m0 15h0m0-4h0m-2-5h0m-1-3h0m-1 2h0m-1 3h0m-1 8h0m-1-2h0m-1-1h0m0-5h0m0-2h0m-1-1h0m0-1h0m0-9h0m-1 5h0m0-5h0m-1 9h0m0 4h0m0 0h0m-3-6h0m-1 11h0m0 3h0m-1-15h0m0-2h0m-1 1h0m-1-3h0m0 1h0m0-3h0m-1 7h0m0-3h0m0 15h0m-2-11h0m0-4h0m0-1h0m0 5h0m-1-2h0m0 9h0m-1-11h0m-1 11h0m0 7h0m-2-13h0m0 11h0m-1-6h0m-3-6h0m-1 11h0m-2-1h0m-1-18h0m-1 1h0m0 2h0m-1 0h0m0 0h0m0 17h0m0 2h0m-1-15h0m0-2h0m0 17h0m-3 1h0m-1 0h0m-1-18h0m0 6h0m-1 8h0m-2-4h0m0-14h0m0 12h0m-1-4h0m0 11h0m0-6h0m-1-10h0m0 0h0m0 15h0m-3-10h0m0 12h0m0-8h0m0 2h0m0-1h0m-1 9h0m-1-15h0m-4-7h0m0 10h0m-1-10h0m-3 13h0m0 4h0m-1 1h0m-4 1h0m0-16h0m-2 18h0m0-1h0m-1-17h0m0 0h0m0 11h0m-1 4h0m-1-6h0m-1-1h0m-2-5h0m0 4h0m0 2h0m-1 5h0m0-14h0m-1 11h0m0 0h0m-1 0h0m-2-7h0m0-6h0m-1 6h0m0 9h0m-1 5h0m0 1h0m-1-12h0m0 6h0m-2-7h0m0 4h0m-1 2h0m0-5h0m-1-8h0m-1 16h0m-5-14h0m-2 15h0m0-10h0m-1 0h0m0 8h0m0 3h0m-1-12h0m0-1h0m0 14h0m-23-22h0m0 1h0m-3 4h0m0 0h0m0-2h0m-9 2h0m-1-2h0m0 10h0m-2-3h0m-1-1h0m0-1h0m0-6h0m-1-2h0m0 0h0m0 0h0m-1 10h0m-2 1h0m0 6h0m-1-7h0m0 9h0m-2-5h0m0-12h0m-1 15h0m-2-4h0m-1-9h0m-1-1h0m-1 0h0m-1 18h0m-1-2h0m-2-1h0m0-3h0m-3-10h0m0-1h0m-1 17h0m0-3h0m-4 5h0m-48-23h0m-4 0h0m-4 1h0m-1 1h0m-2 0h0m-1 3h0m-5 2h0m0-2h0m-1 2h0m-1-5h0m-2 0h0m-24 20h0m-5-13h0m-5 14h0m-10 20h0m0-11h0m5-1h0m3 2h0m0-3h0m1 2h0m0-1h0m1-5h0m0 13h0m1-12h0m0 14h0m2 6h0m1-16h0m0 4h0m0 9h0m2-20h0m1 12h0m0 0h0m1 0h0m1 6h0m1-3h0m1-11h0m2 4h0m0 4h0m1 9h0m0 1h0m0 1h0m1-17h0m1 9h0m1-13h0m2 16h0m1-1h0m1-9h0m1 3h0m0-4h0m0 7h0m4 2h0m28-2h0m2-1h0m1-3h0m2-3h0m1 5h0m4 3h0m0-2h0m1-2h0m33 9h0m0 0h0m0-2h0m1 2h0m1-17h0m0 5h0m1 15h0m0-1h0m0-10h0m2 10h0m1-5h0m1-2h0m2-5h0m1-10h0m0 2h0m1 8h0m1 11h0m0-13h0m0 14h0m1-21h0m0 17h0m0 4h0m2-8h0m1 9h0m0-20h0m0 4h0m0-4h0m1 5h0m0 7h0m0-13h0m1 13h0m0-9h0m2 16h0m1-11h0m0-1h0m1-8h0m2 18h0m1-6h0m0-8h0m2 7h0m1 9h0m0-13h0m1 12h0m1-7h0m0-14h0m1 6h0m0-6h0m2 18h0m1-5h0m1-3h0m2 7h0m1 4h0m3-5h0m3 7h0m2-19h0m2 19h0m5-6h0m1 0h0m0 6h0m1-3h0m2 0h0m1-3h0m0 2h0m2-2h0m4 5h0m3-5h0m2 2h0m1-15h0m0 2h0m1-5h0m0 11h0m1 1h0m0-1h0m3-3h0m1-1h0m2 9h0m2-8h0m0 1h0m1 5h0m2-13h0m1 2h0m4 3h0m1-5h0m1 5h0m1-1h0m0 7h0m1-1h0m0-12h0m0 10h0m1 4h0m0-10h0m1-4h0m1 12h0m4-4h0m1 1h0m0 0h0m1-6h0m2-3h0m13 6h0m0 12h0m0 5h0m1-12h0m1 1h0m0-7h0m1 2h0m1 8h0m0-5h0m0 13h0m1-19h0m0 13h0m3-9h0m1 13h0m0-6h0m1-8h0m1 9h0m0 0h0m1-1h0m0 7h0m0-9h0m0 8h0m0-4h0m1-8h0m0 8h0m1-17h0m1 14h0m0 4h0m1-6h0m0 8h0m1-10h0m1-4h0m1-4h0m0 2h0m0 13h0m1-2h0m0-3h0m0 7h0m2-16h0m0 17h0m0-1h0m0-12h0m0 12h0m1-11h0m0 2h0m1 1h0m0 12h0m0-6h0m0 0h0m2-4h0m2 6h0m0-5h0m1-3h0m0-1h0m0-4h0m0 7h0m0-3h0m1 8h0m0-5h0m1-4h0m1-2h0m1-3h0m0 9h0m1 8h0m1-19h0m0-2h0m0 8h0m1 1h0m0 0h0m0 5h0m1-2h0m0 1h0m1-13h0m1 18h0m19-8h0m34 13h0m7 0h0m1-1h0m6-1h0m6-2h0m8 4h0m9 0h0m0-2h0m0 1h0m33 22h0m-1 2h0m-1 1h0m0-5h0m-2-6h0m0 4h0m-1-6h0m-1 13h0m-1-4h0m-2 0h0m0 0h0m-1-9h0m-2 6h0m-1-1h0m-2 2h0m0-7h0m-1 6h0m-1 2h0m-1-7h0m-1-5h0m-2 17h0m0-5h0m-1-17h0m-2 5h0m0 13h0m-1-19h0m0 10h0m-1 10h0m-1-7h0m0 7h0m0-8h0m-1-9h0m0 12h0m-1 7h0m0-7h0m0-5h0m-2 3h0m0-1h0m0-5h0m-1 10h0m-1-4h0m-3-3h0m-1-1h0m0 6h0m0 2h0m0-6h0m-1 4h0m-2-5h0m0-7h0m-1 11h0m-1 2h0m-1-6h0m0 7h0m0-8h0m-1 2h0m-1 2h0m-1-11h0m-1 8h0m-1 0h0m-1 9h0m-2-2h0m-1-6h0m-2-5h0m-2 7h0m0-3h0m-1 2h0m-1-6h0m-3 7h0m-1 4h0m-1-12h0m-2 18h0m0-21h0m-1 11h0m0 9h0m-1-17h0m0 1h0m-3 17h0m-3-22h0m0 21h0m-1 0h0m-1 0h0m0-10h0m-1-7h0m0-1h0m-3 12h0m-2-10h0m-2 3h0m-3 2h0m0 4h0m-1 1h0m-1 7h0m0-10h0m-2 1h0m-3-3h0m-3 12h0m-1-14h0m0 7h0m-1 0h0m-2-1h0m0 6h0m-1 0h0m0-11h0m-5 6h0m-6 3h0m0-6h0m0-2h0m-4 5h0m-3-16h0m0 21h0m-1-21h0m-1 19h0m0-7h0m0 3h0m-1-11h0m-1 8h0m0 3h0m0 8h0m-3-9h0m-1-13h0m0 17h0m-1 1h0m-1 3h0m-3-13h0m-1 7h0m-1-4h0m0-1h0m0 6h0m-2-12h0m-4 10h0m0-10h0m0 1h0m0-1h0m-2 0h0m-2 3h0m-1 6h0m-1-7h0m0-3h0m-4 2h0m-1-1h0m0-1h0m0 15h0m0 1h0m-1-18h0m-1 8h0m-2-7h0m-1 13h0m-1-12h0m0 8h0m-4-7h0m0 17h0m-2 0h0m0-1h0m0-2h0m-5-15h0m-4 13h0m-1 0h0m0 4h0m-3 0h0m-1-4h0m-3 0h0m-2 4h0m0-6h0m-1 3h0m0-4h0m-1 8h0m0-1h0m-1 0h0m0-2h0m-1-1h0m-1-3h0m0 2h0m-1 6h0m0-11h0m-1 4h0m-1-2h0m0 0h0m-1 0h0m0-5h0m-1 6h0m-1 2h0m0-5h0m-1 2h0m0-2h0m-1-4h0m-2 11h0m0 2h0m-1-16h0m-2 4h0m-1 4h0m-1-5h0m0 9h0m-1 0h0m0-3h0m0-11h0m-4 6h0m-3 14h0m-1-15h0m-2 8h0m-1-7h0m0-7h0m-1 15h0m-1-10h0m0-3h0m-1 0h0m0-4h0m-1 22h0m0-10h0m-2 10h0m-1-5h0m0-3h0m-2 8h0m0-20h0m-1 20h0m0-13h0m0 10h0m-1-16h0m0 17h0m-1-3h0m-1-10h0m-1 10h0m-5 4h0m-1 0h0m0-18h0m-2 9h0m0-1h0m-2 5h0m0-5h0m0 3h0m0-2h0m-1 1h0m0-3h0m-1-5h0m-1 13h0m-1-11h0m-1 15h0m-1-1h0m0-15h0m-1 3h0m0 1h0m-1 0h0m-2 9h0m-2-10h0m-1-3h0m0-3h0m-2 20h0m0-9h0m-1-13h0m0 7h0m0 6h0m0-9h0m-2-5h0m0 17h0m-1-11h0m0 6h0m-1-9h0m0 2h0m-1-3h0m-1 13h0m0-1h0m-2 2h0m-3 4h0m-1 2h0m-2-3h0m-2 4h0m-2-5h0m-2-18h0m0 16h0m-2 0h0m-3-3h0m0 9h0m-3 0h0m-2-1h0m0-7h0m0 3h0m-3 2h0m-2 3h0m-1-2h0m0-6h0m-1 2h0m-2 2h0m0-5h0m-3 5h0m-1 1h0m-1 2h0m0-7h0m-3 9h0m0 0h0m-1-7h0m-1 0h0m-1 6h0m-2-4h0m0 2h0m0-3h0m-1 4h0m-2 1h0m-2-7h0m-1 1h0m-1 4h0m-1-2h0m0 5h0m-3-3h0m-5-1h0m-1 4h0m0 0h0m-3-1h0m-4-3h0m-2 2h0m-3 2h0m-2 0h0m-4-1h0m-15-20h0m-3 0h0m-7 4h0m-1-6h0m-2 4h0m0 1h0m-1 2h0m-3 0h0m-1-5h0m-1-2h0m-2 2h0m0 0h0m-1 2h0m-5-3h0m-3 46h0m7-2h0m0-5h0m3 4h0m4-4h0m0 5h0m1 2h0m2-4h0m1-2h0m1-2h0m4 7h0m1-1h0m0-11h0m0 4h0m2 9h0m0-4h0m1-1h0m1-4h0m0-6h0m1 12h0m0-11h0m1 0h0m2-5h0m1-1h0m1 15h0m1-17h0m0 13h0m1 8h0m1-15h0m0 9h0m0-6h0m1 13h0m1-3h0m0-19h0m1 15h0m1-3h0m2 6h0m0-12h0m2 0h0m0 2h0m1-8h0m3 5h0m0 0h0m1-2h0m1 1h0m1 13h0m0 2h0m1-20h0m0 8h0m2 14h0m0-18h0m1 4h0m1-5h0m0 0h0m1-3h0m1 14h0m1-2h0m1-1h0m0 7h0m1-13h0m0 15h0m1-5h0m2 8h0m0-6h0m1-3h0m2 5h0m1-19h0m0 14h0m1-5h0m0 6h0m0-10h0m2 4h0m1 1h0m2 5h0m2-12h0m2 14h0m0 2h0m1-14h0m0 2h0m2-2h0m1 4h0m1 6h0m0 6h0m0-21h0m2 8h0m2 14h0m0-14h0m2 6h0m4-12h0m0 0h0m1 14h0m0 4h0m1-15h0m0 15h0m1-14h0m0 3h0m1 3h0m1 5h0m2 6h0m1-20h0m2 11h0m0-3h0m1 9h0m1-13h0m0 8h0m0-12h0m1 17h0m3-7h0m1 3h0m1-8h0m0 6h0m0-5h0m2 0h0m1-5h0m1 1h0m0-5h0m0 7h0m2 3h0m1 1h0m1 7h0m1-9h0m1 10h0m0-8h0m1-2h0m1 4h0m0-1h0m1-1h0m0 7h0m0-16h0m0 15h0m0-15h0m1-2h0m0 7h0m2 6h0m0-3h0m1 9h0m0-8h0m0-2h0m0 11h0m1-11h0m2 7h0m0-3h0m0 2h0m1 6h0m0-21h0m0 13h0m1-7h0m0 2h0m1 12h0m0 2h0m4-8h0m0-5h0m3-9h0m0 2h0m2 11h0m1 6h0m0-17h0m0 20h0m1-19h0m1 7h0m0 6h0m2-9h0m2 10h0m0-3h0m1-8h0m2 17h0m0-8h0m2-3h0m0 6h0m2-13h0m0 17h0m1-15h0m2 15h0m1-12h0m1 2h0m0-6h0m1 16h0m0-14h0m0-5h0m1 17h0m1-9h0m2 11h0m1-21h0m1 7h0m0 2h0m1-8h0m1 18h0m0-14h0m1 4h0m1-7h0m0 15h0m0-7h0m1-8h0m0 12h0m1-15h0m1 5h0m0 6h0m2-1h0m1-6h0m1 9h0m1-3h0m0 12h0m1-21h0m0 8h0m1-4h0m1 3h0m1-3h0m0 6h0m0 5h0m3-4h0m1-9h0m1 10h0m1-9h0m1 6h0m1-7h0m0-3h0m1 3h0m0 16h0m1-8h0m2-6h0m0 9h0m0-12h0m0 16h0m1-18h0m0 12h0m1-12h0m0 0h0m2 8h0m0-6h0m0 16h0m1-10h0m0-4h0m0 6h0m0 5h0m1-13h0m0 21h0m1-6h0m2-15h0m2 13h0m0 8h0m1-5h0m1-7h0m1-1h0m2 3h0m0 8h0m1-7h0m0 9h0m1-6h0m1 0h0m1 4h0m4-18h0m2 1h0m9 0h0m28 0h0m2 0h0m0 0h0m4 6h0m1-7h0m1 5h0m0-2h0m0 15h0m1-13h0m0-3h0m2 10h0m0 4h0m1 1h0m1-12h0m1 3h0m3 12h0m0-2h0m1-20h0m1 10h0m1-1h0m1 0h0m1 7h0m1-12h0m0-3h0m1-2h0m0 0h0m0 23h0m2-19h0m0-2h0m1 7h0m1 0h0m2-5h0m3 2h0m1 5h0m2-10h0m1 2h0m0-3h0m0 2h0m0 4h0m1 7h0m2-4h0m1-7h0m0-1h0m1 9h0m0 11h0m0-13h0m2 7h0m1 0h0m2-9h0m1-3h0m1 17h0m0-5h0m1 5h0m0-2h0m1-8h0m0-5h0m1 9h0m1-14h0m1 5h0m0 6h0m1-2h0m1-8h0m0 3h0m1 8h0m4 7h0m0-15h0m2 19h0m0-6h0m0 3h0m1-3h0m0-13h0m0-4h0m1 13h0m0-11h0m1-1h0m0 15h0m0 0h0m1 5h0m0 1h0m1 0h0m1-2h0m0 0h0m1-3h0m1-10h0m0 1h0m1-5h0m1-1h0m0 17h0m0-2h0m0-10h0m1-4h0m0 8h0m1-7h0m0 3h0m2-3h0m1 16h0m3-9h0m1-3h0m0 15h0m1-12h0m0-11h0m0 16h0m1-14h0m1 19h0m0-14h0m1 15h0m2-10h0m0 6h0m0-15h0m2 4h0m1 15h0m0-18h0m0 15h0m2-5h0m1-6h0m2-6h0m0 7h0m2-8h0m0 19h0m0-4h0m0-10h0m1 4h0m0-7h0m0 7h0m1-3h0m1-4h0m1 16h0m3-5h0m1 9h0m1-17h0m3 6h0m0 6h0m0 4h0m0-14h0m1-1h0m1 10h0m0 4h0m1-5h0m0 2h0m1-7h0m0 10h0m1-21h0m1 16h0m2-11h0m1 7h0m1-7h0m1 2h0m0-6h0m1 8h0m3-2h0m-12 18h0m-8 1h0m-3 5h0m0 0h0m0-3h0m-6 0h0m0 0h0m-6 1h0m-2-4h0m-1 4h0m-2-2h0m0 1h0m-4-4h0m-1 0h0m-2 0h0m0 4h0m-3 0h0m-1 1h0m-2 3h0m-3-1h0m-1-4h0m-4 7h0m-2-10h0m-1 6h0m0 0h0m-1-1h0m-2 3h0m-2-8h0m-1 3h0m-2-1h0m-6 0h0m-8 4h0m-19-6h0m-1 4h0m-13 8h0m0-4h0m-1 4h0m-3 5h0m-1-16h0m-1 11h0m-1-4h0m0 13h0m-1-10h0m0 4h0m-1 6h0m0-15h0m-1 11h0m0-10h0m0 1h0m-3 15h0m0-9h0m-1-9h0m-1 13h0m-3 2h0m-2-9h0m-2 0h0m0-5h0m-1 10h0m-26-13h0m-4 0h0m-5 2h0m-2 1h0m-2 2h0m0-1h0m-8-7h0m-1 2h0m-8 4h0m-4 6h0m-2-1h0m-2-9h0m0 1h0m0 1h0m0 4h0m-1 1h0m0 4h0m0-1h0m-2 1h0m-1 4h0m-1-7h0m0-3h0m-2-6h0m-1 9h0m-1 12h0m-1-15h0m0 13h0m-1-20h0m-1 8h0m0-5h0m0 11h0m-2 9h0m-2-1h0m-1-21h0m-1 8h0m-1-7h0m0 2h0m-2 5h0m0 11h0m-2-5h0m-2-3h0m0 7h0m-1 1h0m-1-18h0m-1 8h0m0 9h0m-1 0h0m0-18h0m-1 13h0m-1-2h0m-2 2h0m-1-1h0m0 0h0m-2 1h0m0 2h0m0 1h0m-2-9h0m0 3h0m-1-8h0m0-1h0m-2 14h0m0 6h0m0-1h0m-1-18h0m0 17h0m-1-12h0m0-2h0m-1 1h0m-1 1h0m-3-3h0m-2 4h0m-1 12h0m-1-13h0m-2-3h0m0 14h0m-1-16h0m0 20h0m0-10h0m-3 4h0m0 4h0m-2-4h0m-8-4h0m-1-7h0m0 6h0m0-1h0m-1 4h0m-1 8h0m-2-11h0m0 2h0m0-13h0m-1 4h0m0 11h0m-1-8h0m-1 0h0m0 13h0m-1-18h0m-2 4h0m-2-3h0m0 19h0m-1-21h0m-1-2h0m0 16h0m-1-13h0m-2 7h0m-2 12h0m-1-22h0m0 5h0m-2-4h0m0 3h0m0 3h0m0 12h0m-1-19h0m-5 3h0m-2-3h0m-6 3h0m0-1h0m0 7h0m-2-2h0m-1 4h0m0-10h0m0 2h0m-1 1h0m-1 5h0m-2-1h0m0-5h0m0 7h0m0-6h0m-2 0h0m-1-2h0m-2 4h0m-2 4h0m-2-5h0m-1-1h0m0 6h0m-1-3h0m0-1h0m-3 5h0m-1-1h0m0 1h0m0 4h0m0-12h0m-6-2h0m-1 7h0m0-2h0m-1-5h0m-2 14h0m-1-15h0m0 17h0m0-17h0m-1 4h0m0 12h0m-1 0h0m-2-11h0m-1 10h0m-2-2h0m-3-7h0m0 2h0m-1 7h0m0-10h0m-1-4h0m-1 7h0m0 10h0m-1-15h0m-2 15h0m0-7h0m0 7h0m-1-2h0m-2 4h0m-1-9h0m0-8h0m0-2h0m-1 12h0m-11-10h0m-2 13h0m-1-2h0m-3-5h0m-2 4h0m-3 0h0m0 10h0m-1-12h0m25 13h0m2 2h0m2 5h0m0-2h0m2 0h0m28 5h0m40-9h0m11-1h0m12 2h0m11-1h0m1-1h0m1 3h0m4-1h0m5 1h0m0-1h0m1 12h0m0-5h0m0-2h0m0 3h0m1-3h0m1 10h0m2-10h0m0 2h0m1 2h0m0-6h0m0-1h0m0 6h0m2 4h0m8-8h0m4-3h0m1-3h0m6 5h0m0-1h0m3-1h0m12 18h0m5 1h0m7-2h0m2 2h0m16-22h0m24 12h0m17 4h0m53 27h0m-91 3h0m-2 1h0m-1 0h0m-1-9h0m-1 5h0m0 1h0m-1-11h0m0 1h0m-1-3h0m-1 9h0m-2 4h0m-1 0h0m-1-9h0m-1 10h0m0-20h0m0 8h0m-1 12h0m0-10h0m0 0h0m-1 10h0m0 2h0m-3-7h0m0-7h0m-2 8h0m-3-1h0m0-6h0m0-8h0m-2-1h0m0 11h0m0-8h0m-1 13h0m-1-14h0m-2 0h0m-2 0h0m-1 1h0m-1 18h0m0-7h0m-1-15h0m0 21h0m-1-15h0m-2 5h0m-1 3h0m0-13h0m-1 4h0m0 6h0m-1-11h0m0 8h0m-1 10h0m0 0h0m0-16h0m-1 17h0m0-2h0m0-14h0m-2 5h0m0 4h0m-3 2h0m0 8h0m0-11h0m0 3h0m-2 8h0m-1-7h0m0-4h0m0 7h0m-18-18h0m-3 10h0m-2-4h0m-2-5h0m-1 5h0m-2-1h0m-6 0h0m-106 14h0m-1-2h0m86 20h0m15-10h0m0 1h0m3 6h0m0-2h0m1-3h0m0 6h0m3 0h0m0-8h0m1-2h0m1 10h0m1-11h0m0 9h0m1-3h0m2 6h0m4-2h0m3-7h0m1-3h0m1 10h0m3-9h0m2 2h0m20 4h0m0 0h0m1 2h0m4-5h0m0 3h0m1-7h0m2 12h0m1 4h0m2-16h0m1 17h0m0-10h0m0 3h0m1-2h0m0 1h0m2-5h0m2 2h0m4-1h0m0-4h0m3 5h0m0 7h0m5-8h0m0-1h0m1-2h0m0 0h0m2 2h0m1 8h0m0-7h0m1 3h0m0-3h0m2-5h0m1 4h0m4 7h0m1-2h0m0-3h0m1 3h0m3-6h0m31 37h0m-83-9h0m-102-1h0m0 11h0m-3-1h0m-1-12h0m-1 0h0m0-2h0m-1-2h0m-1 13h0m0-12h0m0 12h0m-1-5h0m0 10h0m-3-8h0m-3 0h0m84 37h0m0-5h0m3 0h0m3-5h0m1 9h0m2-1h0m1-14h0m0 7h0m0 2h0m0-6h0m2 12h0m3-9h0m1 7h0m0-2h0m1-11h0m1 5h0m0-4h0m1 9h0m2 0h0m0-12h0m0 2h0m1 9h0m0-4h0m5 6h0m4 3h0m0-13h0m4-2h0m0 17h0m0-3h0m1-2h0m1 0h0m4-8h0m0 10h0m0-1h0m1-1h0m5 2h0m-4 6h0m0 0h0m-3 3h0m0-2h0m0 0h0m-5 2h0m0 2h0m-1-2h0m-1-2h0m0 1h0m-2 4h0m-2-2h0m-2 2h0m0 0h0m-4 1h0m-2-6h0m-3 6h0m-1-3h0m-1 1h0m-1 0h0m-1-7h0m-7 4h0m-2 1h0" stroke="#d3d3d3" stroke-width="4"/></g><g id="bgd1"><path d="M-42 2322h0m1 4h0m9-10h0m1-2h0m3 1h0m0-3h0m4 4h0m28 29h0m-38-16h0m-6 6h0m-1-3h0m-1 18h0m-3-2h0m-3-1h0m-2 2h0m0-2h0m-1 4h0m-3-15h0m0 10h0m-3-1h0m-3 4h0m0-11h0m-4 3h0m-10 25h0m6-2h0m1 4h0m1-3h0m2-13h0m3 14h0m5-5h0m8-6h0m42 20h0m2-16h0m4 2h0m8 7h0m12-15h0m14 16h0m5-1h0m18-6h0m2-3h0m12 16h0m1-5h0m12-6h0m23 25h0m-8 8h0m-3-20h0m-19-1h0m-7 1h0m0 5h0m-2-5h0m-38 8h0m-77 6h0m-1 1h0m-4-6h0m-2 0h0m-9 9h0m-4-6h0m-5-5h0m-15-8h0m-42 23h0m-5 3h0m10 0h0m40 21h0m16-3h0m6-2h0m0-1h0m1 2h0m2-4h0m3 3h0m9-6h0m0 6h0m3-3h0m0 3h0m2-6h0m1 6h0m2 4h0m7-6h0m11 6h0m6-14h0m8 13h0m0-8h0m1 10h0m4-11h0m1 9h0m1-1h0m3-10h0m1 1h0m1 9h0m2-3h0m1 4h0m3-4h0m0 6h0m2-13h0m6-2h0m12 11h0m6-10h0m59 1h0m2 4h0m2 6h0m5-10h0m16 6h0m57 19h0m-4-2h0m-1 8h0m-2-7h0m-33 8h0m-23-7h0m-24-7h0m0-1h0m-4 2h0m-4-1h0m-54-3h0m-4 0h0m0 11h0m-4 1h0m0 0h0m-2-3h0m-1-8h0m-1 14h0m0-4h0m0 7h0m-2-16h0m-1 10h0m-6 8h0m-14-12h0m-3 2h0m0-2h0m-3-6h0m-1-2h0m-15 22h0m-2-1h0m-1-5h0m-1 3h0m-3-16h0m-1 0h0m-1 4h0m-1-6h0m0 19h0m-1-12h0m-8 8h0m0-4h0m0 6h0m-1 1h0m-6-15h0m-1 5h0m-2-9h0m-1 0h0m-1 11h0m-1 1h0m0-6h0m-9 8h0m-4 6h0m-57 1h0m-28 1h0m-3-4h0m-17 15h0m7 3h0m2 5h0m2 4h0m1-6h0m54-13h0m15 20h0m31-20h0m5-2h0m7 7h0m0-3h0m7-1h0m4 13h0m1-10h0m3 10h0m3-16h0m9 2h0m1-1h0m14 9h0m23 12h0m9 0h0m1 0h0m35 0h0m8 0h0m8-18h0m14 16h0m9 1h0m5-7h0m0 3h0m1-3h0m0-1h0m7 2h0m0-2h0m47-1h0m12-7h0m0-2h0m4-1h0m2 6h0m2 14h0m3-6h0m1 4h0m0-19h0m2 1h0m0-1h0m1 5h0m1 5h0m1-1h0m0-3h0m-77 24h0m-2-8h0m-15 7h0m-1 3h0m-4-6h0m0-1h0m-2-2h0m-11 10h0m-12 11h0m-8-6h0m-18-7h0m-7 2h0m-5 5h0m-6 0h0m0-2h0m-1-8h0m-2 5h0m-1-1h0m-2-3h0m-1 0h0m0 14h0m-3-21h0m-3 7h0m0 9h0m-34-10h0m-6 3h0m-2-3h0m-2 0h0m-28 4h0m-5 7h0m-4-4h0m-3 8h0m-1-5h0m-2 3h0m-4-9h0m-7-3h0m-1 8h0m-1 5h0m-1-2h0m-2-10h0m-1-7h0m-1 6h0m-2 10h0m-6 0h0m-3-3h0m-2 3h0m-4 3h0m-4 1h0m-2-3h0m-4 0h0m-31-7h0m0 10h0m-4-8h0m-3-1h0m-15-11h0m4 36h0m4 2h0m2-10h0m12 11h0m28-3h0m10-13h0m7 5h0m0-5h0m1 4h0m2-3h0m14 1h0m8 0h0m11 8h0m8-10h0m0 5h0m9-2h0m6 11h0m4-6h0m0 13h0m0 0h0m5-14h0m3 9h0m1-2h0m1 8h0m0-7h0m9-8h0m6 14h0m0-11h0m4-3h0m1 14h0m0-2h0m0-6h0m41-11h0m1 1h0m2-3h0m7 11h0m2 10h0m13 0h0m5-1h0m1-4h0m1-4h0m1 3h0m1-3h0m0-8h0m2 1h0m1-2h0m1 6h0m1-5h0m3 12h0m4-4h0m4-8h0m0 1h0m0-3h0m1 4h0m59 10h0m1-2h0m4 0h0m12-2h0m3 2h0m3 0h0m1-3h0m3 9h0m3-3h0m1-7h0m3 10h0m5-16h0m-61 39h0m0-3h0m-5 7h0m-2 0h0m0-4h0m-34-13h0m-14-3h0m-10 0h0m-1-3h0m-1 3h0m-9-3h0m-32 14h0m-1-4h0m-8 8h0m0-3h0m-3 6h0m0-13h0m-13-1h0m-9-7h0m0 11h0m-58-6h0m-19 11h0m-4-6h0m-2 4h0m0 8h0m0-2h0m-7-1h0m-2 0h0m0-7h0m-1 5h0m-6 4h0m-33-3h0m0-5h0m-7 10h0m-1-6h0m-1-5h0m-1 8h0m-9 3h0m-7 17h0m5-16h0m2 14h0m1 4h0m2-1h0m0-9h0m2 0h0m0 11h0m3-11h0m3-8h0m0 16h0m0 0h0m3-9h0m1-3h0m3 14h0m1 0h0m3-11h0m6 2h0m1-7h0m3 0h0m3 3h0m1 5h0m6 10h0m11-20h0m15 7h0m8-7h0m1 4h0m49 13h0m5 4h0m0-9h0m2-3h0m4 10h0m1-10h0m2 0h0m1 14h0m5-3h0m5-17h0m1 18h0m5-13h0m1 9h0m0-14h0m2 9h0m1-6h0m3 8h0m1 7h0m2-7h0m6 2h0m1-9h0m2 1h0m1 1h0m1 8h0m2 2h0m3 1h0m0-19h0m1 0h0m1 0h0m15 12h0m89-13h0m1 12h0m18-11h0m18 12h0m14-5h0m32 21h0m-3-5h0m-1 4h0m-1 1h0m-2-4h0m-1 6h0m-3-7h0m-1 0h0m0 13h0m-11-1h0m-1-2h0m-7 0h0m-4-5h0m-23 8h0m-86-5h0m-43-8h0m-16 22h0m-10-20h0m-5 3h0m-4-2h0m-5 2h0m-20 16h0m0-3h0m-5-1h0m-2 6h0m-1-19h0m-5 19h0m-22-6h0m-3-4h0m-2 4h0m-3 1h0m-2-5h0m-1-3h0m0 11h0m-3-4h0m-1-9h0m-2 0h0m-2-2h0m-22 2h0m-1 8h0m0-3h0m0 3h0m-9-12h0m-1 9h0m-2-6h0m-1 6h0m-1 10h0m0-9h0m-5 5h0m-1-10h0m-2 0h0m0 8h0m-9 4h0m-1-9h0m-1-4h0m-1 5h0m0 9h0m-1-2h0m-1-5h0m-2 1h0m-1 0h0m-3-4h0m-1-11h0m-1 20h0m-1-20h0m-2 19h0m0-19h0m-4 6h0m0 8h0m-2-5h0m10 16h0m11 0h0m1-1h0m1 12h0m1-7h0m4 11h0m3 6h0m1-23h0m2 23h0m6-8h0m1-15h0m1 1h0m1 8h0m2 10h0m4-2h0m0-2h0m3-15h0m1 14h0m1-8h0m2 9h0m1-4h0m2 8h0m2-11h0m1-1h0m31 14h0m25-21h0m0 4h0m1 0h0m12-4h0m0 0h0m8 6h0m12 16h0m1-5h0m4 4h0m4 2h0m15-1h0m28-17h0m2 6h0m0 2h0m4 1h0m0-11h0m2 6h0m51 7h0m1 6h0m12 0h0m17-3h0m32-16h0m-13 28h0m-7 6h0m0 6h0m0 0h0m-1-11h0m-2 6h0m-1 1h0m0-4h0m0 10h0m0 0h0m-3-7h0m-4-6h0m-6-3h0m-3 16h0m-1-15h0m-1 13h0m0-15h0m-1 12h0m-3-1h0m-1-14h0m-2 21h0m-4-13h0m-1 1h0m-4 0h0m-1-7h0m-2 3h0m-2 15h0m0-17h0m0 10h0m-1-6h0m-2 9h0m0-8h0m-1-2h0m-1 14h0m-1-18h0m-4 9h0m0 10h0m-1-19h0m0 9h0m-7 9h0m-31 0h0m-3 1h0m-3-12h0m0 2h0m-1 5h0m-2-9h0m-2-2h0m-1 11h0m-13-3h0m-5 2h0m-2 2h0m-4-4h0m-6-11h0m-1 0h0m-1 20h0m-1-15h0m-1 13h0m0-3h0m-3 2h0m0 0h0m-1 1h0m-1-6h0m-1 0h0m-4-5h0m0 6h0m-1 1h0m-5 5h0m-3-5h0m-4-8h0m-24 0h0m-2 8h0m-5-8h0m-1 6h0m0 5h0m-1-2h0m-4-8h0m0-9h0m-1 10h0m-1 5h0m-2 7h0m-1-23h0m-1 19h0m0-2h0m-1-10h0m0 6h0m-2 2h0m-7-15h0m-1 10h0m0-9h0m-5 12h0m0-7h0m-1 4h0m-11-7h0m-10-3h0m-1 8h0m-1 11h0m-1-12h0m-1 11h0m0-14h0m0 7h0m0 8h0m-8-10h0m-4 11h0m0-8h0m-1-6h0m-1-6h0m-1 23h0m-2-23h0m-1 7h0m-1 10h0m-2 0h0m-1-14h0m-1 4h0m-1-5h0m-3 9h0m27 13h0m28 2h0m18 0h0m1 5h0m3-6h0m4 1h0m0 8h0m3-10h0m4 5h0m2-2h0m6 15h0m13-11h0m5 10h0m0-10h0m1-7h0m2 6h0m2 11h0m0-15h0m5 5h0m2 5h0m3-12h0m1 19h0m1-13h0m0 6h0m1 9h0m2-12h0m2-1h0m1-7h0m1 13h0m2-2h0m2 10h0m4-8h0m5 5h0m1-13h0m2 1h0m0 14h0m1-4h0m19-16h0m10 14h0m35-1h0m5-5h0m1 0h0m2 7h0m1 2h0m2-10h0m6 4h0m5-4h0m1-2h0m0-5h0m1 16h0m1-15h0m1 8h0m4 9h0m4-18h0m1 21h0m1-8h0m0-2h0m1-6h0m14 3h0m2-9h0m2 3h0m-126 23h0m-2 0h0m-14-1h0m-11 0h0" stroke="#d3d3d3" stroke-width="4"/></g><g id="bgd2"><path d="M-55 2755h0m1 0h0m2-7h0m0-1h0m2 6h0m3 5h0m1-15h0m1 12h0m1 4h0m0-5h0m1-11h0m2 0h0m2 2h0m0 8h0m1-6h0m2 6h0m2-11h0m2 3h0m0 1h0m6 8h0m1 0h0m34 1h0m1 2h0m24 26h0m-2-10h0m-1-1h0m-7 9h0m-8-12h0m0 9h0m-15-8h0m-8-7h0m0 13h0m0-7h0m-4-7h0m-1 11h0m-1 10h0m-2 0h0m-10-3h0m-2-2h0m-3 1h0m0-17h0m0 18h0m-1-13h0m-1 5h0m-1 8h0m-1-19h0m-4 0h0m-2 19h0m-3-3h0m0 2h0m-4-9h0m0 2h0m-1-4h0m-2-8h0m0 6h0m0 10h0m0-7h0m-1-3h0m0 11h0m0 2h0m-1-6h0m-1-7h0m-1 6h0m0-3h0m-2 10h0m-1 3h0m-1-11h0m-1 4h0m0 2h0m0-1h0m0 4h0m-2-9h0m0 6h0m-1-4h0m-1 9h0m-2 0h0m-1 1h0m-6 0h0m1 4h0m1 0h0m3 1h0m1 6h0m1 2h0m0 10h0m2-14h0m0-8h0m0 16h0m0-16h0m1 18h0m1 2h0m1-10h0m1-2h0m1 14h0m0-21h0m1 12h0m2-1h0m3 0h0m0-11h0m1 19h0m0-19h0m4 4h0m0 16h0m0-14h0m0 11h0m0-16h0m1 2h0m1 15h0m0-13h0m0 7h0m2-12h0m1 16h0m1-3h0m0 0h0m2-1h0m1-5h0m0 8h0m0-11h0m1 15h0m0-1h0m1-4h0m1 2h0m1-3h0m1-2h0m1 10h0m3-4h0m0-10h0m0 2h0m5 5h0m1-13h0m6 3h0m3 3h0m6 12h0m1-10h0m1 9h0m2-14h0m1 6h0m1-6h0m1 12h0m1 5h0m2 1h0m0-2h0m2 0h0m1-1h0m2 2h0m0-19h0m7 2h0m6 15h0m0-19h0m8 9h0m6-10h0m3 13h0m6-13h0m3 17h0m0 2h0m16 4h0m10-7h0m3 2h0m1-2h0m0-2h0m3 8h0m24 24h0m-4-9h0m-1 5h0m-2-2h0m-1-6h0m-4 12h0m-1-1h0m-1-3h0m-1-8h0m-2-1h0m0 12h0m-1-8h0m0-4h0m-3-4h0m-1 7h0m-1-7h0m-2 18h0m-1-17h0m-3-4h0m-1 3h0m-7-5h0m-1 21h0m-3-5h0m-5-13h0m-7 8h0m-9-7h0m-10 8h0m-6 1h0m-1 3h0m-2 6h0m-3-15h0m-4 15h0m0-7h0m-1-10h0m-2 4h0m0 3h0m-1 7h0m0 1h0m-2-10h0m0 13h0m0-9h0m0-14h0m0 1h0m-1 4h0m-2-4h0m-1 3h0m-1 4h0m0 14h0m0-9h0m-1 10h0m-2-12h0m-2-10h0m-2 9h0m-1 0h0m0-4h0m0 9h0m-1-14h0m-1 15h0m-2-5h0m-1-3h0m0-1h0m0 16h0m-3-21h0m-1 10h0m-2 2h0m-1-2h0m-1 6h0m-1-14h0m-1 2h0m-2-4h0m-4 13h0m-6-15h0m-3 17h0m-1-1h0m-2-12h0m-3-1h0m-7 0h0m0 0h0m-1-3h0m-1 4h0m-9-2h0m-7 9h0m0 5h0m-6 2h0m-15 0h0m0 0h0m0 4h0m-1-9h0m-1 8h0m-9 1h0m0-3h0m-2-7h0m-2 6h0m-2 2h0m-16 0h0m-4-1h0m-31 22h0m5 0h0m6-9h0m28-1h0m5-2h0m4 14h0m5-17h0m0 2h0m5 2h0m5 9h0m2-15h0m0 7h0m2-2h0m4-5h0m2 21h0m6 0h0m4-2h0m1-1h0m5 1h0m0 1h0m0-11h0m2 5h0m0 5h0m0-6h0m5 9h0m3-1h0m1-4h0m0-1h0m2-12h0m5-2h0m11 21h0m1-13h0m2 13h0m3-1h0m0 0h0m4-1h0m2-1h0m1-7h0m0 10h0m3-5h0m0 0h0m1-8h0m1 10h0m2-12h0m0 9h0m0-4h0m1-13h0m0 12h0m0 9h0m1-16h0m0-4h0m0 12h0m6-12h0m0 2h0m0 4h0m1 4h0m0-4h0m2 11h0m0-3h0m1 0h0m1-10h0m1 16h0m0-14h0m0 16h0m0-21h0m1 1h0m0 9h0m0-8h0m0 3h0m1 6h0m0-10h0m0 18h0m1-3h0m1-4h0m1-10h0m0 7h0m1 8h0m0-16h0m1-2h0m0 8h0m0 7h0m1-10h0m1 12h0m1-17h0m2 5h0m0 7h0m1 9h0m2-3h0m3 3h0m2-5h0m5-3h0m0-11h0m34 2h0m1 18h0m10-15h0m1 7h0m10-11h0m1-3h0m12 12h0m3-11h0m0-2h0m5 0h0m0 6h0m2-5h0m0 18h0m1-15h0m2 13h0m1-2h0m1-11h0m0 13h0m1-15h0m57 41h0m-4 4h0m0-2h0m-2-2h0m-4 4h0m-4-4h0m-1-4h0m-8 5h0m-2-1h0m0-9h0m-2 13h0m-5-2h0m0-3h0m-3 4h0m0-1h0m-1-5h0m-4-2h0m0-2h0m-1-3h0m-3-3h0m-1 5h0m-2 5h0m-1 0h0m0 2h0m-1-4h0m-2 5h0m-1-4h0m0 3h0m-1 3h0m-1 2h0m-1-13h0m-2 0h0m-8 0h0m0 5h0m-3-14h0m-6 15h0m0 5h0m-9-2h0m-14-7h0m-6-9h0m-1 16h0m0 0h0m-3-1h0m-2-6h0m-2-11h0m-4 19h0m-1-6h0m-2 0h0m0 5h0m-2-8h0m-1-2h0m-4 12h0m-1-2h0m-1 2h0m-2 0h0m0-1h0m-1-20h0m-13 19h0m-4-14h0m-3-1h0m-3-4h0m0 1h0m-2 8h0m0 3h0m0 11h0m0-20h0m-4 8h0m-3-11h0m-1 8h0m-2-7h0m0 8h0m0 3h0m-1-8h0m0 9h0m0 4h0m-1-6h0m0-7h0m0 10h0m0-4h0m-1-2h0m0 7h0m-1-6h0m-2 14h0m-1-16h0m-2 6h0m0-6h0m0 4h0m-1-6h0m-1 3h0m-2-4h0m0 14h0m-2-8h0m-2 0h0m0-5h0m-1-4h0m-2 19h0m-1-15h0m-1-1h0m-1 13h0m-1-6h0m0 2h0m0-10h0m-1 0h0m-1 15h0m0-18h0m-1 19h0m-2-3h0m-1-11h0m-1 8h0m0-13h0m-1 22h0m0-10h0m-1 4h0m-1-2h0m-1 2h0m0-3h0m0-6h0m-1 9h0m-1-2h0m-2-3h0m0-8h0m-1 1h0m-5 4h0m-1 10h0m0-4h0m-1 4h0m-2-16h0m-1 11h0m0-6h0m-1 8h0m-3-11h0m-3 16h0m0-5h0m0-8h0m-2 1h0m-1 4h0m-1 6h0m-1-18h0m0 16h0m-2 7h0m0-14h0m-2-9h0m-1 0h0m-2 0h0m0 9h0m-2 12h0m0-13h0m-1 5h0m0-4h0m-2 3h0m-2 6h0m-1 5h0m-1-21h0m0 20h0m-2-13h0m-1 1h0m-1 5h0m-1-8h0m0 2h0m-1-4h0m0 4h0m-1-2h0m0 14h0m0-18h0m0 4h0m-2 10h0m-1-16h0m-1 18h0m-1-2h0m0-1h0m-1-10h0m0-1h0m0 3h0m-1-6h0m-12 9h0m-3-11h0m-1 2h0m-1 19h0m-1 2h0m-2-6h0m-3-4h0m-3 5h0m0-3h0m-4 3h0m-2-1h0m-1 3h0m0-6h0m-3-3h0m-1 5h0m-1-5h0m-2-5h0m-4 4h0m-1-1h0m-2 9h0m0-8h0m-5 11h0m0-11h0m-1 8h0m-1-18h0m-1 17h0m-3-15h0m-3 15h0m0 3h0m0 3h0m-5-9h0m-1 4h0m-3 4h0m-6-10h0m-3 3h0m-30 27h0m20-10h0m0 10h0m3 1h0m3-1h0m3-2h0m4 2h0m2 5h0m2-2h0m2-1h0m3-11h0m0-3h0m1 7h0m1-9h0m0-1h0m0 2h0m2 14h0m3-10h0m0 13h0m0-11h0m1 2h0m0-2h0m1 2h0m1 2h0m1-2h0m0 10h0m0-16h0m0 9h0m1 1h0m1-6h0m1 5h0m2-7h0m0 7h0m1-10h0m0 7h0m2-5h0m2 13h0m1-10h0m0-8h0m1 8h0m1-4h0m0 5h0m2-5h0m0 3h0m1 2h0m1-4h0m3-7h0m0 20h0m1-3h0m0 3h0m1 1h0m0-13h0m2-1h0m1 4h0m2 3h0m0 5h0m1-1h0m1-12h0m0 12h0m1 4h0m1-15h0m2 1h0m1-2h0m2 5h0m1-6h0m1-4h0m1 6h0m1-1h0m0 10h0m0 0h0m2-8h0m0 4h0m1-3h0m3 0h0m3 7h0m11-15h0m1 6h0m3-8h0m0 0h0m3 23h0m0-1h0m1-8h0m1-9h0m0-4h0m1 0h0m1 19h0m2-13h0m2 13h0m5-15h0m0-3h0m1 6h0m1-3h0m2 4h0m0-2h0m2 1h0m0-3h0m4-4h0m0 2h0m2 19h0m1-17h0m5-3h0m18 14h0m1 3h0m2 4h0m15-23h0m9 15h0m1 0h0m1 4h0m0-10h0m10 7h0m0-13h0m0-2h0m0 3h0m3 15h0m6-15h0m1 10h0m1 3h0m6 2h0m0-2h0m0-9h0m0 3h0m2 10h0m0 2h0m1-14h0m1 9h0m4 5h0m9-16h0m1 8h0m3-7h0m1-2h0m2 3h0m0 1h0m0 6h0m1-7h0m0-4h0m0 5h0m0-5h0m1 6h0m0-11h0m1 3h0m0 6h0m1 3h0m2-1h0m1-8h0m17 8h0m14-9h0m2 6h0m1-3h0m7-3h0m0 9h0m2-8h0m3 12h0m5-15h0m9 22h0m11-3h0m4 1h0m2-16h0m1 5h0m0 1h0m0-5h0m2-5h0m0 13h0m1-6h0m0 3h0m1-3h0m0-1h0m2 3h0m1 7h0m0 7h0m3-15h0m1 7h0m0 3h0m0 4h0m1-2h0m0-4h0m1-9h0m1 11h0m1-8h0m0 0h0m0-2h0m1 7h0m0 7h0m0-20h0m3 17h0m1-3h0m0-5h0m3-10h0m1 9h0m0-8h0m1 5h0m4-5h0m1 0h0m1 8h0m3-10h0m0 16h0m1-16h0m1 15h0m2 1h0m0-9h0m1 6h0m0 10h0m1-20h0m1 20h0m1-15h0m0 1h0m3 0h0m2 6h0m12 24h0m0-1h0m-2-1h0m-1 10h0m-2-11h0m0 0h0m-2 11h0m-4 0h0m0-5h0m0-15h0m-2 12h0m-1-15h0m-8 9h0m0-4h0m-2-2h0m0 5h0m-1-8h0m-3 6h0m-1-4h0m0 19h0m-1-16h0m-7 8h0m0 2h0m-1-2h0m-1 2h0m0-15h0m0 14h0m-2-9h0m-1-1h0m-1 3h0m-2 6h0m-3-5h0m0-2h0m-4-3h0m-1 5h0m0-7h0m-1 20h0m-3 1h0m-1-15h0m0 14h0m0-10h0m-5 8h0m-4 2h0m-3 1h0m-3-2h0m-5-6h0m-7 0h0m-1 9h0m-2-7h0m0-8h0m-4-6h0m-2 6h0m-2 14h0m-2-4h0m-1 4h0m-10-9h0m0 1h0m-3 3h0m0-4h0m-1 7h0m0 0h0m-1-1h0m0-7h0m-3 9h0m0-3h0m-1 3h0m-2-3h0m-2 0h0m0 5h0m-2-4h0m0 1h0m-1-6h0m-3 2h0m-4 3h0m0-1h0m-1 0h0m-1-12h0m-20 7h0m-3-13h0m0 15h0m-1-14h0m-2 5h0m-2-5h0m-1 14h0m-1-6h0m-1 12h0m-1-19h0m-4 19h0m-1-19h0m0 15h0m-1-2h0m0-2h0m-1-12h0m-1 1h0m0 12h0m0-1h0m-2 9h0m-1-15h0m-1 12h0m-1-12h0m0 11h0m-2 0h0m-1-8h0m0 12h0m0-18h0m-2 0h0m-1-4h0m-2 5h0m-5 18h0m-1-7h0m0 5h0m0 2h0m-1 0h0m-2-3h0m-1 3h0m-5-14h0m0 12h0m-1 1h0m-1-12h0m0 0h0m-1 7h0m-2-8h0m0 8h0m-1-15h0m-2 7h0m-4-4h0m-4 10h0m-3 3h0m0 0h0m0-8h0m-1-6h0m-1 1h0m-1 17h0m-1-11h0m0-1h0m0 3h0m0-13h0m-1 5h0m-1 16h0m0-3h0m-1-9h0m-2-2h0m-1 8h0m0 8h0m-2-18h0m-1 8h0m-2 3h0m0 5h0m-10-1h0m-1 2h0m-2-4h0m-4 2h0m0-19h0m0 12h0m-1-9h0m0 0h0m-3 8h0m-1-9h0m0 1h0m-1 18h0m0-7h0m-1-15h0m0 13h0m0 9h0m-2-10h0m-3 5h0m-1-8h0m-2 0h0m0-1h0m-1 7h0m0-7h0m0-2h0m-3 11h0m-2-1h0m0-11h0m-1 12h0m-1-13h0m-1 1h0m0 5h0m-1 0h0m0 13h0m-4-9h0m-4 9h0m-4-17h0m-2 2h0m-1 2h0m0-10h0m0 19h0m-2-10h0m0 0h0m-1 11h0m-2-19h0m-1 12h0m0 6h0m-1-2h0m-1 1h0m0-4h0m0 9h0m-2 0h0m-1-5h0m-2-11h0m-1-5h0m0 8h0m0 7h0m-1-13h0m-1 17h0m-1-19h0m-2 2h0m-4 7h0m-1-5h0m-1 3h0m-1-6h0m-1 9h0m-1 0h0m0-2h0m-2 6h0m-1-10h0m-1 0h0m0 12h0m-1 3h0m-1-20h0m0-1h0m0 3h0m0 3h0m-1 0h0m-1 2h0m-3-7h0m0 9h0m-2 2h0m0 9h0m0-18h0m-2 8h0m-1 0h0m-1-5h0m0 12h0m-3-14h0m0 2h0m-2 16h0m0-5h0m0 3h0m-3-10h0m0-1h0m-1-7h0m-1 10h0m-1-1h0m0-9h0m-1 18h0m0-15h0m-1-2h0m-1 8h0m0 4h0m0 7h0m0-9h0m-1-6h0m-1-3h0m0-3h0m0 15h0m-1 1h0m0-7h0m-1-9h0m-1 0h0m-4 16h0m-13-2h0m0 0h0m-2-2h0m-7 8h0m-1-13h0m-4-7h0m-6 10h0m-1 3h0m0-14h0m-1 19h0m-3 4h0m-9-5h0m6 19h0m20-13h0m8 9h0m17 9h0m9-18h0m1 8h0m0-8h0m2 8h0m4 3h0m1-5h0m0-1h0m1 1h0m2 0h0m0 12h0m0-2h0m1-9h0m0 5h0m1 3h0m1-15h0m3 0h0m0 18h0m0-10h0m1-1h0m2 9h0m0-10h0m1 4h0m0 2h0m2 2h0m0-8h0m0 1h0m1 7h0m0 3h0m2-2h0m3-13h0m1 5h0m0-4h0m1-3h0m0 7h0m2 13h0m1-20h0m0 9h0m1-6h0m0 14h0m2-8h0m1 5h0m1-4h0m5-2h0m2 0h0m1-3h0m0 4h0m0-6h0m2 6h0m1-1h0m1-5h0m0 0h0m2-1h0m0 4h0m1-4h0m1 6h0m3-3h0m1-1h0m0-2h0m1 6h0m1-2h0m6-3h0m5 1h0m3 17h0m2-19h0m0 0h0m0 18h0m2-17h0m0 13h0m1-6h0m0 4h0m2-5h0m0-3h0m0-2h0m2 15h0m2-17h0m0 1h0m2 18h0m3-19h0m1 14h0m0-5h0m1 8h0m2 0h0m2-19h0m0 3h0m0 19h0m6-3h0m3-2h0m4-17h0m1 9h0m0-8h0m0 9h0m1 9h0m1-18h0m0 2h0m0 12h0m1-5h0m1 7h0m0-11h0m1-2h0m1 8h0m0 1h0m1 3h0m1-12h0m0-4h0m1 8h0m2 6h0m0-11h0m0 10h0m2 3h0m0 0h0m4-14h0m1 16h0m0-14h0m3 14h0m0-17h0m1 8h0m4 0h0m0-3h0m2 10h0m1-8h0m0-3h0m2 14h0m3-3h0m1 2h0m1 1h0m0-11h0m3 4h0m1-7h0m0 14h0m4-11h0m0-8h0m0 14h0m1-7h0m11 15h0m4-8h0m10 8h0m4 0h0m6-1h0m2-2h0m0-6h0m1 7h0m0-6h0m1 0h0m1-3h0m3 4h0m0-8h0m1 14h0m1-3h0m0 5h0m2-3h0m1-7h0m1-10h0m0 11h0m0-11h0m0 18h0m2-2h0m0-5h0m1-5h0m2-7h0m0 10h0m1 10h0m1-20h0m1 9h0m1 8h0m1-15h0m1 18h0m0-7h0m2-7h0m1 14h0m1-10h0m1 3h0m1-15h0m0 16h0m2-7h0m1-8h0m1 2h0m1 3h0m0 8h0m0 7h0m1-1h0m0-2h0m1-7h0m1-5h0m2 14h0m1-15h0m1-3h0m2 11h0m1-1h0m1-6h0m0-6h0m1 20h0m0-11h0m0 6h0m2-14h0m1 21h0m1-1h0m0-14h0m1 14h0m3-2h0m0-6h0m1-11h0m1 9h0m0-5h0m1 14h0m0-2h0m0-12h0m0-1h0m0-2h0m4 11h0m0 4h0m2 4h0m2-17h0m1 9h0m2 6h0m1-19h0m1 15h0m1-14h0m1 1h0m0 9h0m1 5h0m0 3h0m0-4h0m2-16h0m0 12h0m0-5h0m0-5h0m1 6h0m2-5h0m2 17h0m0-10h0m3 4h0m2 5h0m0-4h0m2-13h0m1 3h0m0-4h0m1 3h0m2-3h0m1 0h0m2 8h0m6 5h0m0-1h0m0-2h0m3-5h0m1 12h0m1-13h0m0 0h0m1 10h0m0-4h0m3-1h0m1 13h0m2-7h0m1 7h0m1-4h0m3-17h0m14 0h0m2 16h0m8-4h0m-20 17h0m-9 9h0m-8 5h0m-5 0h0m-2-19h0m0 13h0m-2-2h0m-1-8h0m-1-4h0m0 1h0m0 16h0m-1-11h0m0 2h0m-2 11h0m-1 0h0m-1-13h0m-1 15h0m-2-2h0m0-3h0m-2-4h0m-2-13h0m-1 13h0m-2-12h0m-2 1h0m0 4h0m0-5h0m-1 2h0m0 17h0m-1 0h0m0-7h0m-1 5h0m0 3h0m-1-1h0m0-13h0m-2 5h0m-2-9h0m-1 4h0m0-1h0m-2 6h0m-1 2h0m0-5h0m-1 9h0m-1-11h0m-1 7h0m-2-8h0m0 17h0m-2-9h0m0-8h0m0 7h0m-1 8h0m-1 0h0m-1-2h0m-1-17h0m-1 20h0m0-19h0m-1 9h0m0 2h0m-1-5h0m-1-7h0m0 10h0m0 7h0m0-13h0m-1 0h0m-2 17h0m-1-2h0m0-2h0m-1-3h0m-1-3h0m0 4h0m-1-6h0m-2 9h0m0-3h0m-5-8h0m0 0h0m0 8h0m-3-13h0m0 8h0m-1-8h0m-2 1h0m-1 0h0m-1 18h0m-1-17h0m0-4h0m0 10h0m-1 6h0m-2-17h0m-1 13h0m-1-5h0m-1 13h0m-1-3h0m0-16h0m0-3h0m0 18h0m-2 5h0m-1-1h0m-1-17h0m0 8h0m0-5h0m0 3h0m-5 4h0m-3-7h0m-1 3h0m-1 9h0m-1-11h0m0-9h0m0 4h0m-1 10h0m0-14h0m0 21h0m-2-7h0m-2-11h0m0 16h0m-3-1h0m-1-5h0m-1 1h0m-1 8h0m-1-8h0m0 5h0m-1-19h0m-1 3h0m0 11h0m-1-3h0m-1-9h0m0 7h0m-2-5h0m-2 8h0m-1 8h0m-2-3h0m-1 1h0m0-8h0m-1-5h0m0 9h0m-1-14h0m0 19h0m-2-11h0m-1 1h0m-1 12h0m-1-13h0m-1 8h0m0-1h0m-1-5h0m0 7h0m-1-12h0m-1 5h0m-4 1h0m0-2h0m-1-5h0m-12 13h0m-4 6h0m0-14h0m-6 4h0m-1 1h0m0 7h0m-1-1h0m-1-4h0m-1 7h0m-1-11h0m-1 8h0m-7 3h0m0-1h0m-1-20h0m-9 0h0m-1 16h0m-2-12h0m-2 2h0m-2 6h0m0-6h0m-1 6h0m-1 8h0m0-7h0m0-6h0m-1 1h0m-1 5h0m0-13h0m0-2h0m-1 4h0m-2 0h0m0 11h0m-2-12h0m0 19h0m-2-14h0m-1-2h0m0 4h0m0 7h0m0-8h0m-2 8h0m0 1h0m-1-5h0m0 0h0m-2 8h0m-1-2h0m0-15h0m-3-4h0m0 0h0m-1 11h0m0 0h0m-1 1h0m-1-9h0m0 18h0m0-7h0m-1 5h0m-1-5h0m-1 6h0m-2-20h0m-1 23h0m-1-11h0m0 2h0m0 2h0m-1-4h0m0-11h0m-2 20h0m0-8h0m-7-8h0m-7-4h0m-1 5h0m-10 10h0m0 7h0m-4-5h0m-1 3h0m-2 1h0m0 1h0m-3 0h0m-5-2h0m-5-16h0m-3 1h0m-5-1h0m-6-4h0m-6 20h0m-3-3h0m-4 4h0m-1-4h0m0 5h0m-1-5h0m-2 3h0m0-1h0m-1 2h0m-5 0h0m0-16h0m0 3h0m-4 8h0m0-5h0m-2 11h0m-3-2h0m0-1h0m-1-3h0m-2 6h0m0-8h0m0 1h0m-5 0h0m-1 4h0m-8-14h0m-1 2h0m5 24h0m2 3h0m1 2h0m3-2h0m1 3h0m0-7h0m1 8h0m0-9h0m1 11h0m4-4h0m1-8h0m2 6h0m1-2h0m2 2h0m1-8h0m1 8h0m0 5h0m3-7h0m0 2h0m2-6h0m1 10h0m4-1h0m0 6h0m1-7h0m1-2h0m1 3h0m0-14h0m1 5h0m0-2h0m4 0h0m0 9h0m2-1h0m2-4h0m2 4h0m1-7h0m5-3h0m4 20h0m2-3h0m3 0h0m0-1h0m1-3h0m0 1h0m0-13h0m4 8h0m6-6h0m0 4h0m8 15h0m1-22h0m11 15h0m1-9h0m2 7h0m5-8h0m9-6h0m3 9h0m2-6h0m2 0h0m9 8h0m3-7h0m4-1h0m2-2h0m1 5h0m1-6h0m2 2h0m2 17h0m0 4h0m1-4h0m0-6h0m1 8h0m1 0h0m1-9h0m0 1h0m1-7h0m2-4h0m1 3h0m1 2h0m0 1h0m0-7h0m0 12h0m1-6h0m0 0h0m1 3h0m1-5h0m1-1h0m3 2h0m0 10h0m3 2h0m2 0h0m1-15h0m1 16h0m2-18h0m3 22h0m1-21h0m0 17h0m2-3h0m2-14h0m0 17h0m10-9h0m14 10h0m2-10h0m4-4h0m2 17h0m5-18h0m6 2h0m0 6h0m6 5h0m1 5h0m1-12h0m0-11h0m4 5h0m0-4h0m1 20h0m0-15h0m1 8h0m1 6h0m1-6h0m0-8h0m1 1h0m0-5h0m1-2h0m0 9h0m2 7h0m2-8h0m0 13h0m5-19h0m4-1h0m0 2h0m1 7h0m0 2h0m0 6h0m1-1h0m5-14h0m0 13h0m1-16h0m2 21h0m0-7h0m2-2h0m1-10h0m0 12h0m2 9h0m0-1h0m2-9h0m2-5h0m0-4h0m1 7h0m0 1h0m1 0h0m2 2h0m1-12h0m0 7h0m1 5h0m0-1h0m0-13h0m0 22h0m1-22h0m1 15h0m2-5h0m2 0h0m0 6h0m2-7h0m1-9h0m0 20h0m0-8h0m2-8h0m2 1h0m1 3h0m2 3h0m2-8h0m0 15h0m1 3h0m0 2h0m0-3h0m2-4h0m2-15h0m2 22h0m0-4h0m2-15h0m1 4h0m0 11h0m1-4h0m0 2h0m0 1h0m1-14h0m1 5h0m0 13h0m1-11h0m0 12h0m1-6h0m0-8h0m0-5h0m1 9h0m0-13h0m0 20h0m3-18h0m0 9h0m2 8h0m1-2h0m1-6h0m2 0h0m0-2h0m1 0h0m0 6h0m1-1h0m1-4h0m1-3h0m2 9h0m1-12h0m0-3h0m19 17h0m0-3h0m3-2h0m2 7h0m6-8h0m6 9h0m1-7h0m0 5h0m1-7h0m1 11h0m-9 3h0m-2-1h0m-46 7h0m0 1h0m-1-8h0m-1 3h0m0-3h0m-1 7h0m-1-2h0m0 9h0m-3-10h0m-1 10h0m-2-14h0m-2 5h0m-1 3h0m-1 0h0m-1 2h0m0-4h0m0-2h0m-2 12h0m0-2h0m-1-6h0m0 3h0m-1-9h0m-2 15h0m-1-9h0m0 9h0m-1-7h0m0-3h0m-1-1h0m0 15h0m-1-17h0m0 4h0m-1 0h0m-2 13h0m-2-13h0m0-8h0m0 9h0m-3-5h0m0-3h0m-1-2h0m-3 11h0m0 1h0m0-7h0m-3 18h0m-1-13h0m0 4h0m-1 7h0m0-6h0m-1-8h0m-1-3h0m0 10h0m-1 0h0m-1-7h0m0-5h0m-1-2h0m-2 18h0m-2-12h0m0 5h0m-1 9h0m-3 3h0m0-21h0m-1 12h0m0-8h0m-1 6h0m-2 2h0m-1-2h0m0-4h0m-5 3h0m0 2h0m0-9h0m-1 3h0m-1-1h0m0-6h0m0 7h0m-1 4h0m0-5h0m-3-4h0m-4 16h0m-1-3h0m-1-14h0m-12 10h0m-1 9h0m-3 1h0m-2-5h0m-7 3h0m-1 2h0m-2 0h0m-7-11h0m0-5h0m-5 16h0m0 1h0m-2-19h0m-10 4h0m0-7h0m0 14h0m-2-2h0m0 3h0m0-3h0m-1-12h0m0 7h0m-1 3h0m-2-3h0m0 10h0m-1-13h0m-3 6h0m-1 10h0m0-8h0m-1-7h0m-1 6h0m0 9h0m0-1h0m-2 1h0m-1-12h0m0-6h0m-2 11h0m0 8h0m-1-4h0m0-11h0m0 7h0m0 2h0m0-2h0m-1-4h0m0-1h0m-1-7h0m-1 3h0m-3 19h0m-1-3h0m0-12h0m-1 12h0m-1-1h0m-1 2h0m0-1h0m-1-14h0m-2 6h0m-1 0h0m0-11h0m-2 12h0m0-3h0m-2 11h0m0-1h0m-2 3h0m-8 0h0m0-20h0m-28 2h0m-3 6h0m-1 12h0m-1-11h0m0 2h0m-1 9h0m-1-2h0m-1-8h0m0 9h0m-2-17h0m0 5h0m-1 5h0m-1-12h0m-1 12h0m-1 4h0m-1 3h0m-1-8h0m0 7h0m-1-18h0m-1 8h0m0 7h0m-1 2h0m-1-18h0m0-1h0m-1 7h0m-2-1h0m-1 9h0m-1-8h0m-1 13h0m-1-16h0m-2 16h0m0-18h0m-3 17h0m-5-5h0m-3-3h0m-8-1h0m3 33h0m3 0h0m6 2h0m3-1h0m5-20h0m6 3h0m1-4h0m1 1h0m1 2h0m1 5h0m6-2h0m2-2h0m1-1h0m0-3h0m3 1h0m1-1h0m15 6h0m22 14h0m1 3h0m0-3h0m0-1h0m1-2h0m2-15h0m1 14h0m1-4h0m3 7h0m1-9h0m3-4h0m0 2h0m1-7h0m0 21h0m3-19h0m1 12h0m0-5h0m2 10h0m2-15h0m10-4h0m0 1h0m3-2h0m7 23h0m11-4h0m5-11h0m5 4h0m0 6h0m1 4h0m0-19h0m0 7h0m1 7h0m0 5h0m4 0h0m0-3h0m1-15h0m0 1h0m1-1h0m0 7h0m1 3h0m1 4h0m1-6h0m0 2h0m1 7h0m1-17h0m1 18h0m1 1h0m1-21h0m0 1h0m1 3h0m0 15h0m1-19h0m0 8h0m2 3h0m2-13h0m1 3h0m0 17h0m3-7h0m1-13h0m3 21h0m0-10h0m1 1h0m0 5h0m0-2h0m0-12h0m0 14h0m1 4h0m1-4h0m0-16h0m1 11h0m1 6h0m0 5h0m3-5h0m0 5h0m0-16h0m1 8h0m0-2h0m0-4h0m1 1h0m2 4h0m0-6h0m6 15h0m17-6h0m-27 12h0m-2 1h0m-4 2h0m-1-2h0m0 14h0m-1-16h0m0-2h0m-1 2h0m-1 0h0m-1 15h0m-4-19h0m-2 2h0m-1 6h0m-8-4h0m-2 9h0m-1-10h0m-6 4h0m-5 14h0m-16 2h0m-6-14h0m-8 13h0m-6-1h0m-6-4h0m-8 1h0m0-3h0m-3-1h0m0 2h0m-2-16h0m-1 14h0m0 1h0m-1-15h0m-4 15h0m-1-5h0m-1-3h0m-3 14h0m-1-5h0m-1 1h0m-1-16h0m0 0h0m-1 21h0m0-1h0m-1-1h0m0 3h0m-1-5h0m-1-9h0m-1 8h0m0 5h0m-2 0h0m0-3h0m-1 2h0m-1-7h0m-1 5h0m-1-14h0m-2 13h0m0-12h0m-2 17h0m0-3h0m-1-5h0m-3-1h0m0-4h0m0 13h0m-1 0h0m-1-8h0m-1 1h0m0-12h0m-1 3h0m-4 5h0m-2 11h0m-1-19h0m-6 4h0m0 0h0m0-7h0m-2 3h0m-2-1h0m0 6h0m0-7h0m-4 12h0m-2-10h0m-2-1h0m0 11h0m-1-12h0m-2 20h0m-2 0h0m-2-4h0m-1-12h0m0 15h0m-1-13h0m-1 4h0m-3-8h0m0 11h0m-1-8h0m-5-4h0m-1 2h0m-2-5h0m-1 8h0m20 16h0m10 1h0m2 2h0m5 0h0m0 0h0m0 0h0m4-2h0m2 5h0m0-5h0m1-1h0m1 7h0m5-1h0m0 3h0m6 2h0m0-11h0m5 12h0m0 3h0m1-5h0m1-5h0m0-4h0m1 2h0m2 11h0m0-9h0m3-3h0m1 2h0m0 0h0m1 12h0m2-15h0m1 2h0m1 13h0m1-2h0m1-2h0m0-4h0m2 9h0m2-4h0m0 1h0m2 1h0m0-9h0m1 9h0m2-5h0m1 7h0m1-5h0m0-3h0m1-2h0m0-7h0m1 11h0m1-1h0m0 0h0m2 6h0m1-9h0m0-2h0m2 1h0m1 2h0m3-7h0m4 9h0m0 1h0m1-6h0m0-5h0m1 7h0m0 12h0m0-9h0m2 9h0m0-14h0m3 9h0m2-11h0m0 6h0m2 2h0m3-9h0m0 2h0m1 12h0m1 2h0m2-16h0m1 17h0m0-3h0m1-15h0m2 5h0m2 6h0m5 6h0m0-4h0m1 3h0m2-14h0m4-3h0m0 14h0m0-9h0m9 6h0m5-9h0m13 2h0" stroke="#d3d3d3" stroke-width="4"/></g><g id="bgd3"><path d="M-77 3186h0m16-2h0m7-5h0m0 7h0m1-6h0m1-2h0m0 9h0m5-8h0m1 12h0m1-13h0m0 5h0m3-10h0m2 8h0m3 9h0m0-5h0m3 5h0m1-4h0m1-1h0m5 6h0m6-18h0m8 15h0m4-6h0m2 2h0m1-8h0m3 12h0m3-2h0m1 0h0m1 5h0m2-2h0m1-2h0m0 4h0m2-15h0m4 10h0m0-13h0m1 2h0m4 16h0m5-12h0m6 4h0m33 3h0m12 0h0m21 14h0m-3 7h0m0 5h0m-12-14h0m-7 4h0m-19 5h0m-8 3h0m-7-4h0m-1-4h0m-1 13h0m0-18h0m-3 9h0m-1-11h0m-1 7h0m-1 3h0m0 0h0m-4-8h0m0 17h0m-3-19h0m0 6h0m0-9h0m-1 20h0m-1-18h0m0 18h0m0-4h0m-1-9h0m-2-2h0m-1 15h0m-1-15h0m-1 17h0m-3-13h0m0 9h0m-1-9h0m0-1h0m0 13h0m-1-8h0m-1 5h0m-1-9h0m-1-7h0m-1 9h0m-3-8h0m0 6h0m-1 8h0m-1 1h0m-1-3h0m0-2h0m-1 4h0m-1-15h0m-1-1h0m-4 7h0m-1 9h0m-1-6h0m-4 7h0m-1 1h0m-1-14h0m0-1h0m-1 13h0m0 3h0m-7 3h0m0-7h0m-1 7h0m-3-18h0m-2 4h0m0-2h0m0 16h0m-2-3h0m-1-17h0m0 9h0m-1-11h0m-2 1h0m0-2h0m-1 8h0m0-5h0m-1 6h0m-4 0h0m-1 0h0m-2-2h0m0-4h0m-1 0h0m0 6h0m-8-2h0m-13 6h0m0 1h0m-3-8h0m-1 0h0m-1 17h0m-8-7h0m-1 0h0m-7-6h0m-6 10h0m-14 3h0m-8-3h0m-13 3h0m-21 9h0m2 11h0m0-6h0m1 5h0m0-9h0m1-5h0m1 18h0m4-15h0m0 4h0m1-11h0m1 5h0m0 6h0m3-4h0m2 8h0m5 1h0m0-13h0m3 7h0m1 3h0m0 0h0m0-5h0m0 7h0m0 8h0m1-21h0m1-1h0m0 16h0m5-13h0m0 16h0m1-4h0m2 1h0m2-10h0m0 16h0m1-11h0m17-10h0m1 18h0m1-12h0m22 12h0m7-12h0m8 10h0m4-4h0m0 4h0m7-6h0m2 8h0m0 2h0m2 1h0m0-13h0m1-3h0m1 4h0m0 6h0m1-2h0m1 8h0m1-14h0m2 1h0m0 2h0m1 2h0m6-1h0m5-10h0m1 1h0m1-4h0m1 9h0m1-9h0m1 6h0m2-3h0m5 10h0m3-1h0m2 5h0m5-1h0m1-2h0m1-8h0m1 16h0m1-8h0m0 3h0m1-3h0m0-6h0m1 3h0m1-7h0m1 17h0m1-17h0m1-4h0m0 7h0m4 0h0m2 3h0m2 1h0m0 6h0m1 6h0m1-23h0m1 6h0m1 16h0m0-15h0m1 8h0m0-15h0m1 8h0m2 12h0m1-15h0m3 2h0m3 15h0m2-3h0m2 4h0m0-10h0m3 6h0m1-14h0m0-5h0m0 16h0m2 1h0m0-7h0m2-4h0m1 9h0m8-1h0m6 4h0m11-1h0m5 1h0m1 0h0m1-1h0m4-3h0m0 1h0m3-5h0m0 8h0m1-2h0m2-15h0m3 15h0m2 0h0m1-6h0m2 10h0m3 3h0m1-1h0m2 1h0m1 0h0m1-14h0m1 9h0m2-1h0m2-11h0m1 7h0m1-6h0m10 15h0m6 1h0m37 23h0m-18-11h0m-18 12h0m-3-1h0m-24-21h0m-7 6h0m-1-6h0m-2 1h0m-2 5h0m-3-6h0m-3 4h0m0 2h0m-4-2h0m-5-4h0m-15 6h0m-31-1h0m-2 6h0m-2-10h0m-2-1h0m-5 1h0m-1-1h0m-5 0h0m-1 7h0m-6 10h0m-1-9h0m-4 12h0m-1-19h0m-7 18h0m-1-12h0m-1 11h0m-2-2h0m-5-3h0m0 6h0m0-2h0m-3 3h0m0-3h0m-1-7h0m-1 9h0m-1 1h0m0-8h0m0-1h0m-2 4h0m-1 5h0m-6-3h0m-2-18h0m0 10h0m0 2h0m-1-10h0m0 10h0m0 8h0m-1 1h0m-2 2h0m-6-23h0m-3 17h0m-5-13h0m-1-4h0m-1 16h0m0 2h0m-1 1h0m-1-1h0m-2 0h0m-5 4h0m-2-13h0m-2 2h0m0 4h0m-4-4h0m-1 5h0m-9-15h0m-4 22h0m-1-1h0m-5-7h0m-2-12h0m-3 0h0m-2 0h0m-12 1h0m-11-4h0m-5 6h0m-3 11h0m-1-15h0m-7-1h0m0 7h0m-3-5h0m-3-1h0m-1 1h0m-2 0h0m-2 1h0m-13 13h0m-19 29h0m1-1h0m2 1h0m0-1h0m18-18h0m3 14h0m2-2h0m1-1h0m3 0h0m6 5h0m1-18h0m1 15h0m0 5h0m0-13h0m1 4h0m0 4h0m2-5h0m1 8h0m0 2h0m0-14h0m1 16h0m3-10h0m0-4h0m4 13h0m1-5h0m1-7h0m0-7h0m2 15h0m5-8h0m6 4h0m4 3h0m1-5h0m7 8h0m2-15h0m1 10h0m1-3h0m2-3h0m1 8h0m0 1h0m0-2h0m3 3h0m1 4h0m0-14h0m1 4h0m4-11h0m0 0h0m3 3h0m2 5h0m2-10h0m5 1h0m0 4h0m2 4h0m2 0h0m0-4h0m0 4h0m0 11h0m1-4h0m1-1h0m1-8h0m2-3h0m0 5h0m0 3h0m2-1h0m1-10h0m2 16h0m0 0h0m1-1h0m0 4h0m0-7h0m1 0h0m1-5h0m2 6h0m0 0h0m0-8h0m1 10h0m4-10h0m1 17h0m1-15h0m3 4h0m3 3h0m3 4h0m7 3h0m0 0h0m0 0h0m1-2h0m9-11h0m3 3h0m3-1h0m1-3h0m1-8h0m4 6h0m1 1h0m1 0h0m4-4h0m6 10h0m2-5h0m11-8h0m7 8h0m6-6h0m0 5h0m3 2h0m1-7h0m1 6h0m3 4h0m1-8h0m2 2h0m6-2h0m7 5h0m12-4h0m3 17h0m18-17h0m2 16h0m2-9h0m2-6h0m1 17h0m2-18h0m2-1h0m2 11h0m3 0h0m0-9h0m1-2h0m2 17h0m1-10h0m1-10h0m3 5h0m1-2h0m10 17h0m7-9h0m4 3h0m10 5h0m2-3h0m5 4h0m0 2h0m3-12h0m4 9h0m2-5h0m0-2h0m3 8h0m10 22h0m-5-2h0m0-12h0m0-5h0m-3 8h0m-2 6h0m-1-2h0m0-4h0m-1 6h0m-2-2h0m0 2h0m-1 6h0m-1-2h0m0-5h0m-1-2h0m0 2h0m-2-12h0m-2 6h0m-1-6h0m-2 0h0m-2 7h0m0 8h0m0-4h0m-1-5h0m-1-3h0m-1 4h0m-3 9h0m-10-16h0m-4-1h0m-9 20h0m-3-6h0m-1-10h0m-6 5h0m-2 12h0m-7-7h0m-2-6h0m-10 7h0m-1-7h0m-2 12h0m-5-2h0m-1-7h0m-4 10h0m-4 2h0m-10-4h0m-23-1h0m-19-13h0m0 14h0m-1 4h0m-1-3h0m-1-16h0m-3 19h0m0-10h0m-3 0h0m0-9h0m-3 12h0m-2 1h0m-1 1h0m0 4h0m-3-13h0m0 4h0m0-1h0m-1 4h0m-1 1h0m-1-5h0m0 3h0m-4-10h0m-17 17h0m-2-19h0m0 11h0m0-12h0m-1-2h0m-1 17h0m-3-2h0m-1-6h0m0-8h0m-1 4h0m0 12h0m-1-11h0m-1 9h0m0-8h0m-1 8h0m-2-9h0m-7 1h0m0 0h0m-5 1h0m-6-7h0m-19 4h0m-10-2h0m-2 5h0m-1-4h0m-3-1h0m-4 5h0m-1-3h0m-4-4h0m-1 6h0m-11-5h0m-2-2h0m-2 21h0m-6-20h0m0 2h0m-2 16h0m0-10h0m-1-9h0m-3 19h0m-3-7h0m-1-2h0m-3-6h0m0 18h0m-5-19h0m-1-2h0m-2 6h0m-1-2h0m0-5h0m-1 8h0m-3 9h0m-3-12h0m0 4h0m-1 13h0m0-10h0m-1-8h0m-1 8h0m0 8h0m0-10h0m0 0h0m-2-5h0m-1 13h0m0-6h0m-3-10h0m-2 10h0m-4-12h0m-2 6h0m-2-2h0m-2 2h0m-3 2h0m-2-6h0m-2 2h0m-1 3h0m-1 10h0m-1-9h0m-3 9h0m-1-11h0m-2 5h0m3 17h0m4 8h0m1-8h0m1-3h0m2 2h0m2 3h0m1 17h0m3-18h0m0 18h0m12-23h0m1 23h0m4-3h0m17-11h0m2 12h0m4-9h0m14 2h0m5-5h0m2 10h0m3-14h0m1 10h0m1-7h0m2 1h0m1 9h0m2-7h0m0-2h0m5 6h0m0 3h0m1-7h0m0 4h0m0 7h0m0-17h0m1 10h0m1 0h0m4-7h0m1-3h0m1 5h0m0 4h0m1 1h0m3-9h0m6 15h0m1 0h0m0-2h0m26-15h0m2 15h0m15 1h0m1 0h0m0-18h0m2 13h0m3 4h0m2-13h0m1 16h0m1-13h0m3 0h0m0 7h0m0-11h0m1 0h0m4 3h0m0-2h0m2 15h0m0 1h0m4-2h0m9-5h0m0 2h0m0-5h0m0-2h0m1 4h0m0-4h0m3-6h0m3-2h0m1-2h0m6 10h0m1 10h0m1-12h0m2 13h0m1-7h0m1 3h0m1 1h0m2 2h0m2-12h0m7 7h0m3-11h0m3 15h0m2-1h0m5 2h0m0-17h0m5 18h0m1-3h0m7 1h0m1-9h0m4-4h0m11-6h0m4 1h0m5 5h0m6 15h0m8-18h0m2 17h0m1 0h0m3-20h0m2 18h0m1 1h0m1-10h0m4-4h0m0 16h0m0-1h0m3-16h0m3 3h0m1 13h0m24-14h0m1 6h0m0-3h0m3 12h0m2-12h0m1 12h0m4-1h0m1 1h0m2-16h0m3 5h0m1-7h0m1 12h0m1 8h0m0-1h0m1-10h0m1-7h0m0 6h0m0 7h0m3-3h0m1-8h0m1 13h0m2-7h0m1 4h0m6 2h0m9 4h0m9 3h0m0-2h0m-3 2h0m-4 5h0m-6 0h0m-11-6h0m-12 6h0m0 15h0m-2-3h0m-2-8h0m-1 1h0m0-5h0m-1-7h0m0 23h0m-2-5h0m-2-7h0m-2 1h0m-2-11h0m-3 6h0m-1 4h0m-1-1h0m0 10h0m-1-8h0m-2-11h0m0 3h0m-1 19h0m-1-20h0m0 19h0m0-4h0m-1 1h0m-1 2h0m-1-11h0m-2-4h0m-3 12h0m-2 2h0m-4-3h0m0-17h0m-3 14h0m-1 1h0m0-14h0m-1 11h0m0 0h0m-3-12h0m-2 10h0m0-1h0m-2 2h0m-3 1h0m-1 2h0m-2-3h0m-1-11h0m-1 8h0m0 9h0m-1 2h0m-2-19h0m-1 3h0m-3 15h0m0-1h0m-1-4h0m-1 10h0m-1-23h0m0 10h0m-3-5h0m-1 13h0m-1-17h0m-1 0h0m0 5h0m0-5h0m0 12h0m-5 0h0m-2-5h0m-2 15h0m-3-5h0m0-9h0m-4 6h0m0 2h0m0-8h0m-2 9h0m-2-11h0m-2-4h0m-4 1h0m0 9h0m-2-13h0m-3 13h0m-1 8h0m-1-9h0m-5 6h0m-1-2h0m-3 0h0m0 5h0m-1-8h0m0-11h0m-2-2h0m0 7h0m-1 0h0m0 9h0m-1-7h0m0 0h0m0-4h0m0 17h0m-1-22h0m-1 23h0m-9-6h0m-2-14h0m-4 3h0m-15 10h0m-22-16h0m0 21h0m-5-17h0m-3-1h0m-1 2h0m-1 0h0m-2-5h0m-2 16h0m-1 4h0m-2-8h0m-1 10h0m-1-20h0m-2 6h0m-15 13h0m-2-3h0m-1-3h0m-2 2h0m-1 1h0m-1 2h0m-3 2h0m0-11h0m-1 10h0m-1-10h0m-1 11h0m-1-3h0m0-14h0m-1-3h0m-1 14h0m-2-3h0m-1-4h0m0 8h0m-1-10h0m-1 16h0m0-19h0m-1 18h0m-1-12h0m0-7h0m-2 16h0m-1 4h0m-1-5h0m-2-15h0m0 7h0m0 6h0m-3-12h0m-2 18h0m-2-13h0m0-1h0m-1 7h0m0 1h0m-3 6h0m-1-6h0m-4-15h0m-2 19h0m-35-5h0m-1 8h0m0-17h0m-1 0h0m-1 3h0m0 3h0m-2 10h0m-2-2h0m-5-3h0m-2-14h0m-4 12h0m-1 3h0m-1-4h0m-1 2h0m0-3h0m-1 0h0m-2-12h0m-1 16h0m-2-17h0m-2 1h0m0 13h0m-1-7h0m-3 5h0m-3-8h0m0 12h0m-1-3h0m-1-9h0m-1 1h0m-2 8h0m0 0h0m0 8h0m0-18h0m-1 0h0m0 10h0m-6-2h0m0 9h0m-4 1h0m0 1h0m-1 21h0m2-15h0m2 19h0m1-22h0m2 20h0m1 1h0m0-10h0m2-2h0m0 3h0m4-3h0m1-3h0m2-4h0m3 3h0m0 9h0m6 1h0m3-13h0m0 5h0m1 11h0m1 0h0m4-15h0m2 16h0m0-4h0m1 1h0m1-11h0m1-2h0m1 8h0m0-3h0m1-7h0m1 14h0m0-10h0m1-4h0m0 19h0m0-8h0m2 1h0m0-6h0m0 2h0m2 7h0m2-8h0m2-4h0m3 11h0m1-10h0m1-2h0m1 11h0m0-8h0m0 15h0m2-4h0m0 3h0m1-18h0m2 4h0m5-5h0m1 20h0m16-20h0m4-1h0m2 12h0m0-1h0m0 9h0m1 1h0m0 0h0m3-11h0m4-2h0m0 10h0m1-7h0m1 10h0m2-15h0m3-2h0m2-5h0m0 16h0m1-13h0m0 14h0m0 4h0m2-8h0m0 8h0m1-11h0m2 3h0m1 5h0m1-3h0m3 6h0m1-14h0m8 7h0m2-8h0m0-5h0m0 2h0m1-2h0m0 22h0m8-1h0m2-3h0m0 4h0m3-13h0m3 13h0m5-23h0m4 16h0m9-8h0m3 6h0m8 9h0m5-1h0m0-5h0m6-7h0m0 5h0m0 2h0m3 0h0m0-10h0m1 3h0m5-6h0m0 7h0m0-9h0m14 17h0m2-9h0m2-7h0m1 13h0m0-8h0m1 2h0m1 9h0m1-7h0m1-1h0m2 8h0m2-11h0m1-5h0m1 6h0m1 5h0m2 5h0m1-2h0m3-14h0m1-3h0m6 20h0m1-2h0m2-11h0m1-4h0m0 15h0m1-14h0m0-3h0m1 10h0m2-1h0m0 9h0m1-8h0m1 4h0m0-13h0m1 9h0m2 10h0m0-15h0m2 2h0m1-7h0m1 17h0m0-5h0m1-11h0m1 6h0m1 4h0m1 4h0m0-1h0m0-15h0m1 15h0m4-12h0m0 4h0m0-1h0m0 2h0m0 3h0m9 1h0m1-8h0m0 6h0m0 13h0m1-3h0m1-13h0m1 2h0m0-3h0m0 10h0m1 2h0m1-11h0m4-4h0m2 1h0m2-4h0m2 8h0m4-5h0m1 4h0m0-5h0m1 5h0m1 1h0m3-3h0m1 16h0m4-17h0m1 11h0m0-15h0m1 7h0m5-4h0m4 4h0m2-6h0m0 17h0m4-14h0m3 2h0m5 5h0m11-6h0m0-5h0m21 7h0m2 11h0m-17 11h0m-1 15h0m-3-11h0m-5-4h0m-4 0h0m-1 7h0m-2 1h0m0-12h0m-1 13h0m-1-2h0m-3-2h0m-1 1h0m0-2h0m0-1h0m-1 5h0m-1-7h0m-1 14h0m-1-9h0m0 1h0m0-2h0m-2 13h0m-2-9h0m-1-7h0m0-3h0m-1 3h0m-7-5h0m0 0h0m-5 21h0m0-20h0m-3 18h0m0 0h0m-1-1h0m-2 3h0m-4-14h0m-1 9h0m0 0h0m-2-13h0m-3 12h0m0 6h0m-1-9h0m0-5h0m-1-3h0m-1 3h0m0 6h0m-1-10h0m-5-4h0m0 17h0m-1 0h0m-2 4h0m-2-1h0m-1-3h0m-1-9h0m0 11h0m0-7h0m-1-9h0m0 6h0m0-2h0m0 12h0m-1-7h0m-1-7h0m0 9h0m0-13h0m-1-1h0m0 13h0m-3-11h0m0 19h0m-1-9h0m-1 2h0m0-7h0m-1-6h0m0 7h0m-1-3h0m-3 7h0m-3 9h0m0-17h0m0 15h0m-3 2h0m-2-6h0m0-9h0m-1 2h0m0-5h0m0 7h0m-1 5h0m-2-4h0m-2-1h0m-1-5h0m-3 7h0m-1-8h0m-1 10h0m0 6h0m-2-12h0m0 13h0m-1 1h0m-1-15h0m-2 6h0m-1-2h0m-1-12h0m-3 15h0m-1 6h0m-1-4h0m-1-2h0m-1 3h0m0-15h0m-3 8h0m-3 8h0m-1-17h0m-1 2h0m-1 2h0m-1 3h0m-1 7h0m0-10h0m0 13h0m-3-3h0m-3-8h0m-2 2h0m-2 0h0m-1 5h0m0-13h0m-1 7h0m0 5h0m0-2h0m0 10h0m-1-17h0m-2-1h0m0 3h0m0 0h0m-2 14h0m0-11h0m-4-1h0m0-5h0m0 11h0m-5 7h0m-1 0h0m0-1h0m-1-19h0m-1 18h0m0-5h0m0-3h0m0 5h0m-1-10h0m-2 2h0m-8-3h0m-6 7h0m-1 2h0m-1 7h0m-2-12h0m-1 9h0m-2-12h0m-3 4h0m0 5h0m-2 2h0m-1-3h0m0-11h0m0-4h0m-3 3h0m0 9h0m-1 7h0m-2-10h0m-3-4h0m-1 17h0m-1-7h0m-1-10h0m-1 4h0m0-9h0m-2 9h0m-1-1h0m-2-3h0m0 2h0m-2-6h0m-1 7h0m-1 7h0m-3-8h0m0-5h0m-1 12h0m-2-12h0m-1 14h0m0-13h0m-1 0h0m0 0h0m-1 19h0m0-11h0m-2 10h0m0-2h0m-3-3h0m0-8h0m0 5h0m-3-4h0m-1 1h0m-4 5h0m-4 1h0m0-11h0m-2 4h0m-1 8h0m-2 3h0m-1-16h0m0 16h0m-1-16h0m-1 12h0m0-16h0m-3 22h0m-1-4h0m-3-9h0m-2 0h0m-2 6h0m-1-8h0m-2 13h0m-5-1h0m0-12h0m-2 14h0m-1 1h0m-5-20h0m0 4h0m-3 9h0m0-10h0m0 0h0m0-2h0m-3-3h0m-3 10h0m0-5h0m-4 13h0m-1-14h0m-2-2h0m-4 19h0m-1 2h0m-3-13h0m0 12h0m0-2h0m-1-10h0m-1-4h0m0 8h0m0-7h0m-1 9h0m-1 1h0m0-16h0m-1 12h0m0 1h0m0 5h0m-1-6h0m-2-5h0m0-7h0m-1 5h0m0 1h0m-2-1h0m-1 6h0m-1-9h0m0 16h0m-2-4h0m-1-3h0m0 4h0m0-15h0m-2-1h0m0 12h0m-2-5h0m-1 0h0m0 14h0m0-4h0m-1-15h0m-2 6h0m0-8h0m-1 5h0m-2 3h0m0-5h0m0 2h0m-1 6h0m-1 6h0m-3-4h0m0-8h0m-1 6h0m-1 0h0m-2-6h0m-1 2h0m-2-1h0m9 33h0m1 2h0m1-5h0m1-7h0m1 6h0m2 6h0m1 6h0m0-20h0m0 18h0m5-2h0m0-2h0m1 4h0m4-21h0m1 8h0m0 13h0m1-18h0m4 16h0m1-14h0m1 3h0m1-5h0m1-2h0m0 21h0m1-3h0m0-7h0m4-7h0m2-3h0m1 4h0m2 8h0m1 2h0m2-16h0m1 3h0m2 20h0m4-9h0m2-8h0m0 15h0m2-11h0m1 5h0m0-8h0m9 14h0m2-18h0m1 6h0m1 14h0m0-12h0m1 1h0m1-3h0m2-9h0m2 18h0m1 2h0m1-2h0m1-11h0m1 9h0m0-2h0m0-7h0m2 15h0m0-13h0m2 12h0m0-5h0m1-2h0m1-12h0m7 21h0m2-13h0m0-8h0m1 11h0m2 0h0m3 5h0m1-17h0m1 16h0m0 1h0m2 0h0m1 1h0m4-13h0m0 14h0m4-10h0m0 9h0m1-9h0m1-5h0m2 18h0m0-23h0m2 13h0m3 5h0m1-14h0m1 3h0m0 15h0m0-18h0m0-2h0m1 6h0m2 13h0m1-12h0m0-5h0m1 3h0m1-6h0m1 9h0m2 10h0m0-1h0m1 2h0m2-12h0m1-3h0m0 8h0m0 7h0m2-14h0m1 2h0m1-7h0m0 12h0m1-9h0m0-3h0m2 16h0m0-14h0m1-4h0m1 20h0m1-10h0m1-9h0m0 18h0m1-5h0m1 8h0m0-12h0m1 2h0m1 10h0m0-1h0m0-20h0m2 9h0m5 3h0m2 5h0m3 4h0m0-16h0m1 7h0m6-1h0m6-9h0m0-1h0m2 1h0m0-3h0m0 9h0m5-5h0m6 5h0m1-5h0m1 0h0m3 8h0m3-5h0m0-5h0m2 4h0m1-2h0m0 5h0m3-6h0m0 9h0m1 0h0m0-10h0m2 6h0m2 11h0m3-2h0m1-3h0m0-10h0m1-1h0m0 5h0m0 4h0m3-10h0m0 8h0m4-10h0m0 11h0m0 5h0m8-12h0m3-1h0m1 20h0m4-7h0m2-12h0m1-1h0m0 7h0m1 0h0m0-4h0m1 5h0m1-7h0m1 1h0m0 4h0m1-9h0m5 9h0m3 0h0m4-4h0m4 5h0m2-6h0m1-4h0m0 12h0m2 9h0m3-17h0m1 14h0m1-13h0m1-5h0m2 6h0m2-6h0m4 2h0m2 1h0m3 0h0m3-1h0m6 15h0m11-4h0m6-4h0m12-3h0m9 14h0m-20 7h0m-11 12h0m-4-14h0m0 15h0m-1 5h0m-1-8h0m-1 8h0m0-21h0m0 2h0m0 17h0m-2-6h0m-2-4h0m0 5h0m-1 6h0m-2 3h0m-1-17h0m0 3h0m-1 14h0m-1-19h0m-8 7h0m-1-1h0m-9 5h0m-18 5h0m-4-6h0m-14 0h0m-6 7h0m-12-3h0m0-2h0m-2-8h0m-2 12h0m-2 3h0m0-4h0m-3-15h0m-1 9h0m-3-8h0m-3 4h0m-2 8h0m0 0h0m-1 3h0m-1 0h0m0-6h0m-1-3h0m-11 9h0m-3-12h0m-1 15h0m-1-19h0m0 7h0m0 1h0m-1 0h0m0 9h0m-1-5h0m-1-14h0m0 2h0m0 9h0m-2-12h0m0 11h0m0 9h0m-1-9h0m0 3h0m-1 1h0m-2 3h0m-4-5h0m-1-12h0m-1-1h0m0 9h0m-1 11h0m-2-9h0m0-4h0m-3 7h0m0 5h0m-1-7h0m-2 7h0m0-18h0m-1 14h0m-1-14h0m-1 6h0m0 1h0m0 1h0m-1 8h0m-1-9h0m-3 1h0m-1 4h0m0 1h0m-1 3h0m-1-10h0m0-6h0m0 7h0m-4 1h0m-2-4h0m-4-5h0m-4 3h0m-1-2h0m-8 0h0m0 0h0m0 19h0m-2-17h0m-1 17h0m-8-21h0m0 2h0m0 4h0m-3-4h0m-1 8h0m-2-6h0m-8-4h0m-20 23h0m-10-4h0m0-6h0m-3-7h0m-1 12h0m-2-13h0m-3-2h0m-6 3h0m-3 7h0m-1-8h0m-3 2h0m-1-3h0m0-2h0m-3 8h0m-4-3h0m-1 2h0m-1-1h0m-4 2h0m-9-3h0m-6-4h0m46 28h0m5 2h0m21 10h0m3 1h0m3 1h0m0 1h0m1-6h0m3-7h0m3 12h0m39 1h0m0-13h0m1 7h0m5-3h0m0 7h0m1-7h0m0 7h0m2-2h0m0 2h0m2 0h0m7 1h0m14-7h0m2-13h0m0 10h0m1-4h0m0 6h0m1-7h0m4 15h0m0-18h0m2 10h0m1-10h0m2 14h0m15-13h0m1 0h0m3 0h0m1 1h0m2 1h0m0 11h0m2-10h0m4 9h0m0-9h0m1 6h0m7 4h0m7-11h0m16 15h0m5-19h0m2 0h0m7 11h0m12-3h0m2-10h0m6 17h0m6-16h0m0 0h0m8 2h0m6-2h0m-41 26h0m-12 5h0m-3 3h0m-5-3h0m-2-2h0m-3 13h0m-7 2h0m-4-4h0m-1-7h0m-1 13h0m-1-14h0m-5-3h0m-4 10h0m-3 4h0m-39-17h0m-10-2h0m-1 4h0m-8 7h0m0 0h0m-3-8h0m-3 0h0m-6-2h0m0-1h0m0 20h0m-2-18h0m-11 12h0m-1 3h0m-2-7h0m-1 7h0m-2-13h0m-2 2h0m-1-2h0m-2-4h0m-1 13h0m-1-2h0m-4 5h0m0-13h0m-2-4h0m-3 2h0m-1 15h0m-2-15h0m-7 7h0m-1 6h0m-1-11h0m-6-2h0m-3 6h0m-2-3h0m120 35h0m2-6h0m1-4h0m0 9h0m0-14h0m2 21h0m2-21h0m0 10h0m1 8h0m0-3h0m2-1h0m0-7h0m1-4h0m0 4h0m1-7h0m0 1h0m0 5h0m1-1h0m5-5h0m2 9h0" stroke="#d3d3d3" stroke-width="4"/></g><g id="bgd4"><path d="M-16 3597h0m-2 1h0m-2-16h0m-1 14h0m-67-8h0m47 30h0m0-2h0m1 6h0m6-7h0m0 4h0m0-3h0m1-1h0m2-9h0m0 16h0m1-19h0m0 10h0m5-12h0m1 0h0m1 4h0m5 1h0m1-4h0m1-1h0m18 6h0m67 36h0m-21 3h0m-6 1h0m0-2h0m-5-1h0m-1 0h0m-1 3h0m-1-3h0m-3-8h0m-2 1h0m0-5h0m-3 11h0m0-7h0m-1 0h0m-2 8h0m0-1h0m-1-4h0m0-2h0m-2 0h0m-3 0h0m-10 10h0m-8-1h0m-2 1h0m-2-1h0m-32-13h0m-16 9h0m-130 29h0m2-1h0m1-2h0m3 2h0m1-5h0m30-4h0m71 7h0m0-1h0m3 1h0m2-2h0m0 5h0m0-6h0m5 4h0m0-9h0m0 0h0m4 11h0m3-2h0m1-1h0m1-7h0m1 10h0m1-8h0m0 5h0m1 3h0m1-10h0m1 6h0m2 3h0m0-1h0m2-11h0m0 8h0m4 4h0m1-3h0m2-3h0m2 3h0m1 4h0m2-16h0m0 6h0m0 0h0m2-5h0m1 9h0m0-4h0m1 2h0m1-2h0m1 7h0m0-4h0m1 3h0m1-1h0m2 4h0m2 1h0m0-6h0m0 3h0m4-11h0m3 3h0m0 9h0m1-8h0m0-4h0m0 6h0m1-1h0m0 8h0m2-13h0m0 7h0m1-3h0m0-4h0m1-7h0m0 5h0m0 0h0m1 4h0m3-10h0m2 12h0m0-11h0m1 0h0m2 16h0m2-1h0m0-16h0m1 0h0m0 11h0m0-6h0m1 2h0m2 5h0m1 1h0m0-13h0m0 5h0m2 8h0m0-8h0m1-1h0m0 2h0m2-7h0m2 8h0m1-7h0m1 2h0m0 3h0m1 2h0m0-6h0m1 8h0m1-8h0m1 14h0m2-14h0m0 2h0m1-1h0m1 7h0m6-6h0m5 5h0m1-6h0m0 0h0m1 9h0m0-5h0m1-3h0m0 6h0m4 7h0m1-16h0m0 18h0m1-10h0m1-6h0m0 10h0m0 8h0m0-1h0m1-17h0m0 14h0m0 5h0m1-10h0m0 7h0m0-2h0m1 1h0m3 5h0m0-1h0m0-6h0m3 4h0m2-1h0m1 1h0m4 2h0m2 1h0m9 18h0m-6-9h0m0 0h0m-4-8h0m-3 1h0m0 4h0m-1 5h0m-1 1h0m-4-8h0m0-2h0m-1 13h0m-1-13h0m0 6h0m-1 5h0m0-7h0m-4-1h0m-2 3h0m-1 2h0m-1 4h0m-2-13h0m-1 6h0m-1 0h0m0 1h0m-32 14h0m0 0h0m-1-5h0m-4 5h0m-1-6h0m-3-4h0m-3-3h0m0-1h0m0 8h0m-1-13h0m-2 4h0m0 7h0m0 5h0m-2-8h0m0 7h0m-2-14h0m-2 3h0m0-6h0m-1 20h0m0-8h0m-1-12h0m-1 10h0m0 12h0m-1-21h0m-1 13h0m0-7h0m0-6h0m-1 15h0m-2-15h0m0 11h0m0-7h0m-1 12h0m0 3h0m-1-3h0m-1 6h0m-1-9h0m-1-14h0m-5 3h0m-2-1h0m-10-2h0m-1 9h0m0-3h0m-6 4h0m0 7h0m-1-13h0m0 5h0m-2 5h0m-2-10h0m0 0h0m0-1h0m-1 1h0m0 0h0m-1 7h0m0-1h0m-1-10h0m0 6h0m0-1h0m0 13h0m-1-6h0m-1-2h0m0 7h0m0-4h0m0 0h0m-1 4h0m-1-3h0m0-11h0m0 0h0m0 11h0m0 7h0m-1-3h0m-1-17h0m-1 3h0m0 1h0m0 1h0m-1 0h0m-1 0h0m0 3h0m-1 11h0m0-17h0m0 3h0m0 12h0m-1-18h0m0 6h0m-2-1h0m-1 9h0m-1 9h0m-3-3h0m0-9h0m-1 10h0m0-5h0m-2 4h0m0 3h0m-48-6h0m-2-1h0m-4-3h0m-2 9h0m-1-4h0m-2-2h0m-1 4h0m-2-2h0m-4 5h0m-1 0h0m-1-3h0m-2-7h0m-19-13h0m-1 5h0m-4 5h0m-1 4h0m-2-12h0m0-2h0m-2 3h0m0 11h0m0-13h0m-1 8h0m-1-7h0m-1 0h0m-5 24h0m1 2h0m1 0h0m3-4h0m1 7h0m1-7h0m0 5h0m0 0h0m3 2h0m0-4h0m0-1h0m1 4h0m26-5h0m4 0h0m4 0h0m1 0h0m58 19h0m2-12h0m1-6h0m0 19h0m0-5h0m1-7h0m0 5h0m0-9h0m1 0h0m0 16h0m1-12h0m0 2h0m0 9h0m1-3h0m0 1h0m2-11h0m0 16h0m1-12h0m1 11h0m1-8h0m2 6h0m0 2h0m0-4h0m0-6h0m1 2h0m0 5h0m0 4h0m1-9h0m0-10h0m0 11h0m1 0h0m0 2h0m0 2h0m1-8h0m0-3h0m1-4h0m0 5h0m0 0h0m0 10h0m1-14h0m1 16h0m1-14h0m0 11h0m0 2h0m2-3h0m1-2h0m0 3h0m0-10h0m0 0h0m0-4h0m1 10h0m0-9h0m1 14h0m0-11h0m0-1h0m1 15h0m0-21h0m1 16h0m1-5h0m0 7h0m0 3h0m2-18h0m19 7h0m0 12h0m2-20h0m1 20h0m1-17h0m1 14h0m0-13h0m0-2h0m0 15h0m1-13h0m1 11h0m3-1h0m0-3h0m1 8h0m1-3h0m1-14h0m0 12h0m1 1h0m2-11h0m1 11h0m2-11h0m1 11h0m0-16h0m0 8h0m0 8h0m1 2h0m1-19h0m0 16h0m1-16h0m0 22h0m0-9h0m1-10h0m3-3h0m1 4h0m2-1h0m1-2h0m3 0h0m0 1h0m2-2h0m15 6h0m15 4h0m36-7h0m16 14h0m3 3h0m0-4h0m0 0h0m2 1h0m1 3h0m0-9h0m1 10h0m0-2h0m1-8h0m1 7h0m1-3h0m0-3h0m2 9h0m0-6h0m4 0h0m0-5h0m0 12h0m0-12h0m1 4h0m0 1h0m1 5h0m1 1h0m2-1h0m0-6h0m2-5h0m4-1h0m1 2h0m0 1h0m2-3h0m1 3h0m7-3h0m11 6h0m16-1h0m-45 15h0m-2 1h0m-2 5h0m-4-6h0m-6 0h0m-1-4h0m-1 3h0m-1 1h0m-4-5h0m-11 22h0m-1-3h0m-4 3h0m0-4h0m-4 2h0m-2 3h0m-3-2h0m-24 0h0m-49-15h0m-2 3h0m0-4h0m-2 2h0m-1-7h0m-2 3h0m-1 10h0m-1-1h0m0 2h0m-1-4h0m0-3h0m-1-5h0m0 5h0m-1 8h0m-1 4h0m0-2h0m-1-9h0m0-1h0m0 7h0m-1-7h0m0-5h0m0 0h0m-1 3h0m-1-3h0m0 13h0m-1 4h0m0-3h0m-1-14h0m-4 10h0m-1 1h0m-1-3h0m-1 2h0m-2-4h0m0 7h0m0-5h0m-1 4h0m-15-13h0m0 2h0m-2 3h0m-1-5h0m-1-1h0m-1 6h0m-1 1h0m-1 2h0m-1-9h0m-1 0h0m-2 0h0m-1 4h0m-1-2h0m-2 10h0m0 5h0m0-7h0m-1-3h0m-1-7h0m0 0h0m-1 0h0m0 1h0m0 5h0m-1-6h0m0 10h0m0 9h0m-2-19h0m0 8h0m-1-4h0m0-4h0m0 18h0m-1-12h0m-1 16h0m0-2h0m-1 0h0m0-4h0m-1-7h0m-1 4h0m0-1h0m-8 2h0m-62 9h0m-19-8h0m0 6h0m-1-5h0m0 2h0m0 5h0m-1-1h0m-6-5h0m0 0h0m-4 2h0m-3 2h0m-1-1h0m0 27h0m1-16h0m0 0h0m1-2h0m0 4h0m0 2h0m0 3h0m2-6h0m1-5h0m0 6h0m0 10h0m1-10h0m1-2h0m0 13h0m0 0h0m1-12h0m1-7h0m0 15h0m1-5h0m0-11h0m0 18h0m1 0h0m1-8h0m1 13h0m2-13h0m0-1h0m0 2h0m0 5h0m1 0h0m0-4h0m1-12h0m0 16h0m2-10h0m0-3h0m5-1h0m1-2h0m1 0h0m1 2h0m1 7h0m6 0h0m0 0h0m2-3h0m36 11h0m35-14h0m3 1h0m1 7h0m1-10h0m1 8h0m0-5h0m1-2h0m1 1h0m2 2h0m40 15h0m0 2h0m1-6h0m1-1h0m1 3h0m1 5h0m1-1h0m1-14h0m0 11h0m0-7h0m1 5h0m1 4h0m4 2h0m1-9h0m0 0h0m1 3h0m0 5h0m1-4h0m0 5h0m1-5h0m1-4h0m0 1h0m1 8h0m2-21h0m0 20h0m0-14h0m1 8h0m1 5h0m1-7h0m2 8h0m0 1h0m2-7h0m0-6h0m1-3h0m0 10h0m1-2h0m0 3h0m1-3h0m1-2h0m1 7h0m2 3h0m0-21h0m0 1h0m0-2h0m1 9h0m1-2h0m0 0h0m1-2h0m0 8h0m1-11h0m0 18h0m1-2h0m1-13h0m0-3h0m0 17h0m1-7h0m1-10h0m1 17h0m1 1h0m3-12h0m0 3h0m1-4h0m1 5h0m1 9h0m0-7h0m1 2h0m2 6h0m2-5h0m0 2h0m2-7h0m0 4h0m1 1h0m1-3h0m1-2h0m0 3h0m2 6h0m1-4h0m25-12h0m1-3h0m1 6h0m2-6h0m1-1h0m2 12h0m0-11h0m0 10h0m1-7h0m2 7h0m0 0h0m1-4h0m0-9h0m1 5h0m0 0h0m1 14h0m1-12h0m0-5h0m1-2h0m1 3h0m2 13h0m1-13h0m0 12h0m2-13h0m61 13h0m31-14h0m-50 30h0m-8 10h0m-2 0h0m0 0h0m-6-3h0m0-5h0m-1 14h0m-1-15h0m0 3h0m0-1h0m-5 11h0m0-1h0m0-14h0m-1 2h0m-1 10h0m-1-13h0m0 17h0m0-6h0m-2-9h0m-1-5h0m-1 12h0m0-3h0m0 2h0m0 9h0m0-15h0m-2 12h0m0 3h0m-1 1h0m0-8h0m-1-2h0m-1-2h0m0 5h0m0 0h0m-1 6h0m0-5h0m0-4h0m0 3h0m-2-5h0m0 8h0m-1-5h0m-1 8h0m-1-7h0m0 0h0m-1 1h0m-1 0h0m-35 6h0m-2-16h0m-2 4h0m-1-2h0m0-1h0m0 12h0m-3-10h0m-1 14h0m-4-3h0m-5-15h0m-1 7h0m-1-3h0m0-5h0m-1 1h0m-2-5h0m0 15h0m-1-7h0m0 3h0m0 11h0m-2-12h0m-1 2h0m-1 10h0m-1-5h0m0 1h0m-1 5h0m0-3h0m-1-19h0m0 2h0m0 15h0m-1-2h0m0 3h0m0 3h0m-1-8h0m0 1h0m-1-10h0m-2 8h0m-1-5h0m0-3h0m0 9h0m0 1h0m-4-1h0m0-11h0m0 17h0m-2-13h0m0 12h0m-1-6h0m-1 0h0m-2 2h0m-1 3h0m0-17h0m-1 12h0m-1-8h0m0 17h0m0-1h0m-1-19h0m-2 4h0m0 5h0m0-2h0m-1-4h0m0-2h0m0 10h0m0-8h0m-2 7h0m0 5h0m0-2h0m-1-7h0m-1 7h0m0-1h0m-3-14h0m-3 8h0m-1 1h0m-4-9h0m-3 0h0m-6 21h0m0-4h0m-1-3h0m-2 0h0m-2 7h0m0-8h0m-1-4h0m-1 5h0m-1 9h0m0-8h0m0 2h0m-1-1h0m-1-1h0m-2-1h0m-1 3h0m-1 2h0m0 0h0m-5 1h0m-17 2h0m-1 1h0m-1-8h0m-1 5h0m-1 3h0m0-5h0m-1-8h0m-1 2h0m-1 8h0m0 3h0m-1 0h0m-1-5h0m0-5h0m0-4h0m-1 2h0m0 4h0m-1 4h0m-1-11h0m0-1h0m-1 15h0m0-1h0m-1-6h0m0 1h0m0-7h0m-4 14h0m0 0h0m-3-2h0m-1-8h0m-2 3h0m-1 3h0m-1-3h0m-3 6h0m-4 0h0m-21-1h0m0 2h0m-2-4h0m0-2h0m0 6h0m-1 0h0m-2-2h0m-1-9h0m-2 10h0m0-7h0m-1-3h0m-4 6h0m-1-5h0m-1-5h0m0 2h0m0-1h0m-5-1h0m0 11h0m0-7h0m0 4h0m-1-9h0m0 15h0m-1-3h0m-1-6h0m0-1h0m-3 2h0m0-1h0m-1 3h0m0 5h0m-1 2h0m0-9h0m-1-5h0m0 13h0m-1-10h0m0 8h0m0-2h0m0 5h0m-2-5h0m-1 3h0m-3-3h0m-3-5h0m-1 7h0m-10-19h0m0-1h0m0 18h0m-1-11h0m0 3h0m-2-3h0m0 9h0m0-7h0m-2 7h0m-1-9h0m0-7h0m-1 8h0m0 13h0m-1-8h0m-1-2h0m-1-1h0m0 1h0m-16 33h0m35-15h0m2 1h0m0 0h0m2 10h0m1-11h0m2 8h0m0-9h0m1 16h0m0-2h0m1-18h0m1 2h0m0 6h0m0-6h0m1 15h0m0 2h0m3 4h0m2-13h0m1-4h0m1 0h0m0 5h0m2 4h0m0-2h0m1-11h0m0 19h0m0-13h0m1-1h0m1 13h0m0-11h0m2-4h0m0 18h0m1-16h0m0-2h0m0-4h0m1 9h0m1 2h0m0-7h0m0-1h0m1 14h0m0-13h0m1 0h0m1 11h0m2-1h0m0-10h0m2 7h0m1-11h0m1 16h0m2-6h0m0 0h0m2-6h0m1-3h0m19 2h0m0-4h0m1 7h0m1-7h0m0 2h0m5 1h0m0 5h0m1-2h0m2-5h0m1 3h0m2-3h0m1 1h0m0 2h0m0 13h0m1 0h0m0-17h0m1 9h0m1 3h0m2-2h0m1-9h0m0 1h0m0 12h0m0 8h0m1-17h0m2 16h0m1-3h0m1-18h0m1 3h0m0 10h0m1 6h0m1-2h0m0-1h0m1-7h0m0 9h0m1-13h0m2 10h0m0-3h0m0-6h0m1 7h0m1 1h0m15-14h0m1 2h0m0 1h0m1 5h0m2 5h0m0-8h0m0-2h0m0 0h0m3 10h0m1 0h0m0-4h0m1-9h0m1 16h0m1-4h0m1-4h0m0 0h0m1 15h0m1-12h0m0-3h0m1-5h0m2 11h0m1 9h0m1-13h0m1 13h0m2-18h0m0 2h0m1-4h0m0 2h0m20-1h0m0 0h0m3-2h0m1 10h0m0-9h0m0 0h0m1 6h0m0-7h0m1 1h0m2 9h0m1-6h0m2-6h0m1 12h0m1-3h0m0 2h0m0-1h0m0 5h0m2-14h0m1 1h0m2 6h0m6 4h0m2 1h0m0 0h0m0-4h0m0 1h0m1-10h0m0 7h0m1-2h0m1 5h0m2-7h0m2 4h0m2 3h0m1-8h0m0 11h0m0-9h0m2 2h0m0-5h0m0 7h0m0-5h0m1 12h0m1-11h0m0 6h0m1 9h0m1-14h0m1-1h0m0 14h0m0-9h0m1 11h0m0-20h0m1 17h0m1-8h0m2 7h0m2-10h0m1 10h0m0-2h0m2 4h0m1-14h0m0 0h0m1-4h0m3 11h0m3-2h0m35-8h0m2 2h0m1 20h0m1-1h0m1 1h0m0 0h0m1-1h0m0-1h0m2-18h0m1 16h0m3-1h0m3 4h0m1 0h0m2-21h0m0 3h0m0 2h0m0 17h0m1-12h0m0-11h0m0 12h0m1-8h0m0 10h0m0-14h0m2 5h0m0 2h0m3 11h0m0-8h0m0-5h0m0-4h0m0-1h0m1 15h0m1-1h0m0 1h0m1-13h0m0 7h0m1-3h0m0 15h0m0-12h0m1 2h0m1-1h0m0 3h0m1 4h0m1-7h0m1 11h0m0 1h0m3-12h0m0 0h0m0-9h0m1 2h0m0 5h0m1 10h0m1-6h0m0 8h0m1-18h0m0 8h0m1-3h0m0 5h0m1 2h0m0-8h0m1 11h0m0-9h0m6 12h0m9-4h0m6 7h0m3-6h0m0 0h0m2 0h0m3 5h0m1-1h0m1-3h0m1 1h0m3-8h0m1 8h0m2-9h0m3 9h0m1-8h0m0 11h0m3-11h0m0 5h0m0 3h0m1-7h0m0-5h0m0-5h0m1 4h0m1 2h0m0 14h0m2-8h0m1 3h0m0-5h0m1 8h0m0-6h0m1-2h0m0 11h0m3-17h0m0 0h0m0 5h0m1 5h0m0 1h0m1 2h0m0-4h0m4 8h0m3-11h0m2 6h0m0 4h0m1-6h0m0 7h0m4 6h0m-1 0h0m0-5h0m0 7h0m0 6h0m-1-2h0m-1-10h0m-1 17h0m0-8h0m-1 10h0m-1-14h0m-1-2h0m-1-1h0m0 13h0m-1-8h0m-2-4h0m0 13h0m-1-12h0m0 6h0m-1 11h0m0-16h0m0-2h0m-1 8h0m-1 0h0m0-11h0m0 12h0m-1 9h0m-1 0h0m-2-20h0m0 17h0m0-8h0m-1 11h0m0-2h0m0-17h0m0-3h0m-1 6h0m0 17h0m0-22h0m0 22h0m-2-5h0m-1-6h0m-1-10h0m0 6h0m-3 11h0m0 0h0m-1-2h0m-1-6h0m0 2h0m0 10h0m-1-22h0m-1 12h0m-1-11h0m-2 15h0m0 1h0m-1-18h0m-2 23h0m0-15h0m0 5h0m-2 3h0m0-14h0m0 5h0m0-7h0m-3 19h0m0 0h0m-1 1h0m0 0h0m-1 0h0m-1-19h0m-1 14h0m0 5h0m0-17h0m0 2h0m-1 13h0m0-18h0m-1 1h0m0 5h0m-1 2h0m0 4h0m0-8h0m-1-4h0m-1 0h0m0 15h0m-13-15h0m-5 3h0m-2 3h0m0 1h0m-5-7h0m-5 0h0m-19 8h0m-3-2h0m-1 3h0m0 2h0m-1-5h0m-1 10h0m-1 0h0m-1-3h0m0 5h0m-1-1h0m0-13h0m-2 13h0m-1-6h0m-2-7h0m0 15h0m-1 1h0m-1-10h0m-1-6h0m-1 7h0m0 3h0m-2-1h0m-1 8h0m0 0h0m-1 2h0m0-10h0m0 7h0m-1 2h0m-2-11h0m-1-9h0m-1 17h0m0 4h0m-1-2h0m-1-3h0m0-7h0m-2 3h0m-1-6h0m0 3h0m-3 5h0m0-2h0m0 4h0m0-2h0m-1-10h0m0 3h0m-1-1h0m-1 10h0m-2-3h0m0-5h0m-7 11h0m-4 0h0m-55-3h0m-1 0h0m-5-3h0m-2 8h0m0-7h0m-6 6h0m-5-3h0m-1 0h0m-4 2h0m-1-1h0m-1-18h0m-1 6h0m0 1h0m0 10h0m-1-11h0m0 13h0m-2-14h0m-2 5h0m-2 1h0m0 9h0m0-2h0m-1-15h0m-2 17h0m0-3h0m-1-5h0m-3 7h0m-2-6h0m-1 0h0m-1 4h0m0-10h0m-1 7h0m0 5h0m-1-11h0m0-2h0m-1 2h0m0 0h0m-2 8h0m-2 2h0m0-16h0m-2 15h0m-1-15h0m-1 10h0m-3 0h0m-1 9h0m0-10h0m0 3h0m-1-10h0m0 14h0m0-12h0m-1 2h0m0 0h0m-7 7h0m-2 1h0m-1-7h0m0 1h0m-1 0h0m-2 5h0m-3-15h0m0 13h0m-2-6h0m0 11h0m-1-4h0m-2-11h0m0 17h0m0-17h0m-1 12h0m-2 2h0m0 4h0m0-10h0m0-6h0m-1 12h0m0-11h0m0 13h0m0-8h0m-1 1h0m0 7h0m0-12h0m0 0h0m-96 28h0m64 6h0m38-18h0m3 3h0m4 1h0m0-4h0m1 0h0m0 0h0m3 4h0m2-4h0m2 10h0m0-1h0m2-7h0m1 11h0m2-3h0m1 5h0m0-6h0m2 1h0m1-6h0m0 8h0m0-12h0m0 8h0m1 5h0m1-6h0m1 2h0m1 3h0m0-5h0m0 4h0m1-11h0m1-1h0m1 11h0m1-11h0m2 0h0m1 5h0m0 6h0m0-10h0m0 15h0m2 0h0m0-11h0m1 6h0m1 0h0m1-11h0m1 3h0m1 4h0m1 3h0m2 1h0m3-9h0m2 0h0m0 6h0m0-5h0m1 2h0m4 1h0m3-6h0m0 6h0m1 7h0m1 0h0m0-11h0m1 1h0m1-2h0m0 1h0m1 6h0m0 2h0m1 2h0m0-7h0m0-1h0m1 11h0m0-11h0m0 8h0m3-8h0m0 3h0m2-1h0m0 11h0m2-6h0m1 4h0m0-2h0m1-1h0m1-12h0m0 3h0m0 10h0m0 0h0m3-13h0m1 10h0m3-4h0m2 2h0m2-3h0m1 0h0m43 6h0m1-2h0m1 4h0m0-5h0m0 7h0m1-8h0m2-5h0m2 11h0m0 1h0m1-11h0m0 17h0m2-12h0m2-5h0m0 3h0m1 13h0m1-18h0m1 1h0m0 3h0m2 13h0m2-15h0m0-2h0m0 4h0m1-3h0m1 12h0m0-5h0m1 0h0m1-3h0m1-1h0m1-2h0m1 1h0m2 7h0m1-9h0m3 2h0m1-3h0m2 0h0m42 16h0m42-14h0m4-3h0m10 4h0m5 1h0m0-2h0m1 0h0m-153 33h0m-2-7h0m-1 12h0m0-9h0m0 5h0m-1-8h0m0 9h0m-1-9h0m-2 8h0m-2-5h0m0 3h0m-2 5h0m-2-8h0m0-2h0m0 9h0m-15-12h0m-63-1h0m-57 10h0m58 34h0m6 1h0m8-1h0m2-9h0m7-3h0m2-8h0m0 12h0m2-1h0m1-6h0m1 5h0m1-12h0m2 10h0m1-10h0m1 16h0m0-12h0m1-3h0m1 14h0m1-4h0m2-3h0m2 14h0m2-1h0m0 0h0m4-2h0m8-2h0m2 2h0m2 3h0m96-17h0m-9 22h0m-82-3h0m0 4h0m-2-2h0m0 5h0m-2 7h0m-2-4h0m-1 6h0m-1 2h0m-1-13h0m-1-3h0m0 1h0m0 2h0m-3-5h0m0 0h0m0 5h0m-1 4h0m-2-7h0m0 12h0m0-6h0m-1-1h0m0 9h0m-1-4h0m0-11h0m0 15h0m0-14h0m-2 14h0m-1-14h0m-23 2h0m-1 0h0m-4 2h0m-1 11h0m0-6h0m-1-10h0m-2 11h0m0-8h0m-1-2h0m-1 16h0m0-14h0m0 3h0m-1-4h0m0 5h0m-2 1h0m-1 11h0m0-16h0m0-2h0m-1 8h0m0 10h0m0-16h0m-1 5h0m-1 10h0m0-19h0m0 12h0m0-6h0m-3-5h0m-1 16h0m0 4h0m0-18h0m-1 10h0m0-7h0m0 2h0m0 7h0m0-10h0m-1 5h0m0 0h0m-1 8h0m-1-13h0m0 15h0m0 0h0m-2 1h0m0-17h0m-2 17h0m-1-5h0m0 1h0m0-1h0m-2 5h0m-1-2h0m0-6h0m-2-10h0m-1 20h0m-1-1h0m0-12h0m-1-5h0m-1 9h0m-2 3h0m0-3h0m-1 9h0m0-11h0m0-1h0m-1 10h0m-1-8h0m0 3h0m-4-3h0m-1 10h0m2 2h0m7 2h0m5-2h0m0-1h0m55 5h0m0 1h0m2 5h0m2-8h0m0 7h0m0 5h0m0-4h0m2-9h0m3 7h0m0-4h0m1 6h0m1-9h0m0 9h0m1 4h0m1-9h0m1 4h0m1-9h0m0 14h0m0-6h0m3 3h0m0 0h0m1-3h0m0 1h0m1 8h0m0-10h0m2 5h0m2 3h0m3-9h0m0-2h0" stroke="#d3d3d3" stroke-width="4"/></g></defs>
<g fill="#e3d5cf"><ellipse cx="249.6" cy="1911.3" rx="40" ry="25.2"/></g>
<path d="M208 1895h0m12-3h0m5 2h0m3-9h0m4 0h0m9 0h0m9-2h0m5 0h0m6 4h0m3 2h0m10 5h0m2-7h0m6 8h0m13 23h0m-2-20h0m-2 10h0m-3 4h0m0-15h0m-1 8h0m-72-5h0m-5 16h0m-2-9h0m-1-3h0m-2 7h0m0 9h0m7 3h0m3 3h0m2 7h0m4 2h0m9 0h0m4 2h0m7 3h0m8-5h0m6 0h0m7 1h0m6 1h0m3-4h0m7-3h0m3-5h0m6-4h0m5 3h0" stroke="#e3d5cf" stroke-width="6.8"/>
<g fill="#f4a582"><ellipse cx="160.1" cy="1918" rx="11.3" ry="8.7"/><ellipse cx="327.3" cy="2062.9" rx="7" ry="6.1"/><ellipse cx="241.9" cy="2131.3" rx="5.7" ry="15.7"/><ellipse cx="288.4" cy="2154.6" rx="20" ry="18.3"/></g>
<path d="M173 1916h0m-3 3h0m-1-6h0m-6-5h0m-7 1h0m-6 3h0m-3 3h0m2 7h0m3 2h0m4 2h0m6 0h0m8-2h0m164 135h0m-5-2h0m-5 1h0m-4 2h0m1 5h0m4 4h0m4 0h0m6-5h0m-99 70h0m0-3h0m1-11h0m1-4h0m3-1h0m3 2h0m2 0h0m1 10h0m38 8h0m14 0h0m14 20h0m-4-2h0m-1-5h0m-4-4h0m-3-7h0m-11 1h0m-9 1h0m-5-1h0m-6 16h0m0-6h0m-1-6h0m-2 17h0m-19-23h0m-2 7h0m-1 4h0m-3 1h0m-3-1h0m-1-5h0m30 21h0m4 4h0m5 2h0m6 2h0m3 4h0m5 1h0m6-1h0m4-5h0m6-5h0m1-2h0" stroke="#f4a582" stroke-width="6.8"/>
<g fill="#b3cdfb"><ellipse cx="190.1" cy="1947.5" rx="18.3" ry="14.8"/><ellipse cx="234.1" cy="1991.5" rx="15.7" ry="12.2"/></g>
<path d="M170 1942h0m5-6h0m4-4h0m8 0h0m4-2h0m7 3h0m7 8h0m1-5h0m4 9h0m-2 6h0m-2 3h0m-3 2h0m-5 4h0m-4 2h0m-6 0h0m-7 1h0m-5-3h0m-5-6h0m0-2h0m-2-7h0m48 45h0m2-6h0m1 2h0m7-8h0m5 0h0m4 0h0m6 3h0m6 5h0m1 4h0m4 3h0m-5 3h0m-3 3h0m-5 3h0m-9 2h0m-3 0h0m-6-4h0m-3-3h0" stroke="#b3cdfb" stroke-width="6.8"/>
<g fill="#b7cff9"><ellipse cx="309.2" cy="1937.2" rx="12.2" ry="10.4"/></g>
<path d="M296 1939h0m1-4h0m0-4h0m5-2h0m5-3h0m9 1h0m4 2h0m2 3h0m1 5h0m-2 7h0m-7 2h0m-6 2h0m-4 1h0m-3-5h0" stroke="#b7cff9" stroke-width="6.8"/>
<g fill="#b40426"><ellipse cx="151.3" cy="1985.3" rx="13" ry="12.2"/></g>
<path d="M136 1984h0m1 6h0m3-8h0m0-7h0m7-1h0m3-2h0m8 3h0m4 16h0m2-14h0m0 5h0m1 4h0m-6 11h0m-8 0h0m-3 2h0m-7-4h0" stroke="#b40426" stroke-width="6.8"/>
<g fill="#4358cb"><ellipse cx="283.3" cy="1976" rx="18.3" ry="9.6"/></g>
<path d="M290 1965h0m-8 1h0m-7 1h0m-9 11h0m0-2h0m1 6h0m2-11h0m2-1h0m1 15h0m4 0h0m7 2h0m6-3h0m3-16h0m5 15h0m0-12h0m5 9h0m0-6h0m2 4h0" stroke="#4358cb" stroke-width="6.8"/>
<g fill="#8caffe"><ellipse cx="340.2" cy="1991.5" rx="27" ry="34.8"/><ellipse cx="257.4" cy="2069.2" rx="35.7" ry="31.3"/><ellipse cx="375.4" cy="2084.7" rx="7" ry="6.1"/></g>
<path d="M362 1965h0m-3-2h0m-2-8h0m-7-4h0m-4 7h0m-4-2h0m-7 2h0m-1 2h0m-5 0h0m-5 3h0m-4 0h0m-11 28h0m0-10h0m4 7h0m0-15h0m5-1h0m49-2h0m0 3h0m0 10h0m2 6h0m1 5h0m-2 6h0m-2 3h0m-2 8h0m-4 2h0m-40-2h0m-2-5h0m-6-4h0m-2-2h0m-76 37h0m3 0h0m6-3h0m9 2h0m3-2h0m7 3h0m7 2h0m53-16h0m0-4h0m4 7h0m8 0h0m3 1h0m6-1h0m4-4h0m4 4h0m7-1h0m5-2h0m-67 37h0m-3-9h0m-2 8h0m-2-11h0m-5-2h0m-8-1h0m-6-2h0m-42 1h0m-3 1h0m-3 8h0m-1 5h0m-4 3h0m-2 8h0m3 9h0m3 5h0m2-12h0m62 16h0m2-3h0m8-7h0m1 7h0m1-17h0m2 6h0m69 14h0m0-3h0m6-5h0m5 0h0m1 2h0m3 4h0m-4 5h0m-4 2h0m-86 3h0m-8 5h0m-6 0h0m-7-2h0m-6 7h0m-4 0h0m-7 0h0m-3-7h0m-4-2h0m-5-2h0m-7 1h0m-5-3h0m-4-4h0" stroke="#8caffe" stroke-width="6.8"/>
<g fill="#5a78e4"><ellipse cx="291" cy="2012.2" rx="15.7" ry="20"/></g>
<path d="M292 1988h0m15 27h0m-2-11h0m0 6h0m-4-11h0m-2-5h0m-5-2h0m-8 2h0m-4-1h0m-5 22h0m0-18h0m-1 6h0m-4 9h0m3 13h0m4 1h0m5 2h0m1 6h0m9 1h0m4-3h0m2 0h0m2-7h0m2-5h0" stroke="#5a78e4" stroke-width="6.8"/>
<g fill="#f2a98a"><ellipse cx="115.1" cy="2030.3" rx="15.7" ry="13.9"/></g>
<path d="M115 2015h0m-18 13h0m4 4h0m0-9h0m1 14h0m2-16h0m4-4h0m11-1h0m6 4h0m3 17h0m1-16h0m1 6h0m2 6h0m-4 9h0m-6 2h0m-5 2h0m-7 0h0m-6-6h0" stroke="#f2a98a" stroke-width="6.8"/>
<g fill="#dddad8"><ellipse cx="168.4" cy="2026.7" rx="7" ry="5.2"/></g>
<path d="M161 2028h0m1-4h0m1 7h0m5-9h0m3 10h0m2-8h0m1 5h0" stroke="#dddad8" stroke-width="6.8"/>
<g fill="#4a63d3"><ellipse cx="221.2" cy="2025.2" rx="16.5" ry="15.7"/></g>
<path d="M231 2014h0m-2-4h0m-4-1h0m-7 1h0m-5-2h0m-3 6h0m-8 7h0m3 6h0m2 11h0m0-6h0m0-13h0m26 19h0m2-20h0m3 13h0m1-4h0m0-6h0m-9 19h0m-6 2h0m-4-2h0m-6 3h0" stroke="#4a63d3" stroke-width="6.8"/>
<g fill="#6282ea"><ellipse cx="342.8" cy="2039.1" rx="18.3" ry="15.7"/></g>
<path d="M322 2036h0m1-6h0m2 8h0m6-13h0m6-1h0m3 1h0m6-4h0m6 3h0m6 5h0m5 3h0m1 3h0m-2 7h0m-4 4h0m-2 5h0m-5 2h0m-2 1h0m-6 3h0m-6-2h0m-8-1h0m-3-5h0m0-4h0" stroke="#6282ea" stroke-width="6.8"/>
<g fill="#3f53c6"><ellipse cx="376.4" cy="2061.4" rx="18.3" ry="11.3"/></g>
<path d="M394 2055h0m0 4h0m-3-7h0m-8-2h0m-9-1h0m-6 0h0m-7 3h0m-3 3h0m-1 4h0m2 5h0m2 5h0m4 3h0m3 1h0m11 2h0m4-3h0m8-1h0m1-5h0m3-2h0" stroke="#3f53c6" stroke-width="6.8"/>
<g fill="#3b4cc0"><ellipse cx="301.4" cy="2058.8" rx="8.7" ry="9.6"/></g>
<path d="M311 2062h0m-3-8h0m-2-3h0m-6-3h0m-2 1h0m-5 12h0m-1-6h0m2 10h0m4 4h0m5 0h0m6-3h0" stroke="#3b4cc0" stroke-width="6.8"/>
<g fill="#5572df"><ellipse cx="305" cy="2085.7" rx="9.6" ry="11.3"/><ellipse cx="125.4" cy="2112.1" rx="7" ry="5.2"/></g>
<path d="M294 2081h0m2 3h0m4-9h0m3-1h0m6-1h0m4 6h0m2 4h0m-1 5h0m0 6h0m-3 4h0m-5 0h0m-9-3h0m-1-2h0m-164 17h0m-5-4h0m-8 4h0m-2 1h0m6 7h0m5-1h0m5-4h0" stroke="#5572df" stroke-width="6.8"/>
<g fill="#afcafc"><ellipse cx="438.6" cy="2066.6" rx="37.4" ry="27"/></g>
<path d="M422 2038h0m8 1h0m4-4h0m7 3h0m41 21h0m-2-7h0m-10 0h0m-2-6h0m-2-5h0m-10 4h0m-6-4h0m-3-1h0m-30 1h0m-4 3h0m-3 4h0m-4 11h0m-1 2h0m-1-10h0m-6 12h0m0 8h0m1 12h0m4-5h0m2-4h0m1 12h0m55 0h0m7-4h0m4-4h0m5 4h0m4-13h0m1-4h0m1 7h0m-23 21h0m-9-4h0m-1 9h0m-9 0h0m-7 1h0m-4-5h0m-8 0h0m-5-4h0m-6-2h0" stroke="#afcafc" stroke-width="6.8"/>
<g fill="#c9d7f0"><ellipse cx="159" cy="2079.5" rx="54.3" ry="17.4" transform="rotate(-15 159 2079.5)"/><ellipse cx="239.3" cy="2164.9" rx="13.9" ry="6.1"/></g>
<path d="M212 2062h0m0 1h0m-1-4h0m-4-4h0m-5 5h0m-2-4h0m-7-1h0m-5 0h0m-11 3h0m-4-2h0m-9 6h0m-8 1h0m-5-1h0m-45 21h0m5 1h0m2-6h0m2-2h0m11-6h0m1 5h0m14-6h0m1-3h0m45 21h0m5-1h0m11-5h0m1 2h0m5-11h0m1 5h0m2-11h0m5 7h0m4-6h0m-40 26h0m-3 2h0m-10-1h0m-5 2h0m-12 3h0m-5-1h0m-5 3h0m-13 5h0m0-4h0m-5 1h0m-3-5h0m-4 0h0m-6-3h0m-1 2h0m-6 4h0m-3-13h0m-4 7h0m0-3h0m146 67h0m-7 0h0m-11 6h0m2 2h0m0-4h0m4 8h0m0-11h0m9 12h0m8-2h0m2-1h0m1-7h0m3 0h0m1 4h0" stroke="#c9d7f0" stroke-width="6.8"/>
<g fill="#e0d3cc"><ellipse cx="197.9" cy="2100.2" rx="10.4" ry="11.3"/></g>
<path d="M197 2087h0m3 0h0m10 13h0m-2-8h0m0 6h0m-1 9h0m-6 3h0m-7 1h0m-4-20h0m-2 2h0m-1 13h0m0-5h0m10 12h0" stroke="#e0d3cc" stroke-width="6.8"/>
<g fill="#d8d8d8"><ellipse cx="226.3" cy="2109" rx="8.7" ry="7"/></g>
<path d="M237 2109h0m-1-2h0m-6-4h0m-5-1h0m-6 2h0m-2 5h0m5 5h0m4 2h0m4 1h0" stroke="#d8d8d8" stroke-width="6.8"/>
<g fill="#a5c3fe"><ellipse cx="260" cy="2113.1" rx="7.8" ry="6.1"/><ellipse cx="353.1" cy="2099.2" rx="9.6" ry="10.4"/></g>
<path d="M363 2095h0m-2 8h0m-1 5h0m0-17h0m-3 19h0m0-21h0m-5-1h0m-2 21h0m-4 0h0m0-19h0m-3 8h0m-1 5h0m-76 6h0m-4-1h0m-7 0h0m-2 2h0m1 8h0m3 2h0m6 0h0m4-4h0" stroke="#a5c3fe" stroke-width="6.8"/>
<g fill="#e8765c"><ellipse cx="309.2" cy="2164.9" rx="7.8" ry="7"/><ellipse cx="257.4" cy="2227" rx="20" ry="12.2"/></g>
<path d="M307 2157h0m-6 8h0m1-4h0m1 7h0m6 4h0m4-12h0m1 11h0m3-8h0m1 2h0m-83 66h0m2-9h0m2 3h0m4-5h0m7-5h0m1-1h0m7 0h0m12 1h0m2 4h0m4 8h0m2-8h0m0 5h0m-3 8h0m-2 6h0m-6 2h0m-4 1h0m-6-3h0m-10 2h0m-7-4h0m-1-1h0" stroke="#e8765c" stroke-width="6.8"/>
<g fill="#d44e41"><ellipse cx="158" cy="2194.4" rx="7" ry="8.7"/></g>
<path d="M165 2192h0m-1 6h0m-1 3h0m-3-17h0m-2 19h0m-3-17h0m-2 14h0m-2-6h0m0-5h0" stroke="#d44e41" stroke-width="6.8"/>
<use href="#bgd0" x="778.2" y="0"/>
<g fill="#fdfdd0"><ellipse cx="775" cy="1893.2" rx="5" ry="5"/><ellipse cx="847.5" cy="1991.5" rx="5" ry="5"/></g>
<path d="M770 1891h0m5 0h0m0-2h0m1 0h0m1 8h0m-64 43h0m52 0h0m72 26h0m-41-13h0m48 35h0m4 3h0m-1 2h0m-1-1h0m-3 3h0m-164 12h0m-70 16h0m171 5h0m-150 31h0m-5-16h0m274 37h0m-290 25h0" stroke="#fdfdd0" stroke-width="14"/>
<g fill="#edf8b1"><ellipse cx="687" cy="1944.9" rx="5.8" ry="5.8"/><ellipse cx="728.4" cy="1981.2" rx="6.6" ry="6.6"/><ellipse cx="842.3" cy="2095" rx="5" ry="5"/></g>
<path d="M684 1943h0m0-2h0m3-1h0m1-1h0m56 21h0m-41 6h0m-15-19h0m-4-2h0m38 35h0m4-3h0m0-3h0m1 2h0m2 8h0m1-4h0m3 1h0m130 26h0m5 54h0m-22 31h0m-3 7h0m-1-9h0m0 8h0m-1-8h0m-190 21h0m-11-21h0" stroke="#edf8b1" stroke-width="14"/>
<g fill="#c7e9b4"><ellipse cx="697.3" cy="2069.2" rx="31.1" ry="25.2"/><ellipse cx="661.1" cy="2058.8" rx="7.4" ry="7.4"/><ellipse cx="738.8" cy="2043.3" rx="7.4" ry="7.4"/><ellipse cx="764.6" cy="2069.2" rx="6.6" ry="6.6"/><ellipse cx="707.7" cy="2032.9" rx="6.6" ry="6.6"/><ellipse cx="759.5" cy="2089.9" rx="6.6" ry="6.6"/><ellipse cx="790.5" cy="2089.9" rx="5" ry="5"/><ellipse cx="800.9" cy="2157.1" rx="5" ry="5"/><ellipse cx="743.9" cy="2229.6" rx="11.3" ry="5.8"/></g>
<path d="M690 2039h0m13-12h0m1 9h0m1 3h0m0-6h0m3 4h0m1-6h0m0 8h0m32-3h0m23 26h0m-17-20h0m-1 3h0m0 2h0m-1-1h0m0 0h0m-4-6h0m-4 11h0m-5-2h0m-9 6h0m-1 8h0m-5-14h0m-3-8h0m0 7h0m-1 3h0m0-1h0m-6-1h0m-2 5h0m-5-11h0m0 6h0m-1 2h0m-1-7h0m0-1h0m-1 8h0m-1 8h0m-1 0h0m-2-8h0m0 8h0m-3-16h0m-9 4h0m-1-6h0m-6 16h0m-2 0h0m-3 0h0m-1 5h0m-5-9h0m0 2h0m-1-4h0m-4 5h0m-4-1h0m0 4h0m-1-1h0m6 15h0m0 3h0m0-7h0m4-4h0m1 2h0m1 13h0m1-4h0m2 11h0m1-20h0m9-2h0m3 9h0m1-5h0m3 7h0m1-3h0m0 12h0m1-1h0m1-7h0m3 7h0m1-13h0m1 13h0m0-6h0m1-3h0m1 4h0m3-15h0m2 15h0m1 5h0m1 0h0m0 1h0m3-21h0m3 19h0m3-18h0m0-1h0m1 11h0m1 5h0m1 3h0m1 1h0m2 2h0m0-8h0m0 0h0m1 0h0m1-4h0m6 6h0m0-7h0m1 6h0m1 2h0m9-17h0m22 23h0m2-17h0m1 2h0m1-4h0m4-1h0m2 5h0m2-1h0m17 15h0m4 9h0m-1-4h0m0 4h0m-3-7h0m-22 0h0m-3 3h0m-2 2h0m-1 0h0m-2 1h0m-4-2h0m-27-1h0m-1 0h0m-2 0h0m-8-3h0m0 6h0m-3 2h0m-2-7h0m-4 2h0m-5 9h0m-2-9h0m-1-1h0m-9 2h0m-4-4h0m-2 9h0m0 2h0m-5-7h0m-1 5h0m-1-1h0m-6-8h0m-3 0h0m137 71h0m-2-5h0m0 2h0m-2 1h0m-4 2h0m-62 68h0m12-1h0m0-3h0m1 4h0m0 0h0m2 2h0m1-5h0m2 5h0m-7 5h0m-7-2h0" stroke="#c7e9b4" stroke-width="14"/>
<g fill="#7fcdbb"><ellipse cx="697.3" cy="2069.2" rx="25.2" ry="19.4"/><ellipse cx="661.1" cy="2089.9" rx="5.8" ry="5.8"/></g>
<path d="M726 2060h0m-2 3h0m-5-2h0m-4-6h0m-1-1h0m-2-4h0m-9 13h0m-2-7h0m-3 2h0m0-11h0m0 5h0m-1 1h0m-2 10h0m-4-1h0m-7-11h0m-4-1h0m-1 9h0m0 2h0m0-3h0m-7 2h0m-12 27h0m0-2h0m4 0h0m5-7h0m0-10h0m2 3h0m5 7h0m0-4h0m3 12h0m3-19h0m0 11h0m4-9h0m0-1h0m5 0h0m1 4h0m1-8h0m1 3h0m0 6h0m1 14h0m2-13h0m0 12h0m0-6h0m0 6h0m2-8h0m0-10h0m2 11h0m1-6h0m7 2h0m0 9h0m2-17h0m0 19h0m4-6h0m3-10h0m0-4h0m1 10h0m3 7h0m6-9h0m70 13h0m24-7h0m-107 8h0m-17 4h0m-10-3h0m-4-1h0m-2 2h0m-18 4h0m-2 1h0m0-4h0" stroke="#7fcdbb" stroke-width="14"/>
<g fill="#41b6c4"><ellipse cx="847.5" cy="2053.6" rx="5.8" ry="5.8"/><ellipse cx="712.9" cy="2082.1" rx="8.2" ry="8.2"/><ellipse cx="671.5" cy="2069.2" rx="8.9" ry="8.9"/><ellipse cx="702.5" cy="2048.4" rx="5.8" ry="5.8"/><ellipse cx="728.4" cy="2089.9" rx="5" ry="5"/></g>
<path d="M850 2052h0m0-3h0m-2 2h0m0 4h0m-3 3h0m-3 0h0m-135-12h0m-1 7h0m0-2h0m-1-8h0m-3 11h0m-1-7h0m-26 12h0m-1 4h0m-5-1h0m-6 8h0m1 2h0m1 3h0m3 4h0m3-13h0m6 7h0m2 1h0m0-2h0m1 1h0m26 5h0m1 3h0m7-4h0m1 1h0m1-1h0m3-1h0m0 6h0m3 0h0m6 4h0m0 1h0m-3 4h0m0 2h0m-1 0h0m-12-3h0m-2-2h0m42 82h0m13 39h0" stroke="#41b6c4" stroke-width="14"/>
<g fill="#1d91c0"><ellipse cx="764.6" cy="2162.3" rx="15.1" ry="15.1"/><ellipse cx="816.4" cy="2051" rx="12.8" ry="12.8"/><ellipse cx="687" cy="2095" rx="9.7" ry="9.7"/><ellipse cx="718.1" cy="2058.8" rx="8.9" ry="8.9"/></g>
<path d="M815 2038h0m1-2h0m3 0h0m1 1h0m6 2h0m3 18h0m-1-9h0m-3 6h0m-1-14h0m0 5h0m-3 15h0m-1-15h0m-1 10h0m-1-7h0m-1-4h0m-6 10h0m-2-13h0m0 16h0m-6-1h0m-2-6h0m0 3h0m-80 5h0m-1 3h0m-1-6h0m0-1h0m-7-2h0m0 11h0m-1-10h0m0-1h0m-1 3h0m-30 31h0m5-1h0m0 1h0m5 0h0m5 1h0m17-22h0m5 0h0m8 1h0m86-2h0m-119 32h0m-1 9h0m0-5h0m-2-4h0m-2-3h0m0 13h0m-3-8h0m-2 1h0m-1 5h0m99 47h0m0 7h0m-1-5h0m-3 0h0m-4-2h0m-4-3h0m-2 6h0m0 1h0m-2-2h0m-2-4h0m0-1h0m-4 10h0m-6-9h0m-4 5h0m5 19h0m2 5h0m8-15h0m0 15h0m1-5h0m1-9h0m1 14h0m3-18h0m1 19h0m0-13h0m1 8h0m2 0h0m0-6h0m0 9h0m2-15h0m0 0h0m13 8h0" stroke="#1d91c0" stroke-width="14"/>
<g fill="#225ea8"><ellipse cx="764.6" cy="2166.5" rx="9.7" ry="9.7"/><ellipse cx="829.3" cy="2054.7" rx="9.7" ry="9.7"/></g>
<path d="M835 2051h0m0-5h0m-2 6h0m-1 0h0m0-4h0m-3 12h0m0-3h0m-1-5h0m0-8h0m-1 4h0m0 0h0m1 16h0m2 0h0m1 0h0m-60 95h0m-9 0h0m-4-2h0m-3 11h0m3 0h0m1 1h0m0 5h0m2 1h0m1-13h0m2 8h0m1-7h0m1 15h0m1-11h0m7 2h0" stroke="#225ea8" stroke-width="14"/>
<g fill="#081d58"><ellipse cx="649.7" cy="2191.8" rx="8.2" ry="8.2"/></g>
<path d="M652 2183h0m6 13h0m-3 3h0m0-9h0m-1 6h0m-1 0h0m-1-6h0m-4 3h0m-1 2h0m-3-3h0" stroke="#081d58" stroke-width="14"/>
<use href="#bgd0" x="1270.6" y="0"/>
<path d="M1298 1940h0m8 1h0m-2 48h0m18-8h0m31-8h0m-236 39h0m-31 11h0m230 7h0m-28 29h0m-13 23h0m18 3h0m-83 20h0m-31 8h0m49 34h0m24 20h0m13-5h0m13 11h0m-31 49h0" stroke="#fdfdd0" stroke-width="14"/>
<g fill="#edf8b1"><ellipse cx="1091.3" cy="2095" rx="5.8" ry="5.8"/><ellipse cx="1241.4" cy="2069.2" rx="13.6" ry="13.6"/><ellipse cx="1256.9" cy="2043.3" rx="7.8" ry="7.8"/></g>
<path d="M1272 2002h0m-25 0h0m-83 31h0m89 5h0m1 0h0m1 0h0m6 0h0m3 2h0m-4 1h0m-1 10h0m-5 11h0m0-21h0m-2 9h0m-2 8h0m-2-16h0m-7 19h0m-3-8h0m-3 3h0m-4 2h0m0 4h0m-4 9h0m0 3h0m2 1h0m4-7h0m3 9h0m1-7h0m0 2h0m4 10h0m0-3h0m2-5h0m1-4h0m1 5h0m0 8h0m4-1h0m2-3h0m1 0h0m1-7h0m-27 20h0m-131 4h0m-3-5h0m-2 2h0m-2-3h0m-1 6h0m-1-4h0m26 24h0" stroke="#edf8b1" stroke-width="14"/>
<g fill="#c7e9b4"><ellipse cx="1127.5" cy="2079.5" rx="7.4" ry="7.4"/><ellipse cx="1106.8" cy="2084.7" rx="6.6" ry="6.6"/></g>
<path d="M1166 1922h0m101 38h0m-77 16h0m10 21h0m31 20h0m-129 68h0m2-4h0m1 4h0m0 2h0m2-1h0m0 1h0m2-10h0m11 6h0m2-3h0m5 3h0m1-1h0m3 2h0m3-5h0m1-1h0m0 0h0m-10 10h0" stroke="#c7e9b4" stroke-width="14"/>
<g fill="#7fcdbb"><ellipse cx="1153.4" cy="2069.2" rx="5.8" ry="5.8"/><ellipse cx="1220.7" cy="2043.3" rx="5.8" ry="5.8"/></g>
<path d="M1203 1898h0m-37 51h0m-1-1h0m0 0h0m-2 3h0m56 87h0m7 2h0m-4 1h0m-3 4h0m-2-5h0m-2 1h0m-61 30h0m0-2h0m3 6h0m1-10h0m0 6h0m1 0h0" stroke="#7fcdbb" stroke-width="14"/>
<g fill="#41b6c4"><ellipse cx="1174.1" cy="1952.7" rx="8.2" ry="8.2"/><ellipse cx="1220.7" cy="1955.3" rx="6.6" ry="6.6"/><ellipse cx="1205.2" cy="2027.7" rx="12" ry="12"/><ellipse cx="1194.8" cy="2053.6" rx="6.6" ry="6.6"/><ellipse cx="1174.1" cy="2064" rx="6.6" ry="6.6"/></g>
<path d="M1227 1955h0m-4-6h0m0 12h0m0 0h0m-1-3h0m-2-9h0m-1 10h0m-35-6h0m-7 2h0m-2-8h0m0-3h0m-3 0h0m-1 13h0m-1-3h0m0 1h0m-1 1h0m-4-3h0m30 80h0m2 1h0m2-16h0m0 0h0m3-2h0m3 22h0m0-3h0m1-4h0m1-4h0m2 4h0m1-1h0m0 9h0m1-21h0m1 15h0m1-4h0m2 5h0m0-12h0m1-4h0m1 2h0m1 2h0m-16 33h0m-4-4h0m-2-2h0m0-2h0m-2 3h0m-3 4h0m-2-1h0m-11 6h0m0 4h0m-2-3h0m-2 1h0m-2 0h0m-5 5h0m5 2h0" stroke="#41b6c4" stroke-width="14"/>
<g fill="#1d91c0"><ellipse cx="1205.2" cy="1911.3" rx="8.2" ry="8.2"/><ellipse cx="1194.8" cy="1944.9" rx="8.2" ry="8.2"/><ellipse cx="1241.4" cy="1944.9" rx="6.6" ry="6.6"/><ellipse cx="1267.3" cy="1937.2" rx="5" ry="5"/></g>
<path d="M1213 1914h0m-1 1h0m0-3h0m-3-5h0m-2 0h0m-1 7h0m-1-5h0m-1 3h0m-2 5h0m-11 20h0m1 2h0m10 3h0m1 1h0m4-23h0m34 18h0m0 1h0m4 1h0m19-6h0m3-1h0m1 4h0m1 1h0m2 0h0m-27 6h0m-2 4h0m-4 3h0m-3-4h0m-32-3h0m-4 7h0m-2-6h0m-1 3h0m-8-3h0m-2 3h0" stroke="#1d91c0" stroke-width="14"/>
<g fill="#225ea8"><ellipse cx="1272.4" cy="1913.9" rx="9.7" ry="9.7"/><ellipse cx="1277.6" cy="1898.3" rx="5.8" ry="5.8"/></g>
<path d="M1284 1899h0m-4 17h0m0-14h0m-1-5h0m-1 1h0m-3 16h0m0-9h0m0-7h0m0-1h0m-3 16h0m-1-3h0m0 8h0m-4 0h0m-1-8h0m-4 4h0m5 7h0m3 1h0m4 1h0m1-2h0m1-1h0" stroke="#225ea8" stroke-width="14"/>
<g fill="#253494"><ellipse cx="1256.9" cy="1919" rx="18.2" ry="18.2"/><ellipse cx="1231" cy="1921.6" rx="9.7" ry="9.7"/></g>
<path d="M1277 1910h0m-4 3h0m-2-9h0m-2 12h0m-4-7h0m-1 0h0m-1 1h0m-1 4h0m-3-1h0m-3-1h0m-2 5h0m0 0h0m0-15h0m-1 2h0m-1 4h0m-2-10h0m-1 12h0m-1 4h0m-2-7h0m-2-3h0m0 15h0m-1-18h0m-3 16h0m-3-2h0m-3 1h0m-4-5h0m-1-1h0m-6 8h0m-3 2h0m0 7h0m1-1h0m1-4h0m9 8h0m4-3h0m1-3h0m2 5h0m0-2h0m1 3h0m1-7h0m0 3h0m1-4h0m1 2h0m2-4h0m1 15h0m1-7h0m0 3h0m2-4h0m4-5h0m5 4h0m1 14h0m7-6h0m0 5h0m5-14h0m0 12h0m3-6h0" stroke="#253494" stroke-width="14"/>
<g fill="#081d58"><ellipse cx="1241.4" cy="1903.5" rx="18.2" ry="18.2"/></g>
<path d="M1228 1886h0m6-4h0m4 0h0m0 0h0m1 12h0m1-6h0m6-1h0m0-2h0m0 9h0m5 0h0m4-9h0m0 6h0m6 19h0m-1-11h0m-2 6h0m0 14h0m-5-1h0m0-3h0m-1-5h0m0 8h0m-2-3h0m-1 3h0m-2-5h0m-3 4h0m-2-17h0m-1 9h0m0 10h0m-3-12h0m0-4h0m0-3h0m-2 13h0m-7 4h0m-3-15h0m-2 2h0m-4 3h0m11 15h0m5 2h0m1-2h0m1 3h0m7-1h0m4 0h0" stroke="#081d58" stroke-width="14"/>
<use href="#bgd0" x="1763" y="0"/>
<path d="M1767 1896h0m-5 18h0m-70 98h0m-114 11h0m23-3h0m96 3h0m26-6h0m10 21h0m16-15h0m54 15h0m-31 16h0m-52-13h0m-2 15h0m134 11h0m-54 43h0m-23 42h0m15 15h0m-47 63h0m8-13h0" stroke="#fdfdd0" stroke-width="14"/>
<path d="M1624 1981h0m-10 13h0m199 34h0m-209 59h0m5-18h0m10 36h0" stroke="#edf8b1" stroke-width="14"/>
<path d="M1736 1919h0m-16-15h0m39 103h0m-85 8h0m98 8h0m23-6h0m11 0h0m-125 39h0m8 18h0m-49 42h0" stroke="#c7e9b4" stroke-width="14"/>
<path d="M1718 1955h0m10 13h0m-104 99h0m11-3h0m36 0h0m-39 26h0" stroke="#7fcdbb" stroke-width="14"/>
<path d="M1715 1916h0m52 16h0m-31 18h0m-34 3h0m140 23h0m-64 26h0m-1 3h0m-3-4h0m0 0h0m-129 97h0" stroke="#41b6c4" stroke-width="14"/>
<g fill="#1d91c0"><ellipse cx="1696.9" cy="1924.2" rx="7.4" ry="7.4"/><ellipse cx="1671" cy="2108" rx="7.4" ry="7.4"/></g>
<path d="M1702 1918h0m-21-12h0m10 19h0m1-5h0m8 2h0m3-1h0m0 7h0m1-7h0m1 4h0m0-2h0m75 17h0m-26 10h0m13 34h0m2-13h0m55-3h0m10 13h0m-197 48h0m1-7h0m1 6h0m0-1h0m16 55h0m22 23h0m-3 0h0m-2 4h0m-2 2h0m-1-5h0m-4-4h0m-1 4h0m3 8h0m3-1h0" stroke="#1d91c0" stroke-width="14"/>
<g fill="#253494"><ellipse cx="1787.5" cy="1965.6" rx="9.7" ry="9.7"/></g>
<path d="M1679 1935h0m119 26h0m-3 1h0m-1 4h0m-1-5h0m-5-6h0m0 3h0m0 7h0m-3-10h0m-1 10h0m-5-2h0m-2 5h0m2 9h0m1 0h0m2-5h0m0 8h0m3-12h0m1 12h0m8-5h0m19 7h0" stroke="#253494" stroke-width="14"/>
<g fill="#081d58"><ellipse cx="1632.2" cy="1919" rx="8.2" ry="8.2"/><ellipse cx="1658.1" cy="1934.6" rx="11.3" ry="11.3"/></g>
<path d="M1637 1918h0m-5-2h0m-1-6h0m0 1h0m-1-1h0m-1 9h0m-1-3h0m-1 4h0m0 7h0m13-4h0m6 10h0m0 0h0m2 8h0m0-6h0m2 7h0m1-9h0m1-8h0m1 15h0m0-16h0m0 0h0m1 14h0m0-18h0m1 8h0m0 9h0m1-14h0m1 19h0m1-7h0m4-8h0m2 6h0m1-9h0m3 2h0m0 0h0" stroke="#081d58" stroke-width="14"/>
<use href="#bgd0" x="2255.4" y="0"/>
<path d="M2150 1914h0m-26 2h0m101 18h0m26-12h0m-21 28h0m-45 17h0m151 5h0m-100 26h0m-32-1h0m19 31h0m33 38h0m-164 27h0m-16 7h0" stroke="#fdfdd0" stroke-width="14"/>
<g fill="#edf8b1"><ellipse cx="2209.3" cy="2164.9" rx="9.7" ry="9.7"/></g>
<path d="M2278 1981h0m24-10h0m8 11h0m11-1h0m-248 48h0m7 2h0m1-4h0m1 3h0m1-1h0m4 1h0m112-2h0m66-4h0m27 5h0m2 17h0m-97 5h0m-94 26h0m122 80h0m-13-3h0m-10 16h0m0 2h0m1-10h0m1 4h0m4-4h0m0 5h0m1-6h0m2 15h0m2-7h0m1-2h0m1 6h0m3 0h0m0-2h0" stroke="#edf8b1" stroke-width="14"/>
<g fill="#c7e9b4"><ellipse cx="2263.6" cy="2136.4" rx="7.8" ry="7.8"/></g>
<path d="M2297 2012h0m11 11h0m10 1h0m-137 30h0m76 80h0m1-5h0m5 5h0m0-2h0m0-4h0m3 2h0m2 6h0m-1 8h0m-2 1h0m-2-3h0" stroke="#c7e9b4" stroke-width="14"/>
<path d="M2168 2095h0" stroke="#7fcdbb" stroke-width="14"/>
<path d="M2151 2082h0" stroke="#41b6c4" stroke-width="16"/>
<path d="M2095 2018h0m63 37h0m12 9h0" stroke="#41b6c4" stroke-width="14"/>
<path d="M2138 2027h0" stroke="#1d91c0" stroke-width="14"/>
<path d="M2129 1976h0m4 11h0" stroke="#253494" stroke-width="14"/>
<g fill="#081d58"><ellipse cx="2116.1" cy="1987.4" rx="8.9" ry="8.9"/></g>
<path d="M2110 1991h0m2-12h0m1 8h0m3-6h0m1 1h0m4-2h0m2 4h0m0 11h0m0 0h0m-3-3h0m-1 0h0m-5 6h0" stroke="#081d58" stroke-width="14"/>
<use href="#bgd0" x="2747.8" y="0"/>
<path d="M2829 1971h0m-264 53h0m14-1h0m233 31h0m-26-13h0m44 23h0m-248 32h0m-18 2h0m158 121h0" stroke="#fdfdd0" stroke-width="14"/>
<path d="M2779 1940h0m26 26h0m-8-11h0m-218 86h0m196 41h0m-7 12h0m-5 43h0" stroke="#edf8b1" stroke-width="14"/>
<path d="M2766 1936h0m-16 53h0m-5 13h0m-13 13h0m-72 13h0m103 18h0m-75 0h0m-15 5h0m-78 8h0m15 13h0m16 24h0m78 66h0m19 11h0m18-1h0" stroke="#c7e9b4" stroke-width="14"/>
<g fill="#7fcdbb"><ellipse cx="2631.1" cy="2030.3" rx="5" ry="5"/><ellipse cx="2620.8" cy="2058.8" rx="5.8" ry="5.8"/></g>
<path d="M2741 1893h0m1 74h0m-111 68h0m1-10h0m0 1h0m1 2h0m2 0h0m120 31h0m-20-8h0m-112 10h0m0-1h0m-2 3h0m-1-6h0m-5-1h0m0 5h0m14 8h0m75 78h0" stroke="#7fcdbb" stroke-width="14"/>
<g fill="#41b6c4"><ellipse cx="2657" cy="2089.9" rx="7.4" ry="7.4"/><ellipse cx="2719.1" cy="2089.9" rx="7.4" ry="7.4"/></g>
<path d="M2727 2061h0m-80 13h0m5 12h0m2-1h0m9 0h0m59-5h0m3 7h0m4 9h0m-4-7h0m-2 4h0m-2 5h0m-3-2h0m-1-4h0m-1 1h0m-3 1h0m-1 1h0m-47-7h0m0 16h0m-6-11h0m0-5h0m-2 10h0m-2-9h0m-6 0h0" stroke="#41b6c4" stroke-width="14"/>
<path d="M2666 1965h0" stroke="#1d91c0" stroke-width="16"/>
<path d="M2722 1889h0m15 15h0m3 23h0m-93 27h0m-13 1h0m-12 25h0m86 127h0m-31-15h0" stroke="#1d91c0" stroke-width="14"/>
<g fill="#225ea8"><ellipse cx="2729.5" cy="1937.2" rx="7.4" ry="7.4"/></g>
<path d="M2721 1939h0m2-1h0m1-4h0m2 8h0m3-13h0m6 3h0m0 7h0m1-2h0m1 1h0m-80 10h0" stroke="#225ea8" stroke-width="14"/>
<path d="M2720 1904h0m-57 36h0" stroke="#253494" stroke-width="14"/>
<g fill="#081d58"><ellipse cx="2672.5" cy="1911.3" rx="5.8" ry="10.5"/><ellipse cx="2706.2" cy="1921.6" rx="8.2" ry="8.2"/></g>
<path d="M2705 1918h0m-3-4h0m-25 1h0m-1-8h0m-2-8h0m-2 14h0m-1 2h0m-1 4h0m-3-15h0m5 18h0m1-1h0m1 3h0m28 6h0m0-6h0m1 4h0m3 1h0m2-9h0m1 8h0m1-6h0m2 2h0" stroke="#081d58" stroke-width="14"/>
<use href="#bgd0" x="3240.2" y="0"/>
<path d="M3056 2022h0m12 2h0m59 6h0m270 18h0m-86 7h0m-175 6h0m-45-20h0m77 41h0m26 16h0m-15-8h0m-29 4h0m-31-5h0m-12 10h0m-32-3h0m-14-3h0m155 79h0m19-2h0m8 9h0m23-12h0" stroke="#fdfdd0" stroke-width="14"/>
<path d="M3263 1932h0m5 2h0m0-5h0m3 2h0m43 79h0m-30 55h0" stroke="#edf8b1" stroke-width="14"/>
<path d="M3112 2196h0" stroke="#edf8b1" stroke-width="8"/>
<path d="M3307 1980h0m-4 31h0m-76 54h0" stroke="#c7e9b4" stroke-width="14"/>
<path d="M3200 1901h0m19 32h0m-26 105h0m88-1h0" stroke="#7fcdbb" stroke-width="14"/>
<path d="M3180 1895h0m42 63h0m-25 2h0m28 22h0m12-3h0m32 14h0m-16 17h0m-15-11h0m-36 12h0m10 13h0m18 4h0m32-3h0" stroke="#41b6c4" stroke-width="14"/>
<path d="M3185 1919h0" stroke="#1d91c0" stroke-width="14"/>
<path d="M3172 1911h0m-5-12h0m-13 59h0" stroke="#225ea8" stroke-width="14"/>
<path d="M3166 1926h0m-25 33h0" stroke="#253494" stroke-width="14"/>
<g fill="#081d58"><ellipse cx="3109.9" cy="1919" rx="8.9" ry="8.9"/><ellipse cx="3133.2" cy="1935.6" rx="5" ry="5"/></g>
<path d="M3118 1915h0m-2 0h0m0 1h0m-1 2h0m-5-1h0m-3-4h0m0 4h0m-3 2h0m8 9h0m1-6h0m2 3h0m5-5h0m12 12h0m0-1h0m1 10h0m0 0h0m4-4h0m17-7h0" stroke="#081d58" stroke-width="14"/>
<use href="#bgd0" x="3732.6" y="0"/>
<g fill="#fdfdd0"><ellipse cx="3697.3" cy="2232.2" rx="5.8" ry="5.8"/></g>
<path d="M3679 2055h0m-5-12h0m108 40h0m-119 26h0m29 122h0m10-2h0m-2 7h0m-4 0h0m0 1h0m-1-4h0" stroke="#fdfdd0" stroke-width="14"/>
<g fill="#edf8b1"><ellipse cx="3588.7" cy="1988.9" rx="7.4" ry="7.4"/><ellipse cx="3608.3" cy="2102.8" rx="5.8" ry="5.8"/></g>
<path d="M3580 1986h0m9-4h0m3 9h0m2-4h0m2 0h0m-2 6h0m-3 3h0m-2-2h0m-6-1h0m8 89h0m27-1h0m1 2h0m4 1h0m0 1h0m-12 20h0m-1-5h0m-2-1h0m0 1h0m0 5h0m-1-1h0m-32-7h0" stroke="#edf8b1" stroke-width="14"/>
<path d="M3660 1967h0m154 94h0m-4 13h0m19 10h0m-93 46h0m-49 35h0m6 42h0m21 4h0" stroke="#c7e9b4" stroke-width="14"/>
<g fill="#7fcdbb"><ellipse cx="3671.5" cy="1986.3" rx="5" ry="5"/><ellipse cx="3689.6" cy="1988.9" rx="5" ry="5"/></g>
<path d="M3668 1989h0m0-5h0m2-2h0m5 7h0m1-5h0m9 1h0m2 2h0m2-3h0m0 10h0m-2 0h0m136 52h0" stroke="#7fcdbb" stroke-width="14"/>
<path d="M3828 2055h0" stroke="#41b6c4" stroke-width="14"/>
<g fill="#1d91c0"><ellipse cx="3738.8" cy="2163.4" rx="5" ry="5"/><ellipse cx="3755.8" cy="2164.9" rx="5.8" ry="5.8"/></g>
<path d="M3843 2071h0m4 1h0m2 2h0m1 0h0m-111 84h0m-4 8h0m4 2h0m0 0h0m1-4h0m11-3h0m0 0h0m1 4h0m2 6h0m0-11h0m8 5h0" stroke="#1d91c0" stroke-width="14"/>
<path d="M3858 2068h0" stroke="#225ea8" stroke-width="14"/>
<g fill="#253494"><ellipse cx="3904.4" cy="2076.9" rx="5.8" ry="5.8"/></g>
<path d="M3901 2074h0m1 3h0m2-3h0m1 0h0m1 7h0m1-9h0m8-3h0" stroke="#253494" stroke-width="14"/>
<g fill="#081d58"><ellipse cx="3899.2" cy="2048.4" rx="14.4" ry="14.4"/></g>
<path d="M3888 2038h0m4 1h0m3-1h0m2-1h0m1 1h0m8-6h0m9 22h0m-2-13h0m-1 18h0m-2-11h0m-1-8h0m-1 20h0m-4-9h0m0 12h0m0-22h0m-1 21h0m0 1h0m-3-15h0m0 5h0m-2-8h0m-1-4h0m-7 12h0m0-9h0m-2 8h0m-3-7h0m0 13h0m-3-7h0" stroke="#081d58" stroke-width="14"/>
<path d="M238 2327h0m4-3h0m3-4h0m2 7h0m0-2h0m1 0h0m1-5h0m1 7h0m1-3h0m0 3h0m0-10h0m1 8h0m0 0h0m3-4h0m3 3h0m0 2h0m-1 2h0m-5 3h0m-1 2h0m-1-3h0m-4 3h0m-1 3h0m-1-2h0m0-5h0m-1 16h0m0-1h0m0-15h0m0 17h0m-1 0h0m0-6h0m0-9h0m0 2h0m-1 1h0m0 12h0m0-11h0m0-6h0m-1 14h0m0-6h0m0 14h0m-2-12h0m0-7h0m-1 3h0m-1 15h0m-1-5h0m0-4h0m-2 7h0m-1-9h0m-1-2h0m0 8h0m-2-7h0m-1 13h0m-1-12h0m0-2h0m0 5h0m-9 13h0m3 4h0m0 5h0m0-4h0m0-3h0m2-3h0m1 6h0m2-4h0m1 0h0m5-3h0" stroke="#e3d5cf" stroke-width="6.8"/>
<path d="M340 2362h0m0-4h0m3 4h0m1 4h0m2 4h0m0-5h0m1 4h0m3-1h0m5 2h0m1 4h0m0-3h0m7 7h0m0 1h0" stroke="#f0c0a8" stroke-width="6.8"/>
<path d="M237 2392h0m0-1h0m-4 2h0m-2-4h0m0 1h0m-1 1h0m0 5h0m-1-3h0m-2-1h0m0-3h0m0-1h0m-2 6h0m-1-3h0m-1-1h0m-1-6h0" stroke="#b7cff9" stroke-width="6.8"/>
<path d="M384 2418h0m0-2h0m1 2h0m0-1h0m4-2h0m0 0h0m3-3h0m-14 15h0m-3 5h0m-2-4h0" stroke="#e8765c" stroke-width="6.8"/>
<path d="M218 2423h0m4-4h0m3 0h0m10 3h0m1-3h0m3-6h0m0 10h0m1-1h0m0-10h0m3 8h0m0 2h0m0-8h0m1 2h0m3 5h0m1-1h0m1-7h0m1 10h0m1-1h0m5-1h0m7 22h0m-5-9h0m-1-1h0m-1-9h0m-4 9h0m-1 11h0m0-8h0m0 6h0m-1 0h0m-2 2h0m-2-12h0m0 11h0m0 1h0m0-18h0m-1 12h0m0-14h0m0 11h0m0 2h0m0-1h0m-1 8h0m0-18h0m0 8h0m0 10h0m-1 0h0m0-7h0m-1 0h0m-1-2h0m0-4h0m0 3h0m-1 7h0m0-4h0m-1 0h0m0-10h0m-1 3h0m0 9h0m-2-2h0m0 0h0m-1 4h0m0-2h0m0 0h0m-1 4h0m0-3h0m0-4h0m-1-10h0m-2 7h0m-1 13h0m0-7h0m-1-4h0m-1 8h0m0-3h0m0-6h0m-1 2h0m0 11h0m0-12h0m-1 2h0m0-13h0m-1 8h0m0-3h0m0 11h0m-1-6h0m0 11h0m-1-7h0m-1-8h0m-1 0h0m-3 7h0m-2-10h0m0 17h0m9 5h0m6 3h0m1-1h0m5-3h0m0 0h0m1 6h0m1-5h0m5 21h0m0-2h0m1 3h0m5-2h0m0-1h0m1-18h0m2 20h0m-2 8h0m-1-4h0m-3-1h0m-1 4h0m-1-5h0m0 5h0m-2 1h0m-64 58h0m-5 2h0m0 5h0m-1-7h0m-2 7h0m-1-12h0m0 9h0m-3-4h0m0 3h0m-3-3h0m-1-1h0m-1 0h0m0 2h0m-1 4h0m-1-2h0m0-7h0m-1 3h0m0 4h0m-6-2h0m8 8h0m1 1h0m3-2h0m4 0h0m3 1h0m5-1h0m1 3h0m2-3h0" stroke="#8caffe" stroke-width="6.8"/>
<path d="M276 2423h0m3-6h0m1 1h0m1-4h0m2 7h0m2-6h0m2 6h0m1-2h0m1-2h0m2 6h0m0-1h0m2-7h0m1-1h0m1 6h0m1 0h0m1-1h0m1-3h0m1 4h0m2-9h0m0 8h0m0-4h0m2 8h0m1-14h0m3 12h0m0-9h0m2 2h0m8 15h0m-4 10h0m-2-13h0m0 0h0m0 10h0m-1 4h0m-2-14h0m-1 9h0m0 4h0m-2-15h0m0 3h0m0-3h0m0 6h0m0 2h0m-2 1h0m0-6h0m-1 7h0m0-10h0m-1 5h0m-2 5h0m0 2h0m-1-9h0m0 18h0m0-9h0m-1-5h0m-1 6h0m0-2h0m-1-6h0m0 7h0m-1 3h0m0 0h0m0-10h0m-1 17h0m0-9h0m-1-12h0m-1 1h0m-2 6h0m-1-6h0m-1 11h0m-1-4h0m-1 1h0m0-3h0m-2-2h0m-1 6h0m0-6h0" stroke="#cfd8e8" stroke-width="6.8"/>
<path d="M471 2446h0m-2-2h0m-1-2h0m-2 3h0m-2-1h0m-2 0h0m-1-7h0m0-2h0m-1 9h0m0-10h0m-7 3h0m1 16h0m3 13h0m0-12h0m0-6h0m1 7h0m0-6h0m2 5h0m1-4h0m0 14h0m0-12h0m0-2h0m0 1h0m1-2h0m0 1h0m0 5h0m1-4h0m0 3h0m0 3h0m0-8h0m2 14h0m0-3h0m1 7h0m1-11h0m0-5h0m0 17h0m2-3h0m2-16h0m2 0h0" stroke="#b40426" stroke-width="6.8"/>
<path d="M104 2461h0m1 5h0m1-1h0m0-2h0m1-2h0m0 3h0m2 2h0m1 2h0m1 2h0m2-13h0m1 12h0m1-5h0m2-3h0m2 5h0m257 1h0m8 3h0m2-1h0m3-2h0m0 2h0m3-1h0m0-1h0m2 3h0m1 1h0m0-2h0m1-3h0m0 3h0m2-5h0m8 2h0m-12 8h0m-2-1h0m-2 1h0m-3 5h0m0-5h0m-1 0h0m0 2h0m-2-1h0m-2-1h0m0-1h0m0 0h0m0-1h0m-1 6h0m-1-3h0m-1 0h0m-2-1h0m-2 3h0m-1-5h0m-4 6h0m-244 3h0m-3 0h0m-1 2h0m-18-11h0" stroke="#f4a582" stroke-width="6.8"/>
<path d="M221 2487h0m-6-3h0m-1 3h0m-3 2h0m-2-3h0m-3 1h0m0-2h0m-2 0h0m-1 0h0m-1 3h0m-5-3h0m0 7h0m-1-1h0m0-12h0m-1 0h0m-1 12h0m0-2h0m-3-1h0m-3-8h0m0 0h0m-1 10h0m-1-12h0m-1 14h0m-2-15h0m0 15h0m0-7h0m0 2h0m0 6h0m-1-17h0m-1 10h0m0 8h0m0 1h0m-1-12h0m0 0h0m0 4h0m-1-5h0m0 12h0m-1-10h0m0 4h0m0-5h0m0 12h0m0-10h0m0-9h0m-2 5h0m-1 3h0m0-5h0m-1 5h0m0 6h0m0-4h0m-1 0h0m0 2h0m-4 2h0m-1-10h0m0-6h0m0 5h0m-1-2h0m0 12h0m-1-1h0m-4-6h0m0 1h0m-2 6h0m-1 1h0m-1-1h0m23 9h0m5 3h0m46 6h0m3-3h0m1 6h0m0 6h0m1-12h0m3 5h0m0-1h0m1 7h0m0-7h0m0 5h0m2-9h0m1 6h0m1 1h0m2 8h0m1-11h0m1-1h0m1 10h0m0-15h0m1 5h0m0 10h0m1-2h0m0-8h0m0 11h0m4-6h0m1-3h0m1 6h0m1 3h0m1-2h0m1-3h0m2 2h0m0-11h0m1 15h0m0-7h0m1 0h0m4-3h0m-25 11h0m-3 0h0" stroke="#6282ea" stroke-width="6.8"/>
<path d="M309 2469h0m10 12h0m-1 0h0m-5-5h0m0 6h0m-1-5h0m-1-3h0m0 11h0m-2-7h0m-1-2h0m0 14h0m-1-9h0m0 13h0m0 1h0m-1-16h0m-1 4h0m0 5h0m-2-3h0m0 7h0m-1-17h0m-1-2h0m0 18h0m-2-13h0m0 1h0m-1 0h0m-1 13h0m0-14h0m0 12h0m0-9h0m-1 3h0m-1 0h0m-1 5h0m0-14h0m-1 18h0m-1-7h0m-2-7h0m-1 3h0m11 14h0m3 1h0m2 1h0" stroke="#ddd5d2" stroke-width="6.8"/>
<path d="M352 2495h0m-11-2h0m-3 1h0m-22 23h0m1 2h0m2-8h0m3-6h0m0 8h0m0 4h0m0 0h0m0-8h0m2 2h0m1 5h0m2-3h0m1 1h0m0 0h0m0 3h0m1-6h0m0-1h0m0 1h0m0 1h0m1-4h0m1-2h0m1-2h0m1 7h0m0 3h0m1-11h0m0 5h0m1 7h0m0 1h0m2-7h0m0 6h0m2-18h0m0 15h0m0-7h0m0 5h0m1-8h0m1 9h0m0 0h0m1-2h0m1-8h0m0 7h0m4 0h0m0-1h0m0 4h0m3-8h0m-13 18h0m-3-1h0m-2 3h0m-8-2h0m-3 2h0m-2 3h0" stroke="#d9d9dd" stroke-width="6.8"/>
<path d="M423 2509h0m1 7h0m2-10h0m0 9h0m3-8h0m0 9h0m0-5h0m0-3h0m2-2h0m0 5h0m1 2h0m1-8h0m1 9h0m0 0h0m0-8h0m1 11h0m1-2h0m0-5h0m1 4h0m1 3h0m0-5h0m3 0h0m0 1h0m4-3h0m1-1h0m1 6h0" stroke="#e36b50" stroke-width="6.8"/>
<path d="M288 2540h0m-1-5h0m-1 4h0m0-6h0m-2-2h0m-1 3h0m0 9h0m0-3h0m0-4h0m-1-8h0m0 8h0m-2-2h0m-3 3h0m-1 6h0m0-10h0m-1 8h0m-2 2h0m2 1h0m0 1h0m1 10h0m1 0h0m4-4h0m0-2h0m1 4h0m1 1h0m0-4h0m0 1h0m1-3h0m1-3h0m1 15h0m0 0h0m2-12h0m1 0h0m0 9h0m3 1h0" stroke="#bcd2f7" stroke-width="6.8"/>
<path d="M389 2536h0m-4 23h0m3-9h0m0 3h0m0-1h0m0 4h0m1-12h0m0 6h0m1 5h0m0-3h0m0-2h0m2 0h0m1 3h0m0-9h0m2 10h0m-28 59h0m2 1h0m10 0h0m20 21h0m-5-9h0m-1 6h0m-1-7h0m-1 7h0m-2-3h0m-1-3h0m-1 7h0m-1-7h0m0-6h0m0 19h0m0-14h0m-1 10h0m0 2h0m-1-9h0m-1 4h0m-2-3h0m0 9h0m0-9h0m-1 1h0m0 7h0m-1-8h0m-1 10h0m0-23h0m0 17h0m0 2h0m-1-1h0m-1-8h0m0 7h0m0-17h0m0 11h0m-1-4h0m0 15h0m0-1h0m-1-17h0m0 15h0m0-10h0m0 1h0m-1-2h0m-1-1h0m0 0h0m0 11h0m-1-18h0m0 1h0m0-1h0m-2 20h0m0-14h0m-2 9h0m0-5h0m0 0h0m0 6h0m-1-7h0m0 14h0m0-2h0m0 0h0m0-12h0m-1 2h0m0 12h0m0-13h0m-1 13h0m0-16h0m-2 3h0m-2 0h0m-1 3h0m-1-1h0m0-1h0m0 9h0m-1-10h0m0 13h0m-1-11h0m-1 9h0m0-3h0m0-3h0m-1-7h0m0 4h0m-1-9h0m-1 2h0m0 18h0m-1-4h0m0-8h0m-1 3h0m-1 3h0m0-7h0m-1 6h0m0 1h0m0-3h0m-3 8h0m0-13h0m-1 10h0m-1 13h0m1 1h0m4-5h0m3-3h0m0 8h0m0-1h0m4 0h0m3 10h0m0-11h0m1-4h0m3 8h0m0-8h0m0-1h0m1 4h0m1-3h0m0 1h0m0 2h0m3 3h0m1-3h0m1-1h0m0-2h0m1 0h0m0 4h0m1-6h0m1 15h0m0-16h0m2 13h0m1-11h0m2 3h0m0-3h0m2 10h0m0-2h0m1 10h0m0-13h0m3-5h0m5 0h0m4 8h0m0-9h0" stroke="#ead0c3" stroke-width="6.8"/>
<path d="M234 2559h0m3 8h0m2-1h0m1-11h0m2 7h0m1 4h0m0-1h0m2-4h0m1 4h0m1 0h0m0-6h0m1 8h0m1-13h0m0 4h0m1 9h0m0-3h0m2 0h0m0-3h0m0-3h0m0-1h0m0-1h0m1 10h0m1-3h0m1-5h0m0 3h0m6 4h0m0-10h0m0 11h0m1-2h0m1-1h0m0-9h0m1-1h0m2 4h0m0 5h0m-10 11h0m-1-4h0m-1-1h0m0 2h0m-3-1h0m-3-1h0m-2 5h0m-2-5h0m0 2h0m-3 0h0m-13 7h0m-2 1h0m0 3h0m-2 2h0m-1 5h0m0 0h0m0 0h0m0 0h0m-1-10h0m0 5h0m-2-11h0m-2 12h0m-2 2h0m0-9h0m0 10h0m-1 4h0m0-10h0m-1 0h0m-1 8h0m0 0h0m-3-7h0m-19 2h0m-6-3h0m-2 0h0m-1 5h0m0 0h0m0-8h0m0 0h0m0 4h0m-1 3h0m0-4h0m0-6h0m-4 10h0m-1 2h0m0-1h0m-2 1h0m0-4h0m0-2h0m0 4h0m0-6h0m-1 1h0m-1 1h0m0 4h0m0-10h0m-3 9h0m45 10h0m2 1h0m0 2h0m2-3h0m5-1h0m78 21h0m1 0h0m4 7h0m-1 11h0m-1-14h0m0 5h0m0 3h0m-3-4h0m0-2h0m-1 16h0m-1-9h0m0 2h0m0 2h0m-1-6h0m-1 7h0m0-14h0m0 0h0m6 23h0" stroke="#c0d4f5" stroke-width="6.8"/>
<path d="M111 2534h0m0 1h0m-6 0h0m-3-1h0m-1 3h0m0 5h0m-6 16h0m4 9h0m3-5h0m0-1h0m3-1h0m0-15h0m1 14h0m0-8h0m2 11h0m2-5h0m1 8h0m1-19h0m1 11h0m1-4h0m1 4h0m2 5h0m1-11h0m1 9h0m0-1h0m1-7h0m0 7h0m1 0h0m1 6h0m1-9h0m0 0h0m0 11h0m0-17h0m1 2h0m1 6h0m1-8h0m0 5h0m1 12h0m0-3h0m4-7h0m2 3h0m1-3h0m0-4h0m1 1h0m1 11h0m4 2h0m11 23h0m-2-10h0m0 8h0m-2-14h0m-1 11h0m0 0h0m-3-5h0m0 8h0m-1 1h0m-1-16h0m-1 9h0m-1 5h0m-1 2h0m0 1h0m-1-10h0m-2-10h0m-2 4h0m0 9h0m0-11h0m0 12h0m-1-10h0m0 8h0m-1-4h0m-1-2h0m0 4h0m-1 1h0m0-2h0m0-5h0m0 10h0m0-3h0m0-9h0m-1 7h0m0 1h0m0 3h0m-1-12h0m0-3h0m-1 6h0m-1-3h0m0 0h0m0 20h0m0-7h0m0-15h0m-1-1h0m0 1h0m-1 17h0m-1 5h0m0 0h0m0-20h0m-1 3h0m0-2h0m0 12h0m0-3h0m-1-8h0m-1-4h0m0 7h0m-1 7h0m-1-8h0m0 15h0m0-9h0m-1 2h0m0 4h0m0-15h0m-1 13h0m0-4h0m0 6h0m0-19h0m-1 19h0m-1-13h0m0 3h0m-1-5h0m0 1h0m0 6h0m0-4h0m-1 10h0m0-8h0m0 5h0m-1 7h0m0-18h0m0 3h0m0 12h0m-1 5h0m0-4h0m-1-3h0m-1 1h0m0-14h0m-2 18h0m-1-21h0m-1 10h0m0 2h0m0-4h0m0-3h0m-3 15h0m-1-6h0m-1-4h0m-1 4h0m10 12h0m1 16h0m2 1h0m2-15h0m2-1h0m0-3h0m2 13h0m0-1h0m1-6h0m0 9h0m0 8h0m0-22h0m2 20h0m0-21h0m1 15h0m0 7h0m0-15h0m1 8h0m0-4h0m0-4h0m0 1h0m1 14h0m0-22h0m1 2h0m1 14h0m0-14h0m0 4h0m0-2h0m1 7h0m1-3h0m0-5h0m0-1h0m1 0h0m0-1h0m0 5h0m1 17h0m0-10h0m0 5h0m0-18h0m1 14h0m1-5h0m0 8h0m1-15h0m0 9h0m1-5h0m0 6h0m0-8h0m1 3h0m0-1h0m1-3h0m1 16h0m0 2h0m1-1h0m0-4h0m0-10h0m1 3h0m1-6h0m0 14h0m0 4h0m3-15h0m0 4h0m1 12h0m1-19h0m1 4h0m3 6h0m0 0h0m2 2h0m0 4h0m1-18h0m3 1h0m1 21h0m0-3h0m1-9h0m-2 16h0m0 10h0m-1-8h0m-6 12h0m0-15h0m-3 17h0m0-10h0m-1-3h0m-2-6h0m-4 3h0m-1-2h0m0 15h0m0-16h0m-2 7h0m-1 7h0m-1-5h0m-1-5h0m0-2h0m-5 14h0m-1-8h0m0-1h0m-2 1h0m-1-3h0m-2-1h0m-5-2h0m21 22h0m9 1h0" stroke="#a5c3fe" stroke-width="6.8"/>
<path d="M468 2576h0m0-1h0m-1 3h0m-2 1h0m-2-5h0m-1 1h0m-1-3h0m0 3h0m-2-4h0m0 7h0m-1 3h0m-1-6h0m-1-2h0m0 7h0m-1-1h0m0 1h0m-2 2h0m0-5h0m-1-1h0m-2-2h0m-2-1h0m-1 3h0m-1 2h0m-2-6h0m0 1h0m0-1h0m-2 3h0m-1-4h0m-1 4h0m-3 0h0" stroke="#cd4237" stroke-width="6.8"/>
<path d="M300 2609h0m1-8h0m2 0h0m0-1h0m0 8h0m1-12h0m1 1h0m0 8h0m0-3h0m2 8h0m0-12h0m1 4h0m0 1h0m1-8h0m4 9h0" stroke="#7b9ff9" stroke-width="6.8"/>
<path d="M191 2615h0m5-1h0m8 0h0m39-1h0m35 19h0m-1 5h0m-1-4h0m-3 4h0m0-4h0m-3-4h0m-1 9h0m0-16h0m-1 13h0m0-17h0m-1 9h0m0-9h0m-1 0h0m-1 5h0m0 15h0m-1-8h0m-1-2h0m0 8h0m-1-3h0m-1-2h0m0 6h0m-1 0h0m0-12h0m-1-2h0m0-2h0m0 16h0m0-7h0m-1-2h0m0 11h0m-1-1h0m0-2h0m0-2h0m-1-4h0m0 9h0m0-18h0m0 0h0m-1 10h0m0 6h0m0 0h0m-1-6h0m0-7h0m0 11h0m-1-19h0m-1 20h0m0-12h0m0-6h0m0-1h0m0 21h0m0 1h0m-1-10h0m0 3h0m-1-14h0m0 3h0m-2 18h0m0-13h0m-1 5h0m0-6h0m-1-6h0m-1 17h0m0-15h0m-1 11h0m-2 4h0m0-4h0m-1-4h0m-1-11h0m0 14h0m-1-8h0m-1 2h0m-1-1h0m-2 8h0m-2 2h0m0 1h0m-13-2h0m0-8h0m-1 12h0m-1-13h0m0-3h0m-2 1h0m0 5h0m-1 3h0m-1-5h0m-2 9h0m-2 0h0m-1-14h0m0 17h0m-1-11h0m0 10h0m0-19h0m0 3h0m-1 16h0m-1-4h0m0 2h0m-1-13h0m0 4h0m-1-3h0m0-5h0m0 18h0m-1-18h0m0 20h0m0-15h0m-1 7h0m-1 7h0m0 1h0m-1-12h0m0-3h0m-3 11h0m0-7h0m-1-8h0m0-1h0m-1 7h0m0-1h0m0 14h0m-1-2h0m0 2h0m-1-8h0m0 10h0m0-13h0m-1 0h0m-1-4h0m0 9h0m-1 4h0m0-1h0m0-8h0m-3 7h0m-6-3h0m-4 3h0m8 9h0m4 1h0m6-1h0m0 6h0m1-5h0m1-1h0m1 2h0m3 3h0m5-6h0m1 7h0m3-6h0m2 0h0m3 3h0m4-5h0m18 5h0m2 4h0m1-7h0m0 11h0m2 0h0m0-10h0m1 11h0m1-6h0m0 1h0m1 3h0m0-12h0m1 6h0m0 5h0m2 0h0m1-2h0m2 1h0m1-1h0m0-7h0m0 1h0m1 9h0m0-10h0m2 13h0m0-15h0m1 19h0m1-7h0m0-10h0m1 8h0m1-4h0m0 3h0m1-9h0m1 8h0m0 7h0m0-13h0m0 1h0m1 13h0m0 5h0m1 1h0m1-19h0m0 11h0m2-1h0m1-13h0m1 11h0m3-1h0m0 4h0m1-12h0m1 4h0m1 0h0m0 2h0m1-6h0m0 12h0m1-3h0m8-8h0m0 4h0" stroke="#3b4cc0" stroke-width="6.8"/>
<use href="#bgd1" x="778.2" y="0"/>
<path d="M754 2318h0m88 49h0m-155 39h0m194 13h0m67 18h0m-77-5h0m-225 8h0m-39-7h0m349 22h0m-336 26h0m-26 31h0m344 2h0m-103 26h0m-34 29h0m-127 75h0m26 5h0m34 5h0m38 0h0" stroke="#fdfdd0" stroke-width="14"/>
<path d="M723 2349h0m-15 8h0m-52 93h0m181 62h0m-184 104h0m158 46h0" stroke="#edf8b1" stroke-width="14"/>
<g fill="#c7e9b4"><ellipse cx="917.3" cy="2506.9" rx="7.8" ry="7.8"/><ellipse cx="881.1" cy="2545.7" rx="7.8" ry="7.8"/></g>
<path d="M765 2429h0m145 73h0m1 4h0m1-5h0m0 6h0m0 8h0m1-1h0m2 0h0m1-8h0m1 6h0m0-3h0m18 21h0m-46 13h0m-8-3h0m-90 19h0m83-12h0m9 6h0m0-9h0m2 1h0m0 8h0m1-3h0m1-4h0m1-2h0m-198 82h0" stroke="#c7e9b4" stroke-width="14"/>
<g fill="#7fcdbb"><ellipse cx="668.9" cy="2462.9" rx="5" ry="5"/><ellipse cx="733.6" cy="2506.9" rx="6.6" ry="6.6"/></g>
<path d="M666 2463h0m0-4h0m1 3h0m3 1h0m0-4h0m57 46h0m0 5h0m2-3h0m3-3h0m1-1h0m1-2h0m5 5h0m145 55h0" stroke="#7fcdbb" stroke-width="14"/>
<g fill="#41b6c4"><ellipse cx="668.9" cy="2545.7" rx="7.8" ry="7.8"/><ellipse cx="940.6" cy="2571.6" rx="9.7" ry="9.7"/><ellipse cx="795.7" cy="2618.2" rx="7.8" ry="7.8"/></g>
<path d="M728 2393h0m-31 137h0" stroke="#41b6c4" stroke-width="16"/>
<path d="M780 2543h0m-110-4h0m-1 2h0m-2-4h0m-4 6h0m-12-8h0m14 13h0m0-3h0m0 7h0m3-2h0m1-4h0m2 4h0m101 3h0m159 13h0m4-2h0m7-2h0m0 4h0m8 10h0m-2 1h0m-3-8h0m-2 14h0m0-10h0m-1-4h0m-5 3h0m-1-2h0m-1 10h0m-2-1h0m-3 3h0m-141 31h0m1 2h0m5-5h0m6 5h0m5 24h0m-2-20h0m-2 4h0m-1 0h0m-2 0h0m-2-6h0m-4 6h0m-8 3h0" stroke="#41b6c4" stroke-width="14"/>
<g fill="#1d91c0"><ellipse cx="723.2" cy="2431.9" rx="9.7" ry="9.7"/><ellipse cx="762" cy="2473.3" rx="6.6" ry="6.6"/><ellipse cx="806" cy="2473.3" rx="7.8" ry="7.8"/><ellipse cx="790.5" cy="2494" rx="5.8" ry="5.8"/><ellipse cx="710.3" cy="2484.7" rx="5" ry="5"/><ellipse cx="604.2" cy="2543.1" rx="5.8" ry="5.8"/><ellipse cx="676.6" cy="2576.8" rx="6.6" ry="6.6"/><ellipse cx="731" cy="2618.2" rx="7.8" ry="7.8"/></g>
<path d="M847 2488h0m-178 3h0m36 122h0m57-21h0" stroke="#1d91c0" stroke-width="16"/>
<path d="M719 2421h0m12 17h0m-1-1h0m-6 2h0m-1-15h0m-2 10h0m-2-3h0m0 12h0m-1-8h0m-1-8h0m0 2h0m-2 2h0m-1 4h0m-2-1h0m32 37h0m14-4h0m7 1h0m39-3h0m6 0h0m3 6h0m-2 9h0m0-7h0m-2 7h0m-1-5h0m-1 5h0m-4-8h0m-1 7h0m-8 15h0m-9-2h0m0-1h0m-21-13h0m-2-6h0m-2 3h0m-1 3h0m-1-1h0m-44 8h0m-1 3h0m-1-7h0m-6 3h0m-1-2h0m83 16h0m2 0h0m1-1h0m-182 45h0m-2-5h0m-5 2h0m0 3h0m-1 1h0m2 1h0m79 37h0m-1-4h0m-4-4h0m0 6h0m-1-7h0m0 7h0m-1 5h0m52 31h0m8-2h0m1 2h0m2-3h0m-2 9h0m0 4h0m-1-4h0m-1 2h0m-7-2h0m-2 0h0" stroke="#1d91c0" stroke-width="14"/>
<path d="M710 2553h0" stroke="#225ea8" stroke-width="16"/>
<path d="M749 2597h0m109 6h0m36 36h0m-67 5h0" stroke="#225ea8" stroke-width="14"/>
<g fill="#253494"><ellipse cx="875.9" cy="2473.3" rx="12" ry="8.9"/></g>
<path d="M612 2564h0m101 28h0m23 11h0" stroke="#253494" stroke-width="16"/>
<path d="M865 2467h0m1 0h0m4-2h0m0 5h0m3-2h0m4 0h0m1 3h0m2-7h0m2 0h0m2 1h0m3 8h0m-12-1h0m-4 0h0m-4 2h0m-5-2h0m-224 93h0m253 69h0m-10-16h0m-57 26h0m23 16h0" stroke="#253494" stroke-width="14"/>
<path d="M625 2587h0" stroke="#253494" stroke-width="10"/>
<g fill="#081d58"><ellipse cx="741.3" cy="2561.3" rx="12.8" ry="6.6" transform="rotate(-20 741.3 2561.3)"/></g>
<path d="M731 2564h0m1-1h0m3-7h0m4 3h0m1-2h0m3-3h0m0 6h0m4 0h0m3-3h0m0-1h0m1 2h0m-16 12h0m-3-2h0m162 61h0m-5 7h0m-5-10h0m-16-3h0m-13-5h0m-2 21h0m-8-8h0m-10 0h0m20 26h0m8-13h0m5 13h0m8-5h0m3-8h0" stroke="#081d58" stroke-width="14"/>
<use href="#bgd1" x="1270.6" y="0"/>
<g fill="#fdfdd0"><ellipse cx="1244" cy="2633.7" rx="13.6" ry="13.6"/><ellipse cx="1256.9" cy="2654.4" rx="9.7" ry="9.7"/></g>
<path d="M1347 2376h0m-18 82h0m-244 52h0m251-11h0m-43 67h0m29-15h0m57 5h0m-6 62h0m-80 18h0m-33-1h0m-7 0h0m-4-17h0m-1 9h0m-2 10h0m-1-4h0m0-8h0m-1 10h0m-3-2h0m-7-4h0m0-5h0m-1 2h0m0 2h0m-1-1h0m-2 4h0m-2 3h0m0-1h0m9 11h0m5 5h0m0-7h0m1 1h0m2 7h0m0-8h0m1 9h0m2 8h0m0-3h0m1-16h0m3 18h0m0-11h0m2 1h0m2 1h0m0-4h0m1 1h0m0 9h0m6 5h0m2-4h0m1-1h0m2 1h0" stroke="#fdfdd0" stroke-width="14"/>
<g fill="#edf8b1"><ellipse cx="1205.2" cy="2346.5" rx="5.8" ry="5.8"/><ellipse cx="1337.1" cy="2364.6" rx="5" ry="5"/></g>
<path d="M1209 2342h0m-3 2h0m-3 2h0m-1-1h0m-2 0h0m-8 17h0m9-10h0m133 9h0m2 4h0m2-1h0m2-1h0m1 0h0m-154 40h0m197 59h0m36 116h0m-65 32h0m-204 31h0m189 16h0" stroke="#edf8b1" stroke-width="14"/>
<g fill="#c7e9b4"><ellipse cx="1166.3" cy="2455.2" rx="5.8" ry="5.8"/><ellipse cx="1119.8" cy="2499.2" rx="6.6" ry="6.6"/><ellipse cx="1339.7" cy="2628.6" rx="7.8" ry="7.8"/></g>
<path d="M1316 2440h0m-154 16h0m2-5h0m0-2h0m1 2h0m3-1h0m1 5h0m-56 43h0m1 0h0m1-2h0m7 4h0m1 0h0m0 1h0m3 0h0m100 14h0m21-16h0m36 62h0m63 66h0m0 5h0m-3 0h0m0-2h0m-2 3h0m-2-8h0m-1 6h0m0 3h0m0-6h0m-5-3h0m-156 9h0" stroke="#c7e9b4" stroke-width="14"/>
<g fill="#7fcdbb"><ellipse cx="1179.3" cy="2620.8" rx="5.8" ry="5.8"/></g>
<path d="M1221 2381h0m75 86h0m-18 24h0m-47-7h0m36 36h0m-13 70h0m-57 36h0m-13-10h0m-1 4h0m-4-4h0m-2 4h0m-1 5h0m-1-4h0m-32 8h0m202 12h0" stroke="#7fcdbb" stroke-width="14"/>
<g fill="#41b6c4"><ellipse cx="1192.2" cy="2526.6" rx="6.6" ry="6.6"/></g>
<path d="M1159 2471h0" stroke="#41b6c4" stroke-width="16"/>
<path d="M1311 2427h0m-159 67h0m-17 16h0m60 16h0m-1 3h0m-2-7h0m-2 10h0m-1 0h0m-1 0h0m-1 0h0m-78 9h0m163 12h0m-181 19h0m49 41h0m73 0h0" stroke="#41b6c4" stroke-width="14"/>
<g fill="#1d91c0"><ellipse cx="1179.3" cy="2494" rx="9.7" ry="9.7"/><ellipse cx="1236.2" cy="2468.1" rx="5" ry="5"/><ellipse cx="1264.7" cy="2538" rx="9.7" ry="9.7"/><ellipse cx="1200" cy="2592.3" rx="5.8" ry="5.8"/><ellipse cx="1153.4" cy="2602.7" rx="7.8" ry="7.8"/></g>
<path d="M1235 2468h0m4-1h0m0-3h0m18 6h0m-21 3h0m-1 0h0m-54 16h0m-6-5h0m-2 5h0m-3 6h0m-1 0h0m-1-1h0m2 4h0m1-2h0m3 2h0m3 5h0m1 2h0m0-4h0m1-4h0m6 1h0m88 38h0m-3-3h0m-3 1h0m0 8h0m-1-15h0m-1 12h0m-2-4h0m-3-2h0m-1 5h0m-3 2h0m-1 4h0m12 0h0m2 0h0m2 2h0m-70 45h0m-3-1h0m-3 1h0m-49 12h0m3 0h0m2-6h0m1-2h0m2 2h0m0 11h0m3-6h0m1 0h0m1-1h0m1-3h0m35-3h0m8 3h0m2-2h0" stroke="#1d91c0" stroke-width="14"/>
<g fill="#225ea8"><ellipse cx="1153.4" cy="2535.4" rx="11.3" ry="11.3"/><ellipse cx="1166.3" cy="2579.4" rx="9.7" ry="9.7"/></g>
<path d="M1187 2556h0" stroke="#225ea8" stroke-width="16"/>
<path d="M1304 2427h0m-138 114h0m-9-3h0m0-15h0m-2 14h0m0-13h0m-2 13h0m0-12h0m-1-3h0m-4 7h0m-1 14h0m-5-4h0m4 8h0m1-3h0m1 0h0m1 2h0m1-1h0m2 2h0m2 1h0m21 35h0m0 5h0m-1-11h0m-1-7h0m0 18h0m-1-4h0m-3 2h0m-3 1h0m-3-2h0m-1 5h0m-2-4h0m-1 2h0m-1-17h0m-3 6h0" stroke="#225ea8" stroke-width="14"/>
<g fill="#253494"><ellipse cx="1238.8" cy="2558.7" rx="9.7" ry="9.7"/><ellipse cx="1207.7" cy="2574.2" rx="8.9" ry="8.9"/><ellipse cx="1132.7" cy="2592.3" rx="5.8" ry="5.8"/></g>
<path d="M1203 2565h0m4-1h0m0 1h0m5 0h0m9-1h0m9-13h0m1 14h0m0-5h0m0-2h0m2 7h0m2-8h0m2 2h0m1 3h0m0-2h0m3 5h0m1-16h0m6 9h0m-12 10h0m-3 0h0m-18 1h0m-1 6h0m0 5h0m0-2h0m-5 2h0m0-2h0m-4-5h0m-4 0h0m-65 15h0m-2 2h0m0 4h0m0 4h0m0-2h0m1-1h0" stroke="#253494" stroke-width="14"/>
<g fill="#081d58"><ellipse cx="1228.5" cy="2431.9" rx="15.5" ry="15.5"/><ellipse cx="1277.6" cy="2424.1" rx="15.5" ry="15.5"/><ellipse cx="1251.7" cy="2434.5" rx="7.8" ry="7.8"/><ellipse cx="1117.2" cy="2574.2" rx="15.5" ry="15.5"/></g>
<path d="M1222 2418h0m1 1h0m0 1h0m6-5h0m1 5h0m1-3h0m2 1h0m12 3h0m18-5h0m1 0h0m4-4h0m7 11h0m0-15h0m1 3h0m0 6h0m4-1h0m0 3h0m7-11h0m6 6h0m1 6h0m2 1h0m-2 3h0m-3 14h0m-2 1h0m-1-15h0m-1 3h0m0-2h0m-1 2h0m-1 14h0m-4-7h0m0-10h0m-1 5h0m-3 15h0m-2-13h0m-1 6h0m-2-6h0m-1 0h0m-1 11h0m-3-17h0m-11 5h0m0-2h0m-2 1h0m0 6h0m0-5h0m-1 7h0m-1-3h0m-1 6h0m0 3h0m-5-12h0m0 9h0m-1-8h0m-2 2h0m-3 6h0m-1 3h0m-3 2h0m-1-20h0m0 3h0m-1 6h0m-1 13h0m0-14h0m0 8h0m-1-4h0m-2 5h0m-1 4h0m0-18h0m-1 19h0m-9-1h0m-1-5h0m0-9h0m-3-3h0m-2 14h0m11 5h0m-114 116h0m0-3h0m1-5h0m2 1h0m0 9h0m0-4h0m1-6h0m5 0h0m6 5h0m2 2h0m0-3h0m0-2h0m2 9h0m3-4h0m1-1h0m1 12h0m-4 12h0m-3-15h0m-3 12h0m-2 5h0m-3 3h0m0-16h0m-3 7h0m0 6h0m-4-5h0m-1-4h0m0 2h0m-7-5h0m-2 0h0m-1 5h0m23 11h0" stroke="#081d58" stroke-width="14"/>
<use href="#bgd1" x="1763" y="0"/>
<path d="M1829 2367h0m-245 102h0m97 61h0m-31 13h0" stroke="#fdfdd0" stroke-width="14"/>
<g fill="#edf8b1"><ellipse cx="1782.3" cy="2600.1" rx="7.8" ry="7.8"/><ellipse cx="1813.3" cy="2444.8" rx="6.6" ry="6.6"/></g>
<path d="M1818 2441h0m-1 2h0m-2-1h0m-2 3h0m-4 1h0m6 4h0m1 1h0m-39 144h0m2 6h0m2 8h0m0-16h0m1 0h0m1 15h0m0 0h0m2-4h0m0-7h0m5-2h0" stroke="#edf8b1" stroke-width="14"/>
<g fill="#c7e9b4"><ellipse cx="1707.2" cy="2339.7" rx="5.8" ry="5.8"/></g>
<path d="M1711 2335h0m-1 6h0m-1 1h0m-1-7h0m-2 10h0m-2-1h0m-64 129h0m0 24h0" stroke="#c7e9b4" stroke-width="14"/>
<g fill="#7fcdbb"><ellipse cx="1652.9" cy="2576.8" rx="5.8" ry="5.8"/></g>
<path d="M1697 2362h0m-23 129h0m38 13h0m44 34h0m57 10h0m-157 28h0m-1-3h0m-1 10h0m-5-5h0m0-5h0m-1 1h0m31 21h0m105 43h0" stroke="#7fcdbb" stroke-width="14"/>
<g fill="#41b6c4"><ellipse cx="1676.2" cy="2631.1" rx="11.6" ry="11.6"/><ellipse cx="1727.9" cy="2512.1" rx="7.8" ry="7.8"/></g>
<path d="M1751 2447h0m-28 64h0m2 3h0m0 2h0m1 3h0m2-9h0m2 4h0m1-9h0m1 0h0m1 12h0m2-5h0m81 29h0m-210 49h0m104 28h0m-22 11h0m-2 0h0m-1 4h0m-4 2h0m-2-16h0m0 15h0m-1-7h0m-2 7h0m-1-2h0m-1-14h0m0 5h0m-1 4h0m-1 10h0m-2-4h0m-1-9h0m-1 15h0m-1-18h0m-1 10h0m0 1h0m-31 9h0m23 0h0" stroke="#41b6c4" stroke-width="14"/>
<path d="M1935 2571h0" stroke="#41b6c4" stroke-width="6"/>
<path d="M1922 2569h0" stroke="#41b6c4" stroke-width="4"/>
<g fill="#1d91c0"><ellipse cx="1787.5" cy="2473.3" rx="6.6" ry="6.6"/><ellipse cx="1823.7" cy="2504.3" rx="5.8" ry="5.8"/><ellipse cx="1629.6" cy="2613" rx="9.7" ry="9.7"/></g>
<path d="M1736 2429h0m-34-3h0m79 44h0m3-2h0m4 0h0m6 5h0m0 0h0m-6 1h0m-1-2h0m30 33h0m1 0h0m6 2h0m0-1h0m1 2h0m2-9h0m-31 36h0m-178 77h0m1 3h0m4-8h0m1 6h0m3-4h0m2-8h0m1 6h0m1 8h0m2-6h0m2-6h0m5 5h0m5-11h0m-5 29h0m-7-2h0m-1-8h0m-5 6h0" stroke="#1d91c0" stroke-width="14"/>
<g fill="#225ea8"><ellipse cx="1730.5" cy="2439.6" rx="5.8" ry="5.8"/></g>
<path d="M1737 2439h0m-3 3h0m-1 1h0m0-6h0m-1 2h0m-4-2h0m22 32h0m-22 4h0m-29 160h0" stroke="#225ea8" stroke-width="14"/>
<g fill="#253494"><ellipse cx="1805.6" cy="2512.1" rx="9.7" ry="9.7"/></g>
<path d="M1715 2639h0" stroke="#253494" stroke-width="16"/>
<path d="M1798 2514h0m1-3h0m2 2h0m2 6h0m1-4h0m3 2h0m1-16h0m1 2h0m1 8h0m4 8h0m-4 3h0m-1-1h0m-2-1h0m-7 1h0" stroke="#253494" stroke-width="14"/>
<g fill="#081d58"><ellipse cx="1743.5" cy="2646.7" rx="17.5" ry="13.6"/></g>
<path d="M1760 2639h0m-5-4h0m-2-3h0m-3 0h0m-4-1h0m-4 1h0m-7 1h0m-1 2h0m-2 3h0m-9 10h0m7 5h0m1-13h0m0 15h0m2 0h0m1-8h0m1 3h0m3 3h0m1-9h0m1 0h0m1-3h0m2 4h0m2-4h0m6 6h0m1 7h0m0-1h0m6 0h0m4 3h0m1-10h0m0-5h0m0-1h0m1 1h0" stroke="#081d58" stroke-width="14"/>
<use href="#bgd1" x="2255.4" y="0"/>
<path d="M2309 2358h0m55 57h0m-284 40h0m-10 61h0m188 48h0m-130 32h0m81 18h0m21-9h0m-34 12h0m-54 33h0m191-1h0m11 6h0m10-8h0" stroke="#fdfdd0" stroke-width="14"/>
<path d="M2411 2577h0" stroke="#edf8b1" stroke-width="16"/>
<path d="M2125 2412h0m232 129h0m2 15h0m-1 70h0" stroke="#edf8b1" stroke-width="14"/>
<path d="M2085 2548h0" stroke="#c7e9b4" stroke-width="16"/>
<path d="M2311 2454h0m-1 76h0" stroke="#c7e9b4" stroke-width="14"/>
<path d="M2181 2534h0" stroke="#c7e9b4" stroke-width="12"/>
<g fill="#7fcdbb"><ellipse cx="2362" cy="2465.5" rx="5" ry="5"/></g>
<path d="M2357 2463h0m4-3h0m2 5h0m1-1h0m2-2h0m6 2h0" stroke="#7fcdbb" stroke-width="14"/>
<g fill="#41b6c4"><ellipse cx="2349" cy="2475.9" rx="5.8" ry="5.8"/></g>
<path d="M2199 2339h0" stroke="#41b6c4" stroke-width="16"/>
<path d="M2350 2471h0m4 8h0m0-5h0m-2-2h0m-5 8h0m-1 2h0" stroke="#41b6c4" stroke-width="14"/>
<g fill="#1d91c0"><ellipse cx="2279.2" cy="2478.4" rx="5" ry="5"/></g>
<path d="M2285 2480h0m-6-5h0m0 4h0m-3 2h0m-2-3h0" stroke="#1d91c0" stroke-width="14"/>
<path d="M2324 2489h0m-59 2h0" stroke="#1d91c0" stroke-width="10"/>
<path d="M2277 2494h0" stroke="#1d91c0" stroke-width="8"/>
<path d="M2192 2350h0" stroke="#225ea8" stroke-width="10"/>
<path d="M2238 2482h0m-16-9h0" stroke="#253494" stroke-width="14"/>
<path d="M2177 2378h0m-26 80h0" stroke="#253494" stroke-width="12"/>
<path d="M2181 2355h0m-28 118h0" stroke="#253494" stroke-width="8"/>
<path d="M2188 2386h0m-5 98h0" stroke="#081d58" stroke-width="12"/>
<path d="M2196 2428h0" stroke="#081d58" stroke-width="10"/>
<path d="M2203 2385h0m-3 19h0m12 33h0m-2 17h0m-16 30h0" stroke="#081d58" stroke-width="8"/>
<use href="#bgd1" x="2747.8" y="0"/>
<path d="M2843 2419h0m-271 47h0m20 49h0m-21 49h0m359 13h0m-299 25h0m124 27h0m-51 2h0m-8-8h0m-20 16h0m-9-18h0" stroke="#fdfdd0" stroke-width="14"/>
<g fill="#edf8b1"><ellipse cx="2618.2" cy="2540.6" rx="5.8" ry="5.8"/></g>
<path d="M2808 2367h0m3-1h0m4 6h0m2 3h0m0-4h0m2-1h0m-204 44h0m3-11h0m223 26h0m-251 56h0m317 27h0m-2 21h0m-284 3h0m-2 2h0m-5 3h0m-2-2h0m0 2h0m3 4h0m32 6h0m33 1h0m112 8h0m119 12h0m-8 12h0" stroke="#edf8b1" stroke-width="14"/>
<path d="M2851 2477h0" stroke="#c7e9b4" stroke-width="16"/>
<path d="M2698 2328h0m43 81h0m59 38h0m32 35h0m-170 48h0m107 39h0m84 60h0" stroke="#c7e9b4" stroke-width="14"/>
<path d="M2615 2446h0m207 180h0" stroke="#7fcdbb" stroke-width="16"/>
<path d="M2815 2491h0" stroke="#7fcdbb" stroke-width="14"/>
<g fill="#41b6c4"><ellipse cx="2693.2" cy="2341.3" rx="5" ry="5"/></g>
<path d="M2694 2339h0m0 0h0m-1 2h0m-2-4h0m-2 6h0m29 54h0m18 34h0m96 213h0m11-3h0" stroke="#41b6c4" stroke-width="14"/>
<g fill="#1d91c0"><ellipse cx="2631.1" cy="2465.5" rx="5" ry="5"/><ellipse cx="2636.3" cy="2491.4" rx="7.8" ry="7.8"/><ellipse cx="2745" cy="2539.5" rx="7.8" ry="7.8"/></g>
<path d="M2626 2465h0m2 1h0m4 2h0m0 2h0m1-3h0m14 19h0m-4 1h0m-2 8h0m0-1h0m-2-1h0m-3-9h0m-1 4h0m-3 7h0m-2-6h0m8 10h0m2 0h0m54 5h0m58 33h0m-4-3h0m-6 7h0m-1-4h0m0-1h0m-1 3h0m-1 0h0m-1 1h0m1 4h0m1 3h0" stroke="#1d91c0" stroke-width="14"/>
<g fill="#225ea8"><ellipse cx="2680.3" cy="2356.8" rx="7.8" ry="7.8"/><ellipse cx="2661.1" cy="2398.2" rx="5.8" ry="5.8"/></g>
<path d="M2681 2348h0m-9 7h0m2 11h0m1-14h0m0 4h0m6 1h0m1 6h0m0-9h0m0 5h0m4 3h0m2-3h0m-24 38h0m-1-3h0m-4-1h0m-2 9h0m3-2h0m3 2h0m13 83h0" stroke="#225ea8" stroke-width="14"/>
<path d="M2698 2429h0" stroke="#253494" stroke-width="16"/>
<path d="M2692 2384h0m0 19h0m16 20h0m1 17h0m-34-11h0m10 31h0m94 21h0" stroke="#253494" stroke-width="14"/>
<g fill="#081d58"><ellipse cx="2766.7" cy="2475.9" rx="5" ry="5"/><ellipse cx="2755.3" cy="2495" rx="5.8" ry="5.8"/></g>
<path d="M2688 2441h0m26 32h0" stroke="#081d58" stroke-width="16"/>
<path d="M2701 2455h0m71 21h0m-3 3h0m0-5h0m-1 19h0m-2-18h0m-4-1h0m-7 20h0m-3-3h0m-2 3h0m-16-22h0m15 25h0m4 0h0m5 0h0" stroke="#081d58" stroke-width="14"/>
<use href="#bgd1" x="3240.2" y="0"/>
<path d="M3180 2345h0m-1 3h0m-13 10h0m1 1h0m2-2h0m1 0h0m28 83h0m-78 7h0m-52-19h0m42 22h0m53 34h0m-43 0h0m-57 95h0" stroke="#fdfdd0" stroke-width="14"/>
<g fill="#edf8b1"><ellipse cx="3112.5" cy="2536.4" rx="5" ry="5"/></g>
<path d="M3164 2526h0m-49 13h0m-1-6h0m-2 8h0m-2-4h0m-3-1h0m29 10h0m-55 31h0" stroke="#edf8b1" stroke-width="14"/>
<path d="M3102 2563h0m26 1h0m-28 13h0" stroke="#c7e9b4" stroke-width="14"/>
<path d="M3239 2560h0" stroke="#7fcdbb" stroke-width="16"/>
<path d="M3194 2512h0m96 36h0m-158 26h0m77 22h0m54 4h0m-153 41h0m48 6h0" stroke="#7fcdbb" stroke-width="14"/>
<g fill="#41b6c4"><ellipse cx="3208.2" cy="2506.9" rx="6.6" ry="6.6"/><ellipse cx="3135.8" cy="2640.5" rx="5" ry="5"/></g>
<path d="M3259 2490h0m-57 17h0m0 4h0m2-7h0m0-2h0m8 9h0m0-10h0m3 8h0m6-2h0m78 29h0m-202 64h0m103 13h0m-63 23h0m-2 2h0m-43-17h0m41 23h0m5-3h0m1 0h0" stroke="#41b6c4" stroke-width="14"/>
<g fill="#1d91c0"><ellipse cx="3177.2" cy="2571.6" rx="5" ry="5"/><ellipse cx="3109.9" cy="2613" rx="11.6" ry="11.6"/><ellipse cx="3146.1" cy="2620.8" rx="9.7" ry="9.7"/></g>
<path d="M3164 2587h0" stroke="#1d91c0" stroke-width="16"/>
<path d="M3243 2540h0m-14-6h0m-9 18h0m-39 21h0m-1-2h0m-1 0h0m-1 2h0m-5-1h0m-76 38h0m3 5h0m1-12h0m4 11h0m5-3h0m1-3h0m2-7h0m0 0h0m1 3h0m0 10h0m2-5h0m1-8h0m4 11h0m1-3h0m21 4h0m5-3h0m1 0h0m18-13h0m94 39h0m-68-10h0m-34-10h0m-6 8h0m-1-4h0m-2 1h0m0 1h0m-2 7h0m-2-11h0m0 4h0m-1-6h0m-2 12h0m-3-1h0m-5-5h0m-16-4h0m-1-1h0m-3 1h0m-9 3h0m-3 3h0" stroke="#1d91c0" stroke-width="14"/>
<path d="M3301 2504h0" stroke="#225ea8" stroke-width="14"/>
<path d="M3274 2535h0m-71 109h0" stroke="#253494" stroke-width="14"/>
<g fill="#081d58"><ellipse cx="3280.7" cy="2512.1" rx="10.5" ry="5.8"/><ellipse cx="3223.7" cy="2649.3" rx="15.5" ry="11.6"/></g>
<path d="M3272 2513h0m4-3h0m1 1h0m0 2h0m0-1h0m3 6h0m0-6h0m4 2h0m0-1h0m7-3h0m-64 127h0m-6 2h0m-12 5h0m2-4h0m2 12h0m3 1h0m1-10h0m1 14h0m1-7h0m2-6h0m0 11h0m2 3h0m1-17h0m5-1h0m5 1h0m2 15h0m0-10h0m1 6h0m0-3h0m1 1h0m2-4h0m1 3h0m2 0h0m0 0h0" stroke="#081d58" stroke-width="14"/>
<use href="#bgd1" x="3732.6" y="0"/>
<g fill="#fdfdd0"><ellipse cx="3692.2" cy="2430.8" rx="21.4" ry="8.2"/><ellipse cx="3775" cy="2442.2" rx="7.8" ry="7.8"/><ellipse cx="3601.6" cy="2620.8" rx="9.7" ry="9.7"/></g>
<path d="M3784 2439h0m-1-1h0m-2 8h0m0-1h0m-7-11h0m-2 12h0m-1-9h0m0 7h0m-4-4h0m-53-12h0m-1 5h0m0-7h0m0 9h0m-1-5h0m0 3h0m-1 4h0m-1-5h0m0-1h0m-1-1h0m-4 5h0m0-9h0m-4 4h0m-1 9h0m-3-11h0m0-2h0m-2 1h0m0 5h0m-2 6h0m-7-9h0m-2 3h0m-8-5h0m-10 6h0m-1-2h0m-27 28h0m131-10h0m-69 61h0m88 27h0m-39 29h0m-194 20h0m41 27h0m86 26h0m-72-17h0m-5 6h0m0-12h0m0 6h0m-1 1h0m-1-7h0m0 12h0m-2-6h0m-1 9h0m-1-14h0m-5 6h0m-1-4h0m-1 1h0m23 27h0" stroke="#fdfdd0" stroke-width="14"/>
<g fill="#edf8b1"><ellipse cx="3769.8" cy="2512.1" rx="12.8" ry="5.8" transform="rotate(-35 3769.8 2512.1)"/></g>
<path d="M3791 2366h0m0 1h0m3 0h0m1 1h0m1-3h0m1 6h0m6 2h0m-41 142h0m5-3h0m1 7h0m0-1h0m3 1h0m0-4h0m2 3h0m1-15h0m0 11h0m4-7h0m5-2h0m-20 17h0m-1 13h0" stroke="#edf8b1" stroke-width="14"/>
<path d="M3788 2499h0m-39 96h0m10 67h0" stroke="#c7e9b4" stroke-width="14"/>
<g fill="#7fcdbb"><ellipse cx="3816.4" cy="2427.7" rx="5" ry="5"/><ellipse cx="3829.3" cy="2545.7" rx="5" ry="9.7"/><ellipse cx="3749.1" cy="2602.7" rx="6.6" ry="6.6"/><ellipse cx="3720.6" cy="2648.2" rx="7.8" ry="7.8"/></g>
<path d="M3866 2415h0" stroke="#7fcdbb" stroke-width="16"/>
<path d="M3819 2424h0m-1 1h0m-3-1h0m-2 5h0m-1 2h0m-16 58h0m38 53h0m-2-2h0m-3-5h0m-1 8h0m-4 7h0m2-3h0m1 6h0m6-8h0m-91 61h0m4-4h0m3 0h0m0-1h0m1-3h0m1 10h0m1-3h0m-38 40h0m1 9h0m0 0h0m1-7h0m0 4h0m2-9h0m2 11h0m1 2h0m3-12h0m1-2h0" stroke="#7fcdbb" stroke-width="14"/>
<g fill="#41b6c4"><ellipse cx="3829.3" cy="2468.1" rx="14.4" ry="8.2" transform="rotate(-15 3829.3 2468.1)"/><ellipse cx="3743.9" cy="2623.4" rx="9.7" ry="9.7"/></g>
<path d="M3820 2465h0m6-4h0m0 10h0m1-11h0m3 2h0m3 4h0m1-4h0m2 3h0m7-3h0m2 5h0m-3 6h0m-4-1h0m-4 2h0m-14 3h0m-3-1h0m-1-2h0m-1 0h0m64 101h0m-127 57h0m-1 0h0m0-3h0m-1-9h0m0 3h0m-1 11h0m-3 1h0m-1-1h0m-1 0h0m-2 0h0m-3-11h0m-2 8h0m-1-2h0m-2-3h0" stroke="#41b6c4" stroke-width="14"/>
<g fill="#1d91c0"><ellipse cx="3909.6" cy="2460.3" rx="9.7" ry="9.7"/><ellipse cx="3746.5" cy="2628.6" rx="7.4" ry="7.4"/></g>
<path d="M3898 2462h0m3-7h0m2 6h0m2-11h0m0 13h0m4-1h0m1-4h0m1 0h0m1 10h0m1-11h0m1-5h0m1 4h0m1 0h0m3 9h0m-165 162h0m-3-4h0m0 3h0m-1 9h0m-4-4h0m0 2h0m-2-1h0m-3-2h0m-2-5h0m35 19h0" stroke="#1d91c0" stroke-width="14"/>
<g fill="#225ea8"><ellipse cx="3907" cy="2456.2" rx="6.6" ry="9.7"/><ellipse cx="3885.2" cy="2509.5" rx="5" ry="5"/></g>
<path d="M3901 2455h0m0-2h0m3-2h0m0 7h0m3 1h0m0 6h0m1-14h0m1 8h0m0-9h0m2 5h0m-27 55h0m2-1h0m1 4h0m0-3h0m1-1h0" stroke="#225ea8" stroke-width="14"/>
<path d="M3806 2605h0" stroke="#253494" stroke-width="14"/>
<path d="M3814 2654h0" stroke="#081d58" stroke-width="16"/>
<path d="M3830 2626h0m-2-8h0m-27 0h0m-5 12h0m7 11h0m16 21h0m8-18h0" stroke="#081d58" stroke-width="14"/>
<g fill="#ee8468"><ellipse cx="247" cy="2752.1" rx="9.1" ry="5.7"/></g>
<path d="M234 2757h0m0-3h0m1-3h0m2 4h0m2-11h0m3 7h0m2-7h0m1 15h0m1-14h0m0 8h0m2 1h0m4-8h0m3 12h0m1-1h0m2 2h0m-7 1h0" stroke="#ee8468" stroke-width="6.8"/>
<g fill="#dcdcdc"><ellipse cx="239.3" cy="2789.4" rx="12.8" ry="12.8"/></g>
<path d="M256 2782h0m-4-3h0m-1-7h0m-1 2h0m0-4h0m-1 1h0m-1 8h0m-1-8h0m-1 7h0m-9-1h0m-4 4h0m-2-4h0m-2 0h0m0 2h0m-4 0h0m-7 7h0m2 2h0m1-1h0m1 0h0m0-2h0m1 17h0m0-10h0m1-2h0m2 9h0m1-3h0m0 5h0m1-2h0m3-1h0m1 5h0m2-8h0m0-3h0m1-7h0m2 11h0m1-6h0m0 8h0m3 6h0m2-13h0m1 10h0m0-11h0m3 8h0m0 9h0m0-9h0m1-5h0m1-3h0m0-4h0m1 16h0m3 1h0m2-19h0m2 17h0m1-17h0m-24 26h0" stroke="#dcdcdc" stroke-width="6.8"/>
<g fill="#e8765c"><ellipse cx="360.9" cy="2802.3" rx="3.4" ry="3.4"/><ellipse cx="420.4" cy="2934.3" rx="9.1" ry="4" transform="rotate(40 420.4 2934.3)"/></g>
<path d="M361 2798h0m0 2h0m5 1h0m45 131h0m2-1h0m1-3h0m0 2h0m1 6h0m2-3h0m2 7h0m3 2h0m3-2h0m1-9h0m3 3h0" stroke="#e8765c" stroke-width="6.8"/>
<g fill="#ead0c3"><ellipse cx="376.4" cy="2823" rx="12" ry="4.6" transform="rotate(35 376.4 2823)"/></g>
<path d="M386 2824h0m-2 6h0m0-5h0m0-4h0m-4-1h0m-2 7h0m-1-2h0m0 6h0m0-14h0m-3 12h0m-1-8h0m-4-10h0m-1-1h0m0 14h0m0-12h0m9 20h0" stroke="#ead0c3" stroke-width="6.8"/>
<g fill="#f0cfc0"><ellipse cx="282.2" cy="2823" rx="8.5" ry="15.7"/><ellipse cx="283.3" cy="2852.5" rx="12" ry="10.2"/></g>
<path d="M272 2806h0m0 1h0m0-2h0m1 2h0m0-3h0m4 3h0m1-8h0m10 1h0m4 4h0m4 21h0m-3 4h0m0-4h0m-4-2h0m-1-3h0m0-11h0m0 12h0m-1 7h0m0-1h0m0-2h0m-2 3h0m-3-13h0m-1 6h0m0 5h0m0-3h0m-1 8h0m0-3h0m-2-8h0m-5-8h0m0 17h0m-3 0h0m-5 24h0m5-17h0m1-4h0m0 7h0m1 13h0m1-13h0m1 15h0m0-1h0m2-6h0m0-4h0m1-10h0m0 0h0m0 22h0m0-12h0m1-7h0m2-4h0m0 15h0m0-13h0m0 1h0m2 6h0m1 1h0m1-5h0m5 10h0m0 3h0m1-5h0m1 5h0m2 2h0m1-14h0m0 7h0m1 6h0m4 3h0m0-4h0m2 2h0m-2 9h0m-1-4h0m0 2h0m-8-3h0m-3 10h0m-3-7h0m0 8h0m-3-9h0m-2 1h0m-2 2h0m-2-4h0m-2-1h0m-2 7h0m0-2h0m-1 2h0m-2-4h0" stroke="#f0cfc0" stroke-width="6.8"/>
<g fill="#f4a582"><ellipse cx="191.1" cy="2830.8" rx="5.7" ry="6.3"/><ellipse cx="117.6" cy="2979.9" rx="13.1" ry="8"/><ellipse cx="237.7" cy="3040.4" rx="5.7" ry="6.3"/></g>
<path d="M196 2830h0m-1-8h0m-1 5h0m-1 0h0m0 3h0m-1-1h0m-1-3h0m-6 3h0m4 7h0m1-2h0m4 2h0m-59 136h0m-4 3h0m-4-5h0m-2 1h0m-1 1h0m-1-3h0m-3 3h0m0-3h0m-11 5h0m-2-3h0m-4 3h0m-4 0h0m0 9h0m5-3h0m1 4h0m3 8h0m4-12h0m0 1h0m0 11h0m1-7h0m4 7h0m3-12h0m0 12h0m3-12h0m2-1h0m3 5h0m0 5h0m4-9h0m1 7h0m1-1h0m3-8h0m2 2h0m93 54h0m1 4h0m3 4h0m1-7h0m1-5h0m3 14h0m3 3h0m0-8h0m1 2h0m0 6h0m1-10h0" stroke="#f4a582" stroke-width="6.8"/>
<g fill="#d0d5e2"><ellipse cx="218.6" cy="2867" rx="12.8" ry="12"/><ellipse cx="252.2" cy="3001.6" rx="10.2" ry="15.7"/></g>
<path d="M200 2855h0m23-4h0m2 1h0m2-1h0m2-2h0m3 5h0m0-2h0m7 15h0m-3-8h0m-1 8h0m-1 0h0m-1-7h0m-1 12h0m-1 3h0m-3-9h0m-3 3h0m0 4h0m0-12h0m-1 8h0m-3 3h0m-2-9h0m-1 4h0m0 11h0m0-17h0m-1 14h0m-2-9h0m-1 9h0m-2-18h0m-2 18h0m-1-12h0m0 0h0m-3-1h0m0 14h0m-1-8h0m-1-12h0m0 22h0m-2 1h0m-1-22h0m-1 1h0m0 4h0m-1 10h0m7 8h0m4 0h0m4 6h0m8-2h0m1 1h0m1-4h0m15 106h0m2-6h0m1 2h0m1-2h0m3 16h0m0 2h0m1-13h0m1-5h0m2 13h0m1-10h0m1-2h0m1-5h0m3 15h0m1-13h0m1 2h0m2 17h0m0-1h0m1-2h0m1-3h0m1-11h0m1 1h0m4 13h0m0 5h0m-1 9h0m0 3h0m-1-9h0m0 13h0m0-5h0m-3-6h0m-3-4h0m-1 1h0m-1 20h0m-1-14h0m-1-1h0m-1 4h0m-1-9h0m-2 12h0m-3-1h0m-1-9h0m-1 5h0m-2 13h0m-2-21h0m-1 4h0m-2 0h0m0 14h0m-3-16h0m-1 4h0m8 17h0m12 4h0" stroke="#d0d5e2" stroke-width="6.8"/>
<g fill="#8caffe"><ellipse cx="260" cy="2864.5" rx="9.1" ry="8"/><ellipse cx="213.4" cy="2918.8" rx="10.2" ry="10.2"/><ellipse cx="306.6" cy="2911" rx="8.5" ry="8.5"/></g>
<path d="M253 2853h0m3 0h0m1 1h0m3-3h0m2 3h0m11 15h0m-3 2h0m-1-10h0m-1 11h0m-2-15h0m-1 1h0m-1 18h0m0-12h0m-1 0h0m-1 6h0m0-10h0m-1 4h0m0-3h0m-6-4h0m0 0h0m-5 2h0m-2 10h0m71 37h0m-2-1h0m0 0h0m-2 13h0m0-7h0m-3 4h0m-2 6h0m-2-11h0m0 11h0m-2-15h0m0 3h0m0-4h0m-2 18h0m0-9h0m-1-3h0m0 4h0m0 3h0m0-5h0m-3 9h0m-2-14h0m0 5h0m-2 0h0m-67 3h0m0 9h0m0-1h0m-1 0h0m-1-5h0m0-10h0m-1 2h0m-1 14h0m-3-10h0m0 4h0m-3-10h0m-2 7h0m-1 2h0m-5 8h0m-2-5h0m-1 4h0m-2-21h0m0 18h0m-1-2h0m-1 2h0m-1-6h0m-1-6h0m-4 14h0m0-1h0m-1 3h0m7 5h0m4-3h0m1 4h0m0-3h0m1-1h0m17 1h0m0 0h0" stroke="#8caffe" stroke-width="6.8"/>
<g fill="#a5c3fe"><ellipse cx="332.4" cy="2880" rx="8" ry="8.5"/><ellipse cx="311.7" cy="3035.3" rx="12" ry="11.4"/></g>
<path d="M345 2877h0m-4 1h0m-1-2h0m-1-3h0m-3 4h0m-1 1h0m-2 0h0m-5-9h0m0 9h0m0 1h0m-9 2h0m4 9h0m2-10h0m1 4h0m7 9h0m0-6h0m5-5h0m0-1h0m0 10h0m2-8h0m6 0h0m-27 137h0m-3-4h0m-6 6h0m0-4h0m-2 3h0m-15 14h0m1 7h0m0-3h0m3 1h0m2-13h0m0 14h0m7-12h0m1 8h0m1 5h0m4-16h0m2 3h0m1 10h0m1 2h0m1-13h0m1 12h0m0 0h0m3-3h0m3 5h0m1-13h0m1 9h0m0-9h0m1 18h0m1-6h0m1-4h0m1 1h0m0 4h0m0-12h0m0 0h0m1 2h0m0 11h0m0-5h0m1-3h0m-10 13h0m-16 4h0m0 0h0m-2 1h0m-7-4h0" stroke="#a5c3fe" stroke-width="6.8"/>
<g fill="#d8d8dc"><ellipse cx="402.3" cy="2872.2" rx="10.2" ry="4.3" transform="rotate(15 402.3 2872.2)"/></g>
<path d="M417 2873h0m-7 5h0m0 1h0m-7 0h0m0-9h0m0 2h0m-1 6h0m-1-4h0m-4-2h0m-4-4h0m-2 0h0m-1 6h0m0-5h0" stroke="#d8d8dc" stroke-width="6.8"/>
<g fill="#e6d0c6"><ellipse cx="438.6" cy="2895.5" rx="14.2" ry="12.8"/></g>
<path d="M445 2876h0m-4-2h0m-4 4h0m-8 0h0m-15 18h0m1-1h0m2 0h0m2 3h0m3-8h0m1-3h0m1 3h0m4-2h0m0 9h0m1-2h0m1-11h0m1-3h0m0 16h0m0 2h0m1-19h0m1 17h0m1-10h0m2 13h0m1-12h0m4 2h0m0 0h0m1-8h0m2 7h0m2 11h0m0-11h0m0 0h0m1 11h0m1-14h0m0 6h0m3-8h0m2-2h0m0 8h0m1 11h0m3-18h0m1 13h0m5-1h0m-8 11h0m-11 3h0m0 6h0m-1-1h0m-1 2h0m0-9h0m0 6h0m-2-5h0m-2 8h0m-6-11h0m-4 9h0m-4-7h0m0 2h0m-3 0h0m-1-1h0m-3-3h0" stroke="#e6d0c6" stroke-width="6.8"/>
<g fill="#b3cdfb"><ellipse cx="153.9" cy="2905.9" rx="17.7" ry="22.8"/></g>
<path d="M168 2876h0m-2-6h0m-2 4h0m-1 0h0m-1 2h0m-7-5h0m-2 6h0m-2-8h0m-1 10h0m0-6h0m-1-2h0m0-3h0m-6 7h0m-3 1h0m-2 2h0m-12 23h0m4-10h0m0-6h0m2 1h0m0-4h0m1 15h0m1-1h0m2 3h0m3-15h0m0 11h0m0-13h0m6 18h0m0-2h0m0 0h0m0-10h0m1 11h0m1-16h0m2 3h0m1 0h0m2-4h0m0 14h0m0 7h0m1-17h0m1-1h0m2 0h0m1 6h0m1-2h0m0-3h0m4 13h0m1 3h0m0 0h0m1-15h0m1 10h0m4-15h0m1 15h0m1 0h0m0-2h0m5-13h0m0 10h0m1-5h0m1 4h0m1-3h0m0 4h0m1 8h0m0-1h0m2 0h0m2 2h0m0 2h0m0-1h0m-3 7h0m-1 16h0m-1-17h0m-1-1h0m0-1h0m-1 15h0m0-10h0m-2-5h0m-2 18h0m0 3h0m-2-5h0m-1 3h0m-2-14h0m-2-1h0m-3 7h0m-3-6h0m0 4h0m-2-9h0m0 20h0m0-3h0m-2 1h0m0-8h0m-3 2h0m-2 0h0m0-8h0m0 13h0m0-10h0m-2 10h0m0-18h0m-5 22h0m-2-6h0m-1 4h0m0 2h0m-2-3h0m-1-20h0m-2 16h0m-1-12h0m-5-3h0m-3 16h0m-1-13h0m-1 2h0m-1-2h0m17 31h0m1 0h0m2-5h0m0 2h0m4 8h0m3 0h0m5-15h0m0 13h0m1-3h0m5-6h0m4-2h0m1 7h0m1-6h0m1-2h0m0 8h0m0-6h0m2 5h0m3-5h0m4-2h0" stroke="#b3cdfb" stroke-width="6.8"/>
<g fill="#d5d8df"><ellipse cx="125.4" cy="2908.4" rx="4.3" ry="4.3"/></g>
<path d="M132 2906h0m-4 4h0m-1-3h0m-2-1h0m-5 4h0" stroke="#d5d8df" stroke-width="6.8"/>
<g fill="#c5d3ee"><ellipse cx="262.6" cy="2929.2" rx="13.1" ry="12"/></g>
<path d="M272 2915h0m-7 0h0m0 9h0m-6 3h0m-2-3h0m-3-2h0m0 0h0m0-1h0m-1 3h0m-1-10h0m-1 0h0m-4 14h0m0 5h0m0-2h0m2 8h0m1-6h0m1 4h0m1 6h0m1-1h0m3 1h0m2-5h0m0-6h0m1 9h0m0-4h0m3 10h0m2-13h0m1 2h0m1 7h0m1-1h0m2-13h0m1 16h0m0-15h0m0 17h0m0-18h0m0 8h0m1 4h0m0 3h0m2 2h0m1-13h0m1-3h0m0 10h0m1-4h0m2 2h0m1-7h0m1 7h0m3-3h0m1-1h0m1-5h0" stroke="#c5d3ee" stroke-width="6.8"/>
<g fill="#ccd5e8"><ellipse cx="472.2" cy="2921.4" rx="4.3" ry="4.3"/><ellipse cx="448.9" cy="2993.9" rx="6.8" ry="4.3"/></g>
<path d="M477 2918h0m-6 5h0m-2-4h0m0 1h0m5 8h0m-32 60h0m0 5h0m1 0h0m3 2h0m6-3h0m1 7h0m1-8h0m0 0h0m1 5h0" stroke="#ccd5e8" stroke-width="6.8"/>
<g fill="#7b9ff9"><ellipse cx="184.9" cy="2931.7" rx="5.7" ry="5.7"/><ellipse cx="152.3" cy="2990.2" rx="3.4" ry="4"/></g>
<path d="M180 2925h0m-2 1h0m0 1h0m3 5h0m2 4h0m2 4h0m3-5h0m1-7h0m0 7h0m5 0h0m-47 57h0m2 0h0m2 2h0m1 1h0" stroke="#7b9ff9" stroke-width="6.8"/>
<g fill="#3b4cc0"><ellipse cx="218.6" cy="2965.4" rx="12" ry="10.8"/><ellipse cx="266.7" cy="2969" rx="5.7" ry="5.1"/></g>
<path d="M215 2951h0m59 14h0m-1 8h0m-2-8h0m-1-4h0m-1 12h0m-2-8h0m0 8h0m-1-7h0m-5 1h0m-25-2h0m-1-11h0m0 17h0m-3-18h0m0 21h0m-1-17h0m0 11h0m-4-6h0m-1 1h0m-2-3h0m-1-3h0m-1 2h0m-2-5h0m0 1h0m0 11h0m0-7h0m-4 7h0m0-2h0m-3-12h0m-3 10h0m-1-6h0m-2-1h0m0 20h0m0-23h0m-2 15h0m0-14h0m-1 11h0m-3 0h0m-2 7h0m8 8h0m3-3h0m1 7h0m4-2h0m1-2h0m2-1h0m2 2h0m8 2h0m5-3h0m2-3h0" stroke="#3b4cc0" stroke-width="6.8"/>
<g fill="#5572df"><ellipse cx="302.4" cy="2959.2" rx="8.5" ry="8"/></g>
<path d="M291 2951h0m11-3h0m14 7h0m0 5h0m-3 5h0m-1-3h0m0 6h0m-1-16h0m-1 19h0m-1-9h0m-1 8h0m0-3h0m-1-15h0m-6 2h0m0 1h0m-4-2h0m0 5h0m-1 12h0m-1 0h0m0-9h0m-1-6h0" stroke="#5572df" stroke-width="6.8"/>
<g fill="#b40426"><ellipse cx="173.5" cy="2973.7" rx="3.4" ry="3.4"/></g>
<path d="M174 2975h0m-4-6h0m-2 6h0" stroke="#b40426" stroke-width="6.8"/>
<g fill="#afcafc"><ellipse cx="366.1" cy="2970.6" rx="27.9" ry="28.5"/></g>
<path d="M376 2927h0m-13-3h0m-1 2h0m-38 23h0m6-6h0m2-5h0m0 5h0m2-7h0m8 1h0m3 14h0m0-23h0m0 4h0m1 15h0m1-8h0m0-3h0m4-4h0m0-2h0m0 15h0m1-16h0m2 0h0m0 11h0m0 9h0m2-1h0m1-16h0m2 16h0m4 2h0m0-15h0m1 16h0m1-18h0m0-2h0m3 14h0m2 2h0m0-1h0m0-5h0m0 1h0m1-5h0m0-9h0m4 19h0m2-7h0m0-3h0m3 14h0m0-16h0m1 3h0m1-6h0m0 15h0m0-4h0m2 3h0m3 1h0m1-7h0m11-3h0m4 11h0m0 1h0m8 14h0m-1-4h0m0 7h0m0 0h0m-2-1h0m0-10h0m-1 19h0m-1-3h0m-1-19h0m-2 17h0m0-6h0m0-8h0m-2 5h0m0 1h0m0 2h0m0 6h0m-1-9h0m0 2h0m-2 10h0m-5-1h0m0-16h0m-2 14h0m-1-15h0m-1 9h0m-3-3h0m-2 9h0m0-15h0m-7 14h0m-3-3h0m-1 0h0m-3 9h0m-1-19h0m0 10h0m-3 8h0m0-10h0m-1-1h0m0 13h0m0-9h0m-1-4h0m0 0h0m-1 5h0m0-3h0m-1-6h0m0 17h0m-2-6h0m0 2h0m-2-9h0m0 5h0m-1 5h0m-1-9h0m0 11h0m-3-6h0m-1-7h0m-1 1h0m0-3h0m-2-4h0m-1 17h0m0-1h0m0-8h0m-2-1h0m0-10h0m-2 3h0m-1 9h0m0-1h0m-1 11h0m-1-15h0m0 7h0m-1-1h0m0 0h0m-1-9h0m0-2h0m-1 7h0m-2-8h0m0 7h0m0 8h0m0-3h0m-1-5h0m0-5h0m0 13h0m-2 1h0m-1 4h0m-2-9h0m-2 9h0m0-9h0m-1-1h0m-1 9h0m0-5h0m-1 5h0m0-6h0m-2 4h0m-1-6h0m0 4h0m0 1h0m0-14h0m-1 6h0m-2 5h0m3 17h0m5 15h0m2-9h0m4-3h0m0-7h0m1 15h0m2-13h0m0-5h0m0 16h0m1-8h0m9-3h0m0 14h0m4-19h0m1 10h0m0-2h0m1 11h0m0-2h0m2-15h0m0 1h0m4 16h0m3-8h0m0-8h0m1 5h0m2 3h0m0-3h0m1-4h0m2-4h0m0 13h0m2-3h0m1 11h0m0-16h0m1 10h0m2 5h0m2-18h0m1 17h0m2-13h0m1 17h0m0-7h0m1-3h0m1 0h0m3-4h0m1 5h0m0-12h0m0 17h0m0-17h0m0 10h0m0-9h0m1 16h0m0-9h0m0 11h0m0-12h0m0 3h0m0-10h0m1 9h0m0 10h0m3-15h0m3 13h0m1-11h0m0 0h0m0 10h0m0-16h0m3 7h0m2 4h0m4 6h0m3 0h0m4-7h0m1-11h0m-12 29h0m-1-6h0m-3 4h0m-1-4h0m-1 3h0m-1 5h0m-2 1h0m-7-5h0m-1-1h0m-1-1h0m-2 3h0m-6 14h0m0-18h0m-3-1h0m-1 6h0m-5-5h0m0 3h0m-3 3h0m-2 7h0m0-9h0m-1 3h0m0-7h0m-2 5h0m-2-1h0m-1 13h0m-2-2h0m0-3h0m-1-6h0m-3 6h0m-1 1h0m-6-10h0m-1-1h0" stroke="#afcafc" stroke-width="6.8"/>
<g fill="#c9d7f0"><ellipse cx="179.8" cy="3017.1" rx="8.5" ry="8.5"/></g>
<path d="M193 3015h0m-2-1h0m0 9h0m-3-13h0m-1 4h0m-1 0h0m0 9h0m-5-1h0m-1-8h0m0 7h0m-2-2h0m-4-8h0m-5 10h0m-1-7h0m0 3h0m-1 3h0m7 10h0m1-5h0m3 0h0m2 3h0m0 0h0m1 3h0" stroke="#c9d7f0" stroke-width="6.8"/>
<g fill="#5a78e4"><ellipse cx="156.5" cy="3045.6" rx="4.3" ry="3.4"/></g>
<path d="M159 3046h0m0-4h0m-1 9h0m-2 0h0" stroke="#5a78e4" stroke-width="6.8"/>
<g fill="#cdd9ee"><ellipse cx="216" cy="3071.5" rx="36.4" ry="8.5" transform="rotate(14 216 3071.5)"/></g>
<path d="M250 3068h0m-8-2h0m-6-4h0m-1 2h0m-3 0h0m-1-3h0m-2 2h0m-2-2h0m-2 8h0m0 1h0m-1-7h0m-2 0h0m-2 3h0m-1-4h0m-2-5h0m0 10h0m-3 4h0m-4-5h0m0 4h0m0-3h0m-1 1h0m-1 0h0m0-6h0m-6-8h0m-3 10h0m0 4h0m-6 1h0m0-17h0m-3 4h0m-3-1h0m-1 8h0m0 6h0m0-13h0m-3 15h0m-1-3h0m-4-7h0m0-3h0m-3-6h0m-2 1h0m-1-2h0m0 4h0m-3-3h0m-1 1h0m0 14h0m-1-12h0m-2 5h0m-6-2h0m-3-3h0m24 18h0m7 5h0m2 0h0m2 1h0m2-2h0m3 1h0m4-4h0m2 4h0m5-3h0m1-2h0m3 0h0m5 4h0m2 7h0m2 3h0m1-12h0m4-3h0m3 8h0m0 2h0m2 4h0m1-1h0m1-1h0m2-4h0m1 1h0m3 1h0m0-2h0m5-5h0m3 14h0m0-4h0m1-4h0m2 1h0m0-3h0m4 2h0m0-8h0m0 19h0m3-16h0m0-4h0m0 12h0m3-11h0m0 10h0m0-6h0m2 5h0m1-10h0m0 20h0m2-15h0m2 7h0m2-8h0m4 5h0m1-1h0" stroke="#cdd9ee" stroke-width="6.8"/>
<use href="#bgd2" x="778.2" y="0"/>
<path d="M896 2869h0m0 6h0m-6 3h0m-17-5h0m-1-1h0m-3 8h0m1 2h0m15 2h0m-165 87h0m0-3h0m0-12h0m-23 12h0m-3-11h0m-71 4h0m0 8h0m-2-5h0m-21 3h0m5 14h0m6 2h0m2 13h0m10-17h0m19 20h0m26-13h0m27-6h0m20 9h0m2-6h0m1-6h0m7 21h0m5 0h0m5 1h0m4-16h0m4 3h0m8 10h0m17-9h0m7 3h0m3-5h0m18 12h0m10 25h0m-23-18h0m-9-4h0m-16 9h0m-3-7h0m-13 4h0m-34 16h0m-11-14h0m-25 8h0m-8 5h0m-1-21h0m-11 10h0m-4 11h0m-1-9h0m-6-8h0m-13 5h0m6 15h0m12 23h0m0-3h0m15-14h0m10 13h0m26 3h0m2-2h0m26-6h0m7-8h0m38 6h0m4 7h0m0-10h0m-3 25h0m-28 0h0m-7 7h0m-16 4h0m-23-10h0m-4 5h0m-20 1h0m-5 4h0m-3-12h0m-8 3h0m92 13h0m2 0h0" stroke="#fdfdd0" stroke-width="14"/>
<path d="M767 2776h0m-91 44h0m-5 1h0m-4 15h0m16 4h0m153 33h0m-23-16h0m-4 12h0m-7 10h0m-6 8h0m14-1h0m1 11h0m11-7h0m0 11h0m11-15h0m6-3h0m19 17h0m106 22h0m-5 1h0m-9-4h0m-5 2h0m-90-7h0m-13-8h0m-20 15h0m-156 8h0m177 20h0m5-21h0m-77 40h0m-30 7h0m-9 21h0m29-6h0m0 4h0m162 1h0m7 1h0m1-7h0m13-2h0m-2 14h0m-11 1h0m-52 18h0m-113-4h0" stroke="#edf8b1" stroke-width="14"/>
<g fill="#c7e9b4"><ellipse cx="635.2" cy="2903.3" rx="32.1" ry="33.1"/><ellipse cx="733.6" cy="3076.7" rx="25.9" ry="19.7"/><ellipse cx="857.8" cy="2821.5" rx="21.7" ry="18.6"/></g>
<path d="M840 2807h0m7-3h0m12-2h0m4 3h0m11 2h0m7 12h0m-5 7h0m-1-12h0m-35-2h0m-2 7h0m-1 12h0m-3-7h0m11 10h0m5 3h0m11 5h0m3 0h0m12-4h0m2-5h0m-217 42h0m-6-2h0m-9-2h0m-2-6h0m-8 6h0m-8-6h0m-4 11h0m-12-1h0m-5 3h0m-8 12h0m5 11h0m2-14h0m56 1h0m6 12h0m3-8h0m156 28h0m-161-16h0m-3 8h0m-1 8h0m-4 7h0m-4-1h0m-41 0h0m-7-7h0m-2-6h0m0-7h0m17 23h0m3 7h0m4 0h0m8-4h0m8 10h0m6-8h0m184 3h0m10 13h0m8-6h0m-68 24h0m-18-5h0m-3 1h0m-10 4h0m-27 16h0m24 3h0m6 1h0m33 11h0m-31 69h0m-4-6h0m-11-2h0m-3-2h0m-8-5h0m-9 7h0m-7 3h0m-2 6h0m-9 7h0m5 4h0m2-8h0m1 15h0m2 5h0m18 3h0m6-2h0m10-1h0m4 1h0m4-8h0m1-8h0m0-2h0m-37 23h0" stroke="#c7e9b4" stroke-width="14"/>
<g fill="#7fcdbb"><ellipse cx="635.2" cy="2903.3" rx="26.7" ry="27.6"/><ellipse cx="733.6" cy="3076.7" rx="21.6" ry="16.4"/><ellipse cx="857.8" cy="2821.5" rx="16.3" ry="14"/><ellipse cx="826.7" cy="2986.1" rx="31.1" ry="25.9"/><ellipse cx="868.2" cy="2991.3" rx="36.2" ry="25.9"/></g>
<path d="M857 2807h0m19 12h0m-4 6h0m-1 6h0m-3-18h0m-1-4h0m-16-1h0m-5 23h0m0-18h0m-5 13h0m-1-9h0m12 17h0m6 0h0m9 0h0m-196 33h0m-19 12h0m-11-1h0m-8 0h0m-9-2h0m-17 20h0m4-8h0m6-5h0m2-3h0m28 0h0m9 7h0m4 7h0m5 8h0m120-6h0m-120 8h0m-7 8h0m-2 9h0m-35 6h0m-3-4h0m-6-8h0m-4-1h0m-3-8h0m20 25h0m11 2h0m6-1h0m5-3h0m6-1h0m267 22h0m-26 21h0m-7-6h0m-7-1h0m-9-1h0m-7-3h0m-7 9h0m-1-1h0m-6-4h0m-7-4h0m0 12h0m0-5h0m-7-5h0m-8 2h0m-9-8h0m-8 7h0m-8 5h0m-6 4h0m-3 4h0m1 18h0m1-3h0m1-8h0m29 13h0m5 3h0m1-14h0m3 3h0m4-7h0m9 18h0m10-15h0m3 11h0m0-19h0m1 13h0m40-7h0m1-4h0m1 16h0m0-7h0m4 12h0m-8 4h0m-8 5h0m0 9h0m-13-4h0m-8 3h0m-8 4h0m-4-4h0m-10 2h0m-2-13h0m-2 4h0m-1-2h0m-5 0h0m-2 2h0m-7 3h0m-11 0h0m-5-2h0m-7-2h0m-6-6h0m-50 63h0m-3-2h0m-8 0h0m-11-3h0m-9 2h0m-6 5h0m-5 9h0m2 6h0m3-10h0m4 18h0m7 1h0m8 1h0m10 0h0m6-3h0m3-2h0m1-9h0m1-6h0" stroke="#7fcdbb" stroke-width="14"/>
<g fill="#41b6c4"><ellipse cx="635.2" cy="2903.3" rx="21.4" ry="22.1"/><ellipse cx="733.6" cy="3076.7" rx="17.3" ry="13.1"/><ellipse cx="857.8" cy="2821.5" rx="10.9" ry="9.3"/><ellipse cx="738.8" cy="2789.4" rx="28.5" ry="35.2"/><ellipse cx="738.8" cy="2763.5" rx="20.7" ry="20.7"/><ellipse cx="764.6" cy="2855.7" rx="38.3" ry="37.3"/><ellipse cx="702.5" cy="2869.6" rx="28.5" ry="31.1"/><ellipse cx="751.7" cy="2924" rx="32.1" ry="32.1"/><ellipse cx="868.2" cy="2949.9" rx="51.8" ry="51.8"/><ellipse cx="925.1" cy="2900.7" rx="31.1" ry="28.5"/><ellipse cx="826.7" cy="2986.1" rx="25.9" ry="21.6"/><ellipse cx="868.2" cy="2991.3" rx="31.7" ry="22.6"/></g>
<path d="M715 2759h0m8-8h0m1-6h0m2 14h0m4-18h0m2 14h0m2-4h0m5-6h0m5 5h0m4 0h0m1-8h0m1 4h0m2 12h0m5-6h0m14 25h0m-5-8h0m-3-9h0m-5 8h0m-1-2h0m-1 5h0m0 9h0m-6 1h0m-13 2h0m-8 0h0m-5-17h0m-2 7h0m-2 5h0m-3-16h0m-1 5h0m-6 5h0m-5 15h0m8-2h0m1 20h0m1-11h0m29-7h0m16 17h0m5-19h0m1 14h0m1-9h0m102 35h0m-1-5h0m-3 9h0m-3-16h0m-4 18h0m-2-19h0m-6 2h0m-1 12h0m-2-4h0m-58 4h0m-8-6h0m-1 6h0m-8-12h0m-7-2h0m-4 0h0m-1 9h0m-4-3h0m-5 6h0m-3 0h0m-2 1h0m-4 1h0m-3-3h0m-4-1h0m-4 8h0m-3-1h0m-2-13h0m-7 2h0m-4-7h0m-32 43h0m0-7h0m6-4h0m8-3h0m4-6h0m7 8h0m6 5h0m9 0h0m5 8h0m2-10h0m1-4h0m0 8h0m62-15h0m3 6h0m3 4h0m1 7h0m148 28h0m-10 0h0m-1-11h0m-13 9h0m-6 0h0m-3 0h0m-17 2h0m-88-22h0m-10 12h0m-3-5h0m-62 14h0m-3-6h0m0-8h0m0 4h0m-2-8h0m-2 10h0m-2-8h0m-47-2h0m-6 5h0m-2 11h0m-3-8h0m-27 11h0m-28 17h0m2 2h0m3-9h0m6-6h0m6 1h0m15-3h0m3 5h0m4 7h0m6 4h0m17-12h0m7 7h0m3 10h0m5 1h0m8 0h0m8-4h0m5-3h0m3-2h0m7 8h0m2-12h0m3-5h0m3 12h0m1-13h0m3 11h0m5-8h0m5 5h0m1 2h0m6 3h0m3-8h0m2 6h0m3-7h0m6 9h0m0-4h0m3 6h0m4-8h0m2 10h0m5-17h0m7 3h0m8 0h0m7-6h0m44 15h0m14 4h0m2-6h0m10 6h0m9-3h0m5 3h0m6-8h0m7 9h0m1-1h0m4-11h0m5-9h0m44 14h0m0 2h0m3-13h0m7 22h0m-4 7h0m-2 7h0m-5 6h0m-11 2h0m-16-1h0m-8-2h0m-2 2h0m-4-11h0m-2-10h0m-1 18h0m0-1h0m-6 1h0m-2-16h0m-2 5h0m-9-1h0m-46-7h0m-1 4h0m-13-1h0m-4 7h0m-4 11h0m-36-15h0m-3 15h0m0-4h0m-3-12h0m-53 14h0m-4-3h0m-1-10h0m-60-5h0m-5 7h0m-6 7h0m-3 1h0m-5 4h0m-12-2h0m-9 0h0m-4-12h0m-1 3h0m19 15h0m86 5h0m7 4h0m2 9h0m5 2h0m30 2h0m9-5h0m7-7h0m6-4h0m27-4h0m1 21h0m3-12h0m3 4h0m91-9h0m13 1h0m2 10h0m5-12h0m6-2h0m-8 21h0m-10 16h0m-2-6h0m-2 13h0m-7 0h0m-13 0h0m-5-2h0m-8-2h0m-7-3h0m-12-1h0m-7 4h0m-7 2h0m-5-3h0m-2-4h0m-9-3h0m-7 3h0m-3 7h0m-4-11h0m-4 5h0m-4 1h0m-3-12h0m-32-3h0m-17 2h0m-7-2h0m-5-1h0m-11 3h0m67 36h0m0-10h0m1 5h0m0-10h0m4 23h0m18-23h0m2 18h0m4-13h0m5 3h0m2-3h0m1 10h0m1 8h0m1-8h0m0-14h0m9 12h0m0-8h0m1 11h0m2 1h0m0-15h0m11 15h0m12 5h0m15 0h0m1-10h0m5 9h0m0-11h0m1 8h0m0-14h0m7 14h0m7-7h0m-20 16h0m-1 6h0m-5-8h0m-3 11h0m-11 1h0m-3-7h0m-3 8h0m-10 0h0m-1-11h0m-2 9h0m-6-12h0m-3 2h0m-1 6h0m-4-2h0m-1-2h0m-3 5h0m-7-3h0m-10 2h0m-5-2h0m-65 64h0m-5-5h0m-11-1h0m-4 2h0m-10 5h0m-2 10h0m1-4h0m4 9h0m6 2h0m5 3h0m11-3h0m4-2h0m4-12h0m2 4h0" stroke="#41b6c4" stroke-width="14"/>
<g fill="#1d91c0"><ellipse cx="635.2" cy="2903.3" rx="16" ry="16.6"/><ellipse cx="733.6" cy="3076.7" rx="12.9" ry="9.8"/><ellipse cx="738.8" cy="2789.4" rx="24.9" ry="30.8"/><ellipse cx="738.8" cy="2763.5" rx="15.5" ry="15.5"/><ellipse cx="764.6" cy="2855.7" rx="33.5" ry="32.6"/><ellipse cx="702.5" cy="2869.6" rx="23.7" ry="25.9"/><ellipse cx="751.7" cy="2924" rx="28.1" ry="28.1"/><ellipse cx="868.2" cy="2949.9" rx="45.3" ry="45.3"/><ellipse cx="925.1" cy="2900.7" rx="25.9" ry="23.7"/><ellipse cx="826.7" cy="2986.1" rx="20.7" ry="17.3"/><ellipse cx="868.2" cy="2991.3" rx="27.2" ry="19.4"/></g>
<path d="M725 2759h0m2-4h0m4-3h0m4-5h0m1 9h0m11-5h0m1 1h0m7 7h0m9 17h0m-6-3h0m-3-7h0m-1-4h0m-3-1h0m0 13h0m-5 4h0m-4-17h0m-4 19h0m-5-3h0m-1-15h0m-4 11h0m-2-8h0m-2 0h0m-5 2h0m-2 8h0m-5 7h0m3 15h0m0-6h0m46-3h0m3 3h0m1 8h0m16 30h0m-3-4h0m-4-4h0m-8 4h0m-5-17h0m-4 14h0m-2-9h0m-3 14h0m-3-12h0m-7 4h0m-2 3h0m-7 0h0m-7-8h0m-3-4h0m-5-2h0m-34 47h0m5-5h0m5-7h0m6 2h0m8 1h0m7 4h0m6 2h0m8-1h0m5-9h0m1 4h0m5-8h0m4-6h0m46 0h0m1 7h0m5 12h0m2-8h0m143 36h0m-12-4h0m-2 2h0m-9-1h0m-117-20h0m-6 15h0m-2-6h0m-6 10h0m-3 4h0m-50-15h0m-1-7h0m-2 16h0m-2-1h0m-1-9h0m-2-4h0m-43-1h0m-2 14h0m-2-6h0m-58 36h0m1-5h0m4-5h0m3-3h0m5-2h0m7 2h0m7 6h0m2 6h0m29-18h0m7 5h0m2 6h0m11 3h0m4-3h0m9 3h0m4-5h0m5-4h0m4-8h0m5 23h0m4-4h0m5-17h0m3 13h0m2-13h0m3 14h0m4-13h0m7 12h0m3-7h0m4 8h0m2-11h0m0 17h0m2-17h0m9 1h0m78 16h0m16-2h0m25-1h0m4-9h0m1-3h0m7-7h0m35 1h0m4 6h0m4 12h0m-2 6h0m0 8h0m-3 4h0m-4 4h0m-9 4h0m-10-1h0m-8 2h0m-2-6h0m-3 2h0m-4-3h0m-3-3h0m-3-10h0m-1 5h0m-5 6h0m-1-4h0m-10-4h0m-7-5h0m-10 5h0m-13 2h0m-6 0h0m-8 0h0m-7 5h0m-3 11h0m-47-1h0m-3-4h0m-2-12h0m-1-4h0m-51 13h0m-2-7h0m-1 13h0m-73-18h0m-2 4h0m-6 8h0m-5 0h0m-6 1h0m-6-3h0m-3-7h0m106 22h0m3 7h0m3 3h0m5 5h0m21 4h0m8-8h0m6-1h0m2-10h0m45 19h0m0-18h0m4 8h0m5-9h0m79 9h0m0 4h0m6-15h0m-5 44h0m-1-20h0m-1 7h0m-1 5h0m-20 9h0m-14-3h0m-9 0h0m-9 2h0m-17-5h0m-5 4h0m-1-4h0m-1 3h0m-4-7h0m-2-6h0m-2 11h0m-7 2h0m-7 2h0m-44-21h0m-15 2h0m-8-2h0m62 33h0m2-6h0m1 16h0m3 3h0m26-17h0m2 7h0m2 2h0m0-4h0m1 8h0m1-19h0m2 23h0m2-2h0m0-16h0m1 6h0m0-5h0m2 9h0m0-15h0m4 20h0m7-5h0m9 5h0m7 0h0m3-3h0m3-17h0m3 11h0m6 0h0m2 1h0m1-5h0m2 15h0m2-20h0m0 16h0m3-18h0m-10 30h0m-11 3h0m-4 2h0m-8 0h0m-10-2h0m-7-5h0m-5-2h0m-15 1h0m-8 0h0m-3 0h0m-78 66h0m-8-2h0m-9 2h0m-5 7h0m1 2h0m4 6h0m10 2h0m6-2h0m4-4h0m0-7h0" stroke="#1d91c0" stroke-width="14"/>
<g fill="#225ea8"><ellipse cx="738.8" cy="2789.4" rx="21.4" ry="26.4"/><ellipse cx="738.8" cy="2763.5" rx="10.4" ry="10.4"/><ellipse cx="764.6" cy="2855.7" rx="28.7" ry="28"/><ellipse cx="702.5" cy="2869.6" rx="19" ry="20.7"/><ellipse cx="751.7" cy="2924" rx="24.1" ry="24.1"/><ellipse cx="868.2" cy="2949.9" rx="38.8" ry="38.8"/><ellipse cx="925.1" cy="2900.7" rx="20.7" ry="19"/><ellipse cx="826.7" cy="2986.1" rx="15.5" ry="12.9"/><ellipse cx="868.2" cy="2991.3" rx="22.6" ry="16.2"/></g>
<path d="M729 2759h0m4-5h0m11 1h0m13 24h0m-4-8h0m-3-9h0m-1 7h0m0-4h0m-2-1h0m-4 9h0m-4-9h0m-3 9h0m-6-11h0m0 7h0m-1-2h0m-3 2h0m-3 1h0m-3 9h0m-5 10h0m1 8h0m2 2h0m5 8h0m31 0h0m5-6h0m1-11h0m2-5h0m22 46h0m-7-1h0m-5 1h0m-7-2h0m-6-3h0m-5 5h0m-1-21h0m-6 7h0m-9 2h0m-3-1h0m-6-3h0m-39 39h0m4-2h0m6-5h0m10 5h0m6 0h0m21-5h0m0-6h0m1 11h0m8-19h0m41 8h0m6 1h0m2 7h0m-1 16h0m-2-9h0m-3 14h0m-7 6h0m-32 3h0m-4-5h0m-7-10h0m-1 10h0m-3-16h0m-12 17h0m-2-17h0m-1 8h0m-33-7h0m-3 14h0m-1-7h0m5 20h0m0-6h0m11 8h0m7 3h0m2-3h0m5-3h0m6-5h0m20 22h0m5 1h0m7-2h0m10-19h0m0 17h0m3-15h0m2 18h0m9-19h0m4-3h0m124 20h0m1-9h0m6-4h0m6-6h0m10-1h0m6 1h0m4 4h0m5 4h0m4 14h0m0-7h0m-4 15h0m-2 5h0m-7 1h0m-5 2h0m-5-1h0m-10-4h0m-6-9h0m-1 4h0m-3 16h0m-7-6h0m-3-3h0m-7-4h0m-11 1h0m-6-5h0m-8 0h0m-4 4h0m-5 5h0m-7 0h0m-2 8h0m-66 2h0m0-8h0m-2-3h0m-3-9h0m-39 7h0m-1-3h0m-5 8h0m4 10h0m2 4h0m5 11h0m0-4h0m6 10h0m12-3h0m6 0h0m5-5h0m5-3h0m3-5h0m55 14h0m4-3h0m0-6h0m0-11h0m68 8h0m5 10h0m3-9h0m-1 17h0m0 5h0m-1 6h0m-6 6h0m-6 4h0m-21 0h0m-5-1h0m-31-1h0m-5-4h0m-1-12h0m0 18h0m-3-7h0m-5 5h0m-15 13h0m4 7h0m1-13h0m1-4h0m3 22h0m9 1h0m10-5h0m1-17h0m5 11h0m0-4h0m0 7h0m2 3h0m1 5h0m1-19h0m1 4h0m4 3h0m1-9h0m6 12h0m3-13h0m1 8h0m7 0h0m9 7h0m4-15h0m2 10h0m4 4h0m1-9h0m0 5h0m1 11h0m1-12h0m-8 16h0m-8 5h0m-6 0h0m-12 1h0m-5-5h0m-21-3h0" stroke="#225ea8" stroke-width="14"/>
<g fill="#253494"><ellipse cx="738.8" cy="2789.4" rx="17.8" ry="22"/><ellipse cx="764.6" cy="2855.7" rx="23.9" ry="23.3"/><ellipse cx="702.5" cy="2869.6" rx="14.2" ry="15.5"/><ellipse cx="751.7" cy="2924" rx="20.1" ry="20.1"/><ellipse cx="868.2" cy="2949.9" rx="32.3" ry="32.3"/><ellipse cx="925.1" cy="2900.7" rx="15.5" ry="14.2"/><ellipse cx="868.2" cy="2991.3" rx="18.1" ry="12.9"/></g>
<path d="M754 2780h0m-6-7h0m-4-6h0m-6 2h0m-4 1h0m-7 4h0m-2 6h0m-5 14h0m2-8h0m1 18h0m5 0h0m23 0h0m3-3h0m3-9h0m0-8h0m-10 24h0m-7 4h0m-7-1h0m-32 44h0m7-1h0m32 1h0m1-11h0m2 3h0m8-10h0m5-5h0m6 2h0m5 0h0m12 0h0m5 5h0m0 8h0m7 4h0m-3 8h0m0 8h0m-6 3h0m-3 3h0m-8 6h0m-20-3h0m-6-8h0m-2-7h0m-27 6h0m-1 5h0m0 7h0m-4-21h0m-18 2h0m-3 11h0m-2 6h0m0-13h0m9 19h0m6 4h0m6-5h0m36 21h0m5 0h0m9-23h0m3 1h0m146 18h0m3-6h0m2-3h0m8-5h0m11 1h0m2 3h0m4 6h0m3 8h0m-4 6h0m-3 4h0m-9 3h0m-6-4h0m-6-2h0m-24 16h0m-4-2h0m-6-3h0m-4-5h0m-8 1h0m-10 1h0m-4 5h0m-8 2h0m-72-3h0m-3-10h0m-1 15h0m-7-18h0m-5-5h0m-18 2h0m-5 6h0m-2 9h0m1 8h0m3 4h0m3 8h0m4 2h0m8 0h0m10 1h0m4-8h0m6-1h0m62 6h0m2-3h0m8-4h0m53 4h0m1-6h0m4 15h0m-1 5h0m-1 9h0m0 6h0m-6 4h0m-44 2h0m-6-6h0m-1-3h0m-4-8h0m-5-4h0m17 36h0m2 7h0m1-18h0m0 22h0m1-17h0m4-3h0m3 1h0m4 4h0m6-5h0m4-1h0m1 6h0m4-4h0m4 4h0m3 11h0m1-6h0m2-10h0m-7 22h0m-5 3h0m-7-1h0m-11 1h0" stroke="#253494" stroke-width="14"/>
<g fill="#081d58"><ellipse cx="738.8" cy="2789.4" rx="14.2" ry="17.6"/><ellipse cx="764.6" cy="2855.7" rx="19.2" ry="18.6"/><ellipse cx="751.7" cy="2924" rx="16" ry="16"/><ellipse cx="868.2" cy="2949.9" rx="25.9" ry="25.9"/></g>
<path d="M747 2773h0m0 4h0m-8-6h0m-10 3h0m-2 5h0m-3 17h0m1-11h0m2 15h0m6 3h0m8 2h0m4 1h0m4-4h0m4-15h0m1 4h0m-9 64h0m3-6h0m2-6h0m6-2h0m7-4h0m7-1h0m8 4h0m2 8h0m2 2h0m3 10h0m-3 4h0m-3 5h0m-10 4h0m-5 1h0m-5-2h0m-9-5h0m-3-3h0m130 58h0m-5-1h0m-13 4h0m-92 2h0m0-7h0m-4-6h0m-6-7h0m-5 1h0m-10 1h0m-2 5h0m-3 12h0m-2-3h0m7 12h0m4 4h0m7-1h0m4 1h0m8-5h0m76 8h0m2 7h0m1-14h0m5-6h0m8 0h0m24 1h0m5 3h0m6 14h0m2 4h0m0-15h0m2 23h0m-10 5h0m-6 6h0m-17 4h0m-4-2h0m-7 0h0m-8-10h0m0-3h0m28 18h0m5 0h0" stroke="#081d58" stroke-width="14"/>
<use href="#bgd2" x="1270.6" y="0"/>
<g fill="#fdfdd0"><ellipse cx="1277.6" cy="2846.3" rx="7.8" ry="7.8"/><ellipse cx="1355.3" cy="2825.6" rx="7.8" ry="7.8"/><ellipse cx="1453.6" cy="2918.8" rx="5.8" ry="5.8"/><ellipse cx="1381.1" cy="2986.1" rx="7.8" ry="7.8"/><ellipse cx="1306.1" cy="3045.6" rx="9.7" ry="9.7"/><ellipse cx="1246.6" cy="3084.4" rx="11.6" ry="11.6"/></g>
<path d="M1210 2805h0m18-18h0m132 43h0m-1-6h0m0-4h0m0 7h0m-3-3h0m-1-5h0m-2 0h0m-1 11h0m-1-2h0m-2-3h0m-167 11h0m92 6h0m3 0h0m0 7h0m0-1h0m1-2h0m0-8h0m0 1h0m2 12h0m0-4h0m5-2h0m6 4h0m75 13h0m-55 8h0m3 28h0m21 3h0m125 17h0m-4-3h0m0 10h0m-2-6h0m0-1h0m-7 0h0m-76 9h0m2 62h0m0-4h0m0 0h0m1-3h0m4 6h0m1-9h0m3 4h0m3 3h0m4 1h0m0-3h0m-8 38h0m-15-10h0m-71 35h0m3-9h0m0 0h0m1-2h0m5 2h0m2 3h0m7 4h0m-1 6h0m-1 0h0m-2-3h0m-9 5h0m0-3h0m0 5h0m-5-7h0m-60 31h0m5 1h0m2-5h0m1 16h0m0-8h0m1 5h0m3-8h0m2 10h0m1 2h0m1 1h0m1-2h0m0-11h0m0 12h0m2-8h0m0-1h0m1-10h0m2 14h0m1 6h0m0-12h0" stroke="#fdfdd0" stroke-width="14"/>
<path d="M1151 2885h0m26 8h0m106-5h0m124 10h0m-189 26h0m-28 5h0m67 130h0" stroke="#edf8b1" stroke-width="14"/>
<g fill="#c7e9b4"><ellipse cx="1207.7" cy="2846.3" rx="7.8" ry="7.8"/><ellipse cx="1135.3" cy="2905.9" rx="7.8" ry="7.8"/><ellipse cx="1350.1" cy="2980.9" rx="7.8" ry="7.8"/><ellipse cx="1267.3" cy="3032.7" rx="9.7" ry="9.7"/></g>
<path d="M1199 2844h0m2 2h0m1 0h0m5 0h0m0-7h0m0 12h0m2-12h0m5 13h0m0-7h0m1 1h0m192 31h0m-166-18h0m-114 43h0m2-3h0m0 3h0m2-3h0m9 4h0m70-5h0m-68 9h0m-12 2h0m0-5h0m-2 0h0m-1 2h0m224 68h0m0 1h0m-47 11h0m40-6h0m1 8h0m2-7h0m4 3h0m1-2h0m2 5h0m1 1h0m1-7h0m-85 41h0m-7 1h0m0 7h0m3 7h0m1 3h0m0-6h0m0 0h0m1-1h0m1 9h0m0-14h0m1 0h0m3-4h0m2 9h0m2-1h0m-57 29h0" stroke="#c7e9b4" stroke-width="14"/>
<g fill="#7fcdbb"><ellipse cx="1394.1" cy="2880" rx="7.8" ry="7.8"/></g>
<path d="M1397 2879h0m-1-7h0m-4 3h0m-4 2h0m-1 2h0m-2 1h0m11 0h0m2 7h0m1-6h0m3-1h0m-238 65h0m181 20h0m-31 6h0m-36 36h0" stroke="#7fcdbb" stroke-width="14"/>
<g fill="#41b6c4"><ellipse cx="1215.5" cy="2867" rx="11.6" ry="11.6"/><ellipse cx="1140.5" cy="2929.2" rx="13.6" ry="13.6"/><ellipse cx="1202.6" cy="2955" rx="11.6" ry="11.6"/><ellipse cx="1334.6" cy="2947.3" rx="7.8" ry="7.8"/><ellipse cx="1275" cy="2988.7" rx="5.8" ry="5.8"/></g>
<path d="M1226 3043h0" stroke="#41b6c4" stroke-width="16"/>
<path d="M1211 2854h0m5 0h0m13 16h0m0-3h0m-2 0h0m-3 1h0m-1-4h0m-1 6h0m0-2h0m-5-9h0m-1 13h0m0-5h0m-2 0h0m-1 2h0m0 4h0m-5-13h0m-2 8h0m7 13h0m8-1h0m-73 47h0m-1 0h0m-8-7h0m0-7h0m-6 11h0m0-3h0m-1 1h0m-3-1h0m-1 1h0m-3 4h0m4 3h0m2 14h0m1 0h0m1-11h0m2 9h0m2-11h0m2 13h0m0-12h0m1 4h0m0-1h0m3-3h0m5 10h0m0-1h0m0-3h0m46 8h0m2 1h0m5-1h0m2 4h0m9-2h0m0-1h0m3 5h0m32-6h0m82 0h0m4 3h0m3-6h0m7 2h0m-8 11h0m0 1h0m-1-3h0m-1 0h0m-3 1h0m-2-2h0m-113 9h0m-4-5h0m0 0h0m-2 6h0m-2-1h0m0 5h0m-5-13h0m0 15h0m0-7h0m0 1h0m-7 4h0m0-4h0m75 23h0m2 7h0m0-7h0m3 3h0m1 5h0m3-6h0m-79 79h0" stroke="#41b6c4" stroke-width="14"/>
<g fill="#1d91c0"><ellipse cx="1101.6" cy="2975.7" rx="15.5" ry="11.6"/><ellipse cx="1153.4" cy="2973.1" rx="5.8" ry="5.8"/><ellipse cx="1262.1" cy="2960.2" rx="5.8" ry="5.8"/><ellipse cx="1236.2" cy="3006.8" rx="7.8" ry="7.8"/><ellipse cx="1179.3" cy="3001.6" rx="5.8" ry="5.8"/></g>
<path d="M1266 2963h0m-2-6h0m-2-2h0m-1-1h0m0 10h0m-1 1h0m-8 6h0m-97-1h0m-1-2h0m0 1h0m-3 0h0m-1 3h0m-1-3h0m-29 6h0m-2-1h0m-3 0h0m-1-7h0m-6-2h0m-1 7h0m-4 0h0m0-9h0m-1 0h0m0 11h0m-1-12h0m-4 3h0m-1 0h0m-8 5h0m-2 6h0m7 9h0m2-7h0m8 8h0m2-1h0m3 2h0m3-11h0m2 8h0m1-8h0m2 7h0m69 16h0m56 8h0m0 5h0m-3-8h0m-2 10h0m0-2h0m-1 1h0m0-13h0m-1 1h0m-4 7h0m0 4h0m-48-11h0m0 2h0m0-1h0m-2 6h0m-7-4h0m-38 52h0" stroke="#1d91c0" stroke-width="14"/>
<g fill="#225ea8"><ellipse cx="1109.4" cy="2973.1" rx="9.7" ry="9.7"/></g>
<path d="M1293 2960h0m-15-2h0m-157 14h0m-7-8h0m0 3h0m-1 3h0m-3 4h0m0-9h0m-3 4h0m-3-1h0m0 6h0m2 9h0m2-3h0m5-1h0m3 2h0m2-3h0m22 11h0" stroke="#225ea8" stroke-width="14"/>
<g fill="#253494"><ellipse cx="1231" cy="2983.5" rx="8.2" ry="8.2"/><ellipse cx="1200" cy="2970.6" rx="8.2" ry="8.2"/><ellipse cx="1293.2" cy="2929.2" rx="16.7" ry="16.7"/><ellipse cx="1140.5" cy="3058.6" rx="5.8" ry="5.8"/><ellipse cx="1194.8" cy="3053.4" rx="6.6" ry="6.6"/></g>
<path d="M1307 2914h0m-5 2h0m-1 8h0m0-3h0m-2-4h0m-8 4h0m-2-11h0m-4 9h0m-2-6h0m-1 13h0m0-11h0m-2 4h0m-4 9h0m3 10h0m0-9h0m2 3h0m2 13h0m4-12h0m2 13h0m1 1h0m4-1h0m4-7h0m1 8h0m0 2h0m1-2h0m1-3h0m1-3h0m2-1h0m2 2h0m1-10h0m0-4h0m2 3h0m2 5h0m1-2h0m0-3h0m-106 37h0m-1-3h0m-3 8h0m-1-6h0m-3 2h0m-2 0h0m-2-1h0m-1 5h0m3 4h0m2 0h0m29 13h0m3-14h0m0 11h0m0 5h0m2-14h0m1 9h0m0 4h0m4-6h0m1 5h0m0-4h0m-45 60h0m9 4h0m-2-1h0m-1 4h0m-4-2h0m0-1h0m0 11h0m-51-3h0m-1 5h0m-1-2h0m-2 0h0m-1 1h0m-1-8h0" stroke="#253494" stroke-width="14"/>
<g fill="#081d58"><ellipse cx="1168.9" cy="3032.7" rx="20.6" ry="26"/><ellipse cx="1295.7" cy="2930.2" rx="11.3" ry="11.3"/></g>
<path d="M1303 2924h0m-1-6h0m-1 8h0m-2-7h0m-2 1h0m-1 4h0m-5 2h0m-1-3h0m-1 4h0m-4 9h0m0 0h0m7-5h0m0 12h0m1-8h0m1 3h0m1-9h0m4 12h0m11-9h0m-116 90h0m-2-5h0m0 1h0m-8-3h0m-1-2h0m-3 0h0m0-8h0m0 2h0m-3 14h0m-3-16h0m0 1h0m0 16h0m-1-15h0m-1 5h0m-3 5h0m0-1h0m-4-16h0m-5 20h0m0-14h0m-2 7h0m-1 4h0m-1-5h0m-2-2h0m-2-1h0m-1 11h0m0 2h0m-3-6h0m-4 14h0m4-5h0m1 1h0m0 12h0m4 7h0m2-8h0m6-2h0m1-5h0m3 16h0m6-3h0m0-9h0m3-2h0m2-3h0m2 5h0m0 3h0m1-6h0m0 0h0m2 11h0m0-17h0m6-1h0m5 18h0m1 0h0m1-12h0m0-3h0m0 6h0m-11 18h0m-1 7h0m-1-1h0m-4 0h0m-4-5h0m-1 12h0m-2-3h0m-2-12h0m-6 5h0m-5-6h0m-5 4h0m-3-3h0" stroke="#081d58" stroke-width="14"/>
<use href="#bgd2" x="1763" y="0"/>
<g fill="#fdfdd0"><ellipse cx="1704.6" cy="2798.7" rx="5.8" ry="5.8"/></g>
<path d="M1699 2797h0m5-3h0m1 11h0m2-6h0m0-3h0m3 1h0m173 51h0m-259 42h0m163 3h0m26 5h0m-10 13h0m-101 13h0m-96-8h0m313 31h0m-168 24h0m-10 18h0m41 0h0m37-6h0m-55 24h0m-28 15h0m-13-20h0m28 38h0m44 3h0m18 5h0m-13 11h0m-75-11h0m13 36h0" stroke="#fdfdd0" stroke-width="14"/>
<g fill="#edf8b1"><ellipse cx="1637.4" cy="2929.2" rx="13.6" ry="7.8"/><ellipse cx="1676.2" cy="2934.3" rx="11.6" ry="7.8"/></g>
<path d="M1648 2926h0m-6-4h0m-12 5h0m0-2h0m-6 2h0m-3 1h0m7 8h0m1 1h0m1-5h0m1-4h0m5 7h0m1 2h0m5-9h0m1 4h0m1 4h0m20 1h0m2-5h0m2 2h0m0 5h0m1-3h0m5 3h0m2 2h0m1-8h0m1-1h0m4 8h0m4-3h0m0-6h0m1 1h0m10 41h0m-31-18h0" stroke="#edf8b1" stroke-width="14"/>
<path d="M1687 2976h0m-8 108h0" stroke="#c7e9b4" stroke-width="14"/>
<path d="M1622 3064h0" stroke="#7fcdbb" stroke-width="14"/>
<g fill="#41b6c4"><ellipse cx="1683.9" cy="2996.4" rx="5.8" ry="5.8"/></g>
<path d="M1657 2973h0" stroke="#41b6c4" stroke-width="16"/>
<path d="M1684 2997h0m0 1h0m1 1h0m0-8h0m1-1h0m2 11h0m-1 60h0" stroke="#41b6c4" stroke-width="14"/>
<g fill="#1d91c0"><ellipse cx="1590.8" cy="2986.1" rx="15.9" ry="11.3"/><ellipse cx="1637.4" cy="2986.1" rx="5.8" ry="5.8"/></g>
<path d="M1589 2975h0m-4 0h0m-4 0h0m-10 10h0m2 3h0m5 6h0m9-3h0m3 5h0m1-12h0m2 14h0m4-16h0m1-6h0m1 17h0m1-3h0m1 7h0m1-13h0m1-8h0m0 18h0m1-9h0m1 7h0m1-14h0m0 0h0m2 6h0m0 9h0m22 3h0m3-10h0m6 5h0m2-5h0m2 3h0m0 0h0m0-5h0m-19 54h0" stroke="#1d91c0" stroke-width="14"/>
<g fill="#225ea8"><ellipse cx="1598.5" cy="2975.7" rx="13.6" ry="10.5"/></g>
<path d="M1612 2970h0m-3 2h0m-7-3h0m0-4h0m0 3h0m-4 3h0m-2-7h0m-5 0h0m-3 8h0m-3 1h0m-1 1h0m-1-2h0m2 6h0m4 3h0m10 1h0m5-3h0m0 6h0m0-7h0m1 5h0m7-3h0m28 47h0m-13 34h0" stroke="#225ea8" stroke-width="14"/>
<g fill="#253494"><ellipse cx="1658.1" cy="3012" rx="9.7" ry="9.7"/><ellipse cx="1645.1" cy="3061.1" rx="7.8" ry="7.8"/></g>
<path d="M1668 3011h0m-5 9h0m0-4h0m-1 7h0m-1-12h0m-3-3h0m-1 3h0m0-4h0m-2-1h0m-2 6h0m-2-2h0m-3 3h0m-1-1h0m11 12h0m-6 36h0m-1 2h0m0-6h0m-1-2h0m0 12h0m-4-6h0m-3 6h0m-1-11h0m-1-1h0m-2 9h0" stroke="#253494" stroke-width="14"/>
<g fill="#081d58"><ellipse cx="1658.1" cy="3045.6" rx="15.5" ry="18.2"/></g>
<path d="M1640 3041h0m2-6h0m5 6h0m1-11h0m5 12h0m0 5h0m3-11h0m2 7h0m0-5h0m1 5h0m0-3h0m2 2h0m2-16h0m4 18h0m1 0h0m1-9h0m0 7h0m0-14h0m8 20h0m-1 1h0m0-1h0m-3 11h0m-2 4h0m0-5h0m-7-8h0m0-2h0m-1 17h0m-5-14h0m-2 17h0m-1-9h0m0-9h0m-2 4h0m-1-1h0m0 7h0m-6-6h0m-3-1h0" stroke="#081d58" stroke-width="14"/>
<use href="#bgd2" x="2255.4" y="0"/>
<g fill="#fdfdd0"><ellipse cx="2206.7" cy="2784.2" rx="5.8" ry="5.8"/><ellipse cx="2105.8" cy="2980.9" rx="5.8" ry="5.8"/><ellipse cx="2289.5" cy="3048.2" rx="5.8" ry="5.8"/></g>
<path d="M2217 2758h0m-5 23h0m-9-2h0m-1 1h0m-1 3h0m0 3h0m2 4h0m24 7h0m101 5h0m9 22h0m-134-11h0m172 58h0m-241 14h0m-40 27h0m277 61h0m-53 0h0m-229-9h0m-19 21h0m32-6h0m2 7h0m2 1h0m2-3h0m2-8h0m1 2h0m21 11h0m227 1h0m22 1h0m-229 17h0m-30 8h0m-8 17h0m20 2h0m30-3h0m124 10h0m9-17h0m11 23h0m-13 2h0m-2 1h0m-6 1h0m-3 0h0m-1-4h0m-41 15h0m-55-6h0m-53 4h0m89 30h0" stroke="#fdfdd0" stroke-width="14"/>
<g fill="#edf8b1"><ellipse cx="2178.2" cy="2988.7" rx="7.8" ry="7.8"/><ellipse cx="2237.7" cy="2957.6" rx="5.8" ry="5.8"/></g>
<path d="M2127 2901h0m109 50h0m47 8h0m-41 0h0m0-2h0m-3-5h0m-2 3h0m-1-2h0m-11 12h0m-54 27h0m4 2h0m0-7h0m0-7h0m0 11h0m1-10h0m1 12h0m2-3h0m3-3h0m1 6h0m125-7h0m-117 16h0" stroke="#edf8b1" stroke-width="14"/>
<g fill="#c7e9b4"><ellipse cx="2198.9" cy="2904.8" rx="5.8" ry="5.8"/><ellipse cx="2232.6" cy="3037.8" rx="5.8" ry="5.8"/></g>
<path d="M2197 2903h0m8 1h0m-4 4h0m-2 0h0m0-4h0m-4 4h0m79 83h0m18 0h0m-64 42h0m2 4h0m1-1h0m1 5h0m3 1h0m2-7h0m21 0h0m-49 13h0" stroke="#c7e9b4" stroke-width="14"/>
<g fill="#7fcdbb"><ellipse cx="2222.2" cy="3017.1" rx="9.7" ry="9.7"/></g>
<path d="M2124 2942h0m76 15h0m-11 8h0m25 34h0m44-8h0m-25 28h0m-1 3h0m-1 0h0m-3-15h0m0 14h0m-10-12h0m-1 0h0m-2 6h0m-2-3h0m0 8h0m4 6h0m2-2h0m5 5h0m3-2h0m0 3h0m37-5h0" stroke="#7fcdbb" stroke-width="14"/>
<g fill="#41b6c4"><ellipse cx="2245.5" cy="3006.8" rx="13.6" ry="9.7"/><ellipse cx="2188.6" cy="2931.7" rx="7.8" ry="7.8"/></g>
<path d="M2272 2885h0m-81 40h0m-3-2h0m-2 3h0m-2 1h0m-1 0h0m-18-16h0m-18 8h0m-10 24h0m47-7h0m1-2h0m1 6h0m1-9h0m3 1h0m12 2h0m-19 19h0m-25 5h0m75 41h0m14-3h0m5 2h0m10 8h0m-2-6h0m-4 3h0m-3 4h0m0 8h0m-4 2h0m0-12h0m-6 11h0m-1-5h0m0 1h0m-1-11h0m0-1h0m-1 7h0m-4-4h0m-7 3h0" stroke="#41b6c4" stroke-width="14"/>
<g fill="#1d91c0"><ellipse cx="2165.3" cy="2936.9" rx="13.6" ry="8.9"/></g>
<path d="M2152 2933h0m0 2h0m1 3h0m0-9h0m3 5h0m0 3h0m1-4h0m3 4h0m4-6h0m0 13h0m0-12h0m1-3h0m2 0h0m3 10h0m1-2h0m5 1h0m3-5h0m123 1h0" stroke="#1d91c0" stroke-width="14"/>
<path d="M2295 2883h0m26 15h0" stroke="#225ea8" stroke-width="14"/>
<g fill="#253494"><ellipse cx="2279.2" cy="2918.8" rx="7.8" ry="7.8"/><ellipse cx="2312.8" cy="2921.4" rx="5.8" ry="5.8"/></g>
<path d="M2318 2925h0m-1-6h0m-3 4h0m-2-7h0m-3 6h0m-2-4h0m-20-1h0m-2 7h0m-1 0h0m-1-11h0m-4 12h0m-1 2h0m-1-13h0m-2 3h0m-2-4h0m-1 8h0" stroke="#253494" stroke-width="14"/>
<g fill="#081d58"><ellipse cx="2297.3" cy="2903.3" rx="14.4" ry="11.3"/></g>
<path d="M2282 2899h0m3 4h0m0-4h0m8-1h0m1-8h0m7 0h0m7 13h0m0-11h0m-2 21h0m-1-4h0m0 5h0m-5-5h0m-1 3h0m-1 4h0m-2-10h0m-3 6h0m0 5h0m-2-3h0m-1-1h0m-2 1h0m-4-6h0m-2 3h0" stroke="#081d58" stroke-width="14"/>
<use href="#bgd2" x="2747.8" y="0"/>
<g fill="#fdfdd0"><ellipse cx="2739.8" cy="3087" rx="5" ry="5"/></g>
<path d="M2687 2806h0m182 70h0m-10-6h0m-233 173h0m-4 17h0m97 27h0m16-1h0m7 3h0m1 0h0m0-4h0m1 0h0" stroke="#fdfdd0" stroke-width="14"/>
<g fill="#081d58"><ellipse cx="2696.9" cy="3038.9" rx="7.8" ry="7.8"/></g>
<path d="M2690 3035h0m3 11h0m1-12h0m0 8h0m0-5h0m3-7h0m1 3h0m0 2h0m2 2h0m1-5h0" stroke="#081d58" stroke-width="14"/>
<use href="#bgd2" x="3240.2" y="0"/>
<path d="M3201 2774h0m-25 28h0m65 13h0m89 17h0m-211 39h0m-17 8h0m79 21h0m71 2h0m140 91h0" stroke="#fdfdd0" stroke-width="14"/>
<g fill="#edf8b1"><ellipse cx="3117.6" cy="2931.7" rx="14.4" ry="5"/></g>
<path d="M3103 2898h0m275-18h0m-258 47h0m-3 0h0m-9 0h0m-6 6h0m4-3h0m3 4h0m4 2h0m0-3h0m1-4h0m2 2h0m10 4h0m8-6h0m51 35h0m98 101h0" stroke="#edf8b1" stroke-width="14"/>
<g fill="#c7e9b4"><ellipse cx="3342.8" cy="2861.9" rx="5.8" ry="5.8"/></g>
<path d="M3360 2871h0m-15-14h0m-1 9h0m-1-7h0m-3 9h0m-2-7h0m-1 4h0m-183 91h0m-64 31h0m66-4h0" stroke="#c7e9b4" stroke-width="14"/>
<g fill="#7fcdbb"><ellipse cx="3326.2" cy="3002.7" rx="5" ry="5"/></g>
<path d="M3154 2991h0" stroke="#7fcdbb" stroke-width="16"/>
<path d="M3307 2999h0m17-1h0m3 4h0m-2 0h0m-1 3h0m-3-3h0m-40 16h0m-85-2h0m67 10h0" stroke="#7fcdbb" stroke-width="14"/>
<path d="M3093 3060h0" stroke="#41b6c4" stroke-width="14"/>
<path d="M3105 3051h0" stroke="#1d91c0" stroke-width="16"/>
<path d="M3137 3068h0" stroke="#1d91c0" stroke-width="14"/>
<path d="M3196 3042h0m-78 10h0m100 38h0" stroke="#225ea8" stroke-width="14"/>
<path d="M3159 3057h0" stroke="#225ea8" stroke-width="12"/>
<g fill="#081d58"><ellipse cx="3205.6" cy="3066.3" rx="10.5" ry="8.2"/></g>
<path d="M3211 3061h0" stroke="#081d58" stroke-width="16"/>
<path d="M3217 3071h0m-2-5h0m-4-3h0m0 8h0m-3-6h0m-1 2h0m-2-7h0m-1 2h0m-1 0h0m-1-2h0m-7 9h0m-2-3h0m7 8h0" stroke="#081d58" stroke-width="14"/>
<use href="#bgd2" x="3732.6" y="0"/>
<path d="M3830 2825h0m-265 91h0m52 16h0m40 9h0m33 20h0m-88 12h0m-19 52h0m12 21h0m104 39h0m14 6h0" stroke="#fdfdd0" stroke-width="14"/>
<g fill="#edf8b1"><ellipse cx="3769.8" cy="3023.9" rx="5.8" ry="5.8"/></g>
<path d="M3880 2880h0m-149 73h0m38 69h0m-3 1h0m-3 1h0m4 5h0m7-4h0m2-1h0" stroke="#edf8b1" stroke-width="14"/>
<path d="M3841 2841h0m22 48h0m-61 39h0m-40 26h0m-5 50h0" stroke="#c7e9b4" stroke-width="14"/>
<g fill="#41b6c4"><ellipse cx="3896.6" cy="2991.3" rx="8.2" ry="5"/></g>
<path d="M3860 2871h0m-51 66h0m81 54h0m4-3h0m1-1h0m1 8h0m1-2h0m5 1h0m0-2h0" stroke="#41b6c4" stroke-width="14"/>
<g fill="#1d91c0"><ellipse cx="3834.5" cy="2867" rx="6.6" ry="6.6"/></g>
<path d="M3816 3008h0" stroke="#1d91c0" stroke-width="16"/>
<path d="M3837 2863h0m0-3h0m-2 8h0m-1-7h0m-1 8h0m-1-2h0m-2 5h0m-15 76h0m-32 27h0" stroke="#1d91c0" stroke-width="14"/>
<g fill="#225ea8"><ellipse cx="3793.1" cy="2970.6" rx="5.8" ry="5.8"/></g>
<path d="M3798 2974h0m-2-9h0m-1 1h0m-2 5h0m0 2h0m-6-4h0" stroke="#225ea8" stroke-width="14"/>
<path d="M3816 2958h0m-13 38h0m39-13h0m10-7h0" stroke="#253494" stroke-width="14"/>
<g fill="#081d58"><ellipse cx="3821.6" cy="2978.3" rx="11.6" ry="11.6"/></g>
<path d="M3832 2968h0m-8 5h0m0-8h0m-1 3h0m-1-3h0m-1 1h0m-1 9h0m-2-3h0m-7-1h0m-2 8h0m9 10h0m2-12h0m1-1h0m2 14h0m1-9h0m0 6h0m3 2h0m1-10h0m2 4h0m1-5h0" stroke="#081d58" stroke-width="14"/>
<g fill="#b40426"><ellipse cx="241.9" cy="3185.8" rx="7.1" ry="10.2"/><ellipse cx="153.9" cy="3232.3" rx="11.4" ry="9.7"/></g>
<path d="M231 3187h0m2 1h0m0 2h0m1-7h0m0 4h0m1-5h0m3-1h0m1-2h0m1 2h0m1 3h0m1-16h0m1 14h0m1-1h0m2 5h0m0-4h0m1-2h0m0-6h0m2 3h0m-2 16h0m-3 5h0m-7-3h0m-3 0h0m-95 31h0m2 6h0m1-9h0m3-2h0m1-1h0m4 2h0m3-5h0m1 19h0m0 3h0m2-12h0m1 10h0m0-21h0m1 7h0m7-2h0m0 0h0m1 7h0m1 11h0m1-6h0m1 4h0m1-8h0m0 5h0m1-5h0m0 0h0m0 6h0m1-1h0m0-6h0m-10 15h0m-2-2h0m-1 5h0m-2-5h0m-1 6h0m-4-7h0m-3 3h0m-2 3h0" stroke="#b40426" stroke-width="6.8"/>
<path d="M191 3236h0m1 4h0m-4 1h0" stroke="#e8765c" stroke-width="6.8"/>
<g fill="#f4c0a5"><ellipse cx="294.7" cy="3211.6" rx="22.2" ry="14.2" transform="rotate(25 294.7 3211.6)"/></g>
<path d="M269 3187h0m18 3h0m3-3h0m0-1h0m0 3h0m1-3h0m3 5h0m7 0h0m26 20h0m-7-11h0m-1 8h0m-2-3h0m0 7h0m0 0h0m0 0h0m-1 3h0m0-7h0m-1-1h0m-2 8h0m0-10h0m-1 1h0m-1-6h0m-2 0h0m-1-2h0m0 2h0m0 14h0m-1-9h0m0-12h0m-2 8h0m-2 13h0m-1-12h0m-1 2h0m-2 8h0m-7-6h0m-3-1h0m0-10h0m-1 18h0m0-2h0m0-15h0m0 6h0m0 13h0m0-7h0m-2-14h0m-1 3h0m-3 0h0m-2 12h0m-2-12h0m0 6h0m0 12h0m-1-23h0m-1 13h0m-3-6h0m0-4h0m-1 3h0m0 5h0m0 1h0m-1-9h0m-3 0h0m0 8h0m0-1h0m-3-9h0m-2 2h0m-1 9h0m0 4h0m6 11h0m1 1h0m2 5h0m5-4h0m0 4h0m2 1h0m1-3h0m7-6h0m3 6h0m0 10h0m1-12h0m0-2h0m3-3h0m1 8h0m1-8h0m0 19h0m6 3h0m1-16h0m4 17h0m2-20h0m3 17h0m3 0h0m3-10h0m1 4h0m0-13h0m1 4h0m0 1h0m0 10h0m0-11h0m1 4h0m0 10h0m4-2h0m1-3h0m0-9h0" stroke="#f4c0a5" stroke-width="6.8"/>
<g fill="#cd4237"><ellipse cx="381.6" cy="3232.3" rx="13.1" ry="6.3" transform="rotate(-25 381.6 3232.3)"/></g>
<path d="M365 3232h0m10 5h0m4-3h0m0-5h0m0 1h0m2-7h0m1 16h0m0-10h0m3 0h0m0 9h0m1-18h0m3 13h0m1 5h0m0-15h0m1 2h0m1 14h0m1-13h0m0 7h0m4-6h0m-10 14h0m-1-1h0m-4 0h0m-14 0h0m-1 3h0m-3 0h0" stroke="#cd4237" stroke-width="6.8"/>
<g fill="#f08a6c"><ellipse cx="247" cy="3237.5" rx="8.5" ry="8"/><ellipse cx="182.3" cy="3325.5" rx="12" ry="5.7"/></g>
<path d="M235 3238h0m1 1h0m4-6h0m2-3h0m2 2h0m0 1h0m2-5h0m3-1h0m6 8h0m1-6h0m4 13h0m-4 2h0m0 0h0m-2 1h0m-5 0h0m-1 6h0m-2-1h0m-5-9h0m-1 0h0m0 2h0m-3 2h0m-74 82h0m1 1h0m4-8h0m2 13h0m0-7h0m1 5h0m2-4h0m0 2h0m1-10h0m3 16h0m2-4h0m1-6h0m0-8h0m3 0h0m1 10h0m3-7h0m3 7h0m0 2h0m5-10h0m1 13h0m2-6h0" stroke="#f08a6c" stroke-width="6.8"/>
<g fill="#c83a36"><ellipse cx="262.6" cy="3263.4" rx="10.2" ry="6.3"/></g>
<path d="M276 3261h0m-8-4h0m-1-4h0m-4 0h0m0 3h0m-1 1h0m0 5h0m-2-1h0m-10-3h0m0 0h0m6 14h0m1 1h0m3-4h0m2-5h0m3 10h0m1-4h0m3 3h0m6-6h0m1-3h0" stroke="#c83a36" stroke-width="6.8"/>
<g fill="#6f92f3"><ellipse cx="318.5" cy="3269.6" rx="4.3" ry="3.7"/></g>
<path d="M312 3272h0m4 0h0m2-6h0m6 5h0" stroke="#6f92f3" stroke-width="6.8"/>
<g fill="#d44e41"><ellipse cx="379" cy="3274.8" rx="5.7" ry="5.1"/></g>
<path d="M376 3273h0m0 4h0m0-10h0m3-1h0m0 1h0m1 3h0m3 9h0m2 2h0m0-12h0" stroke="#d44e41" stroke-width="6.8"/>
<g fill="#f4a582"><ellipse cx="216" cy="3266" rx="10" ry="9.1"/><ellipse cx="392" cy="3315.2" rx="4.3" ry="4.3"/><ellipse cx="125.4" cy="3366.9" rx="17.1" ry="18.2"/><ellipse cx="278.1" cy="3462.7" rx="4.6" ry="10.2"/></g>
<path d="M229 3258h0m-1-2h0m-5 0h0m-2 4h0m-1-5h0m-1 0h0m-3 0h0m-2 7h0m0-9h0m-7 9h0m-3-3h0m0 3h0m-2 9h0m0-3h0m0 4h0m4-6h0m1 9h0m3-5h0m1-2h0m2 9h0m1 4h0m2-13h0m11 7h0m1-2h0m1-9h0m1 6h0m0-2h0m2-1h0m163 43h0m-2 5h0m3 4h0m2-1h0m1-3h0m-247 44h0m-7-10h0m-2 5h0m0-3h0m-2-4h0m0-4h0m-3 2h0m0 7h0m-3-13h0m0-1h0m0 11h0m-4-13h0m-1 6h0m-1 14h0m-1-10h0m-1-4h0m-1 8h0m-3 3h0m-1-9h0m-6-1h0m0 16h0m-3-11h0m-2 1h0m0-6h0m-3 3h0m0 13h0m-1-4h0m0-4h0m-1-1h0m0-3h0m-3 10h0m-1 0h0m0 0h0m-1 1h0m-4 8h0m0-4h0m2 10h0m1 10h0m0-16h0m0-3h0m1 18h0m2-10h0m1-9h0m1-1h0m0 18h0m2-13h0m1 7h0m1-8h0m1 12h0m1-9h0m0 11h0m2-6h0m0-5h0m1 10h0m0 2h0m0-7h0m0-2h0m1 0h0m1 10h0m0-15h0m1 2h0m0 4h0m1 0h0m6-8h0m0 10h0m2-14h0m0 11h0m1 8h0m4-16h0m0 20h0m4-20h0m1-2h0m1 5h0m3 17h0m0-16h0m1 9h0m1-13h0m3 20h0m0-13h0m2 9h0m2 3h0m0-16h0m1 1h0m0 11h0m3-13h0m2 2h0m-16 21h0m-4 8h0m-2-3h0m-1 3h0m0-1h0m-2-7h0m-4 9h0m-6-4h0m-2 4h0m-5-2h0m168 56h0m-1 3h0m0 0h0m-1 0h0m-5 13h0m1 1h0m2 2h0m1-11h0m1 18h0m0-4h0m1-8h0m1 5h0m0-14h0m4 3h0" stroke="#f4a582" stroke-width="6.8"/>
<g fill="#f4b8a0"><ellipse cx="239.3" cy="3286.7" rx="14.8" ry="6.3" transform="rotate(40 239.3 3286.7)"/><ellipse cx="386.8" cy="3354" rx="20.5" ry="12.8"/></g>
<path d="M225 3273h0m0 11h0m2 1h0m1-11h0m1-4h0m2 9h0m2 5h0m0-9h0m2 7h0m2-10h0m0 11h0m1-5h0m5 4h0m4 3h0m3-2h0m8 20h0m-3-13h0m-1 1h0m-1 7h0m0-6h0m-7 9h0m-2-5h0m0-8h0m0 14h0m-2-13h0m0 4h0m-1-1h0m-3 3h0m140 40h0m15 0h0m0-3h0m1 2h0m25 19h0m-1-1h0m-2-9h0m-1 15h0m-1-8h0m-2 2h0m-2 7h0m0-3h0m-3-6h0m0 9h0m-1-15h0m0 8h0m-2-15h0m0 11h0m-3 7h0m-1-9h0m0-2h0m0 2h0m-1-9h0m-3 8h0m-1-6h0m0 18h0m-1-21h0m-3 22h0m-1-17h0m-2-4h0m-3 13h0m0-3h0m-1-10h0m-3 0h0m-2 5h0m0 9h0m-3-6h0m-1 5h0m0 3h0m-1-4h0m-1-9h0m0 18h0m-4-20h0m-3 13h0m-3 2h0m0-1h0m-2-10h0m0 12h0m-1-11h0m0 5h0m-1-1h0m-5 9h0m2 7h0m0 1h0m0-2h0m10 2h0m2 6h0m0-8h0m0 11h0m4-13h0m1 8h0m3 4h0m3-12h0m1 8h0m1 7h0m0-14h0m3 10h0m3 1h0m0 3h0m4-2h0m0-10h0m2 12h0m2-1h0m2-9h0m0 4h0m0 6h0m2-4h0m2-2h0m8-8h0m1 7h0m0-4h0" stroke="#f4b8a0" stroke-width="6.8"/>
<g fill="#f2c0aa"><ellipse cx="146.1" cy="3284.1" rx="10.2" ry="8.5"/><ellipse cx="112.5" cy="3302.2" rx="11.4" ry="8.5"/><ellipse cx="425.6" cy="3398" rx="10.2" ry="6.3"/></g>
<path d="M128 3284h0m5-9h0m1 6h0m3 0h0m0 6h0m5-2h0m0-15h0m4 14h0m0-4h0m4-2h0m3 6h0m1-5h0m6-1h0m0 9h0m1-2h0m1 0h0m0-6h0m0 2h0m-4 11h0m-7 3h0m-5-2h0m0 5h0m-2-10h0m-2 3h0m-1-1h0m-4 3h0m-5 0h0m-4 17h0m0-10h0m-1 11h0m-2-19h0m-1 1h0m0 8h0m-3-10h0m-2 9h0m0-11h0m-2 10h0m-2 9h0m-3-7h0m0-9h0m-1 18h0m0-12h0m-2 13h0m0-14h0m-1-5h0m-2 15h0m-1-12h0m0 14h0m-3-13h0m0 8h0m-1-8h0m-4 8h0m-1-8h0m0 8h0m-2-3h0m5 12h0m6 2h0m334 83h0m-2-7h0m-2 4h0m0-5h0m0 10h0m-1-8h0m-1-2h0m0 12h0m-3-8h0m-4 10h0m-1 3h0m0-3h0m-1-8h0m-2 11h0m-2-1h0m-8-8h0m0-3h0m-1 4h0m-1-1h0" stroke="#f2c0aa" stroke-width="6.8"/>
<g fill="#cdd3e5"><ellipse cx="182.3" cy="3286.7" rx="8.5" ry="7.1"/></g>
<path d="M171 3287h0m6-5h0m2-5h0m0 2h0m9 4h0m1 0h0m2 2h0m-1 9h0m-3 1h0m-2-2h0m-3-1h0m-1 2h0m0-1h0m-1 2h0m-1-3h0m-4-3h0m-2 1h0m-1 4h0m83 62h0m-7-6h0m-3 1h0" stroke="#cdd3e5" stroke-width="6.8"/>
<g fill="#e36b50"><ellipse cx="438.6" cy="3291.9" rx="8.5" ry="9.1"/><ellipse cx="358.3" cy="3312.6" rx="4.3" ry="5.1"/><ellipse cx="298.8" cy="3325.5" rx="10.2" ry="4.6"/><ellipse cx="472.2" cy="3340" rx="4.3" ry="3.7"/></g>
<path d="M429 3283h0m1-4h0m0 7h0m6 1h0m12 0h0m5 8h0m-4 4h0m0-6h0m-2 8h0m0 2h0m0 1h0m-1-1h0m-4-10h0m0 7h0m-1-5h0m-1-5h0m-2 14h0m-2 0h0m-1-7h0m-1-3h0m-2-3h0m-1 13h0m-2-6h0m-3-5h0m-68 12h0m-6 4h0m-65 15h0m6 6h0m0-3h0m1 0h0m4-5h0m5 9h0m1-4h0m1-2h0m1 5h0m2-1h0m1 1h0m1-5h0m4 0h0m2 0h0m42-10h0m1 2h0m1 2h0m2-7h0m110 22h0m1 4h0m-2 7h0m-4-6h0m-28 20h0m-1 1h0m6 1h0" stroke="#e36b50" stroke-width="6.8"/>
<g fill="#7b9ff9"><ellipse cx="288.4" cy="3302.2" rx="7.1" ry="8"/><ellipse cx="309.2" cy="3449.7" rx="7.1" ry="7.1"/></g>
<path d="M300 3299h0m-1 7h0m-2-12h0m-2 9h0m0 8h0m-6-11h0m-1-2h0m-1-5h0m-1-4h0m-1 19h0m-1-6h0m-1 2h0m-5-6h0m4 14h0m6 1h0m2 1h0m1-1h0m27 140h0m-1-1h0m-1-8h0m-3-4h0m-1 15h0m-1-3h0m-2-10h0m-1 4h0m-2 4h0m0 5h0m-2-15h0m-2 5h0m-3-2h0m6 16h0m6-2h0" stroke="#7b9ff9" stroke-width="6.8"/>
<g fill="#b7cff9"><ellipse cx="260" cy="3330.7" rx="7.1" ry="8.5"/></g>
<path d="M250 3322h0m3-2h0m1 15h0m2-17h0m1-1h0m0 2h0m3 10h0m1-7h0m3 4h0m1 2h0m1-5h0m4 5h0m1 8h0m-2 2h0m-5 2h0m-6 3h0m-1-7h0m-4 0h0" stroke="#b7cff9" stroke-width="6.8"/>
<g fill="#e0d3cc"><ellipse cx="332.4" cy="3338.4" rx="8.5" ry="8.5"/></g>
<path d="M326 3331h0m1-1h0m2 4h0m2 1h0m3-6h0m2-4h0m7 9h0m1-3h0m-3 7h0m-1 13h0m-1-3h0m-4-5h0m-2 0h0m-2 7h0m-1-9h0m-3 5h0m0-3h0m0-2h0m0 0h0m-3 0h0m-2-3h0m-1-2h0" stroke="#e0d3cc" stroke-width="6.8"/>
<g fill="#ead0c3"><ellipse cx="436" cy="3330.7" rx="10.2" ry="9.1"/></g>
<path d="M419 3333h0m1 1h0m2-6h0m1-7h0m0 12h0m2-10h0m1-2h0m0 8h0m4 5h0m1-17h0m0 18h0m1-6h0m0 4h0m4 0h0m0-2h0m0-13h0m1-2h0m1 13h0m2-3h0m7 8h0m0-1h0m1-2h0m-5 7h0m-4-1h0m-2 9h0m-4-7h0m0 7h0m-2-10h0m-2 2h0" stroke="#ead0c3" stroke-width="6.8"/>
<g fill="#d5d5d5"><ellipse cx="205.6" cy="3359.2" rx="13.1" ry="11.4"/></g>
<path d="M227 3357h0m-3 1h0m-3-6h0m0-1h0m-1 4h0m0 0h0m-1-1h0m-2 5h0m-3-2h0m-5-3h0m-1 2h0m-1-4h0m-1 2h0m-3 1h0m-4-10h0m-4 2h0m-2 9h0m-9 8h0m0 0h0m1-4h0m0 0h0m4 9h0m0 0h0m1-9h0m0 10h0m1-4h0m1 9h0m2-3h0m1-3h0m0-5h0m1-4h0m1 3h0m1 4h0m0-4h0m1-2h0m3 6h0m1 10h0m2-10h0m0 4h0m2-2h0m3-5h0m1 7h0m3-9h0m1 15h0m0-5h0m7-10h0" stroke="#d5d5d5" stroke-width="6.8"/>
<g fill="#9dbdff"><ellipse cx="324.7" cy="3390.2" rx="28.5" ry="17.7"/><ellipse cx="216" cy="3405.7" rx="24.5" ry="17.1"/><ellipse cx="381.6" cy="3400.6" rx="13.1" ry="7.1"/></g>
<path d="M191 3382h0m7-3h0m0 1h0m2 3h0m3 0h0m20 0h0m2-3h0m6-1h0m0 3h0m1-3h0m2 2h0m45-1h0m1 1h0m6-1h0m1-8h0m1-1h0m0 9h0m2-9h0m6 7h0m1-13h0m2 13h0m1-9h0m0-3h0m1 17h0m1-10h0m8-9h0m1 7h0m0 2h0m1 6h0m0-1h0m1-12h0m0-2h0m2 8h0m1-4h0m1 4h0m0-1h0m2-7h0m1 6h0m2-7h0m1 8h0m0 4h0m1 4h0m3-6h0m1 0h0m1 9h0m1 0h0m2-7h0m1 5h0m0-8h0m1 7h0m0-16h0m1 3h0m2 8h0m2 1h0m1-8h0m0 11h0m1 5h0m2-8h0m1 7h0m1-16h0m2 14h0m2 0h0m1-9h0m2 8h0m9 1h0m0-9h0m6 12h0m0-3h0m36 23h0m-6-9h0m-6-2h0m-1 5h0m0 2h0m0-3h0m-2 0h0m0 4h0m-2-10h0m0 15h0m-1-14h0m-1 7h0m0 5h0m-1-13h0m0 15h0m-1 1h0m-1-4h0m-1-8h0m-3 3h0m-2 4h0m-1 3h0m-2 2h0m-1-1h0m-1-11h0m0 13h0m-1-8h0m0 2h0m-2-6h0m0-2h0m-1-6h0m-1 11h0m0 0h0m0 3h0m-1-10h0m0 9h0m0-11h0m-1-3h0m0 10h0m-1 8h0m0-9h0m-1-4h0m-1-7h0m-1 9h0m0 4h0m-3 6h0m0-4h0m-4-3h0m-1-6h0m-3 10h0m0-9h0m-1 4h0m-2-1h0m0 12h0m-2-14h0m0 4h0m0-8h0m-1 7h0m-1 12h0m-1-20h0m-2-3h0m-1 8h0m0 7h0m-5-12h0m-1 8h0m-1-5h0m-1 14h0m0-17h0m-1 16h0m-2-12h0m-3-7h0m0 1h0m0 4h0m-4 4h0m0 4h0m-3 0h0m-2-11h0m-3 18h0m-1-14h0m-1 2h0m0 8h0m0 6h0m-3-19h0m-1 5h0m-1 6h0m-1-13h0m0 17h0m-1-13h0m-1 18h0m-2-21h0m0 3h0m-2 4h0m-1-6h0m-1 10h0m-1-6h0m-1-2h0m-1 1h0m-1 16h0m0-2h0m-2-7h0m-2 1h0m-8-11h0m0 6h0m-1-6h0m-2 4h0m-19 12h0m-3 0h0m-1-2h0m-2 5h0m-4-15h0m-5 3h0m-3 2h0m0 11h0m0-20h0m-2 9h0m0 3h0m-3 6h0m0-4h0m-1-15h0m-1 5h0m-7 6h0m-3 8h0m-1-17h0m-1 8h0m0 10h0m0-16h0m-1 15h0m-2-9h0m-3-3h0m-4 4h0m-1 5h0m-1-1h0m-1-11h0m-2-1h0m0 6h0m-2 3h0m-1 0h0m-1-7h0m0 12h0m0 1h0m-1-13h0m-1 1h0m0 14h0m-6-7h0m-1-7h0m-1-4h0m-4 16h0m-2-12h0m0 15h0m-2-5h0m-2-5h0m-1-2h0m-3 11h0m-2 7h0m0-1h0m2 0h0m2 4h0m3 5h0m0-7h0m0 4h0m1-3h0m1 0h0m2 8h0m4-8h0m0 12h0m0-1h0m1-3h0m0-12h0m0 15h0m2-14h0m1 18h0m3-12h0m1 4h0m0-8h0m1 13h0m1-5h0m3 1h0m4-2h0m2 6h0m2-10h0m1 2h0m1 3h0m1-10h0m0 4h0m1 14h0m1-15h0m1 12h0m0-8h0m1 0h0m1 7h0m1-15h0m1 4h0m0 11h0m2-14h0m1-2h0m1 19h0m0-16h0m1 9h0m3-12h0m2 3h0m0 7h0m0-3h0m4-8h0m0 1h0m1-2h0m2 22h0m0-12h0m1-9h0m0 7h0m4 11h0m0-1h0m2-5h0m3 3h0m2-13h0m1-2h0m1-1h0m1 7h0m1 4h0m0-9h0m40 3h0m1 0h0m1 2h0m4-5h0m1 3h0m5 1h0m1 3h0m3-3h0m1 0h0m1-4h0m4 2h0m0 3h0m1 4h0m17-9h0m0-1h0m3 7h0m4-6h0m1 2h0m8-3h0m2 4h0m2-2h0m4-2h0m28 2h0m4 1h0m-165 21h0m-2 1h0m-7-2h0m-3 0h0m-13 0h0" stroke="#9dbdff" stroke-width="6.8"/>
<g fill="#c0d4f5"><ellipse cx="159" cy="3390.2" rx="5.7" ry="5.1"/></g>
<path d="M158 3383h0m1 0h0m5 5h0m-2 8h0m-2-11h0m-2 5h0m0 9h0m0-10h0m-3 7h0" stroke="#c0d4f5" stroke-width="6.8"/>
<g fill="#bcd2f7"><ellipse cx="138.3" cy="3421.3" rx="14.8" ry="11.4"/></g>
<path d="M143 3406h0m-10-1h0m-1-1h0m-1 0h0m-16 18h0m1 0h0m1 6h0m1-10h0m4-7h0m1 16h0m3-14h0m0 8h0m0 7h0m2-12h0m0 0h0m2-5h0m2 3h0m1 7h0m4 2h0m3-15h0m1 23h0m3-19h0m0 9h0m1 2h0m1 4h0m0-5h0m0 7h0m0-16h0m1 5h0m0-3h0m3 1h0m0 2h0m5 9h0m1-7h0m0 2h0m0-3h0m1-5h0m1 7h0m2-3h0m0-6h0m-7 21h0m-1 3h0m-1 2h0m-5-4h0m-4 0h0m-3-1h0m-1 1h0m-4 2h0m-1 2h0m-3-5h0m-1 1h0m-5 0h0" stroke="#bcd2f7" stroke-width="6.8"/>
<g fill="#f4b09a"><ellipse cx="262.6" cy="3434.2" rx="14.2" ry="10"/></g>
<path d="M242 3428h0m5 0h0m3-4h0m5-6h0m2 7h0m0 4h0m1 1h0m6-5h0m1-5h0m2 9h0m4-1h0m1-6h0m1 4h0m0-4h0m5 2h0m0-1h0m7 7h0m0 4h0m0-2h0m-4 11h0m-2 1h0m-2 4h0m0-15h0m-1 3h0m-5-1h0m0 12h0m0-14h0m-1 4h0m0 12h0m-1 1h0m-4 0h0m-2-16h0m0 3h0m-1 1h0m-5-4h0m0-1h0m-1 5h0m-1 3h0m0-6h0m-1 8h0m-1 1h0m-4-10h0m-7 3h0m-3-5h0" stroke="#f4b09a" stroke-width="6.8"/>
<g fill="#e0d5d0"><ellipse cx="394.6" cy="3444.6" rx="8" ry="8"/><ellipse cx="313.3" cy="3506.7" rx="7.1" ry="11.4" transform="rotate(20 313.3 3506.7)"/></g>
<path d="M407 3441h0m-1 1h0m0 9h0m-1-3h0m0 1h0m0 0h0m-3 0h0m-5-13h0m0 19h0m-6 0h0m-2-7h0m-3 2h0m0-14h0m0 16h0m-2-6h0m0-3h0m0-2h0m-3 3h0m14 14h0m-73 42h0m0 3h0m-1-8h0m-1-1h0m0 3h0m0 3h0m-2-7h0m0 4h0m-3 1h0m0 1h0m0 4h0m0-10h0m-2 4h0m-5 5h0m-1-9h0m-2 9h0m-3 17h0m3 0h0m0-15h0m0 13h0m4 0h0m2 8h0m1-20h0m6 5h0m7-6h0" stroke="#e0d5d0" stroke-width="6.8"/>
<g fill="#5572df"><ellipse cx="203" cy="3488.6" rx="13.1" ry="6.3" transform="rotate(20 203 3488.6)"/></g>
<path d="M197 3479h0m26 14h0m0-1h0m-6 1h0m-1-5h0m-2 13h0m-1-7h0m-1 5h0m0-6h0m-4 8h0m0-16h0m-2 7h0m-4 0h0m-3-12h0m0 18h0m-1-14h0m-1 12h0m-1-14h0m-2 10h0m-1-9h0m0 7h0m-2 2h0m0-3h0m-1-4h0m-8-2h0" stroke="#5572df" stroke-width="6.8"/>
<g fill="#3b4cc0"><ellipse cx="247" cy="3480.8" rx="7.1" ry="6.3"/></g>
<path d="M237 3475h0m3 3h0m4-2h0m2 1h0m4 2h0m4-5h0m2 1h0m-1 13h0m-3 2h0m-1 0h0m-2-9h0m-1 10h0m-12-7h0" stroke="#3b4cc0" stroke-width="6.8"/>
<use href="#bgd3" x="778.2" y="0"/>
<g fill="#fdfdd0"><ellipse cx="655.9" cy="3460.1" rx="5" ry="5"/><ellipse cx="694.8" cy="3486" rx="7.8" ry="7.8"/><ellipse cx="733.6" cy="3475.6" rx="7.8" ry="7.8"/><ellipse cx="806" cy="3493.7" rx="7.8" ry="7.8"/></g>
<path d="M651 3462h0m0-4h0m2 6h0m4-8h0m0 8h0m36 13h0m34-2h0m0-4h0m3-4h0m3 0h0m6 12h0m0-8h0m2 1h0m75 6h0m-3 14h0m-1 8h0m-1 0h0m-2 0h0m-1-5h0m0-3h0m-1-6h0m-1 9h0m-2-4h0m-4-4h0m-59-7h0m-7 0h0m-3 2h0m-34 9h0m-2 2h0m0-9h0m-1-4h0m-2 13h0m-5-10h0m-1 5h0m0 1h0m0-2h0m125 22h0" stroke="#fdfdd0" stroke-width="14"/>
<g fill="#edf8b1"><ellipse cx="733.6" cy="3289.3" rx="6.6" ry="11.3"/><ellipse cx="743.9" cy="3328.1" rx="7.8" ry="7.8"/><ellipse cx="883.7" cy="3434.2" rx="7.8" ry="7.8"/></g>
<path d="M730 3284h0m0-6h0m5 9h0m198-10h0m-7 20h0m-183 6h0m-4-11h0m-3 5h0m0-3h0m-3 4h0m-1-1h0m-2 1h0m0 3h0m0-3h0m8 34h0m1 1h0m1 0h0m0 2h0m0-8h0m4-12h0m2 17h0m1-12h0m2 3h0m2 7h0m32-17h0m-42 23h0m139 91h0m1 1h0m1 3h0m8 9h0m-4-6h0m-2 6h0m0-1h0m-1 0h0m-3 0h0m-4-3h0m-96 27h0" stroke="#edf8b1" stroke-width="14"/>
<path d="M764 3303h0m-6-12h0m9 64h0m-13 2h0m-10-10h0m-73 11h0m-15-19h0m24 22h0m-49 43h0" stroke="#edf8b1" stroke-width="12"/>
<path d="M746 3288h0m-62 44h0m55-7h0m18-11h0m-29 46h0m1 0h0m-48 29h0m-9 61h0" stroke="#edf8b1" stroke-width="10"/>
<path d="M654 3314h0m60 16h0m74 20h0m-64-4h0m51 24h0m-157 19h0m80 20h0" stroke="#edf8b1" stroke-width="8"/>
<path d="M739 3405h0" stroke="#edf8b1" stroke-width="6"/>
<g fill="#c7e9b4"><ellipse cx="630.1" cy="3281.5" rx="7.8" ry="7.8"/><ellipse cx="775" cy="3188.3" rx="6.6" ry="6.6"/></g>
<path d="M770 3186h0m3 0h0m2-2h0m1-3h0m2 9h0m3 0h0m10 19h0m-10-16h0m-45 48h0m-114 39h0m4 5h0m0 1h0m1-3h0m2-7h0m1 9h0m1-3h0m0-2h0m4-4h0m8 26h0m-9-12h0m79 39h0m15-15h0m34 0h0m60 17h0" stroke="#c7e9b4" stroke-width="14"/>
<path d="M710 3326h0m13 8h0m-8 21h0m-67 3h0m-6 3h0m26-1h0m-19 64h0m33-14h0" stroke="#c7e9b4" stroke-width="12"/>
<path d="M708 3335h0m122 13h0m-111 9h0m-83 24h0m101-8h0m77 0h0m-71 57h0" stroke="#c7e9b4" stroke-width="10"/>
<path d="M730 3317h0m-84 46h0m-16 48h0" stroke="#c7e9b4" stroke-width="8"/>
<g fill="#7fcdbb"><ellipse cx="785.3" cy="3224.6" rx="6.6" ry="6.6"/></g>
<path d="M728 3183h0m51 43h0m4-7h0m0 6h0m0 0h0m0 1h0m6-5h0m1 5h0m-137 92h0m16 8h0m241-8h0m-109 41h0m-73-16h0m-119 63h0m88 39h0" stroke="#7fcdbb" stroke-width="14"/>
<path d="M690 3334h0m-24 22h0m52 58h0" stroke="#7fcdbb" stroke-width="12"/>
<path d="M696 3354h0m-71 15h0" stroke="#7fcdbb" stroke-width="10"/>
<path d="M696 3319h0m45 42h0m-125 52h0m84-4h0m33 6h0" stroke="#7fcdbb" stroke-width="8"/>
<g fill="#41b6c4"><ellipse cx="743.9" cy="3421.3" rx="7.8" ry="7.8"/><ellipse cx="668.9" cy="3343.6" rx="7.8" ry="7.8"/><ellipse cx="614.5" cy="3346.2" rx="7.8" ry="7.8"/><ellipse cx="728.4" cy="3193.5" rx="5.8" ry="5.8"/><ellipse cx="687" cy="3434.2" rx="5.8" ry="5.8"/></g>
<path d="M736 3201h0m-3-5h0m-3-3h0m-1 1h0m-2 0h0m-1 0h0m-3-2h0m-114 141h0m24-5h0m44 17h0m0 1h0m-2-7h0m-3-3h0m-2 13h0m-4-9h0m-2 0h0m-1 6h0m-1-7h0m-1 7h0m-44 2h0m-1-3h0m0-7h0m-1 0h0m-4 15h0m-1-7h0m0 8h0m-2-3h0m-1-4h0m0 0h0m23 74h0m31 5h0m24 3h0m52-12h0m1 9h0m4 1h0m3-13h0m0-1h0m4 10h0m3-5h0m0 3h0m1 0h0m0-2h0m-59 17h0m-4-1h0m-6-1h0m0 5h0m-1-7h0" stroke="#41b6c4" stroke-width="14"/>
<path d="M722 3387h0m32 36h0" stroke="#41b6c4" stroke-width="12"/>
<path d="M721 3396h0m-67 35h0m63-12h0" stroke="#41b6c4" stroke-width="10"/>
<path d="M682 3235h0m33 100h0m13 12h0m-26 29h0m15 18h0m-93 1h0" stroke="#41b6c4" stroke-width="8"/>
<path d="M661 3359h0m27 14h0m-6 32h0m-69 11h0" stroke="#41b6c4" stroke-width="6"/>
<g fill="#1d91c0"><ellipse cx="764.6" cy="3385" rx="16.7" ry="9.7"/><ellipse cx="650.8" cy="3426.4" rx="9.7" ry="9.7"/><ellipse cx="847.5" cy="3421.3" rx="5.8" ry="5.8"/></g>
<path d="M798 3389h0" stroke="#1d91c0" stroke-width="16"/>
<path d="M635 3380h0m44-18h0m24 8h0m46 10h0m0-1h0m5-2h0m2 6h0m0-1h0m1-5h0m1-3h0m15 4h0m7 13h0m-8 3h0m-5-7h0m0 7h0m-3-8h0m0 5h0m0-6h0m-1 0h0m-6 8h0m-2-9h0m-2 6h0m-3 3h0m0-6h0m-2 5h0m-87-2h0m-20 32h0m4 0h0m1 8h0m0-5h0m1 4h0m9-2h0m0-4h0m0 1h0m1 3h0m2 3h0m3-1h0m0-4h0m181-2h0m4 1h0m1-2h0m2-6h0m0 1h0m3 4h0m-197 13h0m-9 1h0" stroke="#1d91c0" stroke-width="14"/>
<path d="M701 3372h0m45 34h0m-29 13h0m20 6h0m22-12h0" stroke="#1d91c0" stroke-width="12"/>
<path d="M703 3372h0" stroke="#1d91c0" stroke-width="10"/>
<path d="M721 3407h0m-17-14h0" stroke="#1d91c0" stroke-width="8"/>
<path d="M716 3381h0m-2 30h0" stroke="#1d91c0" stroke-width="6"/>
<g fill="#225ea8"><ellipse cx="681.8" cy="3400.6" rx="11.6" ry="7.8"/><ellipse cx="640.4" cy="3405.7" rx="11.6" ry="11.6"/></g>
<path d="M718 3388h0m-25 14h0m0-3h0m-2 1h0m-7-5h0m-1 10h0m-2-5h0m-4 1h0m-1 4h0m-2-6h0m-2 3h0m-4-1h0m0 1h0m-14 4h0m0-2h0m0 1h0m-1 2h0m-1-6h0m-4 3h0m-10-3h0m-1 2h0m-1-3h0m-8 3h0m0 3h0m2 5h0m4 1h0m0-3h0m3 9h0m1 1h0m5-7h0m1 4h0m0-6h0m38-2h0m23 3h0m18 0h0" stroke="#225ea8" stroke-width="14"/>
<path d="M637 3406h0m31 31h0" stroke="#225ea8" stroke-width="12"/>
<path d="M664 3400h0m-18 6h0m61 17h0" stroke="#225ea8" stroke-width="10"/>
<path d="M660 3410h0m54 38h0m-50-13h0m-18 5h0" stroke="#225ea8" stroke-width="8"/>
<path d="M670 3422h0m-2 28h0" stroke="#225ea8" stroke-width="6"/>
<g fill="#253494"><ellipse cx="831.9" cy="3390.2" rx="11.3" ry="11.3"/><ellipse cx="868.2" cy="3359.2" rx="9.7" ry="9.7"/><ellipse cx="863" cy="3410.9" rx="8.2" ry="8.2"/><ellipse cx="635.2" cy="3225.6" rx="5" ry="5"/></g>
<path d="M630 3224h0m3-3h0m1 5h0m0 5h0m4-6h0m28 2h0m212 129h0m-3-3h0m0 6h0m-4-5h0m0-1h0m-5 4h0m-3-6h0m-4 1h0m-1 1h0m-29 29h0m4 1h0m0-3h0m4 0h0m1 3h0m0-5h0m3 2h0m21-19h0m2 9h0m6-4h0m6-4h0m3 2h0m-14 40h0m-3-1h0m0 3h0m-1 1h0m-1-5h0m-1 4h0m-15-20h0m0 3h0m-1-5h0m-1 6h0m-9 9h0m-3-11h0m-1 4h0m-5 7h0m-2-5h0m-1-4h0m-1-1h0m37 22h0m4 3h0m6 5h0m3-7h0" stroke="#253494" stroke-width="14"/>
<g fill="#081d58"><ellipse cx="914.7" cy="3387.6" rx="12" ry="15.9"/><ellipse cx="865.6" cy="3374.7" rx="15.9" ry="8.9" transform="rotate(-30 865.6 3374.7)"/><ellipse cx="648.2" cy="3234.9" rx="9.7" ry="6.6"/><ellipse cx="888.9" cy="3403.1" rx="5.8" ry="5.8"/></g>
<path d="M639 3239h0m2-3h0m6-7h0m0 3h0m1-2h0m1 9h0m3 0h0m1-5h0m0 4h0m4 1h0m195 144h0m1-10h0m5 2h0m2-2h0m4-9h0m0 4h0m1 14h0m0 1h0m5-17h0m1 15h0m0-2h0m1-14h0m2 11h0m3-5h0m0 3h0m0-5h0m2 6h0m0 1h0m28 3h0m3 3h0m0-12h0m3 13h0m7 0h0m0-14h0m9 25h0m-2-8h0m-5 12h0m-1-13h0m-2 8h0m0 12h0m-1-16h0m-2 4h0m-3 10h0m-2-17h0m0 4h0m-2 10h0m-1 2h0m0-12h0m-1 13h0m-2-11h0m0 2h0m-2 6h0m-1-5h0m-9 10h0m-1-2h0m0 3h0m-1-3h0m-3-1h0m-1 5h0m-28-23h0m-9 1h0" stroke="#081d58" stroke-width="14"/>
<use href="#bgd3" x="1270.6" y="0"/>
<path d="M1203 3490h0" stroke="#fdfdd0" stroke-width="12"/>
<path d="M1172 3476h0" stroke="#fdfdd0" stroke-width="8"/>
<path d="M1211 3505h0" stroke="#fdfdd0" stroke-width="6"/>
<path d="M1101 3405h0" stroke="#c7e9b4" stroke-width="14"/>
<path d="M1218 3380h0" stroke="#7fcdbb" stroke-width="8"/>
<path d="M1099 3335h0" stroke="#41b6c4" stroke-width="14"/>
<path d="M1229 3196h0" stroke="#41b6c4" stroke-width="12"/>
<path d="M1225 3239h0" stroke="#41b6c4" stroke-width="10"/>
<path d="M1366 3408h0" stroke="#1d91c0" stroke-width="12"/>
<path d="M1111 3355h0" stroke="#1d91c0" stroke-width="8"/>
<path d="M1144 3386h0" stroke="#1d91c0" stroke-width="4"/>
<path d="M1277 3396h0" stroke="#225ea8" stroke-width="14"/>
<path d="M1147 3232h0" stroke="#253494" stroke-width="10"/>
<path d="M1139 3238h0" stroke="#253494" stroke-width="8"/>
<path d="M1155 3226h0" stroke="#081d58" stroke-width="14"/>
<path d="M1289 3407h0" stroke="#081d58" stroke-width="12"/>
<path d="M1329 3456h0" stroke="#081d58" stroke-width="10"/>
<path d="M1341 3417h0" stroke="#081d58" stroke-width="6"/>
<path d="M1350 3413h0" stroke="#081d58" stroke-width="4"/>
<use href="#bgd3" x="1763" y="0"/>
<path d="M1773 3513h0" stroke="#fdfdd0" stroke-width="14"/>
<path d="M1786 3375h0" stroke="#fdfdd0" stroke-width="6"/>
<path d="M1765 3217h0m-39 103h0m-126 97h0" stroke="#41b6c4" stroke-width="14"/>
<path d="M1712 3183h0m38 24h0" stroke="#1d91c0" stroke-width="6"/>
<path d="M1737 3229h0m-1 27h0m-127 141h0" stroke="#1d91c0" stroke-width="4"/>
<path d="M1658 3329h0m3-6h0m5 3h0m2-4h0m7-1h0m2-1h0m1 4h0" stroke="#081d58" stroke-width="14"/>
<path d="M1658 3317h0" stroke="#081d58" stroke-width="8"/>
<use href="#bgd3" x="2255.4" y="0"/>
<path d="M2243 3393h0" stroke="#fdfdd0" stroke-width="14"/>
<path d="M2206 3477h0m74 17h0m-113-6h0" stroke="#fdfdd0" stroke-width="12"/>
<path d="M2133 3230h0" stroke="#fdfdd0" stroke-width="10"/>
<path d="M2241 3420h0m-45 85h0" stroke="#fdfdd0" stroke-width="6"/>
<path d="M2203 3179h0" stroke="#41b6c4" stroke-width="10"/>
<path d="M2277 3408h0" stroke="#41b6c4" stroke-width="4"/>
<path d="M2210 3234h0m1-1h0m0 2h0m0 0h0" stroke="#1d91c0" stroke-width="14"/>
<path d="M2305 3408h0m9 48h0" stroke="#1d91c0" stroke-width="10"/>
<path d="M2296 3408h0m37 7h0" stroke="#1d91c0" stroke-width="6"/>
<path d="M2213 3199h0m-84 186h0m197 32h0" stroke="#1d91c0" stroke-width="4"/>
<path d="M2132 3463h0" stroke="#225ea8" stroke-width="14"/>
<path d="M2137 3426h0" stroke="#253494" stroke-width="14"/>
<path d="M2085 3404h0" stroke="#253494" stroke-width="10"/>
<path d="M2093 3425h0m1 0h0m6 1h0" stroke="#081d58" stroke-width="14"/>
<use href="#bgd3" x="2747.8" y="0"/>
<g fill="#fdfdd0"><ellipse cx="2845.9" cy="3241.7" rx="6.6" ry="6.6"/><ellipse cx="2778.6" cy="3264.4" rx="5" ry="5"/><ellipse cx="2631.1" cy="3470.4" rx="5" ry="5"/><ellipse cx="2679.3" cy="3491.1" rx="5" ry="5"/></g>
<path d="M2842 3237h0m1-2h0m5 3h0m-4 8h0m0-4h0m-3 1h0m-1-3h0m-57 21h0m-6-1h0m0 1h0m-2 4h0m1 1h0m124 21h0m-273 180h0m1 1h0m2 4h0m0 2h0m5-2h0m48 21h0m-2-3h0m-2 6h0m-3-1h0m-2-3h0m-12-6h0" stroke="#fdfdd0" stroke-width="14"/>
<path d="M2810 3456h0" stroke="#fdfdd0" stroke-width="10"/>
<g fill="#edf8b1"><ellipse cx="2903.9" cy="3356.6" rx="5" ry="5"/><ellipse cx="2824.2" cy="3410.9" rx="5" ry="5"/></g>
<path d="M2773 3200h0m-137 26h0m130 108h0m83-3h0m60 25h0m-7-2h0m-2 5h0m-18-5h0m20 7h0m4 1h0m-80 44h0m0 4h0m2 2h0m0 2h0m1-1h0" stroke="#edf8b1" stroke-width="14"/>
<path d="M2816 3376h0m-19 28h0m-51 30h0" stroke="#edf8b1" stroke-width="12"/>
<path d="M2741 3329h0m86 29h0" stroke="#edf8b1" stroke-width="10"/>
<path d="M2746 3325h0m53 15h0m-105 39h0m59-14h0m-1 42h0m-28-15h0" stroke="#edf8b1" stroke-width="8"/>
<g fill="#c7e9b4"><ellipse cx="2719.1" cy="3352.9" rx="5" ry="5"/><ellipse cx="2768.3" cy="3373.6" rx="7.8" ry="7.8"/></g>
<path d="M2698 3306h0m31 27h0m-9 24h0m-1-6h0m-1 5h0m-1-5h0m-1-2h0m44 29h0m0-5h0m3 1h0m4-2h0m0-7h0m1 14h0m0-13h0m1 15h0m0-11h0m3 2h0m17 5h0m3 26h0m-19-3h0m-7-15h0m26 39h0m-145 36h0m112 48h0" stroke="#c7e9b4" stroke-width="14"/>
<path d="M2741 3350h0" stroke="#c7e9b4" stroke-width="10"/>
<path d="M2717 3318h0m20 75h0" stroke="#c7e9b4" stroke-width="8"/>
<path d="M2724 3308h0m60 46h0" stroke="#c7e9b4" stroke-width="6"/>
<path d="M2691 3302h0" stroke="#7fcdbb" stroke-width="16"/>
<path d="M2701 3362h0m57 38h0m-93 67h0" stroke="#7fcdbb" stroke-width="14"/>
<path d="M2820 3384h0" stroke="#7fcdbb" stroke-width="12"/>
<path d="M2736 3307h0m39 22h0m-9 11h0m-42 40h0m16 15h0m-13-4h0m75 34h0" stroke="#7fcdbb" stroke-width="10"/>
<path d="M2723 3308h0m-26 73h0m33 49h0" stroke="#7fcdbb" stroke-width="8"/>
<path d="M2782 3291h0m-36 40h0" stroke="#7fcdbb" stroke-width="6"/>
<g fill="#41b6c4"><ellipse cx="2675.1" cy="3307.4" rx="6.6" ry="6.6"/><ellipse cx="2659.6" cy="3333.3" rx="5" ry="5"/></g>
<path d="M2680 3302h0m0 5h0m-3 3h0m0-8h0m0 1h0m-2-3h0m-3 1h0m-17 30h0m1 4h0m4-2h0m7-11h0m-8 16h0m-3-2h0m-93 13h0" stroke="#41b6c4" stroke-width="14"/>
<path d="M2756 3226h0" stroke="#41b6c4" stroke-width="12"/>
<path d="M2746 3201h0m-58 148h0m-64 64h0" stroke="#41b6c4" stroke-width="10"/>
<path d="M2648 3345h0m-62 38h0m79-11h0m61 34h0" stroke="#41b6c4" stroke-width="8"/>
<path d="M2614 3351h0m0 26h0m54-9h0m30 3h0m34 13h0" stroke="#41b6c4" stroke-width="6"/>
<path d="M2663 3454h0" stroke="#41b6c4" stroke-width="4"/>
<g fill="#1d91c0"><ellipse cx="2783.8" cy="3496.3" rx="6.6" ry="8.9"/></g>
<path d="M2711 3467h0m77 22h0m-1 12h0m0-6h0m-6-7h0m0 2h0m0 6h0m-1-3h0m0 6h0m-2-8h0" stroke="#1d91c0" stroke-width="14"/>
<path d="M2722 3198h0m18 249h0m-11 29h0" stroke="#1d91c0" stroke-width="8"/>
<path d="M2717 3206h0m-8-8h0" stroke="#1d91c0" stroke-width="6"/>
<g fill="#225ea8"><ellipse cx="2664.8" cy="3431.6" rx="5" ry="5"/><ellipse cx="2719.1" cy="3421.3" rx="5" ry="5"/></g>
<path d="M2741 3216h0m-81 214h0m2 0h0m4-4h0m0 2h0m50-10h0m2-1h0m2 2h0m1 5h0m3-3h0m-20 28h0m-31-4h0m-3-13h0m-22 11h0" stroke="#225ea8" stroke-width="14"/>
<path d="M2623 3291h0m-33 92h0m134 56h0" stroke="#225ea8" stroke-width="10"/>
<path d="M2708 3351h0m-33-15h0m-55 18h0m95 62h0m6 20h0" stroke="#225ea8" stroke-width="8"/>
<path d="M2596 3376h0m51-10h0m53 91h0" stroke="#225ea8" stroke-width="6"/>
<path d="M2629 3352h0m31 9h0" stroke="#225ea8" stroke-width="4"/>
<g fill="#253494"><ellipse cx="2581.9" cy="3351.4" rx="5" ry="5"/></g>
<path d="M2597 3357h0m-12-3h0m-2 0h0m-1 0h0m0-2h0m-4-4h0m82 54h0m-13-9h0m-44 36h0m33 3h0" stroke="#253494" stroke-width="14"/>
<path d="M2610 3287h0m39 134h0" stroke="#253494" stroke-width="10"/>
<path d="M2633 3355h0m74 29h0m-37 19h0m-70 3h0m92 55h0" stroke="#253494" stroke-width="8"/>
<path d="M2719 3428h0" stroke="#253494" stroke-width="6"/>
<path d="M2624 3362h0" stroke="#253494" stroke-width="4"/>
<g fill="#081d58"><ellipse cx="2581.9" cy="3299.6" rx="13.6" ry="12"/><ellipse cx="2613" cy="3421.3" rx="9.7" ry="9.7"/><ellipse cx="2625.9" cy="3400.6" rx="5.8" ry="5.8"/></g>
<path d="M2594 3309h0m0-5h0m-4-4h0m0-7h0m-1 15h0m-3-16h0m0 10h0m-3-12h0m0 3h0m-2 6h0m-2 3h0m0 4h0m0-1h0m-2-7h0m-1 11h0m-1-10h0m-3-4h0m-1 10h0m-1 5h0m0-11h0m-2-4h0m11 18h0m0 24h0m51 62h0m-2 7h0m0-5h0m-2 0h0m0-6h0m-4 5h0m-19 24h0m0-8h0m2 12h0m1-8h0m1 4h0m3-10h0m3 15h0m1 1h0m0-6h0m0-1h0m1 3h0m1-9h0m3 4h0m-10 11h0" stroke="#081d58" stroke-width="14"/>
<path d="M2613 3389h0" stroke="#081d58" stroke-width="10"/>
<use href="#bgd3" x="3240.2" y="0"/>
<path d="M3200 3355h0" stroke="#fdfdd0" stroke-width="14"/>
<path d="M3315 3239h0m112 96h0m-82 8h0" stroke="#fdfdd0" stroke-width="12"/>
<path d="M3295 3330h0m-105 33h0m-27 125h0" stroke="#fdfdd0" stroke-width="8"/>
<path d="M3230 3214h0" stroke="#fdfdd0" stroke-width="6"/>
<path d="M3148 3484h0" stroke="#edf8b1" stroke-width="10"/>
<path d="M3252 3376h0" stroke="#c7e9b4" stroke-width="14"/>
<path d="M3278 3377h0" stroke="#c7e9b4" stroke-width="10"/>
<path d="M3229 3394h0" stroke="#c7e9b4" stroke-width="8"/>
<path d="M3243 3444h0m-44 23h0" stroke="#7fcdbb" stroke-width="12"/>
<path d="M3249 3403h0m62 14h0" stroke="#7fcdbb" stroke-width="6"/>
<path d="M3146 3401h0" stroke="#1d91c0" stroke-width="14"/>
<path d="M3069 3351h0" stroke="#1d91c0" stroke-width="12"/>
<path d="M3086 3353h0" stroke="#1d91c0" stroke-width="6"/>
<path d="M3266 3502h0m-1-5h0m0 2h0m1 7h0m1 1h0" stroke="#225ea8" stroke-width="14"/>
<path d="M3276 3488h0" stroke="#225ea8" stroke-width="10"/>
<path d="M3088 3430h0" stroke="#253494" stroke-width="14"/>
<path d="M3087 3396h0m-8 24h0" stroke="#253494" stroke-width="8"/>
<g fill="#081d58"><ellipse cx="3068.5" cy="3298.1" rx="8.2" ry="6.6"/></g>
<path d="M3076 3301h0m-5-9h0m-1 12h0m-1-1h0m-2-1h0m-3 3h0m-3-9h0m-1-1h0m-1 1h0m41 133h0m24 4h0" stroke="#081d58" stroke-width="14"/>
<path d="M3137 3423h0" stroke="#081d58" stroke-width="10"/>
<path d="M3135 3444h0" stroke="#081d58" stroke-width="8"/>
<use href="#bgd3" x="3732.6" y="0"/>
<path d="M3763 3498h0" stroke="#fdfdd0" stroke-width="14"/>
<path d="M3748 3396h0" stroke="#fdfdd0" stroke-width="8"/>
<path d="M3572 3297h0m-5-3h0m-3-1h0m-2 1h0" stroke="#edf8b1" stroke-width="14"/>
<path d="M3588 3341h0" stroke="#7fcdbb" stroke-width="12"/>
<path d="M3571 3344h0" stroke="#7fcdbb" stroke-width="6"/>
<path d="M3719 3293h0m-2 2h0m-2 4h0" stroke="#41b6c4" stroke-width="14"/>
<path d="M3681 3183h0" stroke="#1d91c0" stroke-width="10"/>
<path d="M3723 3200h0" stroke="#253494" stroke-width="14"/>
<path d="M3729 3204h0" stroke="#253494" stroke-width="12"/>
<path d="M3705 3229h0m5-12h0" stroke="#081d58" stroke-width="12"/>
<g fill="#f0d5c8"><ellipse cx="262.6" cy="3603.9" rx="9.6" ry="4.3" transform="rotate(-40 262.6 3603.9)"/></g>
<path d="M269 3597h0m-6 2h0m-8 9h0m1 3h0m2-10h0m1 11h0m7-4h0m2-4h0m3-4h0" stroke="#f0d5c8" stroke-width="6.8"/>
<g fill="#a5c3fe"><ellipse cx="249.6" cy="3619.4" rx="5.2" ry="5.2"/><ellipse cx="282.2" cy="3693.4" rx="7.8" ry="7.8"/><ellipse cx="350.6" cy="3750.3" rx="8.7" ry="12.2"/><ellipse cx="109.9" cy="3758.1" rx="4.3" ry="4.3"/><ellipse cx="135.8" cy="3794.3" rx="18.3" ry="17.4"/><ellipse cx="195.3" cy="3794.3" rx="15.2" ry="16.5"/><ellipse cx="213.4" cy="3836.8" rx="24.3" ry="14.8" transform="rotate(20 213.4 3836.8)"/></g>
<path d="M245 3622h0m0-4h0m5-4h0m5 8h0m0-4h0m-7 7h0m43 67h0m-4-4h0m-7-2h0m-5 3h0m-2 4h0m4 5h0m4 4h0m8-3h0m1-1h0m69 44h0m-5-5h0m-5-1h0m-5 4h0m-239 19h0m2-5h0m3 9h0m3-2h0m0-7h0m228-4h0m1-3h0m1 12h0m1 2h0m6 1h0m3-1h0m5-3h0m1-10h0m2 4h0m-149 39h0m-2-6h0m-2-2h0m-4-5h0m-7 1h0m-3-2h0m-7 5h0m-4 2h0m-2 3h0m-2 4h0m-22-2h0m-2-4h0m-6-2h0m-2-6h0m-6 0h0m-7-3h0m-2 1h0m-7 2h0m-5 7h0m-4 3h0m-1 6h0m3 12h0m1-8h0m2 9h0m6 6h0m2 1h0m7-1h0m4-1h0m7-2h0m2-3h0m5-2h0m2-5h0m25 4h0m0-4h0m1 8h0m5 5h0m4 2h0m6-4h0m8 1h0m2-9h0m0 3h0m3-10h0m26 38h0m0 6h0m-5-6h0m-3-8h0m-4-2h0m-9 0h0m-6-1h0m-1 0h0m-9-2h0m-5 4h0m-1 14h0m-1-6h0m-1-5h0m-3-3h0m5 21h0m3-3h0m8 10h0m0-3h0m8 3h0m8 2h0m5 2h0m7-2h0m3-12h0m1 8h0m2-3h0" stroke="#a5c3fe" stroke-width="6.8"/>
<g fill="#f0d0c0"><ellipse cx="309.2" cy="3636.5" rx="6.5" ry="6.5"/></g>
<path d="M316 3637h0m-1-3h0m-1-4h0m-2 13h0m-4 0h0m-2-13h0m-3 11h0m-1-6h0" stroke="#f0d0c0" stroke-width="6.8"/>
<g fill="#dcdcdc"><ellipse cx="288.4" cy="3655.6" rx="18.3" ry="9.6"/><ellipse cx="269.3" cy="3917.5" rx="10.9" ry="10.9"/></g>
<path d="M293 3646h0m-6-1h0m-6 2h0m-10 15h0m0-5h0m1-2h0m1-5h0m5-1h0m1 14h0m4 2h0m9 2h0m2-3h0m5-16h0m3 15h0m2-14h0m4 12h0m1-4h0m2-3h0m-49 256h0m6-3h0m5 1h0m3 3h0m4 10h0m0-8h0m-4 13h0m-3 3h0m-3-2h0m-6 1h0m-4-5h0m-3-4h0m0-7h0" stroke="#dcdcdc" stroke-width="6.8"/>
<g fill="#d0d8e8"><ellipse cx="324.7" cy="3652" rx="8.7" ry="8.7"/><ellipse cx="368.7" cy="3786.6" rx="7.8" ry="7.8"/></g>
<path d="M331 3646h0m-4-4h0m-5 1h0m-6 3h0m-1 7h0m3 6h0m4 2h0m5 0h0m6-3h0m1-7h0m1 1h0m41 131h0m-1 7h0m-4-12h0m-3 1h0m-7 2h0m-1 8h0m4 4h0m4 2h0m5-1h0" stroke="#d0d8e8" stroke-width="6.8"/>
<g fill="#b40426"><ellipse cx="108.3" cy="3675.3" rx="6.1" ry="9.6"/></g>
<path d="M105 3667h0m3-3h0m5 3h0m2 3h0m0 7h0m-3 6h0m-4 1h0m-3 2h0m-2-8h0m-1-6h0" stroke="#b40426" stroke-width="6.8"/>
<g fill="#c0282d"><ellipse cx="107.3" cy="3700.1" rx="9.6" ry="4.3"/></g>
<path d="M104 3695h0m-6 5h0m1 2h0m0-3h0m8 6h0m2-9h0m4 8h0m3-2h0m0-3h0" stroke="#c0282d" stroke-width="6.8"/>
<g fill="#d44e41"><ellipse cx="145.1" cy="3690.8" rx="11.3" ry="4.8" transform="rotate(-30 145.1 3690.8)"/></g>
<path d="M157 3685h0m-3 5h0m0-7h0m-5 12h0m-1-11h0m-4 2h0m-8 6h0m-1 5h0m2 2h0m5-1h0" stroke="#d44e41" stroke-width="6.8"/>
<g fill="#8caffe"><ellipse cx="228.9" cy="3670.1" rx="15.7" ry="10.9"/><ellipse cx="241.9" cy="3820.2" rx="5.2" ry="7.8"/><ellipse cx="300.4" cy="3874.6" rx="6.1" ry="8.7"/></g>
<path d="M212 3665h0m1 3h0m9-7h0m5-1h0m5-2h0m8 2h0m2 3h0m2 6h0m1 3h0m-4 3h0m-3 4h0m-7 2h0m-4 0h0m-5-1h0m-8-4h0m-1-2h0m27 140h0m4-2h0m3 10h0m0-6h0m-3 11h0m-4 0h0m-3-9h0m-1 7h0m70 53h0m0-8h0m-4 12h0m-1 1h0m0-16h0m-2-2h0m-4 15h0m0-3h0m0-6h0" stroke="#8caffe" stroke-width="6.8"/>
<g fill="#6282ea"><ellipse cx="254.8" cy="3664.9" rx="8.7" ry="8.7"/></g>
<path d="M245 3667h0m1-8h0m1 12h0m1-14h0m10-2h0m2 2h0m4 5h0m1 6h0m-2 4h0m-7 2h0m-3-1h0" stroke="#6282ea" stroke-width="6.8"/>
<g fill="#6a8cf0"><ellipse cx="267.7" cy="3680.5" rx="9.6" ry="9.6"/></g>
<path d="M268 3669h0m11 13h0m-1-6h0m-2-2h0m-3 13h0m-4 4h0m-3 0h0m-2-19h0m-3 15h0m-3-13h0m-1 11h0m-1-5h0" stroke="#6a8cf0" stroke-width="6.8"/>
<g fill="#f0cdbd"><ellipse cx="336.1" cy="3675.3" rx="13.9" ry="9.6"/></g>
<path d="M322 3670h0m9-5h0m2 2h0m8-2h0m6 3h0m6 7h0m-1-2h0m-4 7h0m-6 5h0m-7 0h0m-3 0h0m-5-4h0m-7-2h0m0-7h0" stroke="#f0cdbd" stroke-width="6.8"/>
<g fill="#5a78e4"><ellipse cx="218.6" cy="3701.2" rx="13" ry="21.7"/></g>
<path d="M232 3688h0m-3 0h0m-4-7h0m-4-5h0m-2-1h0m-6 7h0m-2 3h0m-3 3h0m-4 2h0m-1 7h0m4 8h0m1 13h0m0-6h0m22 0h0m1 4h0m2-9h0m0-10h0m-7 24h0m-2 0h0m-5 4h0m-5 1h0m-4-5h0" stroke="#5a78e4" stroke-width="6.8"/>
<g fill="#5572df"><ellipse cx="213.4" cy="3719.3" rx="10.9" ry="10.9"/></g>
<path d="M202 3719h0m1-4h0m3-5h0m5-1h0m6 1h0m3 2h0m5 2h0m-2 8h0m-1 6h0m-6 4h0m-2 0h0m-9-4h0m-3-4h0" stroke="#5572df" stroke-width="6.8"/>
<g fill="#3f53c6"><ellipse cx="206.7" cy="3740" rx="6.5" ry="12.2"/><ellipse cx="235.7" cy="3791.7" rx="10.9" ry="13.9"/></g>
<path d="M214 3742h0m-2-6h0m-1-6h0m-4-2h0m-2-2h0m-2 5h0m-3 6h0m0 8h0m3 3h0m2 6h0m2-3h0m6-4h0m34 42h0m-2-8h0m-4-4h0m-5 2h0m-6-1h0m-2 5h0m-4 1h0m-2 7h0m5 7h0m2 6h0m4 3h0m5 0h0m3-3h0m4-1h0m3-8h0" stroke="#3f53c6" stroke-width="6.8"/>
<g fill="#e6d5cc"><ellipse cx="262.6" cy="3711.5" rx="10.9" ry="15.7"/><ellipse cx="252.2" cy="3732.2" rx="8.7" ry="7.8"/><ellipse cx="319.5" cy="3773.6" rx="4.3" ry="4.3"/><ellipse cx="260" cy="3843.5" rx="15.7" ry="10.9"/></g>
<path d="M259 3695h0m-7 21h0m0-6h0m3-8h0m0-6h0m9 1h0m3 0h0m4 22h0m1-3h0m0-12h0m3 1h0m-5 20h0m-4 3h0m-4 7h0m-2-6h0m-1-1h0m-2 0h0m-1 11h0m0-16h0m-1-2h0m-1 3h0m-3 17h0m-3-3h0m0-14h0m-4 11h0m-1-5h0m81 47h0m-1-6h0m-2 7h0m-4-7h0m-2 2h0m-44 64h0m-4-5h0m-2-1h0m-8 2h0m-9 1h0m-1 5h0m-5 8h0m2-5h0m4 8h0m5 3h0m6 2h0m6 0h0m5-2h0m3-2h0m2-5h0m2-6h0" stroke="#e6d5cc" stroke-width="6.8"/>
<g fill="#ee8468"><ellipse cx="381.6" cy="3719.3" rx="10.9" ry="10.9"/><ellipse cx="397.1" cy="3707.4" rx="5.2" ry="4.3"/><ellipse cx="454.1" cy="3820.2" rx="21.7" ry="20.9"/></g>
<path d="M371 3719h0m1-5h0m1-3h0m5-3h0m5-1h0m7 4h0m2-2h0m1 5h0m0-9h0m4 7h0m0-9h0m4 7h0m1-5h0m-8 17h0m-3 6h0m-4 1h0m-5 2h0m-7-1h0m-3-6h0m59 88h0m4-4h0m5-5h0m3-4h0m3-3h0m7 5h0m8-3h0m6 0h0m0 5h0m4 5h0m7 3h0m-2 23h0m-1-14h0m0-2h0m-1 8h0m-4 11h0m-33 0h0m-2-3h0m0-6h0m-4-5h0m-1-3h0m15 22h0m6 0h0m3 3h0m5-5h0m5 1h0" stroke="#ee8468" stroke-width="6.8"/>
<g fill="#ead5c8"><ellipse cx="104.7" cy="3747.7" rx="8.7" ry="13"/><ellipse cx="102.1" cy="3773.6" rx="6.5" ry="13"/></g>
<path d="M113 3738h0m-6-6h0m-5 4h0m-3 2h0m-3 19h0m1-8h0m0-5h0m0 19h0m3-2h0m1-2h0m2 3h0m2 0h0m2 1h0m2-3h0m2-2h0m2-12h0m1 3h0m-5 22h0m-1 8h0m-1 5h0m-3 1h0m-4 4h0m-2-3h0m-2-14h0m-1 3h0" stroke="#ead5c8" stroke-width="6.8"/>
<g fill="#f4c0a5"><ellipse cx="125.4" cy="3747.7" rx="6.5" ry="5.2"/><ellipse cx="213.4" cy="3923.7" rx="24.3" ry="10.4" transform="rotate(-20 213.4 3923.7)"/></g>
<path d="M125 3743h0m-5 7h0m0-5h0m3 7h0m7 1h0m1-8h0m1 4h0m82 162h0m8-1h0m8 1h0m7-1h0m1 5h0m0-2h0m-1 8h0m-3 3h0m-2 4h0m-6 4h0m-11 3h0m-5 0h0m-1-21h0m-8 3h0m-5 1h0m-1 17h0m-2-13h0m-4 13h0m-3-4h0m0-1h0m15 6h0m1 2h0" stroke="#f4c0a5" stroke-width="6.8"/>
<g fill="#c9d7f0"><ellipse cx="283.3" cy="3765.9" rx="26.1" ry="17.4"/><ellipse cx="332.4" cy="3848.7" rx="9.6" ry="9.6"/></g>
<path d="M256 3756h0m1 10h0m2-5h0m4-7h0m5-2h0m4 0h0m6-7h0m5 1h0m7 0h0m7 2h0m4 7h0m5-1h0m1 7h0m0 4h0m2 3h0m0 4h0m-2 3h0m-7 3h0m-5 2h0m-5 2h0m-4 0h0m-5 2h0m-9-1h0m-2-3h0m-5-2h0m-7-3h0m-5-3h0m83 67h0m-7 0h0m-7 7h0m2 7h0m2 4h0m1-15h0m2 16h0m5 1h0m5-18h0m1 16h0m2-6h0m1-5h0" stroke="#c9d7f0" stroke-width="6.8"/>
<g fill="#c5d5f2"><ellipse cx="285.9" cy="3796.9" rx="15.7" ry="8.7"/></g>
<path d="M298 3790h0m-2-1h0m-9 0h0m-6-2h0m-9 4h0m-4 7h0m3-3h0m1 7h0m3 3h0m3 2h0m9-2h0m6-1h0m6 0h0m3-9h0m2 2h0" stroke="#c5d5f2" stroke-width="6.8"/>
<g fill="#f4b09a"><ellipse cx="316.9" cy="3799.5" rx="10.9" ry="10.9"/></g>
<path d="M321 3788h0m-6 1h0m-10 13h0m1-7h0m2 11h0m1 3h0m1-17h0m5 20h0m7-2h0m3-4h0m0-13h0m2 10h0m1-5h0" stroke="#f4b09a" stroke-width="6.8"/>
<g fill="#f4a582"><ellipse cx="390.9" cy="3795.4" rx="27" ry="10.4" transform="rotate(42 390.9 3795.4)"/></g>
<path d="M403 3790h0m-6-6h0m-6-3h0m-8-5h0m-4-1h0m-3 2h0m-4 13h0m-1-4h0m-1-12h0m-2 7h0m0-3h0m11 20h0m2 4h0m8 5h0m5 5h0m4 1h0m6 1h0m1-21h0m7 7h0m0 5h0m3 6h0m1 3h0m-5 3h0m-1 1h0" stroke="#f4a582" stroke-width="6.8"/>
<g fill="#e3d8d2"><ellipse cx="358.3" cy="3828" rx="22.6" ry="10.4" transform="rotate(-30 358.3 3828)"/></g>
<path d="M371 3812h0m1 2h0m5 1h0m5 0h0m-2 7h0m-4 5h0m-3 3h0m-6 5h0m-4-19h0m-5 0h0m-8 3h0m-5 4h0m-5 6h0m-1 7h0m-1-4h0m-2 8h0m4 5h0m5-2h0m6-2h0m8-1h0m4 0h0" stroke="#e3d8d2" stroke-width="6.8"/>
<g fill="#6f92f3"><ellipse cx="248.6" cy="3896.3" rx="7.8" ry="7"/></g>
<path d="M240 3898h0m3 5h0m0-10h0m4 10h0m0-13h0m6 13h0m1-12h0m2 7h0m0-5h0" stroke="#6f92f3" stroke-width="6.8"/>
<g fill="#f08a6c"><ellipse cx="270.3" cy="3945.5" rx="13" ry="7.8"/></g>
<path d="M257 3951h0m1-6h0m0-3h0m2-4h0m4 14h0m5 3h0m1-17h0m5 1h0m3 13h0m2 0h0m3-12h0m3 6h0m0-2h0" stroke="#f08a6c" stroke-width="6.8"/>
<use href="#bgd4" x="778.2" y="0"/>
<g fill="#fdfdd0"><ellipse cx="756.9" cy="3605.4" rx="5" ry="5"/><ellipse cx="831.9" cy="3680.5" rx="7.8" ry="7.8"/><ellipse cx="956.1" cy="3804.7" rx="5.8" ry="5.8"/><ellipse cx="790.5" cy="3874.6" rx="5" ry="5"/><ellipse cx="738.8" cy="3890.1" rx="5.8" ry="5.8"/></g>
<path d="M753 3606h0m1 2h0m0-6h0m1 6h0m6-3h0m40 55h0m39 22h0m0-4h0m-3-1h0m0 11h0m0-6h0m-2-1h0m0-3h0m-2 9h0m-1-7h0m-6 4h0m37 32h0m-233 42h0m320 48h0m2-4h0m1 0h0m1 0h0m3-2h0m2 10h0m-146 43h0m2-6h0m1 6h0m2 1h0m5 0h0m1-5h0m4 6h0m2-4h0m-39 27h0m-1-6h0m-2-2h0m-1 8h0m-1-5h0m-54 17h0m4 0h0m2 2h0m4 3h0m1-1h0m0-5h0m24 17h0m-31 18h0m3 23h0" stroke="#fdfdd0" stroke-width="14"/>
<g fill="#edf8b1"><ellipse cx="606.8" cy="3778.8" rx="19.7" ry="26.9"/><ellipse cx="943.2" cy="3829.5" rx="25.9" ry="19.7"/><ellipse cx="798.3" cy="3636.5" rx="7.8" ry="7.8"/><ellipse cx="780.2" cy="3652" rx="9.7" ry="9.7"/></g>
<path d="M805 3630h0m-1 11h0m-2-6h0m-2 9h0m-1-8h0m0 10h0m-6-2h0m-1-4h0m0-9h0m-1 4h0m-16 8h0m-2 1h0m-39 21h0m37-17h0m3 12h0m1-6h0m3 8h0m1-9h0m2 7h0m1-7h0m0 10h0m0-11h0m3 6h0m2-6h0m3 0h0m-88 22h0m-2 18h0m-6 2h0m-1 10h0m5-8h0m0 19h0m7-8h0m21 5h0m-2 9h0m-12 12h0m-119 32h0m3-6h0m0-11h0m3 3h0m4 3h0m10-6h0m3 8h0m5 4h0m3 7h0m84-23h0m7 4h0m-3 38h0m-2-17h0m-5 17h0m-7 0h0m-2 1h0m-10-9h0m-38 11h0m-19-7h0m-5-10h0m-1 16h0m-35 1h0m-1-8h0m-1-13h0m2 27h0m9 7h0m4 3h0m7 6h0m5-6h0m5-2h0m7-6h0m57 5h0m251 12h0m10-3h0m6-4h0m5 4h0m12 3h0m7 11h0m-4 6h0m-1-11h0m-4 16h0m-37-19h0m-6 4h0m-2 17h0m0-14h0m-4 6h0m4 14h0m11 6h0m0-7h0m15 7h0m7-4h0m5-3h0m8 2h0" stroke="#edf8b1" stroke-width="14"/>
<g fill="#c7e9b4"><ellipse cx="606.8" cy="3778.8" rx="16.4" ry="22.4"/><ellipse cx="710.3" cy="3833.1" rx="30" ry="23.3"/><ellipse cx="943.2" cy="3829.5" rx="21.6" ry="16.4"/><ellipse cx="619.7" cy="3799.5" rx="7.8" ry="7.8"/><ellipse cx="759.5" cy="3835.7" rx="5.8" ry="5.8"/></g>
<path d="M718 3667h0m-5 21h0m-21 3h0m30 34h0m-128 38h0m7-7h0m7 2h0m4-1h0m3 5h0m72 4h0m6 1h0m23-2h0m126-17h0m-135 26h0m-18 0h0m-65-1h0m-1 17h0m0-22h0m-1 14h0m-31-6h0m0-8h0m-1 15h0m3 11h0m5 2h0m5 3h0m2 4h0m7-1h0m0-3h0m1 5h0m1 2h0m1-3h0m3-10h0m1 0h0m3 1h0m1 11h0m2 0h0m1-11h0m1 9h0m62 12h0m11-5h0m4 3h0m9-1h0m5-1h0m12-1h0m203 4h0m0-9h0m8 9h0m7-2h0m18 16h0m-1 5h0m-5 5h0m-2-18h0m-3-3h0m-31 8h0m-1-5h0m-1 17h0m0-6h0m-161 4h0m-1 0h0m-1-1h0m-4-1h0m-1 3h0m-12 1h0m-2-14h0m-1 5h0m-6-8h0m-46 3h0m-3 15h0m-7-12h0m-1 2h0m5 14h0m7 6h0m5 4h0m6 3h0m8 1h0m8-1h0m6-1h0m9-1h0m3-7h0m7-5h0m18 0h0m12 13h0m156-13h0m10 5h0m4-2h0m9 0h0m5-1h0" stroke="#c7e9b4" stroke-width="14"/>
<g fill="#7fcdbb"><ellipse cx="606.8" cy="3778.8" rx="13.1" ry="17.9"/><ellipse cx="710.3" cy="3833.1" rx="25" ry="19.4"/><ellipse cx="943.2" cy="3829.5" rx="17.3" ry="13.1"/><ellipse cx="847.5" cy="3828" rx="20.7" ry="18.1"/><ellipse cx="754.3" cy="3716.7" rx="18.6" ry="15.5"/></g>
<path d="M720 3680h0m-4 5h0m-21 34h0m41-2h0m2-7h0m2-2h0m9-8h0m8 1h0m4 1h0m8 2h0m4 13h0m2-6h0m-3 21h0m-5-8h0m-3 9h0m-7 1h0m-9-2h0m-4-1h0m-8-7h0m-10 1h0m-28 8h0m-2-5h0m-96 35h0m8 0h0m6-2h0m3 5h0m102-16h0m15 39h0m-114-18h0m-1 10h0m-23 7h0m-2-9h0m0-9h0m-1 11h0m10 14h0m4 4h0m4-4h0m6-2h0m91 22h0m39-8h0m86 4h0m12 1h0m10-1h0m8 1h0m98 19h0m-2-6h0m-1 14h0m-1-18h0m-8-3h0m-4-1h0m-10 2h0m-3 18h0m-3-13h0m-3 4h0m-1 3h0m-54-8h0m-3 7h0m0-14h0m-33 0h0m-6 12h0m-3-9h0m-1 17h0m-90-12h0m-1 12h0m-1-8h0m-6-7h0m-4-4h0m-11-1h0m-15 2h0m-4 1h0m-6 6h0m-2 12h0m-2-7h0m7 17h0m1-4h0m6 9h0m11 0h0m4-1h0m12 1h0m4-8h0m6-2h0m10 9h0m86-10h0m11 4h0m3 2h0m11-2h0m7 0h0m5-5h0m72 2h0m2 1h0m8-2h0" stroke="#7fcdbb" stroke-width="14"/>
<g fill="#41b6c4"><ellipse cx="606.8" cy="3778.8" rx="9.8" ry="13.5"/><ellipse cx="710.3" cy="3833.1" rx="20" ry="15.5"/><ellipse cx="943.2" cy="3829.5" rx="12.9" ry="9.8"/><ellipse cx="847.5" cy="3828" rx="15.5" ry="13.6"/><ellipse cx="754.3" cy="3716.7" rx="9.3" ry="7.8"/><ellipse cx="723.2" cy="3851.3" rx="5.8" ry="5.8"/></g>
<path d="M718 3688h0m27 29h0m0-4h0m12-3h0m4 2h0m2 8h0m-9 5h0m-6-2h0m-4 9h0m-137 33h0m10 16h0m0-5h0m-4 15h0m0-23h0m-11 0h0m-1 21h0m-3-4h0m0-10h0m12 18h0m235 20h0m5 1h0m107 19h0m0-7h0m-5 11h0m0-15h0m-7-2h0m-1 19h0m-9-1h0m-2-4h0m0-11h0m-2 5h0m-67-4h0m-2 5h0m-1 6h0m-4-19h0m-17 0h0m-6 19h0m-1-14h0m-1 8h0m-100 2h0m-2 4h0m-3-11h0m-6-5h0m-8 0h0m-5-3h0m-9 4h0m-7 5h0m-1 13h0m0-8h0m2 14h0m4 2h0m10 4h0m7-1h0m7 8h0m2-10h0m0 3h0m1 4h0m1 0h0m1 1h0m1-12h0m0 14h0m114-16h0m2 1h0m13-1h0" stroke="#41b6c4" stroke-width="14"/>
<g fill="#1d91c0"><ellipse cx="793.1" cy="3784" rx="32.1" ry="32.1"/><ellipse cx="873.3" cy="3796.9" rx="30" ry="24.8"/><ellipse cx="710.3" cy="3833.1" rx="15" ry="11.6"/><ellipse cx="938" cy="3825.4" rx="5" ry="5"/><ellipse cx="847.5" cy="3828" rx="10.4" ry="9.1"/><ellipse cx="837.1" cy="3758.1" rx="5.8" ry="5.8"/><ellipse cx="751.7" cy="3771" rx="5.8" ry="5.8"/></g>
<path d="M604 3774h0" stroke="#1d91c0" stroke-width="16"/>
<path d="M752 3767h0m10-4h0m8-5h0m0-8h0m10 6h0m3-5h0m10-3h0m3 7h0m7-1h0m10 0h0m1 7h0m7 5h0m13-8h0m3-2h0m0 8h0m1 0h0m0-9h0m2-2h0m65 35h0m-11-6h0m-1-3h0m-5-7h0m-7 2h0m-9-3h0m-7 5h0m-7 0h0m-3 5h0m-7 4h0m-4 4h0m-15-16h0m-1 9h0m-3 4h0m-61 4h0m-2-13h0m-5-6h0m-1 14h0m-4-8h0m-1-9h0m0 3h0m-2 6h0m-1-5h0m20 22h0m2 14h0m0-6h0m6 13h0m23-2h0m12-1h0m7-15h0m4 12h0m6-17h0m15 10h0m4-5h0m1 12h0m4 5h0m47 0h0m2-9h0m0-13h0m7 9h0m33 26h0m-3 2h0m-1-2h0m-3 2h0m0-5h0m-38-7h0m-9-1h0m-6 1h0m-7 4h0m-8-3h0m-7-1h0m-1 13h0m-3 4h0m0-11h0m-2-4h0m-8 18h0m-3-17h0m-3 5h0m-3 5h0m-31-11h0m-13 0h0m-6 3h0m-60 12h0m-1-6h0m-6-6h0m-9-1h0m-4 0h0m-8 16h0m-1-11h0m-3 6h0m5 8h0m8 5h0m10 0h0m4-5h0" stroke="#1d91c0" stroke-width="14"/>
<g fill="#225ea8"><ellipse cx="793.1" cy="3784" rx="26.7" ry="26.7"/><ellipse cx="873.3" cy="3796.9" rx="25" ry="20.7"/><ellipse cx="764.6" cy="3763.3" rx="5.8" ry="5.8"/></g>
<path d="M762 3761h0m2-3h0m4 7h0m1-5h0m2 3h0m3 4h0m3-2h0m6-5h0m4-5h0m8 4h0m10 0h0m5 4h0m4 4h0m80 22h0m-4-7h0m-2-3h0m-8-1h0m-12-1h0m-5 1h0m-8 3h0m-6 6h0m-1 3h0m-26-4h0m-1-7h0m-5-6h0m-47 0h0m-4 13h0m0-4h0m-2-13h0m6 24h0m5 8h0m3 6h0m5 3h0m6-2h0m9 3h0m5-3h0m9 0h0m1-8h0m8-8h0m29 11h0m0-3h0m3 11h0m10 2h0m1 2h0m31-6h0m5-11h0m0 6h0m0-11h0m-12 23h0m-6 3h0m-7 0h0" stroke="#225ea8" stroke-width="14"/>
<g fill="#253494"><ellipse cx="793.1" cy="3784" rx="21.4" ry="21.4"/><ellipse cx="873.3" cy="3796.9" rx="20" ry="16.6"/><ellipse cx="863" cy="3778.8" rx="9.7" ry="9.7"/></g>
<path d="M777 3767h0m12-6h0m7 2h0m3-2h0m92 27h0m-9-8h0m-6 1h0m-6-1h0m0 7h0m-1-11h0m-1 6h0m0 1h0m-1 2h0m-5-1h0m0-10h0m0 6h0m-1 4h0m0-7h0m0-8h0m-2 20h0m0-20h0m-3 21h0m-2-15h0m-1 2h0m-37 0h0m-3 9h0m-2-15h0m-6-3h0m-31 10h0m0-6h0m-2 13h0m-2 6h0m3 7h0m6 5h0m11 0h0m6 2h0m4-2h0m7-2h0m6-8h0m41 1h0m1 13h0m0-7h0m10 12h0m15 1h0m8-7h0m1 4h0m3-16h0m3 6h0m-22 16h0" stroke="#253494" stroke-width="14"/>
<g fill="#081d58"><ellipse cx="793.1" cy="3784" rx="16" ry="16"/><ellipse cx="873.3" cy="3796.9" rx="15" ry="12.4"/></g>
<path d="M884 3787h0m-10-1h0m-7 0h0m-5 4h0m-52 0h0m0-10h0m-5-9h0m-4-2h0m-9 0h0m-7 0h0m-6 7h0m-1 11h0m0-5h0m4 12h0m4 3h0m8 4h0m5-1h0m7-5h0m51 0h0m2 4h0m5 7h0m9 5h0m7-4h0m5-3h0m1-12h0m3 7h0" stroke="#081d58" stroke-width="14"/>
<use href="#bgd4" x="1270.6" y="0"/>
<g fill="#fdfdd0"><ellipse cx="1244" cy="3608" rx="6.6" ry="6.6"/><ellipse cx="1236.2" cy="3900.4" rx="13.6" ry="13.6"/></g>
<path d="M1236 3621h0m1-9h0m3 0h0m0-1h0m2 3h0m0-4h0m3-7h0m4 6h0m-127 92h0m259 8h0m-251 26h0m-36 5h0m210 62h0m-16 73h0m-48 9h0m-19 11h0m0 12h0m1-10h0m6 14h0m3-13h0m0 6h0m1 3h0m1-17h0m0 12h0m1-5h0m2-7h0m1 19h0m2-7h0m0-4h0m4-7h0m4 1h0m3 10h0m12 17h0m-15-6h0m-6 1h0m-4 1h0m-2 2h0m-3-1h0m-2-3h0m-27 8h0" stroke="#fdfdd0" stroke-width="14"/>
<g fill="#edf8b1"><ellipse cx="1334.6" cy="3752.9" rx="7.8" ry="7.8"/><ellipse cx="1313.9" cy="3848.7" rx="7.8" ry="7.8"/><ellipse cx="1246.6" cy="3846.1" rx="7.8" ry="7.8"/><ellipse cx="1288" cy="3784" rx="9.7" ry="9.7"/></g>
<path d="M1248 3759h0m44-4h0m38 0h0m2 6h0m0-10h0m0 5h0m0 4h0m3-13h0m1 11h0m0-11h0m4 2h0m2 8h0m20 34h0m-19-8h0m-44 3h0m-2-2h0m0-5h0m-1 8h0m0 1h0m-2-20h0m0 3h0m-3 18h0m-3-5h0m-1-13h0m0 3h0m-3 12h0m-1 5h0m-1-13h0m0 11h0m-5-5h0m-18-8h0m-19 3h0m43 13h0m3 2h0m44 15h0m8-13h0m7 18h0m28-5h0m13 3h0m2-4h0m29 7h0m16-9h0m2 7h0m5-11h0m1 7h0m6 1h0m0-4h0m9 12h0m-4 18h0m-2-11h0m-5-3h0m-20 14h0m-1-7h0m-5-12h0m-55 4h0m-2-4h0m-12 18h0m-10-5h0m-4 4h0m-3-12h0m-4-3h0m-11 1h0m-3 1h0m-3 14h0m-61 4h0m-2-1h0m-4 1h0m-61 2h0m57 3h0m1-4h0m0 11h0m2-3h0m6-4h0m0 0h0m4 2h0m54 9h0m0-7h0m1 2h0m3-7h0m3 0h0m1 1h0m2 13h0m0-8h0m2-2h0m1 6h0m4-8h0m15-3h0" stroke="#edf8b1" stroke-width="14"/>
<g fill="#c7e9b4"><ellipse cx="1101.6" cy="3768.4" rx="24.8" ry="30"/><ellipse cx="1200" cy="3830.6" rx="26.9" ry="21.7"/><ellipse cx="1210.3" cy="3752.9" rx="25.9" ry="25.9"/></g>
<path d="M1205 3675h0m140 57h0m-112 5h0m-2 4h0m-7-10h0m-5-2h0m-9 1h0m-6 1h0m-5 0h0m-7 5h0m-3 4h0m-69 1h0m-8-3h0m-5 4h0m-8 0h0m-3 0h0m-18 25h0m0-5h0m2-4h0m6-10h0m3-3h0m33 0h0m0 18h0m3-4h0m55-8h0m0-4h0m4 1h0m2 10h0m46-1h0m1 8h0m6-15h0m0 10h0m11-10h0m1 1h0m10 14h0m9-5h0m3 0h0m10-12h0m5 13h0m5 1h0m0-6h0m77 34h0m-13-9h0m-6 3h0m-60-9h0m-2 3h0m-2 5h0m-5-13h0m-11 19h0m-37-18h0m-5 4h0m-7 2h0m-11 2h0m-7 2h0m-3-7h0m-9 3h0m-4-7h0m-58-1h0m-5 20h0m-3-13h0m-39 15h0m-6-2h0m-2-8h0m14 12h0m7 1h0m6 1h0m8 6h0m5-2h0m5-6h0m72 20h0m7-2h0m8-4h0m8 7h0m6-2h0m117-12h0m8-6h0m10 19h0m0 1h0m4-10h0m2-11h0m11 13h0m2 16h0m-34-1h0m-112 14h0m-1-6h0m-6 8h0m-1-16h0m-36-4h0m-6 2h0m-4 1h0m-3 15h0m-4-5h0m9 10h0m1 8h0m7 0h0m10 3h0m4-1h0m11-2h0m7 1h0m5-2h0" stroke="#c7e9b4" stroke-width="14"/>
<g fill="#7fcdbb"><ellipse cx="1101.6" cy="3768.4" rx="20.7" ry="25"/><ellipse cx="1205.2" cy="3719.3" rx="20.7" ry="20.7"/><ellipse cx="1200" cy="3830.6" rx="22.4" ry="18.1"/><ellipse cx="1360.4" cy="3721.9" rx="16.6" ry="14.5"/><ellipse cx="1210.3" cy="3752.9" rx="19.4" ry="19.4"/><ellipse cx="1200" cy="3685.6" rx="7.8" ry="7.8"/><ellipse cx="1231" cy="3768.4" rx="9.7" ry="9.7"/><ellipse cx="1256.9" cy="3758.1" rx="9.7" ry="9.7"/></g>
<path d="M1207 3686h0m-1 5h0m-1-7h0m0 9h0m-2-10h0m-3 1h0m-3-4h0m-1 5h0m-3 0h0m-1 1h0m-10 32h0m1-6h0m2-6h0m11-3h0m5-4h0m4 1h0m5 1h0m8 2h0m5 6h0m2 4h0m119 4h0m3-3h0m2-6h0m10 2h0m9-4h0m4 4h0m3 7h0m4 10h0m-6 1h0m-3 5h0m-6 3h0m-10-1h0m-5-5h0m-4-3h0m-117-3h0m0 16h0m-3-3h0m-4-9h0m-2 4h0m-5 5h0m-1-4h0m-3 9h0m-3-10h0m-4 4h0m-1 5h0m-5 0h0m-2-5h0m-4-6h0m-1 7h0m-9-11h0m-84 16h0m-17 17h0m6-4h0m4-5h0m4-6h0m11 0h0m5 0h0m7 8h0m1 3h0m2 7h0m69-6h0m4 6h0m1-15h0m28 20h0m1-4h0m3-5h0m1 5h0m0 4h0m2-13h0m2-6h0m0 17h0m6-4h0m11 1h0m1-2h0m3 3h0m0-10h0m2 6h0m0-2h0m2 7h0m1-9h0m2 1h0m2 2h0m1 1h0m3 7h0m1-4h0m-10 7h0m-18 7h0m-1-3h0m-5 0h0m-1-4h0m-1-1h0m-1 11h0m-3-2h0m0-5h0m-6-2h0m-4 9h0m-2-8h0m-4 0h0m-7-1h0m-4-2h0m-76 10h0m-2-4h0m-3 9h0m-11 8h0m-18-6h0m-4-4h0m-2-10h0m-3 8h0m14 14h0m5 1h0m13-2h0m81 23h0m7-1h0m6-3h0m18 13h0m-2 11h0m-3-13h0m-4-5h0m-27 0h0m-7 6h0m-1 13h0m-4-8h0m7 13h0m4 4h0m7 5h0m9 1h0m3-3h0m7-2h0m7-6h0" stroke="#7fcdbb" stroke-width="14"/>
<g fill="#41b6c4"><ellipse cx="1101.6" cy="3768.4" rx="16.6" ry="20"/><ellipse cx="1205.2" cy="3719.3" rx="17.3" ry="17.3"/><ellipse cx="1200" cy="3830.6" rx="17.9" ry="14.5"/><ellipse cx="1360.4" cy="3721.9" rx="8.3" ry="7.2"/><ellipse cx="1210.3" cy="3752.9" rx="12.9" ry="12.9"/></g>
<path d="M1190 3714h0m6-8h0m3-3h0m9 0h0m3 2h0m8 2h0m3 8h0m131 3h0m8-4h0m7 4h0m0 7h0m-8 4h0m-2-1h0m-5-5h0m-130-3h0m-3 9h0m-4 5h0m-4 6h0m-5-4h0m-6 6h0m-2-5h0m-8-4h0m-1-3h0m-1-10h0m-104 42h0m3-3h0m2-5h0m8-4h0m5 0h0m5 0h0m7 5h0m1 8h0m74 0h0m6-12h0m2-2h0m2 12h0m6 3h0m8 3h0m5-23h0m2 16h0m0-13h0m2 6h0m-105 16h0m-3 10h0m-4 5h0m-5 6h0m-6-3h0m-4-2h0m-7-3h0m-5-10h0m38 43h0m99-5h0m-2 22h0m-3-10h0m0 3h0m-10-9h0m-6 0h0m-8 0h0m-4 2h0m-4 19h0m0-12h0m-3 5h0m10 12h0m4 4h0m5-2h0m9 0h0m5-4h0" stroke="#41b6c4" stroke-width="14"/>
<g fill="#1d91c0"><ellipse cx="1272.4" cy="3663.9" rx="44" ry="23.3" transform="rotate(-25 1272.4 3663.9)"/><ellipse cx="1127.5" cy="3788.1" rx="25.9" ry="23.3"/><ellipse cx="1187" cy="3794.3" rx="28.5" ry="21.7"/><ellipse cx="1101.6" cy="3768.4" rx="12.4" ry="15"/><ellipse cx="1205.2" cy="3719.3" rx="13.8" ry="13.8"/><ellipse cx="1200" cy="3830.6" rx="13.5" ry="10.9"/></g>
<path d="M1314 3675h0" stroke="#1d91c0" stroke-width="16"/>
<path d="M1312 3647h0m-3-4h0m-3-1h0m-4-5h0m-9 0h0m-5-6h0m-5 1h0m-9 6h0m-7 5h0m-11 2h0m-23 26h0m5-4h0m6-6h0m4-4h0m4-6h0m57 13h0m0 3h0m11-15h0m1 4h0m-19 21h0m-5 4h0m-9 4h0m-13 6h0m-9 0h0m-6-2h0m-2-1h0m-15-1h0m-1 5h0m-3-12h0m-11 9h0m0-7h0m-36 34h0m4-6h0m7-5h0m4 1h0m7 1h0m4 9h0m0 4h0m-3 10h0m-5 1h0m-6 2h0m-7-3h0m-6-7h0m-102 43h0m4-11h0m5 0h0m6-3h0m7 6h0m4 7h0m4-3h0m10-1h0m3 3h0m86 25h0m-4-5h0m-2-4h0m-4-6h0m-11-3h0m-11 1h0m-3-2h0m-4 4h0m-7 1h0m-5 3h0m-5 8h0m-2 2h0m-4 3h0m-2-9h0m-2-4h0m-7-7h0m-3-1h0m-27 1h0m-1-2h0m-4 9h0m-2 0h0m0-8h0m-3 21h0m-1-8h0m-1-1h0m-4 2h0m-4-2h0m-5-11h0m14 27h0m9 5h0m2 4h0m5 7h0m8 1h0m6 0h0m10-3h0m4-9h0m3-4h0m6 4h0m5-6h0m1 7h0m7 3h0m7 5h0m24 0h0m10-5h0m1-12h0m0 7h0m2 31h0m-1-7h0m-2-4h0m-11-2h0m-3-4h0m-5 1h0m0 3h0m-3 4h0m-2 13h0m-1-5h0m-1-16h0m10 24h0m6 2h0m7-2h0" stroke="#1d91c0" stroke-width="14"/>
<g fill="#225ea8"><ellipse cx="1272.4" cy="3663.9" rx="36.7" ry="19.4" transform="rotate(-25 1272.4 3663.9)"/><ellipse cx="1255.9" cy="3685.6" rx="23.3" ry="23.3"/><ellipse cx="1127.5" cy="3788.1" rx="21.6" ry="19.4"/><ellipse cx="1244" cy="3721.9" rx="21.7" ry="20.7"/><ellipse cx="1187" cy="3794.3" rx="21.4" ry="16.3"/><ellipse cx="1205.2" cy="3719.3" rx="10.4" ry="10.4"/><ellipse cx="1236.2" cy="3659.8" rx="7.8" ry="7.8"/></g>
<path d="M1305 3644h0m-4-3h0m-8 1h0m-4-3h0m-11 0h0m-8 5h0m-39 15h0m1 2h0m2-2h0m1 12h0m1-18h0m1 12h0m2-8h0m1 10h0m0-5h0m0 6h0m2-1h0m1-7h0m0 1h0m2 1h0m0-6h0m0 8h0m9-11h0m1 13h0m4-8h0m6-10h0m5 14h0m4 6h0m28 1h0m4-17h0m0 3h0m0 6h0m-10 13h0m-7 1h0m-6 4h0m0 13h0m-5 2h0m0-12h0m-3-5h0m-4 8h0m-8 3h0m-5 0h0m-11 1h0m-1-3h0m-2-6h0m-3-8h0m-1 4h0m-3 5h0m-1 10h0m-4-7h0m-38 34h0m2-5h0m6-4h0m8 3h0m5 5h0m8-8h0m1 4h0m8-5h0m6-7h0m0 3h0m2 0h0m3-5h0m3 9h0m5-3h0m3 5h0m3-1h0m4-3h0m1 11h0m4-9h0m6-2h0m3-7h0m-12 25h0m-1 5h0m0 7h0m-5 6h0m-20 1h0m-3-2h0m-7-7h0m-4-14h0m-2 7h0m-5-5h0m-3 5h0m-10 2h0m-6-4h0m49 19h0m-36 47h0m-4-5h0m-9-6h0m-5 0h0m-7-4h0m-12 8h0m0-4h0m-8 6h0m-15 3h0m0-8h0m-6-5h0m-2-1h0m-6-4h0m-9-3h0m-10 3h0m-3 2h0m-7 12h0m-1-5h0m1 13h0m3 6h0m4 3h0m6 7h0m10 0h0m3-2h0m10-4h0m2-6h0m21 4h0m0-5h0m8 11h0m7 4h0m5 1h0m7-1h0m7-2h0m6-11h0m2 4h0" stroke="#225ea8" stroke-width="14"/>
<g fill="#253494"><ellipse cx="1272.4" cy="3663.9" rx="29.3" ry="15.5" transform="rotate(-25 1272.4 3663.9)"/><ellipse cx="1255.9" cy="3685.6" rx="17.5" ry="17.5"/><ellipse cx="1127.5" cy="3788.1" rx="17.3" ry="15.5"/><ellipse cx="1244" cy="3721.9" rx="16.3" ry="15.5"/><ellipse cx="1187" cy="3794.3" rx="14.2" ry="10.9"/></g>
<path d="M1216 3714h0" stroke="#253494" stroke-width="16"/>
<path d="M1294 3646h0m-6-3h0m-44 28h0m2-2h0m2-2h0m1-8h0m4 10h0m4-14h0m2 12h0m4-15h0m5 18h0m2-21h0m8-1h0m13 22h0m4-20h0m1 15h0m2-5h0m2-8h0m-13 23h0m-8 4h0m-4 2h0m-2 7h0m-2-13h0m-3 6h0m-8 2h0m-8-1h0m-1-2h0m-5-4h0m-5 3h0m-1 16h0m-3-6h0m0-4h0m-10 33h0m4-6h0m4-3h0m11-2h0m1-4h0m2 3h0m5-2h0m3 6h0m4 9h0m1-17h0m6-2h0m3-4h0m-12 29h0m0 4h0m-4 6h0m-8 1h0m-8 2h0m-8-6h0m-3-3h0m-27 60h0m-4-2h0m-8-5h0m-10 5h0m-5 0h0m-30 0h0m-4-8h0m-3-4h0m-11-3h0m-6 0h0m-5 7h0m-3 9h0m-1-5h0m2 12h0m6 5h0m3 1h0m10 1h0m4 0h0m5-6h0m5-4h0m26 1h0m2 8h0m8 3h0m9 0h0m6-2h0m3-4h0" stroke="#253494" stroke-width="14"/>
<g fill="#081d58"><ellipse cx="1272.4" cy="3663.9" rx="22" ry="11.6" transform="rotate(-25 1272.4 3663.9)"/><ellipse cx="1255.9" cy="3685.6" rx="11.6" ry="11.6"/><ellipse cx="1127.5" cy="3788.1" rx="12.9" ry="11.6"/><ellipse cx="1244" cy="3721.9" rx="10.9" ry="10.4"/></g>
<path d="M1251 3667h0m3-5h0m7-7h0m6-1h0m13-4h0m3 0h0m4 19h0m2-5h0m0-12h0m2 6h0m-8 15h0m-14 11h0m-1-7h0m-2 13h0m-1-14h0m-3 3h0m-5-4h0m-2-2h0m-1 0h0m-6 22h0m-1-16h0m-2 4h0m-1 7h0m-8 24h0m3-2h0m10 1h0m6 5h0m2-21h0m4-1h0m-6 27h0m-8 8h0m-7 1h0m-4-3h0m-3-5h0m-94 59h0m-4-6h0m-5-2h0m-12 4h0m-1 2h0m-3 9h0m3 5h0m8 6h0m6-1h0m6-4h0m4-4h0" stroke="#081d58" stroke-width="14"/>
<use href="#bgd4" x="1763" y="0"/>
<g fill="#fdfdd0"><ellipse cx="1740.9" cy="3605.4" rx="5.8" ry="5.8"/><ellipse cx="1740.9" cy="3696" rx="5.8" ry="5.8"/><ellipse cx="1867.7" cy="3710.5" rx="5.8" ry="5.8"/><ellipse cx="1588.2" cy="3745.2" rx="5.8" ry="5.8"/></g>
<path d="M1743 3599h0m-8 4h0m7 7h0m2-2h0m2-3h0m1 0h0m-1 65h0m0 25h0m-3 0h0m-5 5h0m1-3h0m6-1h0m0 1h0m102 19h0m17-4h0m1 4h0m0-6h0m5 3h0m1-8h0m2 4h0m-283 34h0m-6-2h0m-1 5h0m1-1h0m1 6h0m5-7h0m109 1h0m-23 44h0m-41-8h0m-42-2h0m130 166h0" stroke="#fdfdd0" stroke-width="14"/>
<g fill="#edf8b1"><ellipse cx="1831.5" cy="3745.2" rx="5" ry="5"/><ellipse cx="1777.1" cy="3877.1" rx="5.8" ry="5.8"/></g>
<path d="M1830 3741h0m-1 1h0m-3 3h0m5 3h0m5-2h0m-38 112h0m-16 17h0m-4 5h0m-1-3h0m-1-6h0m-1 8h0m-3-4h0m-83 46h0" stroke="#edf8b1" stroke-width="14"/>
<g fill="#c7e9b4"><ellipse cx="1795.2" cy="3662.3" rx="9.7" ry="9.7"/><ellipse cx="1810.7" cy="3680.5" rx="5.8" ry="5.8"/><ellipse cx="1730.5" cy="3892.7" rx="7.8" ry="7.8"/><ellipse cx="1715" cy="3908.2" rx="7.8" ry="7.8"/><ellipse cx="1707.2" cy="3833.1" rx="5" ry="5"/></g>
<path d="M1785 3639h0" stroke="#c7e9b4" stroke-width="16"/>
<path d="M1769 3657h0m16 1h0m1-2h0m1 6h0m1 8h0m2-2h0m4-13h0m2-4h0m0 10h0m5-9h0m0 8h0m1-4h0m1-2h0m14 25h0m-4 3h0m-3-8h0m-2 8h0m-1 3h0m-1-9h0m-15-4h0m-1 1h0m-83 83h0m4 73h0m-2 3h0m-2-1h0m-1 6h0m-4-5h0m122 11h0m-99 42h0m-17 18h0m1-1h0m3 3h0m1-4h0m1 0h0m8 8h0m2-20h0m0 19h0m1-17h0m1-3h0m2 12h0m1-1h0m1 0h0m0-2h0m2-9h0m3 1h0m6 22h0m13 5h0m-36-3h0m-2 1h0m-7 1h0" stroke="#c7e9b4" stroke-width="14"/>
<g fill="#7fcdbb"><ellipse cx="1738.3" cy="3840.9" rx="7.8" ry="7.8"/><ellipse cx="1826.3" cy="3828" rx="5.8" ry="5.8"/></g>
<path d="M1742 3738h0m201 64h0m-106 29h0m-10-4h0m-1-5h0m-1 4h0m-1-4h0m-1 4h0m0-3h0m-78 15h0m-5-5h0m0 3h0m-2 2h0m-1-1h0m-4 0h0m3 4h0m7 1h0m1 5h0m1-4h0" stroke="#7fcdbb" stroke-width="14"/>
<g fill="#41b6c4"><ellipse cx="1940.1" cy="3825.4" rx="9.7" ry="13.6"/><ellipse cx="1715" cy="3802.1" rx="5" ry="5"/></g>
<path d="M1723 3820h0" stroke="#41b6c4" stroke-width="16"/>
<path d="M1850 3779h0m-137 22h0m1-3h0m1 3h0m1-1h0m0 5h0m225 7h0m6 26h0m-1-18h0m-1 11h0m-5-5h0m-2-6h0m-1-1h0m0-1h0m0 17h0m-2-7h0m-1 6h0m0-12h0m-1 12h0m-1-18h0m0 1h0m0 19h0m-1-13h0m-1 11h0m2 9h0" stroke="#41b6c4" stroke-width="14"/>
<g fill="#1d91c0"><ellipse cx="1914.3" cy="3820.2" rx="9.7" ry="9.7"/></g>
<path d="M1731 3809h0m175 6h0m18 8h0m-3-5h0m-1 4h0m-3 2h0m0-7h0m0 2h0m-1 12h0m-2-4h0m-2 3h0m-1-12h0m-1 1h0m-3 10h0m-4-13h0" stroke="#1d91c0" stroke-width="14"/>
<g fill="#225ea8"><ellipse cx="1769.3" cy="3776.2" rx="32.1" ry="28.5"/><ellipse cx="1865.1" cy="3796.9" rx="5" ry="10.5"/></g>
<path d="M1770 3743h0m-24 19h0m1-8h0m2-2h0m10-8h0m5 5h0m18 0h0m4 0h0m8 5h0m1 12h0m2-7h0m71 32h0m-6-1h0m-59-4h0m-2-15h0m-1 10h0m-61-3h0m-3-10h0m-2 19h0m0-16h0m10 26h0m0-4h0m5 11h0m10-2h0m9 1h0m8 1h0m3-2h0m6-3h0m8 1h0m2-8h0m66 11h0m3-9h0m1 1h0m1-1h0m2 13h0m0 1h0m1-9h0" stroke="#225ea8" stroke-width="14"/>
<g fill="#253494"><ellipse cx="1769.3" cy="3776.2" rx="24.1" ry="21.4"/><ellipse cx="1743.5" cy="3768.4" rx="5.8" ry="5.8"/></g>
<path d="M1739 3764h0m6 1h0m5-2h0m3-5h0m6-2h0m8 1h0m9-1h0m6 0h0m2 5h0m9 5h0m1 12h0m-1 6h0m0-13h0m-5 17h0m-39-20h0m-1 20h0m0-5h0m0-14h0m-1 2h0m-1 4h0m0-7h0m-3 6h0m12 19h0m4 4h0m11 1h0m4-1h0m9-3h0m17 3h0" stroke="#253494" stroke-width="14"/>
<g fill="#081d58"><ellipse cx="1769.3" cy="3776.2" rx="16" ry="14.2"/><ellipse cx="1784.9" cy="3796.9" rx="9.7" ry="9.7"/></g>
<path d="M1761 3763h0m8 0h0m6 1h0m7 1h0m4 13h0m0 12h0m-2-15h0m-1 12h0m-3 0h0m-2 0h0m-2 2h0m-11 1h0m-9-7h0m-1-3h0m0-8h0m0-2h0m13 22h0m8 3h0m1-2h0m0 10h0m0-11h0m3 10h0m2-2h0m3-7h0m4 7h0m2 7h0m1-5h0m1 1h0" stroke="#081d58" stroke-width="14"/>
<use href="#bgd4" x="2255.4" y="0"/>
<g fill="#fdfdd0"><ellipse cx="2315.4" cy="3670.1" rx="5.8" ry="5.8"/><ellipse cx="2248.1" cy="3696" rx="9.7" ry="9.7"/><ellipse cx="2193.7" cy="3745.2" rx="5.8" ry="5.8"/><ellipse cx="2318" cy="3745.2" rx="5" ry="5"/><ellipse cx="2074.7" cy="3778.8" rx="5" ry="5"/><ellipse cx="2110.9" cy="3802.1" rx="5.8" ry="5.8"/><ellipse cx="2201.5" cy="3784" rx="7.8" ry="7.8"/><ellipse cx="2341.3" cy="3807.3" rx="9.7" ry="9.7"/><ellipse cx="2421.5" cy="3815" rx="5" ry="5"/><ellipse cx="2323.1" cy="3843.5" rx="5.8" ry="5.8"/><ellipse cx="2274" cy="3872" rx="5" ry="5"/></g>
<path d="M2295 3670h0m10-22h0m7 16h0m0 3h0m5 4h0m4 2h0m-2 0h0m-8 0h0m-32 12h0m-22 10h0m-1-3h0m-8 2h0m0 0h0m-1 1h0m-2 0h0m0-4h0m-5 3h0m-10 7h0m8-2h0m9 8h0m1-5h0m2 2h0m2 1h0m1 9h0m3-9h0m106 4h0m-46 33h0m-68 1h0m-59 5h0m3-4h0m2 0h0m0 7h0m3-7h0m2 2h0m34 10h0m33-6h0m46-5h0m8 2h0m1 2h0m0 12h0m1-15h0m24 33h0m-10 10h0m-57-10h0m-69 5h0m-2 0h0m-1 4h0m-1-1h0m-1-1h0m0 0h0m-5-2h0m-2 6h0m-1-6h0m-2 5h0m-14-5h0m-103-5h0m-3 0h0m-3-1h0m-1 2h0m-2-1h0m24 18h0m16 12h0m1-1h0m3-9h0m1-1h0m0-1h0m2 8h0m0 5h0m215-5h0m1 9h0m5-5h0m2-10h0m0-3h0m2 4h0m2 3h0m1-7h0m1 18h0m1-13h0m0 10h0m2-14h0m19 5h0m50 13h0m7-1h0m0 1h0m1 3h0m-6 15h0m-2-17h0m-21 2h0m-59 0h0m0 0h0m-24 0h0m-11 20h0m-20-1h0m-106-19h0m-11 13h0m119 20h0m33-8h0m6-3h0m1 3h0m1 3h0m1-1h0m1 4h0m-50 20h0m-2 8h0m-1 0h0m-1-1h0m-3-4h0" stroke="#fdfdd0" stroke-width="14"/>
<g fill="#edf8b1"><ellipse cx="2198.9" cy="3843.5" rx="9.7" ry="9.7"/><ellipse cx="2180.8" cy="3825.4" rx="7.8" ry="7.8"/></g>
<path d="M2071 3738h0m138 77h0m0 24h0m-3-2h0m-6 0h0m-8 1h0m-2-1h0m-3-9h0m-2 3h0m-1 2h0m-2 0h0m0-6h0m-3 7h0m-1-9h0m0-3h0m-2-1h0m-3 4h0m15 17h0m4 10h0m6-1h0m1-11h0m3 6h0m2-4h0m0 5h0m3 0h0m1-6h0" stroke="#edf8b1" stroke-width="14"/>
<path d="M2241 3876h0" stroke="#c7e9b4" stroke-width="14"/>
<path d="M2121 3687h0m112 188h0m-18-11h0" stroke="#7fcdbb" stroke-width="14"/>
<path d="M2115 3693h0m-2-3h0m-1 2h0m-6 6h0m134 195h0" stroke="#1d91c0" stroke-width="14"/>
<g fill="#225ea8"><ellipse cx="2230" cy="3900.4" rx="5.8" ry="5.8"/></g>
<path d="M2226 3896h0m4 10h0m1-7h0m2 1h0m2 3h0m0-3h0m-18 42h0" stroke="#225ea8" stroke-width="14"/>
<path d="M2209 3903h0" stroke="#225ea8" stroke-width="10"/>
<path d="M2068 3699h0m4-2h0m1 4h0m3-2h0m1 0h0m3 0h0m3-3h0m108 220h0" stroke="#253494" stroke-width="14"/>
<g fill="#081d58"><ellipse cx="2175.6" cy="3921.1" rx="15.9" ry="9.7"/><ellipse cx="2235.2" cy="3916" rx="9.7" ry="9.7"/><ellipse cx="2240.3" cy="3939.3" rx="12" ry="9.7"/><ellipse cx="2079.9" cy="3675.3" rx="5" ry="8.9"/></g>
<path d="M2079 3666h0m3 3h0m3 7h0m-2 1h0m-1 6h0m-3-6h0m-2 6h0m-1-3h0m99 230h0m6 1h0m55-6h0m3 0h0m1 1h0m2 4h0m6 25h0m-3-3h0m-2-14h0m-4 15h0m-3 0h0m-1-14h0m0 0h0m0 16h0m0-5h0m-3-13h0m-1-2h0m-1 7h0m0-10h0m-2 1h0m0 6h0m-2-3h0m-30 6h0m-5 4h0m0-9h0m-2-2h0m-1 3h0m-2 2h0m-1 8h0m-2-12h0m0-1h0m-4 6h0m-1 10h0m-5-18h0m0 11h0m-1-8h0m-2 2h0m-4 6h0m0-9h0m0-1h0m-1 11h0m70 13h0m1 9h0m2-11h0m1 8h0m0-6h0m4 3h0m1-1h0m4-3h0m3 1h0m3-2h0" stroke="#081d58" stroke-width="14"/>
<use href="#bgd4" x="2747.8" y="0"/>
<g fill="#fdfdd0"><ellipse cx="2796.7" cy="3675.3" rx="5" ry="5"/><ellipse cx="2833" cy="3784" rx="7.8" ry="7.8"/><ellipse cx="2848.5" cy="3809.9" rx="7.8" ry="7.8"/><ellipse cx="2807.1" cy="3820.2" rx="7.8" ry="7.8"/><ellipse cx="2910.6" cy="3815" rx="9.7" ry="9.7"/><ellipse cx="2928.7" cy="3825.4" rx="7.8" ry="7.8"/><ellipse cx="2706.2" cy="3892.7" rx="6.6" ry="6.6"/></g>
<path d="M2800 3673h0m-1 2h0m-1-3h0m0 4h0m-2 3h0m37 33h0m3 18h0m-86 18h0m60 19h0m30 20h0m-1-3h0m-4-4h0m0 5h0m-4-10h0m-1 11h0m-1 4h0m-1-2h0m-3-5h0m-1 2h0m-170-10h0m8 23h0m144 14h0m1 2h0m3 1h0m31-2h0m0-1h0m3-5h0m3-2h0m0 2h0m2 5h0m1 1h0m4-8h0m1 0h0m49 4h0m2-4h0m0 8h0m4-9h0m2 2h0m2 2h0m4 4h0m1 3h0m15 4h0m-1 2h0m-2-2h0m-1 12h0m-2-11h0m-1 12h0m-3-12h0m0 3h0m-2 8h0m-1-8h0m0 15h0m-3-19h0m0-3h0m-7 3h0m-6 3h0m-1 1h0m0 2h0m-19-6h0m-35-3h0m-27 15h0m-7-13h0m-6 4h0m-2-3h0m-1 1h0m0-4h0m-1 3h0m-3 8h0m-40 49h0m-61 21h0m1-8h0m2 10h0m1-3h0m3 4h0m1-7h0m2-4h0m15 6h0" stroke="#fdfdd0" stroke-width="14"/>
<path d="M2735 3675h0m46 99h0m-177-1h0m-35 3h0" stroke="#edf8b1" stroke-width="14"/>
<g fill="#c7e9b4"><ellipse cx="2584.5" cy="3752.9" rx="15.9" ry="10.5"/><ellipse cx="2729.5" cy="3680.5" rx="6.6" ry="6.6"/><ellipse cx="2698.4" cy="3784" rx="9.7" ry="9.7"/><ellipse cx="2750.2" cy="3778.8" rx="9.7" ry="9.7"/><ellipse cx="2667.3" cy="3742.6" rx="5.8" ry="5.8"/><ellipse cx="2791.6" cy="3848.7" rx="7.8" ry="7.8"/></g>
<path d="M2735 3676h0m-1-2h0m-3 12h0m0-10h0m-2-1h0m-3 6h0m-3-3h0m6 54h0m-61 4h0m-1 7h0m-2-2h0m-3-1h0m-82 2h0m-2 1h0m-2-1h0m-8 6h0m1 2h0m1 1h0m4 9h0m1 0h0m1-7h0m6-8h0m0 14h0m1-1h0m5 1h0m1-12h0m1 15h0m4 1h0m2-8h0m1 5h0m1-13h0m4 11h0m2-5h0m0 0h0m60-9h0m2 0h0m96 34h0m0 0h0m-4-4h0m-1 8h0m0 1h0m-1-8h0m-3 9h0m-1-2h0m-1-1h0m-2-6h0m-1 5h0m-4 4h0m0-5h0m-3-2h0m-12-3h0m-21 7h0m0-1h0m-2-1h0m-2 4h0m-3 3h0m-5-6h0m0-3h0m0 13h0m-2-1h0m-1-3h0m-2 5h0m-1-11h0m6 13h0m10-1h0m-44 54h0m114-5h0m7 10h0m4-6h0m2 6h0m1-7h0m1 1h0m1 5h0m2-8h0m1 1h0m0 12h0m4-6h0" stroke="#c7e9b4" stroke-width="14"/>
<g fill="#7fcdbb"><ellipse cx="2713.9" cy="3670.1" rx="5" ry="5"/><ellipse cx="2662.2" cy="3820.2" rx="7.8" ry="7.8"/></g>
<path d="M2710 3668h0m9 2h0m-6 3h0m-1 2h0m0-2h0m15 46h0m8 55h0m-76 40h0m65 22h0m-53-15h0m-1-3h0m-2-2h0m-1 4h0m-2 3h0m-2-5h0m-2 2h0m-2 5h0m-2-1h0" stroke="#7fcdbb" stroke-width="14"/>
<g fill="#41b6c4"><ellipse cx="2677.7" cy="3833.1" rx="13.6" ry="13.6"/><ellipse cx="2711.3" cy="3843.5" rx="9.7" ry="9.7"/><ellipse cx="2739.8" cy="3794.3" rx="7.8" ry="7.8"/><ellipse cx="2713.9" cy="3791.7" rx="7.8" ry="7.8"/><ellipse cx="2701" cy="3659.8" rx="5" ry="5"/></g>
<path d="M2697 3657h0m4 3h0m0-4h0m0-1h0m5 7h0m8 73h0m-26 5h0m-18-5h0m74 56h0m-25-1h0m0-5h0m-3 2h0m-1 3h0m-1-5h0m-4 2h0m-2 7h0m8 6h0m0-2h0m4-1h0m12-4h0m2-1h0m1 1h0m3 7h0m1 2h0m5-9h0m1 8h0m0-6h0m2 3h0m-33 39h0m-2-3h0m-1 5h0m-1-5h0m0-2h0m-5 6h0m-13-14h0m-1 9h0m-4-12h0m-3 8h0m0-10h0m-1 3h0m-2 12h0m-2-13h0m-1 6h0m-4-10h0m0 9h0m-1-7h0m-2 0h0m-1 14h0m-3-1h0m0 4h0m-4 0h0m0-4h0m1 9h0m5 1h0m2 1h0m7 2h0m2-4h0m5 7h0m15-1h0m5-5h0m1 8h0m4 3h0m0-9h0m0-4h0m2 14h0m8-8h0" stroke="#41b6c4" stroke-width="14"/>
<g fill="#1d91c0"><ellipse cx="2682.9" cy="3696" rx="21.7" ry="26.9"/></g>
<path d="M2689 3665h0m4 0h0m10 26h0m-3-19h0m-1 13h0m-5-10h0m-13-2h0m-4-1h0m-9 2h0m-2 2h0m-1 12h0m-5 6h0m3 16h0m1-9h0m2 13h0m5 5h0m23 0h0m6-3h0m5-5h0m1-9h0m3 24h0m-18-1h0m-3 2h0m-4-5h0m-9 4h0m-5-2h0" stroke="#1d91c0" stroke-width="14"/>
<g fill="#225ea8"><ellipse cx="2682.9" cy="3696" rx="18.1" ry="22.4"/><ellipse cx="2677.7" cy="3719.3" rx="6.6" ry="6.6"/></g>
<path d="M2701 3691h0m-1-8h0m-4-4h0m-7-6h0m-4-1h0m-12 4h0m-2 2h0m-5 14h0m-1-5h0m2 15h0m1 9h0m4 3h0m1 1h0m2 0h0m1 3h0m5-1h0m2 1h0m2 1h0m0 0h0m8-5h0m6-4h0m2-11h0m-13 21h0m-15 5h0m-2-4h0" stroke="#225ea8" stroke-width="14"/>
<g fill="#253494"><ellipse cx="2682.9" cy="3696" rx="14.5" ry="17.9"/><ellipse cx="2680.3" cy="3675.3" rx="9.7" ry="9.7"/></g>
<path d="M2676 3671h0m3-3h0m0-1h0m1 4h0m3 0h0m12 18h0m-1-4h0m-3-6h0m0-4h0m-2 4h0m-3-6h0m-3 5h0m-4 6h0m-2-4h0m0 1h0m0-9h0m0 5h0m-5 7h0m0-9h0m-2 13h0m-1-15h0m-7 21h0m5 2h0m2 6h0m4 10h0m4 3h0m10 0h0m6-8h0m0 3h0m5-13h0" stroke="#253494" stroke-width="14"/>
<g fill="#081d58"><ellipse cx="2682.9" cy="3696" rx="10.9" ry="13.5"/></g>
<path d="M2693 3691h0m-5-7h0m-6-1h0m-4 0h0m-6 12h0m0-4h0m1 13h0m6 4h0m7 1h0m2-3h0m6-7h0" stroke="#081d58" stroke-width="14"/>
<use href="#bgd4" x="3240.2" y="0"/>
<g fill="#fdfdd0"><ellipse cx="3110.9" cy="3790.7" rx="5" ry="5"/></g>
<path d="M3221 3605h0m-137 96h0m81-2h0m162 15h0m-5 18h0m-211 55h0m0 3h0m-4-4h0m-10 21h0m14-11h0m4-4h0m15 1h0m130 74h0m-7 10h0m-71 44h0m-10 4h0" stroke="#fdfdd0" stroke-width="14"/>
<g fill="#edf8b1"><ellipse cx="3279.6" cy="3847.1" rx="7.8" ry="7.8"/></g>
<path d="M3183 3735h0m10 15h0m-127 37h0m233 51h0m-21 1h0m-7 9h0m4-7h0m0 4h0m0 0h0m2 11h0m1-15h0m0 12h0m2 0h0m8-3h0" stroke="#edf8b1" stroke-width="14"/>
<g fill="#c7e9b4"><ellipse cx="3192.7" cy="3662.3" rx="6.6" ry="6.6"/><ellipse cx="3200.5" cy="3727" rx="5" ry="5"/><ellipse cx="3236.7" cy="3760.7" rx="6.6" ry="6.6"/><ellipse cx="3293.6" cy="3835.7" rx="5" ry="5"/></g>
<path d="M3263 3644h0m-78 21h0m4-2h0m1 0h0m0-2h0m0 2h0m7-5h0m2 9h0m4 64h0m0-8h0m-1 8h0m-1-3h0m-3-4h0m-21 37h0m54 2h0m1-1h0m0 2h0m2 1h0m6-9h0m1 3h0m2-3h0m9 10h0m89 13h0m-58 12h0m-111-17h0m125 64h0m-4 0h0m-3-1h0m-1 2h0m7 1h0m-101 55h0m26-2h0" stroke="#c7e9b4" stroke-width="14"/>
<g fill="#7fcdbb"><ellipse cx="3216" cy="3664.9" rx="5.8" ry="5.8"/><ellipse cx="3239.3" cy="3701.2" rx="5" ry="5"/></g>
<path d="M3326 3784h0" stroke="#7fcdbb" stroke-width="16"/>
<path d="M3211 3664h0m2-3h0m0 3h0m2 4h0m1-4h0m3-1h0m-13 31h0m29 3h0m3 4h0m0 1h0m1-2h0m2-2h0m-141 59h0m132 28h0m-19-14h0m-23 5h0m46 28h0m185-1h0m-112 25h0m-160 5h0m57 56h0" stroke="#7fcdbb" stroke-width="14"/>
<g fill="#41b6c4"><ellipse cx="3239.3" cy="3662.3" rx="6.6" ry="6.6"/><ellipse cx="3060.7" cy="3771" rx="5.8" ry="5.8"/></g>
<path d="M3236 3668h0m2-3h0m1-7h0m2 5h0m0 3h0m1 1h0m3-4h0m-166 74h0m-20 30h0m129 17h0m-123-13h0m-1 1h0m0-3h0m-3 0h0m-1 8h0m99 66h0" stroke="#41b6c4" stroke-width="14"/>
<path d="M3221 3787h0m-15-5h0" stroke="#41b6c4" stroke-width="8"/>
<path d="M3206 3792h0m17 6h0m111-2h0" stroke="#41b6c4" stroke-width="6"/>
<g fill="#1d91c0"><ellipse cx="3063.3" cy="3750.3" rx="10.5" ry="12"/><ellipse cx="3254.8" cy="3675.3" rx="5.8" ry="5.8"/><ellipse cx="3187.5" cy="3796.9" rx="5" ry="5"/><ellipse cx="3353.1" cy="3810.9" rx="5" ry="5"/></g>
<path d="M3255 3671h0m3-1h0m2 1h0m3-12h0m20 1h0m-25 17h0m-7 3h0m-1-2h0m-181 63h0m0-4h0m-3 5h0m-3-2h0m-4 0h0m-2 3h0m-4 13h0m2 3h0m0-5h0m2 1h0m0 6h0m1-2h0m2-15h0m3 15h0m0 4h0m7-3h0m2-12h0m2-1h0m98 63h0m13-10h0m0-4h0m1 6h0m1-5h0m3 0h0m161 17h0m2-6h0m2 3h0m2 0h0m0-3h0" stroke="#1d91c0" stroke-width="14"/>
<path d="M3169 3818h0" stroke="#225ea8" stroke-width="14"/>
<path d="M3199 3869h0" stroke="#225ea8" stroke-width="8"/>
<g fill="#253494"><ellipse cx="3179.7" cy="3847.1" rx="5.8" ry="5.8"/><ellipse cx="3291" cy="3672.7" rx="8.9" ry="6.6"/></g>
<path d="M3292 3666h0m0-1h0m1 3h0m5 3h0m0-1h0m1-2h0m1 3h0m-6 1h0m-12 3h0m138 161h0m-245 15h0m1-9h0m0 9h0m3-9h0m2 3h0m3 1h0" stroke="#253494" stroke-width="14"/>
<g fill="#081d58"><ellipse cx="3407.5" cy="3825.4" rx="15.1" ry="11.3"/><ellipse cx="3216" cy="3848.7" rx="10.5" ry="6.6"/></g>
<path d="M3406 3815h0m18 10h0m-4 11h0m0-19h0m-3 9h0m0 1h0m-4-11h0m-1 6h0m-1 1h0m-1 6h0m-2-5h0m0 14h0m-2-4h0m-2-16h0m0 4h0m-6-6h0m-1 15h0m-1 5h0m-1-3h0m-1-12h0m-2 1h0m0 0h0m-1-3h0m-194 4h0m7 24h0m0 0h0m1 1h0m1-2h0m1 3h0m2-2h0m9-1h0m3 3h0m6-3h0m0-1h0m1 4h0" stroke="#081d58" stroke-width="14"/>
<use href="#bgd4" x="3732.6" y="0"/>
<path d="M3674 3701h0m0 26h0m-36 49h0m59 116h0m-15 24h0" stroke="#fdfdd0" stroke-width="14"/>
<path d="M3784 3674h0m-219 111h0" stroke="#edf8b1" stroke-width="16"/>
<path d="M3647 3762h0m35 3h0m235 52h0" stroke="#c7e9b4" stroke-width="14"/>
<path d="M3796 3840h0" stroke="#7fcdbb" stroke-width="8"/>
<g fill="#41b6c4"><ellipse cx="3911.1" cy="3832.1" rx="5" ry="5"/></g>
<path d="M3664 3808h0m247 25h0m-2-1h0m0 3h0m-1-3h0m0-4h0" stroke="#41b6c4" stroke-width="14"/>
<path d="M3585 3730h0m-36 38h0m134 30h0m-39 38h0" stroke="#41b6c4" stroke-width="8"/>
<g fill="#1d91c0"><ellipse cx="3716.5" cy="3785" rx="5" ry="5"/></g>
<path d="M3823 3773h0m-107 15h0m0-7h0m-1 2h0m0 5h0m-2-3h0" stroke="#1d91c0" stroke-width="14"/>
<g fill="#225ea8"><ellipse cx="3712.9" cy="3840.9" rx="5.8" ry="5.8"/><ellipse cx="3830.4" cy="3814" rx="5" ry="5"/><ellipse cx="3849" cy="3802.1" rx="5" ry="5"/></g>
<path d="M3829 3813h0m1-3h0m1 1h0m0-2h0m2 5h0m12-16h0m1 6h0m1 0h0m2 1h0m0 7h0m2-6h0m-137 32h0m-41 9h0m23 4h0m13-10h0m0 3h0m1-1h0m2 2h0m1 2h0" stroke="#225ea8" stroke-width="14"/>
<path d="M3592 3753h0m134 23h0" stroke="#225ea8" stroke-width="8"/>
<g fill="#253494"><ellipse cx="3560.2" cy="3749.3" rx="11.3" ry="7.4"/></g>
<path d="M3552 3743h0m0 2h0m1 8h0m1-1h0m0 0h0m0-3h0m4-1h0m0 7h0m1 3h0m2-13h0m3 1h0m2 7h0m168 36h0" stroke="#253494" stroke-width="14"/>
<g fill="#081d58"><ellipse cx="3751.7" cy="3791.7" rx="13.6" ry="8.2"/><ellipse cx="3769.8" cy="3794.3" rx="5" ry="5"/></g>
<path d="M3767 3790h0m-8-4h0m-2-2h0m0 3h0m-2 4h0m-2-8h0m0 4h0m-3 4h0m-1-4h0m-2 0h0m-1-4h0m-1 2h0m-8 4h0m4 8h0m5 1h0m2 3h0m0-4h0m18 2h0m6-3h0m0-3h0m1 5h0" stroke="#081d58" stroke-width="14"/>
<path d="M3807 3779h0m-38-5h0" stroke="#081d58" stroke-width="8"/>
<path d="M3811 3788h0" stroke="#081d58" stroke-width="6"/>
</g>
<text x="142.9" y="929.8" font-size="14.9" text-anchor="middle" fill="#262626" stroke-width=".15" stroke="#262626">(0.22 - 0.59)</text>
<text x="389.1" y="929.8" font-size="14.9" text-anchor="middle" fill="#262626" stroke-width=".15" stroke="#262626">Infectious disease (471)</text>
<text x="635.3" y="929.8" font-size="14.9" text-anchor="middle" fill="#262626" stroke-width=".15" stroke="#262626">Neurology/psychiatry (458)</text>
<text x="881.5" y="929.8" font-size="14.9" text-anchor="middle" fill="#262626" stroke-width=".15" stroke="#262626">Cardiology (268)</text>
<text x="1127.7" y="929.8" font-size="14.9" text-anchor="middle" fill="#262626" stroke-width=".15" stroke="#262626">Endocrinology (194)</text>
<text x="1373.9" y="929.8" font-size="14.9" text-anchor="middle" fill="#262626" stroke-width=".15" stroke="#262626">Gastroenterology (178)</text>
<text x="1620.1" y="929.8" font-size="14.9" text-anchor="middle" fill="#262626" stroke-width=".15" stroke="#262626">Pulmonary (132)</text>
<text x="1866.3" y="929.8" font-size="14.9" text-anchor="middle" fill="#262626" stroke-width=".15" stroke="#262626">Oncology (129)</text>
<text x="142.9" y="1144.2" font-size="14.9" text-anchor="middle" fill="#262626" stroke-width=".15" stroke="#262626">(0.31 - 0.94)</text>
<text x="389.1" y="1144.2" font-size="14.9" text-anchor="middle" fill="#262626" stroke-width=".15" stroke="#262626">Blood (2999)</text>
<text x="635.3" y="1144.2" font-size="14.9" text-anchor="middle" fill="#262626" stroke-width=".15" stroke="#262626">Urine (1917)</text>
<text x="881.5" y="1144.2" font-size="14.9" text-anchor="middle" fill="#262626" stroke-width=".15" stroke="#262626">Saliva (1013)</text>
<text x="1127.7" y="1144.2" font-size="14.9" text-anchor="middle" fill="#262626" stroke-width=".15" stroke="#262626">Cerebrospinal fluid  (319)</text>
<text x="1373.9" y="1144.2" font-size="14.9" text-anchor="middle" fill="#262626" stroke-width=".15" stroke="#262626">Placenta (504)</text>
<text x="1620.1" y="1144.2" font-size="14.9" text-anchor="middle" fill="#262626" stroke-width=".15" stroke="#262626">Nutrient (264)</text>
<text x="1866.3" y="1144.2" font-size="14.9" text-anchor="middle" fill="#262626" stroke-width=".15" stroke="#262626">Cell signaling (6541)</text>
<text x="142.9" y="1358.5" font-size="14.9" text-anchor="middle" fill="#262626" stroke-width=".15" stroke="#262626">(0.26 - 0.87)</text>
<text x="389.1" y="1358.5" font-size="14.9" text-anchor="middle" fill="#262626" stroke-width=".15" stroke="#262626">Streptophyta (3569)</text>
<text x="635.3" y="1358.5" font-size="14.9" text-anchor="middle" fill="#262626" stroke-width=".15" stroke="#262626">Ascomycota (1031)</text>
<text x="881.5" y="1358.5" font-size="14.9" text-anchor="middle" fill="#262626" stroke-width=".15" stroke="#262626">Proteobacteria (467)</text>
<text x="1127.7" y="1358.5" font-size="14.9" text-anchor="middle" fill="#262626" stroke-width=".15" stroke="#262626">Actinobacteria (356)</text>
<text x="1373.9" y="1358.5" font-size="14.9" text-anchor="middle" fill="#262626" stroke-width=".15" stroke="#262626">Nematoda (208)</text>
<text x="1620.1" y="1358.5" font-size="14.9" text-anchor="middle" fill="#262626" stroke-width=".15" stroke="#262626">Arthropoda (160)</text>
<text x="1866.3" y="1358.5" font-size="14.9" text-anchor="middle" fill="#262626" stroke-width=".15" stroke="#262626">Cnidaria (128)</text>
<text x="142.9" y="1572.7" font-size="14.9" text-anchor="middle" fill="#262626" stroke-width=".15" stroke="#262626">(0.31 - 0.75)</text>
<text x="389.1" y="1572.7" font-size="14.9" text-anchor="middle" fill="#262626" stroke-width=".15" stroke="#262626">Lamiaceae (1565)</text>
<text x="635.3" y="1572.7" font-size="14.9" text-anchor="middle" fill="#262626" stroke-width=".15" stroke="#262626">Mentha canadensis (63)</text>
<text x="881.5" y="1572.7" font-size="14.9" text-anchor="middle" fill="#262626" stroke-width=".15" stroke="#262626">Salvia hispanica (43)</text>
<text x="1127.7" y="1572.7" font-size="14.9" text-anchor="middle" fill="#262626" stroke-width=".15" stroke="#262626">Thymus vulgaris (87)</text>
<text x="1373.9" y="1572.7" font-size="14.9" text-anchor="middle" fill="#262626" stroke-width=".15" stroke="#262626">Apiaceae (868)</text>
<text x="1620.1" y="1572.7" font-size="14.9" text-anchor="middle" fill="#262626" stroke-width=".15" stroke="#262626">Angelica sinensis (122)</text>
<text x="1866.3" y="1572.7" font-size="14.9" text-anchor="middle" fill="#262626" stroke-width=".15" stroke="#262626">Pastinaca sativa (62)</text>
<text x="142.9" y="1786.7" font-size="14.9" text-anchor="middle" fill="#262626" stroke-width=".15" stroke="#262626">(0.26 - 0.94)</text>
<text x="389.1" y="1786.7" font-size="14.9" text-anchor="middle" fill="#262626" stroke-width=".15" stroke="#262626">Fruits (1603)</text>
<text x="635.3" y="1786.7" font-size="14.9" text-anchor="middle" fill="#262626" stroke-width=".15" stroke="#262626">Vegetables (2275)</text>
<text x="881.5" y="1786.7" font-size="14.9" text-anchor="middle" fill="#262626" stroke-width=".15" stroke="#262626">Pulses (468)</text>
<text x="1127.7" y="1786.7" font-size="14.9" text-anchor="middle" fill="#262626" stroke-width=".15" stroke="#262626">Bovines (41766)</text>
<text x="1373.9" y="1786.7" font-size="14.9" text-anchor="middle" fill="#262626" stroke-width=".15" stroke="#262626">Spices (852)</text>
<text x="1620.1" y="1786.7" font-size="14.9" text-anchor="middle" fill="#262626" stroke-width=".15" stroke="#262626">Cereals (718)</text>
<text x="1866.3" y="1786.7" font-size="14.9" text-anchor="middle" fill="#262626" stroke-width=".15" stroke="#262626">Nuts (214)</text>
<text x="718.8" y="1763.7" font-size="7.6" text-anchor="end" fill="#262626" stroke="none">Lamiaceae</text>
<text x="965" y="1763.7" font-size="7.6" text-anchor="end" fill="#262626" stroke="none">Lamiaceae</text>
<text x="1211.2" y="1763.7" font-size="7.6" text-anchor="end" fill="#262626" stroke="none">Lamiaceae</text>
<text x="1703.6" y="1763.7" font-size="7.6" text-anchor="end" fill="#262626" stroke="none">Apiaceae</text>
<text x="1949.8" y="1763.7" font-size="7.6" text-anchor="end" fill="#262626" stroke="none">Apiaceae</text>
<text x="-1.5" y="915" font-size="32.5" font-weight="bold" fill="#000" stroke-width=".3" stroke="#000">d</text>
</g>
</svg>
</body></html>
